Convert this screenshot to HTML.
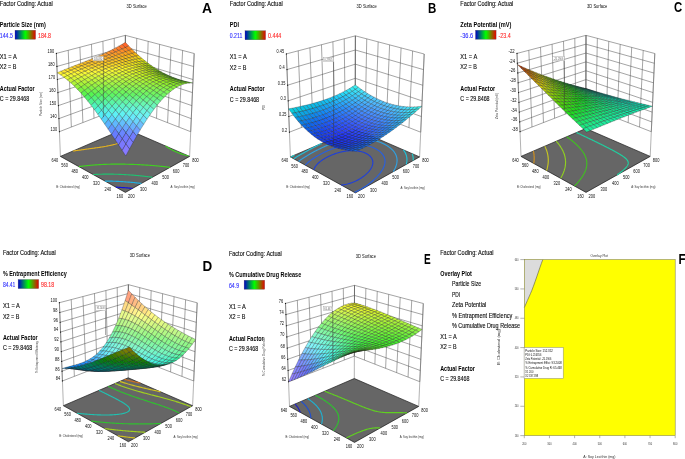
<!DOCTYPE html>
<html><head><meta charset="utf-8"><style>
html,body{margin:0;padding:0;background:#fff;width:685px;height:459px;overflow:hidden}
svg{display:block;font-family:"Liberation Sans",sans-serif;will-change:transform}
text{-webkit-font-smoothing:antialiased}
</style></head><body>
<svg xmlns="http://www.w3.org/2000/svg" width="685" height="459" viewBox="0 0 685 459" font-family="Liberation Sans, sans-serif">
<text x="-0.2" y="5.7" font-size="6.4" fill="#0c0c0c" stroke="#0c0c0c" stroke-width="0.12" textLength="52.9" lengthAdjust="spacingAndGlyphs">Factor Coding: Actual</text>
<text x="-0.2" y="26.8" font-size="6.4" font-weight="bold" textLength="46" lengthAdjust="spacingAndGlyphs">Particle Size (nm)</text>
<linearGradient id="cbA"><stop offset="0" stop-color="#0000c8"/><stop offset="0.5" stop-color="#00ff00"/><stop offset="1" stop-color="#e80000"/></linearGradient>
<rect x="15" y="30.2" width="20.6" height="9.1" fill="url(#cbA)" stroke="#555" stroke-width="0.3"/>
<text x="-0.2" y="37.6" font-size="6.4" fill="#3030ff" stroke="#3030ff" stroke-width="0.12" textLength="13" lengthAdjust="spacingAndGlyphs">144.5</text>
<text x="38" y="37.6" font-size="6.4" fill="#ff2a2a" stroke="#ff2a2a" stroke-width="0.12" textLength="13" lengthAdjust="spacingAndGlyphs">184.8</text>
<text x="-0.2" y="58.9" font-size="6.4" fill="#0c0c0c" stroke="#0c0c0c" stroke-width="0.12" textLength="16.9" lengthAdjust="spacingAndGlyphs">X1 = A</text>
<text x="-0.2" y="69.3" font-size="6.4" fill="#0c0c0c" stroke="#0c0c0c" stroke-width="0.12" textLength="16.5" lengthAdjust="spacingAndGlyphs">X2 = B</text>
<text x="-0.2" y="90.9" font-size="6.4" font-weight="bold" textLength="34.8" lengthAdjust="spacingAndGlyphs">Actual Factor</text>
<text x="-0.2" y="101" font-size="6.4" fill="#0c0c0c" stroke="#0c0c0c" stroke-width="0.12" textLength="29.3" lengthAdjust="spacingAndGlyphs">C = 29.8468</text>
<text x="126.6" y="7.9" font-size="4.6" fill="#0c0c0c" textLength="20.2" lengthAdjust="spacingAndGlyphs">3D Surface</text>
<path d="M59.44,131.67L56.4,53.4M190.7,131.69L194.2,53.5M71.37,127.01L68.22,50.31M178.96,127.07L182.62,50.45M82.88,122.53L79.91,47.25M167.57,122.61L171.09,47.4M94,118.21L91.47,44.23M156.52,118.29L159.6,44.37M104.76,114.04L102.9,41.23M145.8,114.11L148.16,41.35M115.17,110.02L114.21,38.28M135.38,110.06L136.76,38.35M125.25,106.13L125.4,35.35M125.25,106.13L125.4,35.35M59.44,131.67L125.25,106.13L190.7,131.69M58.93,118.62L125.27,94.34L191.29,118.66M58.43,105.58L125.3,82.54L191.87,105.63M57.92,92.53L125.32,70.74L192.45,92.6M57.41,79.49L125.35,58.94L193.03,79.56M56.91,66.44L125.37,47.15L193.62,66.53M56.4,53.4L125.4,35.35L194.2,53.5" stroke="#4a4a4a" stroke-width="0.5" fill="none"/>
<path d="M60.4,156.4L56.4,53.4M125.2,128.5L125.4,35.35M189.6,156.4L194.2,53.5" stroke="#666" stroke-width="0.5" fill="none"/>
<circle cx="59.44" cy="131.67" r="0.6" fill="#111"/>
<text x="57.14" y="131.07" font-size="5.0" text-anchor="end" fill="#0c0c0c" textLength="6.6" lengthAdjust="spacingAndGlyphs">130</text>
<circle cx="58.93" cy="118.62" r="0.6" fill="#111"/>
<text x="56.63" y="118.02" font-size="5.0" text-anchor="end" fill="#0c0c0c" textLength="6.6" lengthAdjust="spacingAndGlyphs">140</text>
<circle cx="58.43" cy="105.58" r="0.6" fill="#111"/>
<text x="56.13" y="104.98" font-size="5.0" text-anchor="end" fill="#0c0c0c" textLength="6.6" lengthAdjust="spacingAndGlyphs">150</text>
<circle cx="57.92" cy="92.53" r="0.6" fill="#111"/>
<text x="55.62" y="91.93" font-size="5.0" text-anchor="end" fill="#0c0c0c" textLength="6.6" lengthAdjust="spacingAndGlyphs">160</text>
<circle cx="57.41" cy="79.49" r="0.6" fill="#111"/>
<text x="55.11" y="78.89" font-size="5.0" text-anchor="end" fill="#0c0c0c" textLength="6.6" lengthAdjust="spacingAndGlyphs">170</text>
<circle cx="56.91" cy="66.44" r="0.6" fill="#111"/>
<text x="54.61" y="65.84" font-size="5.0" text-anchor="end" fill="#0c0c0c" textLength="6.6" lengthAdjust="spacingAndGlyphs">180</text>
<circle cx="56.4" cy="53.4" r="0.6" fill="#111"/>
<text x="54.1" y="52.8" font-size="5.0" text-anchor="end" fill="#0c0c0c" textLength="6.6" lengthAdjust="spacingAndGlyphs">190</text>
<text x="41.8" y="104" font-size="3.3" text-anchor="middle" fill="#444" textLength="24" lengthAdjust="spacingAndGlyphs" transform="rotate(-90 41.8 104)">Particle Size (nm)</text>
<polygon points="125.4,192.4 189.6,156.4 125.2,128.5 60.4,156.4" fill="#666" stroke="#1a1a1a" stroke-width="0.7" stroke-linejoin="round"/>
<polyline points="136.8,133.53 136.26,133.85 136.02,134 135.72,134.18 135.18,134.51 134.63,134.85 134.09,135.18 133.54,135.51 132.99,135.85 132.44,136.18 132.27,136.29 131.89,136.52 131.34,136.86 130.78,137.2 130.22,137.53 129.65,137.87 129.07,138.21 128.5,138.54 127.98,138.84 127.91,138.88 127.32,139.21 126.72,139.54 126.11,139.87 125.48,140.2 124.85,140.52 124.21,140.84 123.55,141.15 122.88,141.46 122.19,141.76 121.49,142.06 120.77,142.36 120.03,142.64 119.28,142.92 118.51,143.19 118.05,143.35 117.72,143.46 116.91,143.72 116.08,143.97 115.24,144.22 114.37,144.45 114.07,144.53 113.49,144.68 112.6,144.91 111.68,145.12 111.1,145.26 110.75,145.33 109.8,145.54 108.84,145.74 108.51,145.8 107.87,145.93 106.88,146.11 106.13,146.25 105.87,146.3 104.86,146.47 103.87,146.64 103.84,146.65 102.8,146.82 101.76,146.98 101.7,146.99 100.71,147.15 99.65,147.31 99.58,147.32 98.58,147.47 97.51,147.62 97.5,147.63 96.44,147.78 95.45,147.92 95.36,147.93 94.27,148.08 93.41,148.2 93.18,148.24 92.09,148.39 91.37,148.49 90.99,148.54 89.9,148.69 89.34,148.77 88.8,148.84 87.7,148.99 87.3,149.05 86.6,149.14 85.5,149.29 85.25,149.33 84.39,149.45 83.29,149.6 83.2,149.61 82.18,149.75 81.13,149.9 81.07,149.91 79.96,150.06 79.06,150.19 78.85,150.21 77.74,150.37 76.99,150.47 76.63,150.52 75.51,150.67 74.92,150.76 74.38,150.83 73.26,150.98 72.87,151.03" fill="none" stroke="#e0b020" stroke-width="1.15"/>
<polyline points="170.03,167.37 168.84,167.21 168.28,167.13 167.65,167.04 166.44,166.89 166.22,166.86 165.22,166.74 164.22,166.62 164,166.6 162.77,166.46 162.26,166.4 161.53,166.32 160.35,166.2 160.27,166.2 159.02,166.07 158.48,166.02 157.76,165.95 156.64,165.85 156.48,165.84 155.21,165.73 154.82,165.7 153.93,165.62 153.03,165.55 152.64,165.52 151.34,165.42 151.26,165.41 150.04,165.32 149.51,165.29 148.73,165.23 147.78,165.17 147.42,165.14 146.1,165.06 146.07,165.06 144.77,164.98 144.37,164.95 143.45,164.9 142.69,164.85 142.11,164.82 141.02,164.76 140.77,164.75 139.42,164.68 139.36,164.68 138.07,164.62 137.72,164.6 136.71,164.55 136.09,164.53 135.34,164.5 134.47,164.46 133.97,164.44 132.87,164.4 132.59,164.39 131.28,164.35 131.2,164.34 129.81,164.3 129.7,164.3 128.41,164.26 128.13,164.26 127,164.23 126.57,164.22 125.58,164.2 125.03,164.19 124.15,164.17 123.49,164.16 122.71,164.15 121.97,164.14 121.26,164.13 120.46,164.13 119.8,164.12 118.97,164.12 118.33,164.12 117.48,164.12 116.85,164.12 116.01,164.12 115.36,164.13 114.54,164.14 113.85,164.14 113.09,164.15 112.32,164.16 111.65,164.17 110.79,164.19 110.22,164.2 109.23,164.23 108.8,164.24 107.66,164.27 107.4,164.28 106.06,164.32 106,164.33 104.61,164.38 104.45,164.38 103.24,164.44 102.82,164.46 101.87,164.5 101.17,164.54 100.52,164.57 99.49,164.63 99.17,164.65 97.84,164.73 97.78,164.73 96.51,164.82 96.05,164.85 95.2,164.91 94.29,164.98 93.89,165.01 92.59,165.12 92.5,165.12 91.3,165.22 90.67,165.28 90.02,165.34 88.81,165.46 88.75,165.46 87.48,165.59 86.91,165.64 86.22,165.72 84.97,165.85 84.97,165.85 83.73,165.99 82.99,166.08 82.49,166.14 81.26,166.29 80.96,166.33 80.04,166.44 78.89,166.59 78.82,166.6" fill="none" stroke="#40d020" stroke-width="1.15"/>
<polyline points="188.53,155.94 187.86,155.78 186.88,155.54 185.93,155.28 185,155.02 184.99,155.02 184.06,154.75 183.15,154.47 182.26,154.18 181.39,153.89 180.54,153.59 179.69,153.28 178.9,152.98 178.87,152.97 178.05,152.65 177.26,152.33 176.47,152 175.7,151.66 174.94,151.32 174.2,150.98 173.47,150.62 173.32,150.55 172.75,150.27 172.04,149.91 171.34,149.55 170.66,149.18 169.99,148.81 169.34,148.43 168.69,148.05 168.06,147.67 168.06,147.66 167.44,147.28 166.83,146.88 166.24,146.49 165.66,146.08 165.46,145.94" fill="none" stroke="#40d020" stroke-width="1.15"/>
<polyline points="152.45,177.23 151.19,177.07 150.6,177 149.93,176.91 148.66,176.76 148.54,176.74 147.39,176.6 146.51,176.5 146.12,176.46 144.84,176.31 144.51,176.28 143.56,176.17 142.54,176.06 142.26,176.03 140.97,175.9 140.59,175.86 139.67,175.77 138.67,175.67 138.36,175.64 137.04,175.52 136.78,175.5 135.73,175.4 134.91,175.33 134.4,175.29 133.06,175.18 133.06,175.18 131.72,175.07 131.24,175.04 130.37,174.97 129.44,174.91 129.02,174.88 127.67,174.79 127.65,174.79 126.28,174.7 125.91,174.68 124.89,174.62 124.18,174.58 123.5,174.54 122.46,174.49 122.1,174.47 120.77,174.41 120.68,174.41 119.26,174.35 119.1,174.34 117.82,174.3 117.44,174.29 116.37,174.25 115.8,174.24 114.91,174.21 114.19,174.2 113.44,174.18 112.58,174.17 111.95,174.16 111,174.15 110.44,174.14 109.43,174.13 108.92,174.13 107.88,174.13 107.39,174.13 106.35,174.14 105.83,174.14 104.83,174.15 104.26,174.16 103.32,174.17 102.67,174.18 101.83,174.2 101.05,174.22 100.35,174.24 99.42,174.27 98.89,174.29 97.76,174.33 97.44,174.34 96.07,174.4 96,174.4 94.57,174.47 94.36,174.48 93.16,174.54" fill="none" stroke="#20c070" stroke-width="1.15"/>
<polyline points="141.47,183.39 140.96,183.33 140.16,183.24 138.93,183.1 138.84,183.09 137.51,182.95 136.93,182.89 136.18,182.81 134.96,182.69 134.85,182.67 133.5,182.54 133.01,182.5 132.15,182.42 131.08,182.32 130.8,182.3 129.43,182.18 129.19,182.16 128.06,182.07 127.31,182.01 126.68,181.96 125.46,181.87 125.29,181.86 123.9,181.76 123.64,181.74 122.49,181.67 121.84,181.63 121.07,181.58 120.06,181.52 119.65,181.5 118.3,181.43 118.21,181.43 116.76,181.36 116.56,181.35 115.3,181.3 114.85,181.28 113.83,181.24 113.15,181.22 112.34,181.19 111.47,181.17 110.84,181.15 109.82,181.13 109.33,181.12 108.18,181.1 107.8,181.1 106.55,181.08 106.25,181.08 104.95,181.07" fill="none" stroke="#20b0e0" stroke-width="1.15"/>
<polyline points="132.47,188.44 131.1,188.3 130.99,188.29 129.73,188.17 129.01,188.1 128.35,188.04 127.06,187.92 126.96,187.91 125.57,187.79 125.14,187.76 124.17,187.68 123.24,187.61 122.75,187.57 121.36,187.47 121.33,187.47 119.9,187.37 119.51,187.34 118.46,187.28 117.69,187.23 117.01,187.19 115.88,187.13" fill="none" stroke="#1010e0" stroke-width="1.15"/>
<text x="119.9" y="197.8" font-size="5.2" text-anchor="middle" fill="#0c0c0c" textLength="6.6" lengthAdjust="spacingAndGlyphs">160</text>
<text x="131.3" y="197.8" font-size="5.2" text-anchor="middle" fill="#0c0c0c" textLength="6.6" lengthAdjust="spacingAndGlyphs">200</text>
<text x="107.83" y="191.12" font-size="5.2" text-anchor="middle" fill="#0c0c0c" textLength="6.6" lengthAdjust="spacingAndGlyphs">240</text>
<text x="143.31" y="191.07" font-size="5.2" text-anchor="middle" fill="#0c0c0c" textLength="6.6" lengthAdjust="spacingAndGlyphs">300</text>
<text x="96.3" y="184.73" font-size="5.2" text-anchor="middle" fill="#0c0c0c" textLength="6.6" lengthAdjust="spacingAndGlyphs">320</text>
<text x="154.74" y="184.66" font-size="5.2" text-anchor="middle" fill="#0c0c0c" textLength="6.6" lengthAdjust="spacingAndGlyphs">400</text>
<text x="85.27" y="178.62" font-size="5.2" text-anchor="middle" fill="#0c0c0c" textLength="6.6" lengthAdjust="spacingAndGlyphs">400</text>
<text x="165.64" y="178.54" font-size="5.2" text-anchor="middle" fill="#0c0c0c" textLength="6.6" lengthAdjust="spacingAndGlyphs">500</text>
<text x="74.72" y="172.78" font-size="5.2" text-anchor="middle" fill="#0c0c0c" textLength="6.6" lengthAdjust="spacingAndGlyphs">480</text>
<text x="176.05" y="172.71" font-size="5.2" text-anchor="middle" fill="#0c0c0c" textLength="6.6" lengthAdjust="spacingAndGlyphs">600</text>
<text x="64.6" y="167.17" font-size="5.2" text-anchor="middle" fill="#0c0c0c" textLength="6.6" lengthAdjust="spacingAndGlyphs">560</text>
<text x="185.99" y="167.13" font-size="5.2" text-anchor="middle" fill="#0c0c0c" textLength="6.6" lengthAdjust="spacingAndGlyphs">700</text>
<text x="54.9" y="161.8" font-size="5.2" text-anchor="middle" fill="#0c0c0c" textLength="6.6" lengthAdjust="spacingAndGlyphs">640</text>
<text x="195.5" y="161.8" font-size="5.2" text-anchor="middle" fill="#0c0c0c" textLength="6.6" lengthAdjust="spacingAndGlyphs">800</text>
<text x="68.2" y="187.8" font-size="3.3" text-anchor="middle" fill="#333" textLength="23.7" lengthAdjust="spacingAndGlyphs">B: Cholesterol (mg)</text>
<text x="182.7" y="188.3" font-size="3.3" text-anchor="middle" fill="#333" textLength="24.3" lengthAdjust="spacingAndGlyphs">A: Soy lecithin (mg)</text>
<polygon points="125.43,47.5 128.73,45.9 125.38,42.34 122.08,44.3" fill="#ff6529" stroke="#222" stroke-width="0.4" stroke-opacity="0.7"/>
<polygon points="122.13,49.05 125.43,47.5 122.08,44.3 118.77,46.17" fill="#ff712b" stroke="#222" stroke-width="0.4" stroke-opacity="0.7"/>
<polygon points="128.77,50.54 132.05,49.27 128.73,45.9 125.43,47.5" fill="#ff7f21" stroke="#222" stroke-width="0.4" stroke-opacity="0.7"/>
<polygon points="118.82,50.56 122.13,49.05 118.77,46.17 115.46,47.95" fill="#ff7c2c" stroke="#222" stroke-width="0.4" stroke-opacity="0.7"/>
<polygon points="125.48,51.81 128.77,50.54 125.43,47.5 122.13,49.05" fill="#ff8723" stroke="#222" stroke-width="0.4" stroke-opacity="0.7"/>
<polygon points="132.1,53.44 135.36,52.47 132.05,49.27 128.77,50.54" fill="#fb9b1a" stroke="#222" stroke-width="0.4" stroke-opacity="0.7"/>
<polygon points="115.51,52.04 118.82,50.56 115.46,47.95 112.13,49.67" fill="#ff852d" stroke="#222" stroke-width="0.4" stroke-opacity="0.7"/>
<polygon points="122.18,53.08 125.48,51.81 122.13,49.05 118.82,50.56" fill="#ff8e25" stroke="#222" stroke-width="0.4" stroke-opacity="0.7"/>
<polygon points="128.82,54.45 132.1,53.44 128.77,50.54 125.48,51.81" fill="#fda01c" stroke="#222" stroke-width="0.4" stroke-opacity="0.7"/>
<polygon points="135.42,56.2 138.67,55.5 135.36,52.47 132.1,53.44" fill="#f5b513" stroke="#222" stroke-width="0.4" stroke-opacity="0.7"/>
<polygon points="112.18,53.49 115.51,52.04 112.13,49.67 108.8,51.31" fill="#ff8d2d" stroke="#222" stroke-width="0.4" stroke-opacity="0.7"/>
<polygon points="118.87,54.34 122.18,53.08 118.82,50.56 115.51,52.04" fill="#ff9626" stroke="#222" stroke-width="0.4" stroke-opacity="0.7"/>
<polygon points="125.53,55.49 128.82,54.45 125.48,51.81 122.18,53.08" fill="#ffa51e" stroke="#222" stroke-width="0.4" stroke-opacity="0.7"/>
<polygon points="132.16,56.97 135.42,56.2 132.1,53.44 128.82,54.45" fill="#f8b616" stroke="#222" stroke-width="0.4" stroke-opacity="0.7"/>
<polygon points="138.74,58.81 141.96,58.36 138.67,55.5 135.42,56.2" fill="#efd013" stroke="#222" stroke-width="0.4" stroke-opacity="0.7"/>
<polygon points="108.84,54.91 112.18,53.49 108.8,51.31 105.46,52.9" fill="#ff952c" stroke="#222" stroke-width="0.4" stroke-opacity="0.7"/>
<polygon points="115.54,55.61 118.87,54.34 115.51,52.04 112.18,53.49" fill="#ff9c26" stroke="#222" stroke-width="0.4" stroke-opacity="0.7"/>
<polygon points="122.23,56.56 125.53,55.49 122.18,53.08 118.87,54.34" fill="#ffa91f" stroke="#222" stroke-width="0.4" stroke-opacity="0.7"/>
<polygon points="128.88,57.81 132.16,56.97 128.82,54.45 125.53,55.49" fill="#fab718" stroke="#222" stroke-width="0.4" stroke-opacity="0.7"/>
<polygon points="135.49,59.37 138.74,58.81 135.42,56.2 132.16,56.97" fill="#f2cc14" stroke="#222" stroke-width="0.4" stroke-opacity="0.7"/>
<polygon points="142.06,61.29 145.26,61.06 141.96,58.36 138.74,58.81" fill="#e6e413" stroke="#222" stroke-width="0.4" stroke-opacity="0.7"/>
<polygon points="105.48,56.31 108.84,54.91 105.46,52.9 102.11,54.43" fill="#ff9c2b" stroke="#222" stroke-width="0.4" stroke-opacity="0.7"/>
<polygon points="112.21,56.89 115.54,55.61 112.18,53.49 108.84,54.91" fill="#ffa327" stroke="#222" stroke-width="0.4" stroke-opacity="0.7"/>
<polygon points="118.91,57.68 122.23,56.56 118.87,54.34 115.54,55.61" fill="#ffad21" stroke="#222" stroke-width="0.4" stroke-opacity="0.7"/>
<polygon points="125.58,58.71 128.88,57.81 125.53,55.49 122.23,56.56" fill="#fcb91a" stroke="#222" stroke-width="0.4" stroke-opacity="0.7"/>
<polygon points="132.22,60.03 135.49,59.37 132.16,56.97 128.88,57.81" fill="#f5cb16" stroke="#222" stroke-width="0.4" stroke-opacity="0.7"/>
<polygon points="138.83,61.66 142.06,61.29 138.74,58.81 135.49,59.37" fill="#ede215" stroke="#222" stroke-width="0.4" stroke-opacity="0.7"/>
<polygon points="145.38,63.63 148.56,63.59 145.26,61.06 142.06,61.29" fill="#c4dd0e" stroke="#222" stroke-width="0.4" stroke-opacity="0.7"/>
<polygon points="102.12,57.69 105.48,56.31 102.11,54.43 98.74,55.92" fill="#ffa32a" stroke="#222" stroke-width="0.4" stroke-opacity="0.7"/>
<polygon points="108.86,58.17 112.21,56.89 108.84,54.91 105.48,56.31" fill="#ffa927" stroke="#222" stroke-width="0.4" stroke-opacity="0.7"/>
<polygon points="115.57,58.83 118.91,57.68 115.54,55.61 112.21,56.89" fill="#ffb122" stroke="#222" stroke-width="0.4" stroke-opacity="0.7"/>
<polygon points="122.27,59.69 125.58,58.71 122.23,56.56 118.91,57.68" fill="#fdbc1c" stroke="#222" stroke-width="0.4" stroke-opacity="0.7"/>
<polygon points="128.94,60.79 132.22,60.03 128.88,57.81 125.58,58.71" fill="#f8ca18" stroke="#222" stroke-width="0.4" stroke-opacity="0.7"/>
<polygon points="135.57,62.16 138.83,61.66 135.49,59.37 132.22,60.03" fill="#f1dd16" stroke="#222" stroke-width="0.4" stroke-opacity="0.7"/>
<polygon points="142.16,63.84 145.38,63.63 142.06,61.29 138.83,61.66" fill="#d7e311" stroke="#222" stroke-width="0.4" stroke-opacity="0.7"/>
<polygon points="148.71,65.83 151.87,65.96 148.56,63.59 145.38,63.63" fill="#a7d509" stroke="#222" stroke-width="0.4" stroke-opacity="0.7"/>
<polygon points="98.74,59.07 102.12,57.69 98.74,55.92 95.36,57.37" fill="#ffaa2a" stroke="#222" stroke-width="0.4" stroke-opacity="0.7"/>
<polygon points="105.49,59.47 108.86,58.17 105.48,56.31 102.12,57.69" fill="#ffae27" stroke="#222" stroke-width="0.4" stroke-opacity="0.7"/>
<polygon points="112.23,60.02 115.57,58.83 112.21,56.89 108.86,58.17" fill="#ffb523" stroke="#222" stroke-width="0.4" stroke-opacity="0.7"/>
<polygon points="118.94,60.74 122.27,59.69 118.91,57.68 115.57,58.83" fill="#ffbf1e" stroke="#222" stroke-width="0.4" stroke-opacity="0.7"/>
<polygon points="125.63,61.66 128.94,60.79 125.58,58.71 122.27,59.69" fill="#facb1a" stroke="#222" stroke-width="0.4" stroke-opacity="0.7"/>
<polygon points="132.29,62.81 135.57,62.16 132.22,60.03 128.94,60.79" fill="#f4db18" stroke="#222" stroke-width="0.4" stroke-opacity="0.7"/>
<polygon points="138.92,64.21 142.16,63.84 138.83,61.66 135.57,62.16" fill="#e7e815" stroke="#222" stroke-width="0.4" stroke-opacity="0.7"/>
<polygon points="145.5,65.91 148.71,65.83 145.38,63.63 142.16,63.84" fill="#bddc0d" stroke="#222" stroke-width="0.4" stroke-opacity="0.7"/>
<polygon points="152.04,67.91 155.19,68.18 151.87,65.96 148.71,65.83" fill="#8ecf06" stroke="#222" stroke-width="0.4" stroke-opacity="0.7"/>
<polygon points="95.34,60.43 98.74,59.07 95.36,57.37 91.97,58.78" fill="#ffb029" stroke="#222" stroke-width="0.4" stroke-opacity="0.7"/>
<polygon points="102.11,60.79 105.49,59.47 102.12,57.69 98.74,59.07" fill="#ffb427" stroke="#222" stroke-width="0.4" stroke-opacity="0.7"/>
<polygon points="108.87,61.26 112.23,60.02 108.86,58.17 105.49,59.47" fill="#ffba24" stroke="#222" stroke-width="0.4" stroke-opacity="0.7"/>
<polygon points="115.6,61.86 118.94,60.74 115.57,58.83 112.23,60.02" fill="#ffc220" stroke="#222" stroke-width="0.4" stroke-opacity="0.7"/>
<polygon points="122.31,62.63 125.63,61.66 122.27,59.69 118.94,60.74" fill="#fdcd1d" stroke="#222" stroke-width="0.4" stroke-opacity="0.7"/>
<polygon points="129,63.58 132.29,62.81 128.94,60.79 125.63,61.66" fill="#f8da1a" stroke="#222" stroke-width="0.4" stroke-opacity="0.7"/>
<polygon points="135.65,64.75 138.92,64.21 135.57,62.16 132.29,62.81" fill="#f1ea18" stroke="#222" stroke-width="0.4" stroke-opacity="0.7"/>
<polygon points="142.27,66.18 145.5,65.91 142.16,63.84 138.92,64.21" fill="#d0e311" stroke="#222" stroke-width="0.4" stroke-opacity="0.7"/>
<polygon points="148.86,67.87 152.04,67.91 148.71,65.83 145.5,65.91" fill="#a7d70a" stroke="#222" stroke-width="0.4" stroke-opacity="0.7"/>
<polygon points="155.39,69.86 158.52,70.25 155.19,68.18 152.04,67.91" fill="#79ca04" stroke="#222" stroke-width="0.4" stroke-opacity="0.7"/>
<polygon points="91.94,61.79 95.34,60.43 91.97,58.78 88.56,60.17" fill="#ffb528" stroke="#222" stroke-width="0.4" stroke-opacity="0.7"/>
<polygon points="98.72,62.12 102.11,60.79 98.74,59.07 95.34,60.43" fill="#ffb927" stroke="#222" stroke-width="0.4" stroke-opacity="0.7"/>
<polygon points="105.49,62.53 108.87,61.26 105.49,59.47 102.11,60.79" fill="#ffbf25" stroke="#222" stroke-width="0.4" stroke-opacity="0.7"/>
<polygon points="112.24,63.05 115.6,61.86 112.23,60.02 108.87,61.26" fill="#ffc622" stroke="#222" stroke-width="0.4" stroke-opacity="0.7"/>
<polygon points="118.97,63.69 122.31,62.63 118.94,60.74 115.6,61.86" fill="#ffd020" stroke="#222" stroke-width="0.4" stroke-opacity="0.7"/>
<polygon points="125.68,64.48 129,63.58 125.63,61.66 122.31,62.63" fill="#fbdb1d" stroke="#222" stroke-width="0.4" stroke-opacity="0.7"/>
<polygon points="132.37,65.45 135.65,64.75 132.29,62.81 129,63.58" fill="#f5e81b" stroke="#222" stroke-width="0.4" stroke-opacity="0.7"/>
<polygon points="139.02,66.64 142.27,66.18 138.92,64.21 135.65,64.75" fill="#e0e916" stroke="#222" stroke-width="0.4" stroke-opacity="0.7"/>
<polygon points="145.64,68.06 148.86,67.87 145.5,65.91 142.27,66.18" fill="#bcdf0e" stroke="#222" stroke-width="0.4" stroke-opacity="0.7"/>
<polygon points="152.22,69.73 155.39,69.86 152.04,67.91 148.86,67.87" fill="#93d308" stroke="#222" stroke-width="0.4" stroke-opacity="0.7"/>
<polygon points="158.75,71.69 161.87,72.16 158.52,70.25 155.39,69.86" fill="#68c603" stroke="#222" stroke-width="0.4" stroke-opacity="0.7"/>
<polygon points="88.51,63.16 91.94,61.79 88.56,60.17 85.14,61.54" fill="#ffbb27" stroke="#222" stroke-width="0.4" stroke-opacity="0.7"/>
<polygon points="95.32,63.47 98.72,62.12 95.34,60.43 91.94,61.79" fill="#ffbf27" stroke="#222" stroke-width="0.4" stroke-opacity="0.7"/>
<polygon points="102.1,63.85 105.49,62.53 102.11,60.79 98.72,62.12" fill="#ffc426" stroke="#222" stroke-width="0.4" stroke-opacity="0.7"/>
<polygon points="108.87,64.31 112.24,63.05 108.87,61.26 105.49,62.53" fill="#ffca24" stroke="#222" stroke-width="0.4" stroke-opacity="0.7"/>
<polygon points="115.62,64.85 118.97,63.69 115.6,61.86 112.24,63.05" fill="#ffd323" stroke="#222" stroke-width="0.4" stroke-opacity="0.7"/>
<polygon points="122.35,65.51 125.68,64.48 122.31,62.63 118.97,63.69" fill="#fdde20" stroke="#222" stroke-width="0.4" stroke-opacity="0.7"/>
<polygon points="129.06,66.31 132.37,65.45 129,63.58 125.68,64.48" fill="#f9e91e" stroke="#222" stroke-width="0.4" stroke-opacity="0.7"/>
<polygon points="135.74,67.29 139.02,66.64 135.65,64.75 132.37,65.45" fill="#edef1a" stroke="#222" stroke-width="0.4" stroke-opacity="0.7"/>
<polygon points="142.39,68.46 145.64,68.06 142.27,66.18 139.02,66.64" fill="#cee613" stroke="#222" stroke-width="0.4" stroke-opacity="0.7"/>
<polygon points="149.01,69.86 152.22,69.73 148.86,67.87 145.64,68.06" fill="#abdb0c" stroke="#222" stroke-width="0.4" stroke-opacity="0.7"/>
<polygon points="155.59,71.5 158.75,71.69 155.39,69.86 152.22,69.73" fill="#83d006" stroke="#222" stroke-width="0.4" stroke-opacity="0.7"/>
<polygon points="162.13,73.39 165.24,73.92 161.87,72.16 158.75,71.69" fill="#5bc405" stroke="#222" stroke-width="0.4" stroke-opacity="0.7"/>
<polygon points="85.07,64.53 88.51,63.16 85.14,61.54 81.7,62.9" fill="#ffc027" stroke="#222" stroke-width="0.4" stroke-opacity="0.7"/>
<polygon points="91.9,64.85 95.32,63.47 91.94,61.79 88.51,63.16" fill="#ffc427" stroke="#222" stroke-width="0.4" stroke-opacity="0.7"/>
<polygon points="98.7,65.22 102.1,63.85 98.72,62.12 95.32,63.47" fill="#ffc927" stroke="#222" stroke-width="0.4" stroke-opacity="0.7"/>
<polygon points="105.49,65.64 108.87,64.31 105.49,62.53 102.1,63.85" fill="#ffd027" stroke="#222" stroke-width="0.4" stroke-opacity="0.7"/>
<polygon points="112.25,66.11 115.62,64.85 112.24,63.05 108.87,64.31" fill="#ffd826" stroke="#222" stroke-width="0.4" stroke-opacity="0.7"/>
<polygon points="119,66.67 122.35,65.51 118.97,63.69 115.62,64.85" fill="#ffe124" stroke="#222" stroke-width="0.4" stroke-opacity="0.7"/>
<polygon points="125.73,67.33 129.06,66.31 125.68,64.48 122.35,65.51" fill="#fdeb22" stroke="#222" stroke-width="0.4" stroke-opacity="0.7"/>
<polygon points="132.44,68.12 135.74,67.29 132.37,65.45 129.06,66.31" fill="#f6f41f" stroke="#222" stroke-width="0.4" stroke-opacity="0.7"/>
<polygon points="139.12,69.08 142.39,68.46 139.02,66.64 135.74,67.29" fill="#ddec18" stroke="#222" stroke-width="0.4" stroke-opacity="0.7"/>
<polygon points="145.77,70.23 149.01,69.86 145.64,68.06 142.39,68.46" fill="#bee311" stroke="#222" stroke-width="0.4" stroke-opacity="0.7"/>
<polygon points="152.39,71.58 155.59,71.5 152.22,69.73 149.01,69.86" fill="#9cd90a" stroke="#222" stroke-width="0.4" stroke-opacity="0.7"/>
<polygon points="158.98,73.16 162.13,73.39 158.75,71.69 155.59,71.5" fill="#76cd04" stroke="#222" stroke-width="0.4" stroke-opacity="0.7"/>
<polygon points="165.52,74.97 168.62,75.54 165.24,73.92 162.13,73.39" fill="#51c306" stroke="#222" stroke-width="0.4" stroke-opacity="0.7"/>
<polygon points="81.62,65.92 85.07,64.53 81.7,62.9 78.24,64.26" fill="#ffc627" stroke="#222" stroke-width="0.4" stroke-opacity="0.7"/>
<polygon points="88.46,66.26 91.9,64.85 88.51,63.16 85.07,64.53" fill="#ffca28" stroke="#222" stroke-width="0.4" stroke-opacity="0.7"/>
<polygon points="95.28,66.64 98.7,65.22 95.32,63.47 91.9,64.85" fill="#ffd029" stroke="#222" stroke-width="0.4" stroke-opacity="0.7"/>
<polygon points="102.08,67.03 105.49,65.64 102.1,63.85 98.7,65.22" fill="#ffd629" stroke="#222" stroke-width="0.4" stroke-opacity="0.7"/>
<polygon points="108.87,67.46 112.25,66.11 108.87,64.31 105.49,65.64" fill="#ffdd29" stroke="#222" stroke-width="0.4" stroke-opacity="0.7"/>
<polygon points="115.64,67.94 119,66.67 115.62,64.85 112.25,66.11" fill="#ffe528" stroke="#222" stroke-width="0.4" stroke-opacity="0.7"/>
<polygon points="122.39,68.49 125.73,67.33 122.35,65.51 119,66.67" fill="#ffef26" stroke="#222" stroke-width="0.4" stroke-opacity="0.7"/>
<polygon points="129.12,69.14 132.44,68.12 129.06,66.31 125.73,67.33" fill="#fbf824" stroke="#222" stroke-width="0.4" stroke-opacity="0.7"/>
<polygon points="135.82,69.92 139.12,69.08 135.74,67.29 132.44,68.12" fill="#e7f21d" stroke="#222" stroke-width="0.4" stroke-opacity="0.7"/>
<polygon points="142.51,70.84 145.77,70.23 142.39,68.46 139.12,69.08" fill="#ceea16" stroke="#222" stroke-width="0.4" stroke-opacity="0.7"/>
<polygon points="149.16,71.94 152.39,71.58 149.01,69.86 145.77,70.23" fill="#b1e10f" stroke="#222" stroke-width="0.4" stroke-opacity="0.7"/>
<polygon points="155.79,73.24 158.98,73.16 155.59,71.5 152.39,71.58" fill="#90d709" stroke="#222" stroke-width="0.4" stroke-opacity="0.7"/>
<polygon points="162.38,74.73 165.52,74.97 162.13,73.39 158.98,73.16" fill="#6ccc04" stroke="#222" stroke-width="0.4" stroke-opacity="0.7"/>
<polygon points="168.93,76.44 172.02,77.02 168.62,75.54 165.52,74.97" fill="#4ac207" stroke="#222" stroke-width="0.4" stroke-opacity="0.7"/>
<polygon points="78.15,67.32 81.62,65.92 78.24,64.26 74.77,65.62" fill="#ffcb27" stroke="#222" stroke-width="0.4" stroke-opacity="0.7"/>
<polygon points="85.01,67.7 88.46,66.26 85.07,64.53 81.62,65.92" fill="#ffd129" stroke="#222" stroke-width="0.4" stroke-opacity="0.7"/>
<polygon points="91.85,68.1 95.28,66.64 91.9,64.85 88.46,66.26" fill="#ffd72b" stroke="#222" stroke-width="0.4" stroke-opacity="0.7"/>
<polygon points="98.67,68.5 102.08,67.03 98.7,65.22 95.28,66.64" fill="#ffdd2c" stroke="#222" stroke-width="0.4" stroke-opacity="0.7"/>
<polygon points="105.47,68.91 108.87,67.46 105.49,65.64 102.08,67.03" fill="#ffe32c" stroke="#222" stroke-width="0.4" stroke-opacity="0.7"/>
<polygon points="112.26,69.34 115.64,67.94 112.25,66.11 108.87,67.46" fill="#ffeb2c" stroke="#222" stroke-width="0.4" stroke-opacity="0.7"/>
<polygon points="119.03,69.8 122.39,68.49 119,66.67 115.64,67.94" fill="#fff32b" stroke="#222" stroke-width="0.4" stroke-opacity="0.7"/>
<polygon points="125.78,70.33 129.12,69.14 125.73,67.33 122.39,68.49" fill="#fdfa28" stroke="#222" stroke-width="0.4" stroke-opacity="0.7"/>
<polygon points="132.51,70.95 135.82,69.92 132.44,68.12 129.12,69.14" fill="#edf723" stroke="#222" stroke-width="0.4" stroke-opacity="0.7"/>
<polygon points="139.22,71.69 142.51,70.84 139.12,69.08 135.82,69.92" fill="#d9f11c" stroke="#222" stroke-width="0.4" stroke-opacity="0.7"/>
<polygon points="145.9,72.57 149.16,71.94 145.77,70.23 142.51,70.84" fill="#c1e915" stroke="#222" stroke-width="0.4" stroke-opacity="0.7"/>
<polygon points="152.56,73.6 155.79,73.24 152.39,71.58 149.16,71.94" fill="#a5e00e" stroke="#222" stroke-width="0.4" stroke-opacity="0.7"/>
<polygon points="159.19,74.82 162.38,74.73 158.98,73.16 155.79,73.24" fill="#85d608" stroke="#222" stroke-width="0.4" stroke-opacity="0.7"/>
<polygon points="165.79,76.21 168.93,76.44 165.52,74.97 162.38,74.73" fill="#65cb05" stroke="#222" stroke-width="0.4" stroke-opacity="0.7"/>
<polygon points="172.36,77.79 175.44,78.35 172.02,77.02 168.93,76.44" fill="#45c208" stroke="#222" stroke-width="0.4" stroke-opacity="0.7"/>
<polygon points="74.66,68.76 78.15,67.32 74.77,65.62 71.28,67" fill="#ffd229" stroke="#222" stroke-width="0.4" stroke-opacity="0.7"/>
<polygon points="81.54,69.18 85.01,67.7 81.62,65.92 78.15,67.32" fill="#ffd82b" stroke="#222" stroke-width="0.4" stroke-opacity="0.7"/>
<polygon points="88.4,69.61 91.85,68.1 88.46,66.26 85.01,67.7" fill="#ffde2d" stroke="#222" stroke-width="0.4" stroke-opacity="0.7"/>
<polygon points="95.24,70.04 98.67,68.5 95.28,66.64 91.85,68.1" fill="#ffe52f" stroke="#222" stroke-width="0.4" stroke-opacity="0.7"/>
<polygon points="102.06,70.45 105.47,68.91 102.08,67.03 98.67,68.5" fill="#ffeb30" stroke="#222" stroke-width="0.4" stroke-opacity="0.7"/>
<polygon points="108.87,70.85 112.26,69.34 108.87,67.46 105.47,68.91" fill="#fff230" stroke="#222" stroke-width="0.4" stroke-opacity="0.7"/>
<polygon points="115.65,71.26 119.03,69.8 115.64,67.94 112.26,69.34" fill="#fff92f" stroke="#222" stroke-width="0.4" stroke-opacity="0.7"/>
<polygon points="122.42,71.7 125.78,70.33 122.39,68.49 119.03,69.8" fill="#f9fa2c" stroke="#222" stroke-width="0.4" stroke-opacity="0.7"/>
<polygon points="129.18,72.19 132.51,70.95 129.12,69.14 125.78,70.33" fill="#eff928" stroke="#222" stroke-width="0.4" stroke-opacity="0.7"/>
<polygon points="135.91,72.77 139.22,71.69 135.82,69.92 132.51,70.95" fill="#e0f622" stroke="#222" stroke-width="0.4" stroke-opacity="0.7"/>
<polygon points="142.62,73.45 145.9,72.57 142.51,70.84 139.22,71.69" fill="#cdf01c" stroke="#222" stroke-width="0.4" stroke-opacity="0.7"/>
<polygon points="149.31,74.26 152.56,73.6 149.16,71.94 145.9,72.57" fill="#b6e915" stroke="#222" stroke-width="0.4" stroke-opacity="0.7"/>
<polygon points="155.98,75.21 159.19,74.82 155.79,73.24 152.56,73.6" fill="#9be00e" stroke="#222" stroke-width="0.4" stroke-opacity="0.7"/>
<polygon points="162.62,76.33 165.79,76.21 162.38,74.73 159.19,74.82" fill="#7dd607" stroke="#222" stroke-width="0.4" stroke-opacity="0.7"/>
<polygon points="169.23,77.61 172.36,77.79 168.93,76.44 165.79,76.21" fill="#60cc07" stroke="#222" stroke-width="0.4" stroke-opacity="0.7"/>
<polygon points="175.81,79.04 178.89,79.55 175.44,78.35 172.36,77.79" fill="#42c309" stroke="#222" stroke-width="0.4" stroke-opacity="0.7"/>
<polygon points="71.16,70.22 74.66,68.76 71.28,67 67.77,68.39" fill="#ffd82a" stroke="#222" stroke-width="0.4" stroke-opacity="0.7"/>
<polygon points="78.06,70.69 81.54,69.18 78.15,67.32 74.66,68.76" fill="#ffdf2c" stroke="#222" stroke-width="0.4" stroke-opacity="0.7"/>
<polygon points="84.94,71.18 88.4,69.61 85.01,67.7 81.54,69.18" fill="#ffe62f" stroke="#222" stroke-width="0.4" stroke-opacity="0.7"/>
<polygon points="91.8,71.65 95.24,70.04 91.85,68.1 88.4,69.61" fill="#ffed31" stroke="#222" stroke-width="0.4" stroke-opacity="0.7"/>
<polygon points="98.64,72.08 102.06,70.45 98.67,68.5 95.24,70.04" fill="#fff333" stroke="#222" stroke-width="0.4" stroke-opacity="0.7"/>
<polygon points="105.46,72.48 108.87,70.85 105.47,68.91 102.06,70.45" fill="#fffa34" stroke="#222" stroke-width="0.4" stroke-opacity="0.7"/>
<polygon points="112.26,72.86 115.65,71.26 112.26,69.34 108.87,70.85" fill="#f9fa33" stroke="#222" stroke-width="0.4" stroke-opacity="0.7"/>
<polygon points="119.05,73.23 122.42,71.7 119.03,69.8 115.65,71.26" fill="#f2fa30" stroke="#222" stroke-width="0.4" stroke-opacity="0.7"/>
<polygon points="125.83,73.63 129.18,72.19 125.78,70.33 122.42,71.7" fill="#eaf92d" stroke="#222" stroke-width="0.4" stroke-opacity="0.7"/>
<polygon points="132.58,74.07 135.91,72.77 132.51,70.95 129.18,72.19" fill="#e1f828" stroke="#222" stroke-width="0.4" stroke-opacity="0.7"/>
<polygon points="139.32,74.58 142.62,73.45 139.22,71.69 135.91,72.77" fill="#d4f622" stroke="#222" stroke-width="0.4" stroke-opacity="0.7"/>
<polygon points="146.04,75.19 149.31,74.26 145.9,72.57 142.62,73.45" fill="#c2f01c" stroke="#222" stroke-width="0.4" stroke-opacity="0.7"/>
<polygon points="152.73,75.92 155.98,75.21 152.56,73.6 149.31,74.26" fill="#ace915" stroke="#222" stroke-width="0.4" stroke-opacity="0.7"/>
<polygon points="159.41,76.78 162.62,76.33 159.19,74.82 155.98,75.21" fill="#93e00e" stroke="#222" stroke-width="0.4" stroke-opacity="0.7"/>
<polygon points="166.05,77.78 169.23,77.61 165.79,76.21 162.62,76.33" fill="#77d607" stroke="#222" stroke-width="0.4" stroke-opacity="0.7"/>
<polygon points="172.68,78.91 175.81,79.04 172.36,77.79 169.23,77.61" fill="#5dcd08" stroke="#222" stroke-width="0.4" stroke-opacity="0.7"/>
<polygon points="179.27,80.17 182.35,80.61 178.89,79.55 175.81,79.04" fill="#42c409" stroke="#222" stroke-width="0.4" stroke-opacity="0.7"/>
<polygon points="67.64,71.72 71.16,70.22 67.77,68.39 64.25,69.81" fill="#ffdf2c" stroke="#222" stroke-width="0.4" stroke-opacity="0.7"/>
<polygon points="74.56,72.25 78.06,70.69 74.66,68.76 71.16,70.22" fill="#ffe62e" stroke="#222" stroke-width="0.4" stroke-opacity="0.7"/>
<polygon points="81.46,72.8 84.94,71.18 81.54,69.18 78.06,70.69" fill="#ffee31" stroke="#222" stroke-width="0.4" stroke-opacity="0.7"/>
<polygon points="88.33,73.33 91.8,71.65 88.4,69.61 84.94,71.18" fill="#fff634" stroke="#222" stroke-width="0.4" stroke-opacity="0.7"/>
<polygon points="95.19,73.8 98.64,72.08 95.24,70.04 91.8,71.65" fill="#fdfb36" stroke="#222" stroke-width="0.4" stroke-opacity="0.7"/>
<polygon points="102.03,74.23 105.46,72.48 102.06,70.45 98.64,72.08" fill="#f6fa36" stroke="#222" stroke-width="0.4" stroke-opacity="0.7"/>
<polygon points="108.86,74.6 112.26,72.86 108.87,70.85 105.46,72.48" fill="#f0fa36" stroke="#222" stroke-width="0.4" stroke-opacity="0.7"/>
<polygon points="115.67,74.93 119.05,73.23 115.65,71.26 112.26,72.86" fill="#eaf934" stroke="#222" stroke-width="0.4" stroke-opacity="0.7"/>
<polygon points="122.46,75.26 125.83,73.63 122.42,71.7 119.05,73.23" fill="#e3f932" stroke="#222" stroke-width="0.4" stroke-opacity="0.7"/>
<polygon points="129.23,75.59 132.58,74.07 129.18,72.19 125.83,73.63" fill="#dcf82e" stroke="#222" stroke-width="0.4" stroke-opacity="0.7"/>
<polygon points="135.99,75.97 139.32,74.58 135.91,72.77 132.58,74.07" fill="#d3f729" stroke="#222" stroke-width="0.4" stroke-opacity="0.7"/>
<polygon points="142.73,76.41 146.04,75.19 142.62,73.45 139.32,74.58" fill="#c8f623" stroke="#222" stroke-width="0.4" stroke-opacity="0.7"/>
<polygon points="149.46,76.93 152.73,75.92 149.31,74.26 146.04,75.19" fill="#b8f11c" stroke="#222" stroke-width="0.4" stroke-opacity="0.7"/>
<polygon points="156.16,77.56 159.41,76.78 155.98,75.21 152.73,75.92" fill="#a4e915" stroke="#222" stroke-width="0.4" stroke-opacity="0.7"/>
<polygon points="162.85,78.3 166.05,77.78 162.62,76.33 159.41,76.78" fill="#8de10e" stroke="#222" stroke-width="0.4" stroke-opacity="0.7"/>
<polygon points="169.51,79.16 172.68,78.91 169.23,77.61 166.05,77.78" fill="#74d809" stroke="#222" stroke-width="0.4" stroke-opacity="0.7"/>
<polygon points="176.15,80.13 179.27,80.17 175.81,79.04 172.68,78.91" fill="#5ccf09" stroke="#222" stroke-width="0.4" stroke-opacity="0.7"/>
<polygon points="182.76,81.2 185.84,81.54 182.35,80.61 179.27,80.17" fill="#44c609" stroke="#222" stroke-width="0.4" stroke-opacity="0.7"/>
<polygon points="64.1,73.26 67.64,71.72 64.25,69.81 60.71,71.27" fill="#ffe62e" stroke="#222" stroke-width="0.4" stroke-opacity="0.7"/>
<polygon points="71.04,73.86 74.56,72.25 71.16,70.22 67.64,71.72" fill="#ffee30" stroke="#222" stroke-width="0.4" stroke-opacity="0.7"/>
<polygon points="77.96,74.48 81.46,72.8 78.06,70.69 74.56,72.25" fill="#fff733" stroke="#222" stroke-width="0.4" stroke-opacity="0.7"/>
<polygon points="84.86,75.08 88.33,73.33 84.94,71.18 81.46,72.8" fill="#fafb36" stroke="#222" stroke-width="0.4" stroke-opacity="0.7"/>
<polygon points="91.73,75.62 95.19,73.8 91.8,71.65 88.33,73.33" fill="#f2fa37" stroke="#222" stroke-width="0.4" stroke-opacity="0.7"/>
<polygon points="98.59,76.08 102.03,74.23 98.64,72.08 95.19,73.8" fill="#ebf938" stroke="#222" stroke-width="0.4" stroke-opacity="0.7"/>
<polygon points="105.44,76.47 108.86,74.6 105.46,72.48 102.03,74.23" fill="#e5f938" stroke="#222" stroke-width="0.4" stroke-opacity="0.7"/>
<polygon points="112.26,76.79 115.67,74.93 112.26,72.86 108.86,74.6" fill="#e0f837" stroke="#222" stroke-width="0.4" stroke-opacity="0.7"/>
<polygon points="119.07,77.07 122.46,75.26 119.05,73.23 115.67,74.93" fill="#daf836" stroke="#222" stroke-width="0.4" stroke-opacity="0.7"/>
<polygon points="125.87,77.33 129.23,75.59 125.83,73.63 122.46,75.26" fill="#d4f833" stroke="#222" stroke-width="0.4" stroke-opacity="0.7"/>
<polygon points="132.65,77.59 135.99,75.97 132.58,74.07 129.23,75.59" fill="#cef72f" stroke="#222" stroke-width="0.4" stroke-opacity="0.7"/>
<polygon points="139.41,77.89 142.73,76.41 139.32,74.58 135.99,75.97" fill="#c6f62a" stroke="#222" stroke-width="0.4" stroke-opacity="0.7"/>
<polygon points="146.16,78.24 149.46,76.93 146.04,75.19 142.73,76.41" fill="#bcf524" stroke="#222" stroke-width="0.4" stroke-opacity="0.7"/>
<polygon points="152.89,78.66 156.16,77.56 152.73,75.92 149.46,76.93" fill="#aef11d" stroke="#222" stroke-width="0.4" stroke-opacity="0.7"/>
<polygon points="159.61,79.17 162.85,78.3 159.41,76.78 156.16,77.56" fill="#9ceb16" stroke="#222" stroke-width="0.4" stroke-opacity="0.7"/>
<polygon points="166.3,79.78 169.51,79.16 166.05,77.78 162.85,78.3" fill="#88e30f" stroke="#222" stroke-width="0.4" stroke-opacity="0.7"/>
<polygon points="172.98,80.48 176.15,80.13 172.68,78.91 169.51,79.16" fill="#72da0b" stroke="#222" stroke-width="0.4" stroke-opacity="0.7"/>
<polygon points="179.63,81.27 182.76,81.2 179.27,80.17 176.15,80.13" fill="#5dd20a" stroke="#222" stroke-width="0.4" stroke-opacity="0.7"/>
<polygon points="186.27,82.12 189.35,82.33 185.84,81.54 182.76,81.2" fill="#48c90a" stroke="#222" stroke-width="0.4" stroke-opacity="0.7"/>
<polygon points="60.55,74.85 64.1,73.26 60.71,71.27 57.15,72.78" fill="#ffee30" stroke="#222" stroke-width="0.4" stroke-opacity="0.7"/>
<polygon points="67.5,75.51 71.04,73.86 67.64,71.72 64.1,73.26" fill="#fff732" stroke="#222" stroke-width="0.4" stroke-opacity="0.7"/>
<polygon points="74.44,76.22 77.96,74.48 74.56,72.25 71.04,73.86" fill="#f9fa34" stroke="#222" stroke-width="0.4" stroke-opacity="0.7"/>
<polygon points="81.36,76.9 84.86,75.08 81.46,72.8 77.96,74.48" fill="#f0fa36" stroke="#222" stroke-width="0.4" stroke-opacity="0.7"/>
<polygon points="88.26,77.52 91.73,75.62 88.33,73.33 84.86,75.08" fill="#e7f937" stroke="#222" stroke-width="0.4" stroke-opacity="0.7"/>
<polygon points="95.14,78.04 98.59,76.08 95.19,73.8 91.73,75.62" fill="#dff839" stroke="#222" stroke-width="0.4" stroke-opacity="0.7"/>
<polygon points="102,78.47 105.44,76.47 102.03,74.23 98.59,76.08" fill="#d9f83a" stroke="#222" stroke-width="0.4" stroke-opacity="0.7"/>
<polygon points="108.84,78.81 112.26,76.79 108.86,74.6 105.44,76.47" fill="#d3f83a" stroke="#222" stroke-width="0.4" stroke-opacity="0.7"/>
<polygon points="115.67,79.07 119.07,77.07 115.67,74.93 112.26,76.79" fill="#cff73a" stroke="#222" stroke-width="0.4" stroke-opacity="0.7"/>
<polygon points="122.48,79.28 125.87,77.33 122.46,75.26 119.07,77.07" fill="#caf738" stroke="#222" stroke-width="0.4" stroke-opacity="0.7"/>
<polygon points="129.28,79.46 132.65,77.59 129.23,75.59 125.87,77.33" fill="#c6f635" stroke="#222" stroke-width="0.4" stroke-opacity="0.7"/>
<polygon points="136.07,79.63 139.41,77.89 135.99,75.97 132.65,77.59" fill="#c0f631" stroke="#222" stroke-width="0.4" stroke-opacity="0.7"/>
<polygon points="142.84,79.83 146.16,78.24 142.73,76.41 139.41,77.89" fill="#b9f52c" stroke="#222" stroke-width="0.4" stroke-opacity="0.7"/>
<polygon points="149.6,80.08 152.89,78.66 149.46,76.93 146.16,78.24" fill="#b1f426" stroke="#222" stroke-width="0.4" stroke-opacity="0.7"/>
<polygon points="156.34,80.38 159.61,79.17 156.16,77.56 152.89,78.66" fill="#a6f31f" stroke="#222" stroke-width="0.4" stroke-opacity="0.7"/>
<polygon points="163.07,80.76 166.3,79.78 162.85,78.3 159.61,79.17" fill="#97ec18" stroke="#222" stroke-width="0.4" stroke-opacity="0.7"/>
<polygon points="169.77,81.22 172.98,80.48 169.51,79.16 166.3,79.78" fill="#85e511" stroke="#222" stroke-width="0.4" stroke-opacity="0.7"/>
<polygon points="176.46,81.75 179.63,81.27 176.15,80.13 172.98,80.48" fill="#73dd0d" stroke="#222" stroke-width="0.4" stroke-opacity="0.7"/>
<polygon points="183.14,82.33 186.27,82.12 182.76,81.2 179.63,81.27" fill="#60d50b" stroke="#222" stroke-width="0.4" stroke-opacity="0.7"/>
<polygon points="189.79,82.94 192.88,83 189.35,82.33 186.27,82.12" fill="#4ecc0a" stroke="#222" stroke-width="0.4" stroke-opacity="0.7"/>
<polygon points="63.95,77.23 67.5,75.51 64.1,73.26 60.55,74.85" fill="#fafa33" stroke="#222" stroke-width="0.4" stroke-opacity="0.7"/>
<polygon points="70.91,78.02 74.44,76.22 71.04,73.86 67.5,75.51" fill="#effa34" stroke="#222" stroke-width="0.4" stroke-opacity="0.7"/>
<polygon points="77.85,78.79 81.36,76.9 77.96,74.48 74.44,76.22" fill="#e4f935" stroke="#222" stroke-width="0.4" stroke-opacity="0.7"/>
<polygon points="84.76,79.5 88.26,77.52 84.86,75.08 81.36,76.9" fill="#daf837" stroke="#222" stroke-width="0.4" stroke-opacity="0.7"/>
<polygon points="91.66,80.11 95.14,78.04 91.73,75.62 88.26,77.52" fill="#d2f739" stroke="#222" stroke-width="0.4" stroke-opacity="0.7"/>
<polygon points="98.54,80.6 102,78.47 98.59,76.08 95.14,78.04" fill="#cbf73b" stroke="#222" stroke-width="0.4" stroke-opacity="0.7"/>
<polygon points="105.4,80.98 108.84,78.81 105.44,76.47 102,78.47" fill="#c6f73c" stroke="#222" stroke-width="0.4" stroke-opacity="0.7"/>
<polygon points="112.25,81.25 115.67,79.07 112.26,76.79 108.84,78.81" fill="#c2f63d" stroke="#222" stroke-width="0.4" stroke-opacity="0.7"/>
<polygon points="119.08,81.43 122.48,79.28 119.07,77.07 115.67,79.07" fill="#bef63c" stroke="#222" stroke-width="0.4" stroke-opacity="0.7"/>
<polygon points="125.9,81.55 129.28,79.46 125.87,77.33 122.48,79.28" fill="#bbf63b" stroke="#222" stroke-width="0.4" stroke-opacity="0.7"/>
<polygon points="132.71,81.63 136.07,79.63 132.65,77.59 129.28,79.46" fill="#b7f538" stroke="#222" stroke-width="0.4" stroke-opacity="0.7"/>
<polygon points="139.5,81.71 142.84,79.83 139.41,77.89 136.07,79.63" fill="#b3f534" stroke="#222" stroke-width="0.4" stroke-opacity="0.7"/>
<polygon points="146.28,81.8 149.6,80.08 146.16,78.24 142.84,79.83" fill="#adf42f" stroke="#222" stroke-width="0.4" stroke-opacity="0.7"/>
<polygon points="153.05,81.93 156.34,80.38 152.89,78.66 149.6,80.08" fill="#a7f429" stroke="#222" stroke-width="0.4" stroke-opacity="0.7"/>
<polygon points="159.8,82.1 163.07,80.76 159.61,79.17 156.34,80.38" fill="#9ef322" stroke="#222" stroke-width="0.4" stroke-opacity="0.7"/>
<polygon points="166.54,82.34 169.77,81.22 166.3,79.78 163.07,80.76" fill="#92ef1a" stroke="#222" stroke-width="0.4" stroke-opacity="0.7"/>
<polygon points="173.26,82.63 176.46,81.75 172.98,80.48 169.77,81.22" fill="#83e814" stroke="#222" stroke-width="0.4" stroke-opacity="0.7"/>
<polygon points="179.97,82.96 183.14,82.33 179.63,81.27 176.46,81.75" fill="#74e110" stroke="#222" stroke-width="0.4" stroke-opacity="0.7"/>
<polygon points="186.66,83.32 189.79,82.94 186.27,82.12 183.14,82.33" fill="#65d90c" stroke="#222" stroke-width="0.4" stroke-opacity="0.7"/>
<polygon points="67.35,79.88 70.91,78.02 67.5,75.51 63.95,77.23" fill="#e4f934" stroke="#222" stroke-width="0.4" stroke-opacity="0.7"/>
<polygon points="74.31,80.76 77.85,78.79 74.44,76.22 70.91,78.02" fill="#d8f835" stroke="#222" stroke-width="0.4" stroke-opacity="0.7"/>
<polygon points="81.25,81.58 84.76,79.5 81.36,76.9 77.85,78.79" fill="#cdf737" stroke="#222" stroke-width="0.4" stroke-opacity="0.7"/>
<polygon points="88.17,82.28 91.66,80.11 88.26,77.52 84.76,79.5" fill="#c4f639" stroke="#222" stroke-width="0.4" stroke-opacity="0.7"/>
<polygon points="95.07,82.86 98.54,80.6 95.14,78.04 91.66,80.11" fill="#bcf63b" stroke="#222" stroke-width="0.4" stroke-opacity="0.7"/>
<polygon points="101.95,83.29 105.4,80.98 102,78.47 98.54,80.6" fill="#b7f53d" stroke="#222" stroke-width="0.4" stroke-opacity="0.7"/>
<polygon points="108.82,83.59 112.25,81.25 108.84,78.81 105.4,80.98" fill="#b3f53f" stroke="#222" stroke-width="0.4" stroke-opacity="0.7"/>
<polygon points="115.67,83.78 119.08,81.43 115.67,79.07 112.25,81.25" fill="#b0f53f" stroke="#222" stroke-width="0.4" stroke-opacity="0.7"/>
<polygon points="122.51,83.87 125.9,81.55 122.48,79.28 119.08,81.43" fill="#adf53f" stroke="#222" stroke-width="0.4" stroke-opacity="0.7"/>
<polygon points="129.33,83.89 132.71,81.63 129.28,79.46 125.9,81.55" fill="#abf43e" stroke="#222" stroke-width="0.4" stroke-opacity="0.7"/>
<polygon points="136.15,83.87 139.5,81.71 136.07,79.63 132.71,81.63" fill="#a9f43b" stroke="#222" stroke-width="0.4" stroke-opacity="0.7"/>
<polygon points="142.95,83.83 146.28,81.8 142.84,79.83 139.5,81.71" fill="#a6f437" stroke="#222" stroke-width="0.4" stroke-opacity="0.7"/>
<polygon points="149.74,83.8 153.05,81.93 149.6,80.08 146.28,81.8" fill="#a2f432" stroke="#222" stroke-width="0.4" stroke-opacity="0.7"/>
<polygon points="156.51,83.8 159.8,82.1 156.34,80.38 153.05,81.93" fill="#9df32c" stroke="#222" stroke-width="0.4" stroke-opacity="0.7"/>
<polygon points="163.28,83.83 166.54,82.34 163.07,80.76 159.8,82.1" fill="#97f225" stroke="#222" stroke-width="0.4" stroke-opacity="0.7"/>
<polygon points="170.03,83.9 173.26,82.63 169.77,81.22 166.54,82.34" fill="#8ff11e" stroke="#222" stroke-width="0.4" stroke-opacity="0.7"/>
<polygon points="176.76,84 179.97,82.96 176.46,81.75 173.26,82.63" fill="#84ec18" stroke="#222" stroke-width="0.4" stroke-opacity="0.7"/>
<polygon points="183.48,84.12 186.66,83.32 183.14,82.33 179.97,82.96" fill="#78e513" stroke="#222" stroke-width="0.4" stroke-opacity="0.7"/>
<polygon points="70.76,82.8 74.31,80.76 70.91,78.02 67.35,79.88" fill="#cbf734" stroke="#222" stroke-width="0.4" stroke-opacity="0.7"/>
<polygon points="77.72,83.74 81.25,81.58 77.85,78.79 74.31,80.76" fill="#bff636" stroke="#222" stroke-width="0.4" stroke-opacity="0.7"/>
<polygon points="84.65,84.56 88.17,82.28 84.76,79.5 81.25,81.58" fill="#b4f538" stroke="#222" stroke-width="0.4" stroke-opacity="0.7"/>
<polygon points="91.57,85.24 95.07,82.86 91.66,80.11 88.17,82.28" fill="#acf43b" stroke="#222" stroke-width="0.4" stroke-opacity="0.7"/>
<polygon points="98.47,85.75 101.95,83.29 98.54,80.6 95.07,82.86" fill="#a6f43e" stroke="#222" stroke-width="0.4" stroke-opacity="0.7"/>
<polygon points="105.36,86.11 108.82,83.59 105.4,80.98 101.95,83.29" fill="#a2f440" stroke="#222" stroke-width="0.4" stroke-opacity="0.7"/>
<polygon points="112.23,86.32 115.67,83.78 112.25,81.25 108.82,83.59" fill="#a0f442" stroke="#222" stroke-width="0.4" stroke-opacity="0.7"/>
<polygon points="119.09,86.4 122.51,83.87 119.08,81.43 115.67,83.78" fill="#9ef444" stroke="#222" stroke-width="0.4" stroke-opacity="0.7"/>
<polygon points="125.93,86.39 129.33,83.89 125.9,81.55 122.51,83.87" fill="#9ef444" stroke="#222" stroke-width="0.4" stroke-opacity="0.7"/>
<polygon points="132.77,86.29 136.15,83.87 132.71,81.63 129.33,83.89" fill="#9df442" stroke="#222" stroke-width="0.4" stroke-opacity="0.7"/>
<polygon points="139.59,86.15 142.95,83.83 139.5,81.71 136.15,83.87" fill="#9cf440" stroke="#222" stroke-width="0.4" stroke-opacity="0.7"/>
<polygon points="146.4,85.99 149.74,83.8 146.28,81.8 142.95,83.83" fill="#9af33c" stroke="#222" stroke-width="0.4" stroke-opacity="0.7"/>
<polygon points="153.2,85.83 156.51,83.8 153.05,81.93 149.74,83.8" fill="#98f337" stroke="#222" stroke-width="0.4" stroke-opacity="0.7"/>
<polygon points="159.99,85.68 163.28,83.83 159.8,82.1 156.51,83.8" fill="#95f331" stroke="#222" stroke-width="0.4" stroke-opacity="0.7"/>
<polygon points="166.77,85.55 170.03,83.9 166.54,82.34 163.28,83.83" fill="#91f22a" stroke="#222" stroke-width="0.4" stroke-opacity="0.7"/>
<polygon points="173.53,85.44 176.76,84 173.26,82.63 170.03,83.9" fill="#8cf224" stroke="#222" stroke-width="0.4" stroke-opacity="0.7"/>
<polygon points="180.28,85.34 183.48,84.12 179.97,82.96 176.76,84" fill="#85ef1d" stroke="#222" stroke-width="0.4" stroke-opacity="0.7"/>
<polygon points="74.16,85.98 77.72,83.74 74.31,80.76 70.76,82.8" fill="#aff535" stroke="#222" stroke-width="0.4" stroke-opacity="0.7"/>
<polygon points="81.12,86.93 84.65,84.56 81.25,81.58 77.72,83.74" fill="#a3f437" stroke="#222" stroke-width="0.4" stroke-opacity="0.7"/>
<polygon points="88.06,87.73 91.57,85.24 88.17,82.28 84.65,84.56" fill="#9bf33b" stroke="#222" stroke-width="0.4" stroke-opacity="0.7"/>
<polygon points="94.98,88.35 98.47,85.75 95.07,82.86 91.57,85.24" fill="#95f441" stroke="#222" stroke-width="0.4" stroke-opacity="0.7"/>
<polygon points="101.88,88.79 105.36,86.11 101.95,83.29 98.47,85.75" fill="#91f445" stroke="#222" stroke-width="0.4" stroke-opacity="0.7"/>
<polygon points="108.77,89.05 112.23,86.32 108.82,83.59 105.36,86.11" fill="#8ff449" stroke="#222" stroke-width="0.4" stroke-opacity="0.7"/>
<polygon points="115.65,89.16 119.09,86.4 115.67,83.78 112.23,86.32" fill="#8ff44b" stroke="#222" stroke-width="0.4" stroke-opacity="0.7"/>
<polygon points="122.52,89.12 125.93,86.39 122.51,83.87 119.09,86.4" fill="#8ff44c" stroke="#222" stroke-width="0.4" stroke-opacity="0.7"/>
<polygon points="129.37,88.98 132.77,86.29 129.33,83.89 125.93,86.39" fill="#90f44c" stroke="#222" stroke-width="0.4" stroke-opacity="0.7"/>
<polygon points="136.22,88.77 139.59,86.15 136.15,83.87 132.77,86.29" fill="#90f44a" stroke="#222" stroke-width="0.4" stroke-opacity="0.7"/>
<polygon points="143.05,88.5 146.4,85.99 142.95,83.83 139.59,86.15" fill="#91f447" stroke="#222" stroke-width="0.4" stroke-opacity="0.7"/>
<polygon points="149.87,88.2 153.2,85.83 149.74,83.8 146.4,85.99" fill="#91f443" stroke="#222" stroke-width="0.4" stroke-opacity="0.7"/>
<polygon points="156.68,87.89 159.99,85.68 156.51,83.8 153.2,85.83" fill="#90f33e" stroke="#222" stroke-width="0.4" stroke-opacity="0.7"/>
<polygon points="163.48,87.59 166.77,85.55 163.28,83.83 159.99,85.68" fill="#8ef338" stroke="#222" stroke-width="0.4" stroke-opacity="0.7"/>
<polygon points="170.27,87.29 173.53,85.44 170.03,83.9 166.77,85.55" fill="#8cf331" stroke="#222" stroke-width="0.4" stroke-opacity="0.7"/>
<polygon points="177.05,86.98 180.28,85.34 176.76,84 173.53,85.44" fill="#8af22a" stroke="#222" stroke-width="0.4" stroke-opacity="0.7"/>
<polygon points="77.56,89.41 81.12,86.93 77.72,83.74 74.16,85.98" fill="#93f338" stroke="#222" stroke-width="0.4" stroke-opacity="0.7"/>
<polygon points="84.52,90.34 88.06,87.73 84.65,84.56 81.12,86.93" fill="#8af33e" stroke="#222" stroke-width="0.4" stroke-opacity="0.7"/>
<polygon points="91.46,91.09 94.98,88.35 91.57,85.24 88.06,87.73" fill="#83f444" stroke="#222" stroke-width="0.4" stroke-opacity="0.7"/>
<polygon points="98.39,91.63 101.88,88.79 98.47,85.75 94.98,88.35" fill="#7ff44a" stroke="#222" stroke-width="0.4" stroke-opacity="0.7"/>
<polygon points="105.3,91.97 108.77,89.05 105.36,86.11 101.88,88.79" fill="#7df44e" stroke="#222" stroke-width="0.4" stroke-opacity="0.7"/>
<polygon points="112.2,92.11 115.65,89.16 112.23,86.32 108.77,89.05" fill="#7df451" stroke="#222" stroke-width="0.4" stroke-opacity="0.7"/>
<polygon points="119.08,92.09 122.52,89.12 119.09,86.4 115.65,89.16" fill="#7ef453" stroke="#222" stroke-width="0.4" stroke-opacity="0.7"/>
<polygon points="125.96,91.93 129.37,88.98 125.93,86.39 122.52,89.12" fill="#80f554" stroke="#222" stroke-width="0.4" stroke-opacity="0.7"/>
<polygon points="132.82,91.66 136.22,88.77 132.77,86.29 129.37,88.98" fill="#82f553" stroke="#222" stroke-width="0.4" stroke-opacity="0.7"/>
<polygon points="139.68,91.31 143.05,88.5 139.59,86.15 136.22,88.77" fill="#84f452" stroke="#222" stroke-width="0.4" stroke-opacity="0.7"/>
<polygon points="146.52,90.9 149.87,88.2 146.4,85.99 143.05,88.5" fill="#86f44f" stroke="#222" stroke-width="0.4" stroke-opacity="0.7"/>
<polygon points="153.36,90.45 156.68,87.89 153.2,85.83 149.87,88.2" fill="#87f44b" stroke="#222" stroke-width="0.4" stroke-opacity="0.7"/>
<polygon points="160.18,89.99 163.48,87.59 159.99,85.68 156.68,87.89" fill="#88f446" stroke="#222" stroke-width="0.4" stroke-opacity="0.7"/>
<polygon points="166.99,89.51 170.27,87.29 166.77,85.55 163.48,87.59" fill="#89f440" stroke="#222" stroke-width="0.4" stroke-opacity="0.7"/>
<polygon points="173.79,89.03 177.05,86.98 173.53,85.44 170.27,87.29" fill="#89f339" stroke="#222" stroke-width="0.4" stroke-opacity="0.7"/>
<polygon points="80.95,93.07 84.52,90.34 81.12,86.93 77.56,89.41" fill="#77f341" stroke="#222" stroke-width="0.4" stroke-opacity="0.7"/>
<polygon points="87.92,93.96 91.46,91.09 88.06,87.73 84.52,90.34" fill="#70f448" stroke="#222" stroke-width="0.4" stroke-opacity="0.7"/>
<polygon points="94.86,94.62 98.39,91.63 94.98,88.35 91.46,91.09" fill="#6bf44e" stroke="#222" stroke-width="0.4" stroke-opacity="0.7"/>
<polygon points="101.8,95.06 105.3,91.97 101.88,88.79 98.39,91.63" fill="#69f453" stroke="#222" stroke-width="0.4" stroke-opacity="0.7"/>
<polygon points="108.72,95.27 112.2,92.11 108.77,89.05 105.3,91.97" fill="#6af457" stroke="#222" stroke-width="0.4" stroke-opacity="0.7"/>
<polygon points="115.62,95.29 119.08,92.09 115.65,89.16 112.2,92.11" fill="#6bf55a" stroke="#222" stroke-width="0.4" stroke-opacity="0.7"/>
<polygon points="122.52,95.14 125.96,91.93 122.52,89.12 119.08,92.09" fill="#6ef55b" stroke="#222" stroke-width="0.4" stroke-opacity="0.7"/>
<polygon points="129.41,94.84 132.82,91.66 129.37,88.98 125.96,91.93" fill="#72f55c" stroke="#222" stroke-width="0.4" stroke-opacity="0.7"/>
<polygon points="136.28,94.42 139.68,91.31 136.22,88.77 132.82,91.66" fill="#75f55b" stroke="#222" stroke-width="0.4" stroke-opacity="0.7"/>
<polygon points="143.15,93.92 146.52,90.9 143.05,88.5 139.68,91.31" fill="#79f55a" stroke="#222" stroke-width="0.4" stroke-opacity="0.7"/>
<polygon points="150.01,93.36 153.36,90.45 149.87,88.2 146.52,90.9" fill="#7cf557" stroke="#222" stroke-width="0.4" stroke-opacity="0.7"/>
<polygon points="156.85,92.76 160.18,89.99 156.68,87.89 153.36,90.45" fill="#7ff453" stroke="#222" stroke-width="0.4" stroke-opacity="0.7"/>
<polygon points="163.69,92.12 166.99,89.51 163.48,87.59 160.18,89.99" fill="#82f44e" stroke="#222" stroke-width="0.4" stroke-opacity="0.7"/>
<polygon points="170.52,91.47 173.79,89.03 170.27,87.29 166.99,89.51" fill="#84f448" stroke="#222" stroke-width="0.4" stroke-opacity="0.7"/>
<polygon points="84.34,96.95 87.92,93.96 84.52,90.34 80.95,93.07" fill="#5bf44b" stroke="#222" stroke-width="0.4" stroke-opacity="0.7"/>
<polygon points="91.31,97.76 94.86,94.62 91.46,91.09 87.92,93.96" fill="#55f451" stroke="#222" stroke-width="0.4" stroke-opacity="0.7"/>
<polygon points="98.27,98.32 101.8,95.06 98.39,91.63 94.86,94.62" fill="#56f45a" stroke="#222" stroke-width="0.4" stroke-opacity="0.7"/>
<polygon points="105.21,98.63 108.72,95.27 105.3,91.97 101.8,95.06" fill="#59f462" stroke="#222" stroke-width="0.4" stroke-opacity="0.7"/>
<polygon points="112.14,98.71 115.62,95.29 112.2,92.11 108.72,95.27" fill="#5df567" stroke="#222" stroke-width="0.4" stroke-opacity="0.7"/>
<polygon points="119.06,98.58 122.52,95.14 119.08,92.09 115.62,95.29" fill="#60f569" stroke="#222" stroke-width="0.4" stroke-opacity="0.7"/>
<polygon points="125.97,98.28 129.41,94.84 125.96,91.93 122.52,95.14" fill="#62f568" stroke="#222" stroke-width="0.4" stroke-opacity="0.7"/>
<polygon points="132.87,97.82 136.28,94.42 132.82,91.66 129.41,94.84" fill="#64f564" stroke="#222" stroke-width="0.4" stroke-opacity="0.7"/>
<polygon points="139.76,97.26 143.15,93.92 139.68,91.31 136.28,94.42" fill="#68f563" stroke="#222" stroke-width="0.4" stroke-opacity="0.7"/>
<polygon points="146.64,96.6 150.01,93.36 146.52,90.9 143.15,93.92" fill="#6ef561" stroke="#222" stroke-width="0.4" stroke-opacity="0.7"/>
<polygon points="153.51,95.88 156.85,92.76 153.36,90.45 150.01,93.36" fill="#72f55e" stroke="#222" stroke-width="0.4" stroke-opacity="0.7"/>
<polygon points="160.37,95.11 163.69,92.12 160.18,89.99 156.85,92.76" fill="#77f55b" stroke="#222" stroke-width="0.4" stroke-opacity="0.7"/>
<polygon points="167.22,94.3 170.52,91.47 166.99,89.51 163.69,92.12" fill="#7cf556" stroke="#222" stroke-width="0.4" stroke-opacity="0.7"/>
<polygon points="87.74,101.04 91.31,97.76 87.92,93.96 84.34,96.95" fill="#4ef467" stroke="#222" stroke-width="0.4" stroke-opacity="0.7"/>
<polygon points="94.71,101.75 98.27,98.32 94.86,94.62 91.31,97.76" fill="#52f475" stroke="#222" stroke-width="0.4" stroke-opacity="0.7"/>
<polygon points="101.68,102.18 105.21,98.63 101.8,95.06 98.27,98.32" fill="#56f47f" stroke="#222" stroke-width="0.4" stroke-opacity="0.7"/>
<polygon points="108.63,102.34 112.14,98.71 108.72,95.27 105.21,98.63" fill="#5af584" stroke="#222" stroke-width="0.4" stroke-opacity="0.7"/>
<polygon points="115.58,102.27 119.06,98.58 115.62,95.29 112.14,98.71" fill="#5ef587" stroke="#222" stroke-width="0.4" stroke-opacity="0.7"/>
<polygon points="122.51,101.98 125.97,98.28 122.52,95.14 119.06,98.58" fill="#61f586" stroke="#222" stroke-width="0.4" stroke-opacity="0.7"/>
<polygon points="129.43,101.52 132.87,97.82 129.41,94.84 125.97,98.28" fill="#63f583" stroke="#222" stroke-width="0.4" stroke-opacity="0.7"/>
<polygon points="136.35,100.9 139.76,97.26 136.28,94.42 132.87,97.82" fill="#65f57e" stroke="#222" stroke-width="0.4" stroke-opacity="0.7"/>
<polygon points="143.25,100.17 146.64,96.6 143.15,93.92 139.76,97.26" fill="#67f577" stroke="#222" stroke-width="0.4" stroke-opacity="0.7"/>
<polygon points="150.15,99.35 153.51,95.88 150.01,93.36 146.64,96.6" fill="#67f56e" stroke="#222" stroke-width="0.4" stroke-opacity="0.7"/>
<polygon points="157.03,98.46 160.37,95.11 156.85,92.76 153.51,95.88" fill="#69f566" stroke="#222" stroke-width="0.4" stroke-opacity="0.7"/>
<polygon points="163.91,97.52 167.22,94.3 163.69,92.12 160.37,95.11" fill="#70f562" stroke="#222" stroke-width="0.4" stroke-opacity="0.7"/>
<polygon points="91.13,105.33 94.71,101.75 91.31,97.76 87.74,101.04" fill="#4df491" stroke="#222" stroke-width="0.4" stroke-opacity="0.7"/>
<polygon points="98.12,105.9 101.68,102.18 98.27,98.32 94.71,101.75" fill="#51f49c" stroke="#222" stroke-width="0.4" stroke-opacity="0.7"/>
<polygon points="105.1,106.18 108.63,102.34 105.21,98.63 101.68,102.18" fill="#56f5a3" stroke="#222" stroke-width="0.4" stroke-opacity="0.7"/>
<polygon points="112.06,106.18 115.58,102.27 112.14,98.71 108.63,102.34" fill="#5af5a6" stroke="#222" stroke-width="0.4" stroke-opacity="0.7"/>
<polygon points="119.02,105.94 122.51,101.98 119.06,98.58 115.58,102.27" fill="#5ef5a6" stroke="#222" stroke-width="0.4" stroke-opacity="0.7"/>
<polygon points="125.97,105.48 129.43,101.52 125.97,98.28 122.51,101.98" fill="#62f5a3" stroke="#222" stroke-width="0.4" stroke-opacity="0.7"/>
<polygon points="132.91,104.85 136.35,100.9 132.87,97.82 129.43,101.52" fill="#65f69e" stroke="#222" stroke-width="0.4" stroke-opacity="0.7"/>
<polygon points="139.85,104.07 143.25,100.17 139.76,97.26 136.35,100.9" fill="#67f697" stroke="#222" stroke-width="0.4" stroke-opacity="0.7"/>
<polygon points="146.77,103.17 150.15,99.35 146.64,96.6 143.25,100.17" fill="#69f68e" stroke="#222" stroke-width="0.4" stroke-opacity="0.7"/>
<polygon points="153.68,102.17 157.03,98.46 153.51,95.88 150.15,99.35" fill="#6af684" stroke="#222" stroke-width="0.4" stroke-opacity="0.7"/>
<polygon points="160.58,101.11 163.91,97.52 160.37,95.11 157.03,98.46" fill="#6af678" stroke="#222" stroke-width="0.4" stroke-opacity="0.7"/>
<polygon points="94.52,109.81 98.12,105.9 94.71,101.75 91.13,105.33" fill="#4cf4bc" stroke="#222" stroke-width="0.4" stroke-opacity="0.7"/>
<polygon points="101.53,110.22 105.1,106.18 101.68,102.18 98.12,105.9" fill="#51f5c3" stroke="#222" stroke-width="0.4" stroke-opacity="0.7"/>
<polygon points="108.52,110.32 112.06,106.18 108.63,102.34 105.1,106.18" fill="#56f5c7" stroke="#222" stroke-width="0.4" stroke-opacity="0.7"/>
<polygon points="115.51,110.15 119.02,105.94 115.58,102.27 112.06,106.18" fill="#5af5c7" stroke="#222" stroke-width="0.4" stroke-opacity="0.7"/>
<polygon points="122.49,109.73 125.97,105.48 122.51,101.98 119.02,105.94" fill="#5ff5c4" stroke="#222" stroke-width="0.4" stroke-opacity="0.7"/>
<polygon points="129.45,109.09 132.91,104.85 129.43,101.52 125.97,105.48" fill="#62f6bf" stroke="#222" stroke-width="0.4" stroke-opacity="0.7"/>
<polygon points="136.41,108.27 139.85,104.07 136.35,100.9 132.91,104.85" fill="#66f6b8" stroke="#222" stroke-width="0.4" stroke-opacity="0.7"/>
<polygon points="143.36,107.31 146.77,103.17 143.25,100.17 139.85,104.07" fill="#68f6af" stroke="#222" stroke-width="0.4" stroke-opacity="0.7"/>
<polygon points="150.3,106.24 153.68,102.17 150.15,99.35 146.77,103.17" fill="#6af6a4" stroke="#222" stroke-width="0.4" stroke-opacity="0.7"/>
<polygon points="157.23,105.07 160.58,101.11 157.03,98.46 153.68,102.17" fill="#6cf699" stroke="#222" stroke-width="0.4" stroke-opacity="0.7"/>
<polygon points="97.92,114.45 101.53,110.22 98.12,105.9 94.52,109.81" fill="#4ef2db" stroke="#222" stroke-width="0.4" stroke-opacity="0.7"/>
<polygon points="104.94,114.68 108.52,110.32 105.1,106.18 101.53,110.22" fill="#54f2df" stroke="#222" stroke-width="0.4" stroke-opacity="0.7"/>
<polygon points="111.96,114.6 115.51,110.15 112.06,106.18 108.52,110.32" fill="#59f3df" stroke="#222" stroke-width="0.4" stroke-opacity="0.7"/>
<polygon points="118.97,114.23 122.49,109.73 119.02,105.94 115.51,110.15" fill="#5df3de" stroke="#222" stroke-width="0.4" stroke-opacity="0.7"/>
<polygon points="125.97,113.62 129.45,109.09 125.97,105.48 122.49,109.73" fill="#61f4db" stroke="#222" stroke-width="0.4" stroke-opacity="0.7"/>
<polygon points="132.95,112.79 136.41,108.27 132.91,104.85 129.45,109.09" fill="#64f5d7" stroke="#222" stroke-width="0.4" stroke-opacity="0.7"/>
<polygon points="139.93,111.79 143.36,107.31 139.85,104.07 136.41,108.27" fill="#66f6d1" stroke="#222" stroke-width="0.4" stroke-opacity="0.7"/>
<polygon points="146.9,110.65 150.3,106.24 146.77,103.17 143.36,107.31" fill="#69f6c6" stroke="#222" stroke-width="0.4" stroke-opacity="0.7"/>
<polygon points="153.86,109.39 157.23,105.07 153.68,102.17 150.3,106.24" fill="#6cf6ba" stroke="#222" stroke-width="0.4" stroke-opacity="0.7"/>
<polygon points="101.33,119.25 104.94,114.68 101.53,110.22 97.92,114.45" fill="#52eef5" stroke="#222" stroke-width="0.4" stroke-opacity="0.7"/>
<polygon points="108.37,119.28 111.96,114.6 108.52,110.32 104.94,114.68" fill="#57eff6" stroke="#222" stroke-width="0.4" stroke-opacity="0.7"/>
<polygon points="115.41,118.99 118.97,114.23 115.51,110.15 111.96,114.6" fill="#5df0f5" stroke="#222" stroke-width="0.4" stroke-opacity="0.7"/>
<polygon points="122.44,118.42 125.97,113.62 122.49,109.73 118.97,114.23" fill="#61f1f2" stroke="#222" stroke-width="0.4" stroke-opacity="0.7"/>
<polygon points="129.47,117.61 132.95,112.79 129.45,109.09 125.97,113.62" fill="#65f2ed" stroke="#222" stroke-width="0.4" stroke-opacity="0.7"/>
<polygon points="136.48,116.58 139.93,111.79 136.41,108.27 132.95,112.79" fill="#68f3e7" stroke="#222" stroke-width="0.4" stroke-opacity="0.7"/>
<polygon points="143.48,115.39 146.9,110.65 143.36,107.31 139.93,111.79" fill="#6af4e0" stroke="#222" stroke-width="0.4" stroke-opacity="0.7"/>
<polygon points="150.47,114.06 153.86,109.39 150.3,106.24 146.9,110.65" fill="#6bf5d9" stroke="#222" stroke-width="0.4" stroke-opacity="0.7"/>
<polygon points="104.75,124.19 108.37,119.28 104.94,114.68 101.33,119.25" fill="#55d2fb" stroke="#222" stroke-width="0.4" stroke-opacity="0.7"/>
<polygon points="111.82,124.01 115.41,118.99 111.96,114.6 108.37,119.28" fill="#5bd4fb" stroke="#222" stroke-width="0.4" stroke-opacity="0.7"/>
<polygon points="118.89,123.5 122.44,118.42 118.97,114.23 115.41,118.99" fill="#60d9fb" stroke="#222" stroke-width="0.4" stroke-opacity="0.7"/>
<polygon points="125.94,122.72 129.47,117.61 125.97,113.62 122.44,118.42" fill="#64e1fa" stroke="#222" stroke-width="0.4" stroke-opacity="0.7"/>
<polygon points="132.99,121.69 136.48,116.58 132.95,112.79 129.47,117.61" fill="#68e9fa" stroke="#222" stroke-width="0.4" stroke-opacity="0.7"/>
<polygon points="140.03,120.47 143.48,115.39 139.93,111.79 136.48,116.58" fill="#6bf1f7" stroke="#222" stroke-width="0.4" stroke-opacity="0.7"/>
<polygon points="147.05,119.08 150.47,114.06 146.9,110.65 143.48,115.39" fill="#6df2ef" stroke="#222" stroke-width="0.4" stroke-opacity="0.7"/>
<polygon points="108.18,129.26 111.82,124.01 108.37,119.28 104.75,124.19" fill="#59b2fe" stroke="#222" stroke-width="0.4" stroke-opacity="0.7"/>
<polygon points="115.29,128.84 118.89,123.5 115.41,118.99 111.82,124.01" fill="#5fb8fe" stroke="#222" stroke-width="0.4" stroke-opacity="0.7"/>
<polygon points="122.38,128.11 125.94,122.72 122.44,118.42 118.89,123.5" fill="#63bffd" stroke="#222" stroke-width="0.4" stroke-opacity="0.7"/>
<polygon points="129.47,127.1 132.99,121.69 129.47,117.61 125.94,122.72" fill="#67c9fd" stroke="#222" stroke-width="0.4" stroke-opacity="0.7"/>
<polygon points="136.55,125.86 140.03,120.47 136.48,116.58 132.99,121.69" fill="#6bd4fc" stroke="#222" stroke-width="0.4" stroke-opacity="0.7"/>
<polygon points="143.61,124.43 147.05,119.08 143.48,115.39 140.03,120.47" fill="#6ddffb" stroke="#222" stroke-width="0.4" stroke-opacity="0.7"/>
<polygon points="111.64,134.44 115.29,128.84 111.82,124.01 108.18,129.26" fill="#5f96ff" stroke="#222" stroke-width="0.4" stroke-opacity="0.7"/>
<polygon points="118.78,133.78 122.38,128.11 118.89,123.5 115.29,128.84" fill="#639eff" stroke="#222" stroke-width="0.4" stroke-opacity="0.7"/>
<polygon points="125.91,132.81 129.47,127.1 125.94,122.72 122.38,128.11" fill="#67a7ff" stroke="#222" stroke-width="0.4" stroke-opacity="0.7"/>
<polygon points="133.03,131.57 136.55,125.86 132.99,121.69 129.47,127.1" fill="#6ab2ff" stroke="#222" stroke-width="0.4" stroke-opacity="0.7"/>
<polygon points="140.13,130.11 143.61,124.43 140.03,120.47 136.55,125.86" fill="#6dbefe" stroke="#222" stroke-width="0.4" stroke-opacity="0.7"/>
<polygon points="115.13,139.72 118.78,133.78 115.29,128.84 111.64,134.44" fill="#657cff" stroke="#222" stroke-width="0.4" stroke-opacity="0.7"/>
<polygon points="122.3,138.8 125.91,132.81 122.38,128.11 118.78,133.78" fill="#6986ff" stroke="#222" stroke-width="0.4" stroke-opacity="0.7"/>
<polygon points="129.47,137.58 133.03,131.57 129.47,127.1 125.91,132.81" fill="#6c91ff" stroke="#222" stroke-width="0.4" stroke-opacity="0.7"/>
<polygon points="136.62,136.12 140.13,130.11 136.55,125.86 133.03,131.57" fill="#6f9eff" stroke="#222" stroke-width="0.4" stroke-opacity="0.7"/>
<polygon points="118.65,145.08 122.3,138.8 118.78,133.78 115.13,139.72" fill="#6f75ff" stroke="#222" stroke-width="0.4" stroke-opacity="0.7"/>
<polygon points="125.86,143.9 129.47,137.58 125.91,132.81 122.3,138.8" fill="#7179ff" stroke="#222" stroke-width="0.4" stroke-opacity="0.7"/>
<polygon points="133.06,142.43 136.62,136.12 133.03,131.57 129.47,137.58" fill="#727dff" stroke="#222" stroke-width="0.4" stroke-opacity="0.7"/>
<polygon points="122.2,150.49 125.86,143.9 122.3,138.8 118.65,145.08" fill="#7b78ff" stroke="#222" stroke-width="0.4" stroke-opacity="0.7"/>
<polygon points="129.46,149.05 133.06,142.43 129.47,137.58 125.86,143.9" fill="#7c7cff" stroke="#222" stroke-width="0.4" stroke-opacity="0.7"/>
<polygon points="125.8,155.96 129.46,149.05 125.86,143.9 122.2,150.49" fill="#877aff" stroke="#222" stroke-width="0.4" stroke-opacity="0.7"/>
<path d="M103.4,60.6V117" stroke="#333" stroke-width="0.45"/>
<rect x="92.9" y="56.4" width="10.5" height="4.2" fill="#fff" stroke="#999" stroke-width="0.4"/>
<text x="98.15" y="59.5" font-size="3.0" text-anchor="middle" fill="#666" textLength="8.5" lengthAdjust="spacingAndGlyphs">184.80</text>
<text x="229.8" y="6.2" font-size="6.4" fill="#0c0c0c" stroke="#0c0c0c" stroke-width="0.12" textLength="52.9" lengthAdjust="spacingAndGlyphs">Factor Coding: Actual</text>
<text x="229.8" y="27.3" font-size="6.4" font-weight="bold" textLength="9.2" lengthAdjust="spacingAndGlyphs">PDI</text>
<linearGradient id="cbB"><stop offset="0" stop-color="#0000c8"/><stop offset="0.5" stop-color="#00ff00"/><stop offset="1" stop-color="#e80000"/></linearGradient>
<rect x="245" y="30.7" width="20.6" height="9.1" fill="url(#cbB)" stroke="#555" stroke-width="0.3"/>
<text x="229.8" y="38.1" font-size="6.4" fill="#3030ff" stroke="#3030ff" stroke-width="0.12" textLength="12.5" lengthAdjust="spacingAndGlyphs">0.211</text>
<text x="268" y="38.1" font-size="6.4" fill="#ff2a2a" stroke="#ff2a2a" stroke-width="0.12" textLength="13.3" lengthAdjust="spacingAndGlyphs">0.444</text>
<text x="229.8" y="59.4" font-size="6.4" fill="#0c0c0c" stroke="#0c0c0c" stroke-width="0.12" textLength="16.9" lengthAdjust="spacingAndGlyphs">X1 = A</text>
<text x="229.8" y="69.8" font-size="6.4" fill="#0c0c0c" stroke="#0c0c0c" stroke-width="0.12" textLength="16.5" lengthAdjust="spacingAndGlyphs">X2 = B</text>
<text x="229.8" y="91.4" font-size="6.4" font-weight="bold" textLength="34.8" lengthAdjust="spacingAndGlyphs">Actual Factor</text>
<text x="229.8" y="101.5" font-size="6.4" fill="#0c0c0c" stroke="#0c0c0c" stroke-width="0.12" textLength="29.3" lengthAdjust="spacingAndGlyphs">C = 29.8468</text>
<text x="356.6" y="8.4" font-size="4.6" fill="#0c0c0c" textLength="20.2" lengthAdjust="spacingAndGlyphs">3D Surface</text>
<path d="M289.44,132.17L286.4,53.9M420.7,132.19L424.2,54M301.37,127.51L298.22,50.81M408.96,127.57L412.62,50.95M312.88,123.03L309.91,47.75M397.57,123.11L401.09,47.9M324,118.71L321.47,44.73M386.52,118.79L389.6,44.87M334.76,114.54L332.9,41.73M375.8,114.61L378.16,41.85M345.17,110.52L344.21,38.78M365.38,110.56L366.76,38.85M355.25,106.63L355.4,35.85M355.25,106.63L355.4,35.85M289.44,132.17L355.25,106.63L420.7,132.19M288.83,116.51L355.28,92.48L421.4,116.55M288.22,100.86L355.31,78.32L422.1,100.91M287.62,85.21L355.34,64.16L422.8,85.28M287.01,69.55L355.37,50.01L423.5,69.64M286.4,53.9L355.4,35.85L424.2,54" stroke="#4a4a4a" stroke-width="0.5" fill="none"/>
<path d="M290.4,156.9L286.4,53.9M355.2,129L355.4,35.85M419.6,156.9L424.2,54" stroke="#666" stroke-width="0.5" fill="none"/>
<circle cx="289.44" cy="132.17" r="0.6" fill="#111"/>
<text x="287.14" y="131.57" font-size="5.0" text-anchor="end" fill="#0c0c0c" textLength="5.4" lengthAdjust="spacingAndGlyphs">0.2</text>
<circle cx="288.83" cy="116.51" r="0.6" fill="#111"/>
<text x="286.53" y="115.91" font-size="5.0" text-anchor="end" fill="#0c0c0c" textLength="7.6" lengthAdjust="spacingAndGlyphs">0.25</text>
<circle cx="288.22" cy="100.86" r="0.6" fill="#111"/>
<text x="285.92" y="100.26" font-size="5.0" text-anchor="end" fill="#0c0c0c" textLength="5.4" lengthAdjust="spacingAndGlyphs">0.3</text>
<circle cx="287.62" cy="85.21" r="0.6" fill="#111"/>
<text x="285.32" y="84.61" font-size="5.0" text-anchor="end" fill="#0c0c0c" textLength="7.6" lengthAdjust="spacingAndGlyphs">0.35</text>
<circle cx="287.01" cy="69.55" r="0.6" fill="#111"/>
<text x="284.71" y="68.95" font-size="5.0" text-anchor="end" fill="#0c0c0c" textLength="5.4" lengthAdjust="spacingAndGlyphs">0.4</text>
<circle cx="286.4" cy="53.9" r="0.6" fill="#111"/>
<text x="284.1" y="53.3" font-size="5.0" text-anchor="end" fill="#0c0c0c" textLength="7.6" lengthAdjust="spacingAndGlyphs">0.45</text>
<text x="265.3" y="107.6" font-size="3.3" text-anchor="middle" fill="#444" textLength="5" lengthAdjust="spacingAndGlyphs" transform="rotate(-90 265.3 107.6)">PDI</text>
<polygon points="355.4,192.9 419.6,156.9 355.2,129 290.4,156.9" fill="#666" stroke="#1a1a1a" stroke-width="0.7" stroke-linejoin="round"/>
<polyline points="313.82,169.87 313.86,169.71 314.04,169.15 314.14,168.86 314.31,168.46 314.53,167.97 314.62,167.8 314.97,167.17 315.06,167.02 315.35,166.56 315.75,165.99 315.76,165.97 316.21,165.4 316.64,164.87 316.67,164.84 317.17,164.3 317.67,163.78 317.82,163.64 318.2,163.27 318.75,162.77 319.31,162.28 319.38,162.22 319.89,161.81 320.49,161.34 321.09,160.88 321.61,160.51 321.71,160.44 322.34,160 322.99,159.58 323.64,159.16 324.31,158.75 324.99,158.35 325.64,157.97 325.67,157.95 326.37,157.57 327.08,157.19 327.81,156.82 328.54,156.46 329.28,156.1 330.03,155.76 330.8,155.42 331.57,155.09 332.36,154.76 333.16,154.45 333.84,154.19 333.97,154.14 334.79,153.84 335.63,153.55 336.49,153.27 337.35,153 338.23,152.73 338.66,152.61 339.14,152.48 340.06,152.24 341,152.01 341.74,151.84 341.96,151.79 342.95,151.59 343.96,151.4 344.19,151.36 345.01,151.22 346.08,151.06 346.28,151.04 347.2,150.93 348.13,150.83 348.35,150.81 349.56,150.72 349.8,150.7 350.83,150.65 351.34,150.64 352.18,150.63 352.76,150.63 353.61,150.65 354.09,150.66 355.16,150.72 355.35,150.73 356.53,150.84 356.9,150.88 357.65,150.97 358.71,151.13 358.91,151.17 359.72,151.32 360.69,151.53 361.52,151.73 361.62,151.76 362.5,152.01 363.34,152.29 364.15,152.58 364.93,152.89 365.67,153.22 366.37,153.57 367.04,153.93 367.68,154.32 368.29,154.72 368.87,155.14 369.02,155.27 369.41,155.58 369.91,156.04 370.39,156.52 370.49,156.63 370.83,157.02 371.23,157.54 371.34,157.71 371.59,158.08 371.91,158.65 371.92,158.67 372.19,159.24 372.31,159.54 372.43,159.86 372.57,160.36 372.62,160.51 372.74,161.13 372.75,161.18 372.83,161.87 372.83,161.89 372.85,162.58 372.85,162.64 372.82,163.27 372.8,163.43 372.73,163.94 372.68,164.26 372.6,164.6 372.47,165.13 372.44,165.23 372.24,165.86 372.16,166.07 372,166.47 371.74,167.07 371.74,167.07 371.45,167.66 371.19,168.15 371.13,168.24 370.79,168.81 370.46,169.32 370.42,169.38 370.03,169.93 369.63,170.48 369.52,170.62 369.19,171.02 368.74,171.56 368.29,172.08 368.28,172.09 367.79,172.61 367.28,173.12 366.76,173.64 366.59,173.8 366.22,174.14 365.66,174.64 365.08,175.13 364.48,175.61 363.98,176.01 363.87,176.09 363.24,176.57 362.6,177.03 361.93,177.5 361.25,177.95 360.55,178.4 359.83,178.84 359.09,179.27 358.33,179.7 357.55,180.12 356.75,180.53 355.93,180.93 355.09,181.32 354.22,181.7 353.33,182.08 352.41,182.43 351.47,182.78 351.11,182.91 350.49,183.12 349.48,183.43 348.44,183.73 347.51,183.98 347.37,184.02 346.25,184.28 345.09,184.52 344.81,184.57 343.87,184.74 342.61,184.93 342.54,184.93 341.28,185.08" fill="none" stroke="#2040d8" stroke-width="1.15"/>
<polyline points="305.29,165.15 305.8,164.6 306.17,164.22 306.32,164.07 306.86,163.55 307.41,163.04 307.54,162.92 307.97,162.54 308.55,162.05 309.13,161.56 309.24,161.47 309.73,161.09 310.33,160.62 310.94,160.16 311.39,159.83 311.56,159.71 312.19,159.27 312.83,158.83 313.47,158.4 314.11,157.97 314.24,157.89 314.77,157.55 315.43,157.14 316.1,156.73 316.77,156.32 317.44,155.93 318.12,155.53 318.55,155.29 318.81,155.15 319.5,154.76 320.2,154.39 320.91,154.02 321.61,153.65 322.33,153.29 323.04,152.93 323.77,152.57 324.5,152.23 325.23,151.88 325.97,151.54 326.71,151.21 327.46,150.88 328.22,150.56 328.99,150.24 329.75,149.93 330.53,149.62 331.32,149.32 332.11,149.02 332.9,148.73 333.71,148.44 333.93,148.36 334.53,148.16 335.35,147.89 336.19,147.62 337.04,147.36 337.89,147.11 338.48,146.94 338.76,146.86 339.64,146.62 340.54,146.39 341.45,146.17 341.69,146.11 342.38,145.96 343.32,145.75 344.28,145.56 344.29,145.56 345.27,145.38 346.27,145.2 346.52,145.16 347.31,145.05 348.36,144.9 348.51,144.88 349.45,144.77 350.31,144.68 350.58,144.66 351.74,144.57 351.97,144.55 352.94,144.49 353.52,144.47 354.2,144.45 354.97,144.43 355.52,144.43 356.34,144.43 356.9,144.44 357.64,144.46 358.38,144.49 358.88,144.52 359.96,144.59 360.07,144.6 361.21,144.71 361.69,144.76 362.3,144.83 363.36,144.98 363.61,145.02 364.38,145.14 365.37,145.32 365.87,145.42 366.32,145.52 367.25,145.73 368.15,145.95 368.77,146.12 369.03,146.19 369.87,146.44 370.7,146.71 371.5,146.98 372.28,147.27 373.04,147.57 373.78,147.89 374.5,148.21 375.19,148.55 375.87,148.9 376.52,149.26 377.16,149.63 377.78,150.01 378.37,150.41 378.65,150.61 378.95,150.82 379.5,151.24 380.04,151.67 380.51,152.09 380.55,152.12 381.04,152.58 381.51,153.06 381.7,153.27 381.95,153.55 382.37,154.05 382.57,154.31 382.77,154.58 383.14,155.11 383.23,155.26 383.48,155.67 383.74,156.15 383.79,156.24 384.07,156.83 384.14,156.99 384.32,157.45 384.44,157.79 384.53,158.08 384.67,158.56 384.71,158.74 384.83,159.31 384.85,159.42 384.94,160.03 384.95,160.13 385,160.73 385.01,160.86 385.01,161.42 385.01,161.62 384.99,162.09 384.97,162.42 384.93,162.75 384.86,163.25 384.84,163.4 384.72,164.04 384.7,164.12 384.57,164.67 384.47,165.03 384.39,165.29 384.2,165.9 384.16,165.99 383.97,166.5 383.77,167 383.73,167.1 383.47,167.69 383.29,168.06 383.19,168.27 382.89,168.85 382.71,169.19 382.57,169.43 382.24,170 382,170.39 381.89,170.56 381.53,171.12 381.16,171.67 381.16,171.68 380.76,172.24 380.36,172.79 380.16,173.05 379.94,173.33 379.51,173.88 379.06,174.42 378.96,174.55 378.61,174.96 378.14,175.49 377.66,176.02 377.51,176.19 377.17,176.55 376.67,177.08 376.16,177.61 375.74,178.02 375.63,178.13 375.1,178.65 374.55,179.17 373.99,179.68 373.52,180.12 373.43,180.2 372.85,180.71 372.26,181.21 371.66,181.72 371.05,182.22 370.5,182.66 370.43,182.72 369.79,183.22 369.15,183.72 368.5,184.21 367.83,184.7 367.15,185.18 366.46,185.67 365.76,186.15 365.3,186.45 365.04,186.62 364.32,187.09 363.57,187.56 362.82,188.02 362.05,188.48 361.26,188.94 360.46,189.38 359.65,189.83 358.81,190.26 357.96,190.69 357.09,191.11 356.34,191.46 356.2,191.52 355.29,191.93 354.35,192.32" fill="none" stroke="#2860e0" stroke-width="1.15"/>
<polyline points="393.31,171.64 393.62,171.11 393.94,170.54 394.02,170.4 394.25,169.97 394.55,169.4 394.65,169.21 394.84,168.83 395.11,168.25 395.19,168.08 395.37,167.67 395.62,167.08 395.65,167 395.84,166.49 396.03,165.97 396.06,165.9 396.25,165.3 396.35,164.99 396.43,164.69 396.59,164.08 396.6,164.04 396.72,163.47 396.79,163.14 396.84,162.85 396.93,162.27 396.93,162.22 397,161.58 397.01,161.43 397.04,160.93 397.05,160.62 397.05,160.27 397.04,159.85 397.03,159.61 397,159.1 396.98,158.93 396.91,158.37 396.89,158.23 396.78,157.67 396.75,157.52 396.63,156.99 396.57,156.8 396.44,156.33 396.34,156.05 396.22,155.7 396.06,155.29 395.97,155.08 395.71,154.5 395.7,154.48 395.4,153.89 395.27,153.67 395.07,153.33 394.75,152.82 394.73,152.77 394.36,152.23 394.12,151.91 393.97,151.71 393.56,151.2 393.36,150.95 393.14,150.7 392.69,150.21 392.41,149.92 392.23,149.74 391.75,149.27 391.26,148.82 391.22,148.79 390.75,148.38 390.22,147.94 389.69,147.52 389.64,147.48 389.13,147.11 388.57,146.7 387.98,146.31 387.39,145.92 387.25,145.84 386.78,145.55 386.16,145.18 385.53,144.82 384.88,144.47 384.22,144.12 383.55,143.79 382.87,143.46 382.17,143.14 381.46,142.83 380.73,142.53 379.99,142.23 379.24,141.94 378.47,141.67 377.69,141.4 376.9,141.13 376.09,140.88 375.67,140.76 375.26,140.64 374.41,140.4 373.55,140.18 372.67,139.96 372.36,139.89 371.78,139.76 370.86,139.56 369.92,139.38 369.83,139.36 368.96,139.2 367.97,139.04 367.68,139 366.96,138.89 365.92,138.76 365.78,138.74 364.85,138.64 364.05,138.56 363.74,138.53 362.6,138.45 362.44,138.44 361.42,138.38 360.94,138.36 360.2,138.33 359.52,138.32 358.92,138.31 358.17,138.3 357.59,138.31 356.89,138.32 356.18,138.34 355.65,138.36 354.7,138.41 354.46,138.42 353.31,138.5 353.13,138.52 352.2,138.6 351.44,138.68 351.12,138.71 350.07,138.84 349.6,138.9 349.05,138.98 348.05,139.13 347.57,139.21 347.07,139.29 346.12,139.46 345.29,139.62 345.18,139.65 344.26,139.84 343.35,140.04 342.63,140.21 342.46,140.25 341.59,140.47 340.73,140.69 339.88,140.92 339.32,141.08 339.04,141.16 338.21,141.4 337.39,141.65 336.58,141.9 335.78,142.16 334.98,142.43 334.57,142.57 334.19,142.7 333.41,142.97 332.64,143.25 331.87,143.54 331.11,143.83 330.35,144.12 329.6,144.42 328.85,144.72 328.11,145.02 327.37,145.33 326.63,145.64 325.9,145.96 325.17,146.28 324.44,146.6 323.72,146.93 323,147.26 322.28,147.59 321.57,147.93 320.86,148.27 320.15,148.61 319.44,148.96 318.73,149.31 318.03,149.66 317.32,150.01 316.62,150.37 315.93,150.73 315.51,150.95 315.23,151.1 314.53,151.47 313.84,151.84 313.15,152.21 312.46,152.59 311.78,152.97 311.09,153.36 310.41,153.74 309.81,154.09 309.72,154.13 309.04,154.53 308.37,154.93 307.69,155.33 307.02,155.74 306.35,156.15 305.78,156.5 305.68,156.56 305.02,156.98 304.35,157.4 303.7,157.83 303.04,158.26 302.62,158.54 302.39,158.69 301.74,159.14 301.1,159.58 300.46,160.03 300.05,160.33 299.82,160.49 299.19,160.96 298.57,161.43" fill="none" stroke="#30a0e0" stroke-width="1.15"/>
<polyline points="321.75,143.4 321.22,143.66 320.53,143.99 319.84,144.32 319.15,144.66 318.46,145 317.77,145.34 317.08,145.68 316.39,146.03 315.7,146.37 315.02,146.72 314.33,147.08 313.64,147.43 312.95,147.79 312.92,147.8 312.27,148.15 311.58,148.51 310.89,148.87 310.21,149.24 309.52,149.6 308.83,149.97 308.14,150.34 307.45,150.72 306.98,150.98 306.77,151.1 306.08,151.47 305.39,151.86 304.7,152.24 304.02,152.63 303.33,153.01 302.64,153.4 302.13,153.7 301.95,153.8 301.26,154.19 300.58,154.59 299.89,155 299.2,155.4 298.51,155.81 298.01,156.11 297.83,156.22 297.15,156.63 296.46,157.05 295.78,157.47 295.1,157.89 294.48,158.28 294.42,158.32 293.74,158.75" fill="none" stroke="#20c0d8" stroke-width="1.15"/>
<polyline points="365.68,133.54 365.56,133.53 364.44,133.45 364.12,133.42 363.29,133.38 362.65,133.35 362.1,133.33 361.26,133.3 360.87,133.3 359.92,133.29 359.59,133.29 358.65,133.29 358.26,133.3 357.42,133.32 356.85,133.34 356.24,133.37 355.37,133.42 355.1,133.44 353.99,133.52 353.8,133.54 352.92,133.62 352.11,133.71 351.87,133.73 350.86,133.86 350.27,133.94 349.87,134 348.9,134.15 348.23,134.26 347.95,134.31 347.03,134.48 346.12,134.65 345.9,134.7 345.23,134.84 344.36,135.04 343.5,135.24 343.13,135.33 342.65,135.45 341.82,135.67 341,135.9 340.19,136.13 339.51,136.33 339.39,136.36 338.6,136.61 337.82,136.85 337.04,137.11 336.28,137.37 335.52,137.63 334.76,137.9 334.02,138.17 333.28,138.44 333.18,138.48" fill="none" stroke="#20c0d8" stroke-width="1.15"/>
<polyline points="406.25,164.39 406.38,163.86 406.49,163.43 406.53,163.26 406.65,162.65 406.68,162.51 406.75,162.04 406.81,161.63 406.84,161.42 406.9,160.8 406.9,160.78 406.93,160.16 406.94,159.96 406.94,159.52 406.94,159.17 406.93,158.87 406.9,158.4 406.88,158.21 406.82,157.66 406.8,157.54 406.7,156.94 406.69,156.86 406.56,156.25 406.54,156.16 406.38,155.58 406.34,155.45 406.17,154.92 406.1,154.72 405.94,154.29 405.81,153.97 405.68,153.67 405.47,153.21 405.4,153.07 405.09,152.48 405.06,152.42 404.77,151.91 404.57,151.6 404.42,151.36 404.06,150.81 404.01,150.75 403.67,150.28 403.34,149.86" fill="none" stroke="#20c0d8" stroke-width="1.15"/>
<polyline points="294.47,155.15 294.45,155.16 293.75,155.56 293.04,155.97 292.34,156.37 291.64,156.78 290.93,157.19" fill="none" stroke="#20c8c8" stroke-width="1.15"/>
<polyline points="413.14,160.52 413.16,160.36 413.2,159.74 413.2,159.68 413.21,159.11 413.21,158.88 413.19,158.47 413.18,158.1 413.15,157.82 413.11,157.34 413.08,157.16 413,156.61 412.98,156.5 412.86,155.91 412.84,155.81 412.69,155.22 412.67,155.12 412.5,154.56 412.45,154.41 412.27,153.91 412.18,153.69" fill="none" stroke="#20c8c8" stroke-width="1.15"/>
<polyline points="357.96,130.19 357.54,130.21 356.78,130.24 356.11,130.27 355.65,130.3 354.59,130.37 354.54,130.38 353.48,130.47 352.96,130.52 352.44,130.57 351.43,130.69 351.21,130.72" fill="none" stroke="#20c8c8" stroke-width="1.15"/>
<text x="349.9" y="198.3" font-size="5.2" text-anchor="middle" fill="#0c0c0c" textLength="6.6" lengthAdjust="spacingAndGlyphs">160</text>
<text x="361.3" y="198.3" font-size="5.2" text-anchor="middle" fill="#0c0c0c" textLength="6.6" lengthAdjust="spacingAndGlyphs">200</text>
<text x="337.83" y="191.62" font-size="5.2" text-anchor="middle" fill="#0c0c0c" textLength="6.6" lengthAdjust="spacingAndGlyphs">240</text>
<text x="373.31" y="191.57" font-size="5.2" text-anchor="middle" fill="#0c0c0c" textLength="6.6" lengthAdjust="spacingAndGlyphs">300</text>
<text x="326.3" y="185.23" font-size="5.2" text-anchor="middle" fill="#0c0c0c" textLength="6.6" lengthAdjust="spacingAndGlyphs">320</text>
<text x="384.74" y="185.16" font-size="5.2" text-anchor="middle" fill="#0c0c0c" textLength="6.6" lengthAdjust="spacingAndGlyphs">400</text>
<text x="315.27" y="179.12" font-size="5.2" text-anchor="middle" fill="#0c0c0c" textLength="6.6" lengthAdjust="spacingAndGlyphs">400</text>
<text x="395.64" y="179.04" font-size="5.2" text-anchor="middle" fill="#0c0c0c" textLength="6.6" lengthAdjust="spacingAndGlyphs">500</text>
<text x="304.72" y="173.28" font-size="5.2" text-anchor="middle" fill="#0c0c0c" textLength="6.6" lengthAdjust="spacingAndGlyphs">480</text>
<text x="406.05" y="173.21" font-size="5.2" text-anchor="middle" fill="#0c0c0c" textLength="6.6" lengthAdjust="spacingAndGlyphs">600</text>
<text x="294.6" y="167.67" font-size="5.2" text-anchor="middle" fill="#0c0c0c" textLength="6.6" lengthAdjust="spacingAndGlyphs">560</text>
<text x="415.99" y="167.63" font-size="5.2" text-anchor="middle" fill="#0c0c0c" textLength="6.6" lengthAdjust="spacingAndGlyphs">700</text>
<text x="284.9" y="162.3" font-size="5.2" text-anchor="middle" fill="#0c0c0c" textLength="6.6" lengthAdjust="spacingAndGlyphs">640</text>
<text x="425.5" y="162.3" font-size="5.2" text-anchor="middle" fill="#0c0c0c" textLength="6.6" lengthAdjust="spacingAndGlyphs">800</text>
<text x="298.2" y="188.3" font-size="3.3" text-anchor="middle" fill="#333" textLength="23.7" lengthAdjust="spacingAndGlyphs">B: Cholesterol (mg)</text>
<text x="412.7" y="188.8" font-size="3.3" text-anchor="middle" fill="#333" textLength="24.3" lengthAdjust="spacingAndGlyphs">A: Soy lecithin (mg)</text>
<polygon points="355.32,89.36 358.42,87.26 355.29,84.88 352.2,86.87" fill="#3aedf0" stroke="#222" stroke-width="0.4" stroke-opacity="0.7"/>
<polygon points="352.22,91.36 355.32,89.36 352.2,86.87 349.09,88.75" fill="#34ebf6" stroke="#222" stroke-width="0.4" stroke-opacity="0.7"/>
<polygon points="358.45,91.72 361.54,89.52 358.42,87.26 355.32,89.36" fill="#3feaf8" stroke="#222" stroke-width="0.4" stroke-opacity="0.7"/>
<polygon points="349.09,93.25 352.22,91.36 349.09,88.75 345.96,90.52" fill="#2fe4f7" stroke="#222" stroke-width="0.4" stroke-opacity="0.7"/>
<polygon points="355.35,93.82 358.45,91.72 355.32,89.36 352.22,91.36" fill="#39dff8" stroke="#222" stroke-width="0.4" stroke-opacity="0.7"/>
<polygon points="361.59,93.95 364.68,91.66 361.54,89.52 358.45,91.72" fill="#43e0f9" stroke="#222" stroke-width="0.4" stroke-opacity="0.7"/>
<polygon points="345.95,95.05 349.09,93.25 345.96,90.52 342.81,92.18" fill="#2adcf8" stroke="#222" stroke-width="0.4" stroke-opacity="0.7"/>
<polygon points="352.23,95.84 355.35,93.82 352.22,91.36 349.09,93.25" fill="#34d5f9" stroke="#222" stroke-width="0.4" stroke-opacity="0.7"/>
<polygon points="358.49,96.15 361.59,93.95 358.45,91.72 355.35,93.82" fill="#3ed4fa" stroke="#222" stroke-width="0.4" stroke-opacity="0.7"/>
<polygon points="364.74,96.04 367.83,93.66 364.68,91.66 361.59,93.95" fill="#47d7fa" stroke="#222" stroke-width="0.4" stroke-opacity="0.7"/>
<polygon points="342.78,96.75 345.95,95.05 342.81,92.18 339.63,93.74" fill="#25d5f8" stroke="#222" stroke-width="0.4" stroke-opacity="0.7"/>
<polygon points="349.09,97.76 352.23,95.84 349.09,93.25 345.95,95.05" fill="#2fccfa" stroke="#222" stroke-width="0.4" stroke-opacity="0.7"/>
<polygon points="355.37,98.27 358.49,96.15 355.35,93.82 352.23,95.84" fill="#39cafa" stroke="#222" stroke-width="0.4" stroke-opacity="0.7"/>
<polygon points="361.64,98.34 364.74,96.04 361.59,93.95 358.49,96.15" fill="#43cbfb" stroke="#222" stroke-width="0.4" stroke-opacity="0.7"/>
<polygon points="367.91,98 371,95.54 367.83,93.66 364.74,96.04" fill="#4bd0fb" stroke="#222" stroke-width="0.4" stroke-opacity="0.7"/>
<polygon points="339.59,98.36 342.78,96.75 339.63,93.74 336.44,95.21" fill="#21cff9" stroke="#222" stroke-width="0.4" stroke-opacity="0.7"/>
<polygon points="345.93,99.59 349.09,97.76 345.95,95.05 342.78,96.75" fill="#2bc4fa" stroke="#222" stroke-width="0.4" stroke-opacity="0.7"/>
<polygon points="352.24,100.31 355.37,98.27 352.23,95.84 349.09,97.76" fill="#35c0fb" stroke="#222" stroke-width="0.4" stroke-opacity="0.7"/>
<polygon points="358.53,100.56 361.64,98.34 358.49,96.15 355.37,98.27" fill="#3ec0fb" stroke="#222" stroke-width="0.4" stroke-opacity="0.7"/>
<polygon points="364.81,100.39 367.91,98 364.74,96.04 361.64,98.34" fill="#47c4fb" stroke="#222" stroke-width="0.4" stroke-opacity="0.7"/>
<polygon points="371.1,99.82 374.19,97.28 371,95.54 367.91,98" fill="#4ecbfb" stroke="#222" stroke-width="0.4" stroke-opacity="0.7"/>
<polygon points="336.38,99.89 339.59,98.36 336.44,95.21 333.21,96.58" fill="#1dcaf8" stroke="#222" stroke-width="0.4" stroke-opacity="0.7"/>
<polygon points="342.75,101.34 345.93,99.59 342.78,96.75 339.59,98.36" fill="#26bdfb" stroke="#222" stroke-width="0.4" stroke-opacity="0.7"/>
<polygon points="349.08,102.26 352.24,100.31 349.09,97.76 345.93,99.59" fill="#30b6fc" stroke="#222" stroke-width="0.4" stroke-opacity="0.7"/>
<polygon points="355.39,102.7 358.53,100.56 355.37,98.27 352.24,100.31" fill="#39b5fc" stroke="#222" stroke-width="0.4" stroke-opacity="0.7"/>
<polygon points="361.69,102.7 364.81,100.39 361.64,98.34 358.53,100.56" fill="#42b8fc" stroke="#222" stroke-width="0.4" stroke-opacity="0.7"/>
<polygon points="368,102.29 371.1,99.82 367.91,98 364.81,100.39" fill="#4abefc" stroke="#222" stroke-width="0.4" stroke-opacity="0.7"/>
<polygon points="374.31,101.5 377.4,98.9 374.19,97.28 371.1,99.82" fill="#50c7fc" stroke="#222" stroke-width="0.4" stroke-opacity="0.7"/>
<polygon points="333.14,101.33 336.38,99.89 333.21,96.58 329.96,97.88" fill="#1ac4f5" stroke="#222" stroke-width="0.4" stroke-opacity="0.7"/>
<polygon points="339.54,103 342.75,101.34 339.59,98.36 336.38,99.89" fill="#22b7fb" stroke="#222" stroke-width="0.4" stroke-opacity="0.7"/>
<polygon points="345.9,104.13 349.08,102.26 345.93,99.59 342.75,101.34" fill="#2baefc" stroke="#222" stroke-width="0.4" stroke-opacity="0.7"/>
<polygon points="352.24,104.76 355.39,102.7 352.24,100.31 349.08,102.26" fill="#35abfd" stroke="#222" stroke-width="0.4" stroke-opacity="0.7"/>
<polygon points="358.56,104.93 361.69,102.7 358.53,100.56 355.39,102.7" fill="#3eacfd" stroke="#222" stroke-width="0.4" stroke-opacity="0.7"/>
<polygon points="364.88,104.68 368,102.29 364.81,100.39 361.69,102.7" fill="#46b2fd" stroke="#222" stroke-width="0.4" stroke-opacity="0.7"/>
<polygon points="371.2,104.04 374.31,101.5 371.1,99.82 368,102.29" fill="#4dbafd" stroke="#222" stroke-width="0.4" stroke-opacity="0.7"/>
<polygon points="377.54,103.04 380.63,100.37 377.4,98.9 374.31,101.5" fill="#52c4fc" stroke="#222" stroke-width="0.4" stroke-opacity="0.7"/>
<polygon points="329.87,102.69 333.14,101.33 329.96,97.88 326.68,99.1" fill="#17c0f3" stroke="#222" stroke-width="0.4" stroke-opacity="0.7"/>
<polygon points="336.31,104.57 339.54,103 336.38,99.89 333.14,101.33" fill="#1eb1fb" stroke="#222" stroke-width="0.4" stroke-opacity="0.7"/>
<polygon points="342.7,105.91 345.9,104.13 342.75,101.34 339.54,103" fill="#27a6fd" stroke="#222" stroke-width="0.4" stroke-opacity="0.7"/>
<polygon points="349.07,106.73 352.24,104.76 349.08,102.26 345.9,104.13" fill="#30a1fe" stroke="#222" stroke-width="0.4" stroke-opacity="0.7"/>
<polygon points="355.41,107.08 358.56,104.93 355.39,102.7 352.24,104.76" fill="#39a1fe" stroke="#222" stroke-width="0.4" stroke-opacity="0.7"/>
<polygon points="361.75,106.99 364.88,104.68 361.69,102.7 358.56,104.93" fill="#42a6fe" stroke="#222" stroke-width="0.4" stroke-opacity="0.7"/>
<polygon points="368.09,106.5 371.2,104.04 368,102.29 364.88,104.68" fill="#49adfe" stroke="#222" stroke-width="0.4" stroke-opacity="0.7"/>
<polygon points="374.44,105.64 377.54,103.04 374.31,101.5 371.2,104.04" fill="#4fb7fd" stroke="#222" stroke-width="0.4" stroke-opacity="0.7"/>
<polygon points="380.8,104.43 383.9,101.7 380.63,100.37 377.54,103.04" fill="#53c3fc" stroke="#222" stroke-width="0.4" stroke-opacity="0.7"/>
<polygon points="326.57,103.98 329.87,102.69 326.68,99.1 323.37,100.24" fill="#14bcf0" stroke="#222" stroke-width="0.4" stroke-opacity="0.7"/>
<polygon points="333.05,106.07 336.31,104.57 333.14,101.33 329.87,102.69" fill="#1bacf9" stroke="#222" stroke-width="0.4" stroke-opacity="0.7"/>
<polygon points="339.47,107.6 342.7,105.91 339.54,103 336.31,104.57" fill="#239ffd" stroke="#222" stroke-width="0.4" stroke-opacity="0.7"/>
<polygon points="345.87,108.62 349.07,106.73 345.9,104.13 342.7,105.91" fill="#2c98fe" stroke="#222" stroke-width="0.4" stroke-opacity="0.7"/>
<polygon points="352.24,109.15 355.41,107.08 352.24,104.76 349.07,106.73" fill="#3597ff" stroke="#222" stroke-width="0.4" stroke-opacity="0.7"/>
<polygon points="358.6,109.23 361.75,106.99 358.56,104.93 355.41,107.08" fill="#3d9aff" stroke="#222" stroke-width="0.4" stroke-opacity="0.7"/>
<polygon points="364.96,108.89 368.09,106.5 364.88,104.68 361.75,106.99" fill="#45a1ff" stroke="#222" stroke-width="0.4" stroke-opacity="0.7"/>
<polygon points="371.32,108.16 374.44,105.64 371.2,104.04 368.09,106.5" fill="#4baafe" stroke="#222" stroke-width="0.4" stroke-opacity="0.7"/>
<polygon points="377.7,107.08 380.8,104.43 377.54,103.04 374.44,105.64" fill="#50b5fd" stroke="#222" stroke-width="0.4" stroke-opacity="0.7"/>
<polygon points="384.09,105.66 387.19,102.9 383.9,101.7 380.8,104.43" fill="#54c2fc" stroke="#222" stroke-width="0.4" stroke-opacity="0.7"/>
<polygon points="323.24,105.19 326.57,103.98 323.37,100.24 320.03,101.31" fill="#12baee" stroke="#222" stroke-width="0.4" stroke-opacity="0.7"/>
<polygon points="329.75,107.48 333.05,106.07 329.87,102.69 326.57,103.98" fill="#18a7f7" stroke="#222" stroke-width="0.4" stroke-opacity="0.7"/>
<polygon points="336.22,109.22 339.47,107.6 336.31,104.57 333.05,106.07" fill="#2099fd" stroke="#222" stroke-width="0.4" stroke-opacity="0.7"/>
<polygon points="342.65,110.42 345.87,108.62 342.7,105.91 339.47,107.6" fill="#2890ff" stroke="#222" stroke-width="0.4" stroke-opacity="0.7"/>
<polygon points="349.05,111.14 352.24,109.15 349.07,106.73 345.87,108.62" fill="#318eff" stroke="#222" stroke-width="0.4" stroke-opacity="0.7"/>
<polygon points="355.43,111.38 358.6,109.23 355.41,107.08 352.24,109.15" fill="#3a90ff" stroke="#222" stroke-width="0.4" stroke-opacity="0.7"/>
<polygon points="361.81,111.2 364.96,108.89 361.75,106.99 358.6,109.23" fill="#4195ff" stroke="#222" stroke-width="0.4" stroke-opacity="0.7"/>
<polygon points="368.19,110.62 371.32,108.16 368.09,106.5 364.96,108.89" fill="#479dff" stroke="#222" stroke-width="0.4" stroke-opacity="0.7"/>
<polygon points="374.58,109.66 377.7,107.08 374.44,105.64 371.32,108.16" fill="#4ca8fe" stroke="#222" stroke-width="0.4" stroke-opacity="0.7"/>
<polygon points="380.98,108.36 384.09,105.66 380.8,104.43 377.7,107.08" fill="#51b4fd" stroke="#222" stroke-width="0.4" stroke-opacity="0.7"/>
<polygon points="387.41,106.75 390.51,103.94 387.19,102.9 384.09,105.66" fill="#54c3fc" stroke="#222" stroke-width="0.4" stroke-opacity="0.7"/>
<polygon points="319.88,106.33 323.24,105.19 320.03,101.31 316.66,102.33" fill="#10b9eb" stroke="#222" stroke-width="0.4" stroke-opacity="0.7"/>
<polygon points="326.43,108.81 329.75,107.48 326.57,103.98 323.24,105.19" fill="#15a3f4" stroke="#222" stroke-width="0.4" stroke-opacity="0.7"/>
<polygon points="332.93,110.74 336.22,109.22 333.05,106.07 329.75,107.48" fill="#1c94fc" stroke="#222" stroke-width="0.4" stroke-opacity="0.7"/>
<polygon points="339.4,112.14 342.65,110.42 339.47,107.6 336.22,109.22" fill="#2489ff" stroke="#222" stroke-width="0.4" stroke-opacity="0.7"/>
<polygon points="345.83,113.04 349.05,111.14 345.87,108.62 342.65,110.42" fill="#2e85ff" stroke="#222" stroke-width="0.4" stroke-opacity="0.7"/>
<polygon points="352.24,113.45 355.43,111.38 352.24,109.15 349.05,111.14" fill="#3686ff" stroke="#222" stroke-width="0.4" stroke-opacity="0.7"/>
<polygon points="358.64,113.43 361.81,111.2 358.6,109.23 355.43,111.38" fill="#3e8bff" stroke="#222" stroke-width="0.4" stroke-opacity="0.7"/>
<polygon points="365.04,112.99 368.19,110.62 364.96,108.89 361.81,111.2" fill="#4492ff" stroke="#222" stroke-width="0.4" stroke-opacity="0.7"/>
<polygon points="371.45,112.17 374.58,109.66 371.32,108.16 368.19,110.62" fill="#499bff" stroke="#222" stroke-width="0.4" stroke-opacity="0.7"/>
<polygon points="377.87,110.99 380.98,108.36 377.7,107.08 374.58,109.66" fill="#4da7fe" stroke="#222" stroke-width="0.4" stroke-opacity="0.7"/>
<polygon points="384.3,109.49 387.41,106.75 384.09,105.66 380.98,108.36" fill="#51b5fd" stroke="#222" stroke-width="0.4" stroke-opacity="0.7"/>
<polygon points="390.76,107.68 393.86,104.84 390.51,103.94 387.41,106.75" fill="#53c4fc" stroke="#222" stroke-width="0.4" stroke-opacity="0.7"/>
<polygon points="316.48,107.41 319.88,106.33 316.66,102.33 313.25,103.28" fill="#0eb8e9" stroke="#222" stroke-width="0.4" stroke-opacity="0.7"/>
<polygon points="323.08,110.07 326.43,108.81 323.24,105.19 319.88,106.33" fill="#13a1f2" stroke="#222" stroke-width="0.4" stroke-opacity="0.7"/>
<polygon points="329.62,112.19 332.93,110.74 329.75,107.48 326.43,108.81" fill="#198ffa" stroke="#222" stroke-width="0.4" stroke-opacity="0.7"/>
<polygon points="336.12,113.77 339.4,112.14 336.22,109.22 332.93,110.74" fill="#2184ff" stroke="#222" stroke-width="0.4" stroke-opacity="0.7"/>
<polygon points="342.58,114.85 345.83,113.04 342.65,110.42 339.4,112.14" fill="#2a7eff" stroke="#222" stroke-width="0.4" stroke-opacity="0.7"/>
<polygon points="349.02,115.44 352.24,113.45 349.05,111.14 345.83,113.04" fill="#337dff" stroke="#222" stroke-width="0.4" stroke-opacity="0.7"/>
<polygon points="355.45,115.57 358.64,113.43 355.43,111.38 352.24,113.45" fill="#3a80ff" stroke="#222" stroke-width="0.4" stroke-opacity="0.7"/>
<polygon points="361.87,115.29 365.04,112.99 361.81,111.2 358.64,113.43" fill="#4187ff" stroke="#222" stroke-width="0.4" stroke-opacity="0.7"/>
<polygon points="368.3,114.6 371.45,112.17 368.19,110.62 365.04,112.99" fill="#468fff" stroke="#222" stroke-width="0.4" stroke-opacity="0.7"/>
<polygon points="374.73,113.55 377.87,110.99 374.58,109.66 371.45,112.17" fill="#4a9aff" stroke="#222" stroke-width="0.4" stroke-opacity="0.7"/>
<polygon points="381.18,112.16 384.3,109.49 380.98,108.36 377.87,110.99" fill="#4da7fe" stroke="#222" stroke-width="0.4" stroke-opacity="0.7"/>
<polygon points="387.65,110.45 390.76,107.68 387.41,106.75 384.3,109.49" fill="#50b6fd" stroke="#222" stroke-width="0.4" stroke-opacity="0.7"/>
<polygon points="394.14,108.45 397.24,105.59 393.86,104.84 390.76,107.68" fill="#52c7fc" stroke="#222" stroke-width="0.4" stroke-opacity="0.7"/>
<polygon points="313.06,108.42 316.48,107.41 313.25,103.28 309.82,104.19" fill="#0db9e7" stroke="#222" stroke-width="0.4" stroke-opacity="0.7"/>
<polygon points="319.69,111.25 323.08,110.07 319.88,106.33 316.48,107.41" fill="#119fef" stroke="#222" stroke-width="0.4" stroke-opacity="0.7"/>
<polygon points="326.27,113.55 329.62,112.19 326.43,108.81 323.08,110.07" fill="#178cf8" stroke="#222" stroke-width="0.4" stroke-opacity="0.7"/>
<polygon points="332.8,115.32 336.12,113.77 332.93,110.74 329.62,112.19" fill="#1e7ffe" stroke="#222" stroke-width="0.4" stroke-opacity="0.7"/>
<polygon points="339.3,116.57 342.58,114.85 339.4,112.14 336.12,113.77" fill="#2778ff" stroke="#222" stroke-width="0.4" stroke-opacity="0.7"/>
<polygon points="345.78,117.33 349.02,115.44 345.83,113.04 342.58,114.85" fill="#2f75ff" stroke="#222" stroke-width="0.4" stroke-opacity="0.7"/>
<polygon points="352.23,117.63 355.45,115.57 352.24,113.45 349.02,115.44" fill="#3777ff" stroke="#222" stroke-width="0.4" stroke-opacity="0.7"/>
<polygon points="358.68,117.5 361.87,115.29 358.64,113.43 355.45,115.57" fill="#3e7cff" stroke="#222" stroke-width="0.4" stroke-opacity="0.7"/>
<polygon points="365.13,116.95 368.3,114.6 365.04,112.99 361.87,115.29" fill="#4384ff" stroke="#222" stroke-width="0.4" stroke-opacity="0.7"/>
<polygon points="371.59,116.03 374.73,113.55 371.45,112.17 368.3,114.6" fill="#478eff" stroke="#222" stroke-width="0.4" stroke-opacity="0.7"/>
<polygon points="378.05,114.75 381.18,112.16 377.87,110.99 374.73,113.55" fill="#4a9aff" stroke="#222" stroke-width="0.4" stroke-opacity="0.7"/>
<polygon points="384.53,113.15 387.65,110.45 384.3,109.49 381.18,112.16" fill="#4ca8fe" stroke="#222" stroke-width="0.4" stroke-opacity="0.7"/>
<polygon points="391.04,111.24 394.14,108.45 390.76,107.68 387.65,110.45" fill="#4eb9fd" stroke="#222" stroke-width="0.4" stroke-opacity="0.7"/>
<polygon points="397.56,109.05 400.66,106.18 397.24,105.59 394.14,108.45" fill="#50cbfb" stroke="#222" stroke-width="0.4" stroke-opacity="0.7"/>
<polygon points="309.59,109.37 313.06,108.42 309.82,104.19 306.35,105.05" fill="#0cbbe5" stroke="#222" stroke-width="0.4" stroke-opacity="0.7"/>
<polygon points="316.27,112.36 319.69,111.25 316.48,107.41 313.06,108.42" fill="#0f9fed" stroke="#222" stroke-width="0.4" stroke-opacity="0.7"/>
<polygon points="322.89,114.83 326.27,113.55 323.08,110.07 319.69,111.25" fill="#1489f5" stroke="#222" stroke-width="0.4" stroke-opacity="0.7"/>
<polygon points="329.46,116.77 332.8,115.32 329.62,112.19 326.27,113.55" fill="#1b7bfc" stroke="#222" stroke-width="0.4" stroke-opacity="0.7"/>
<polygon points="336,118.2 339.3,116.57 336.12,113.77 332.8,115.32" fill="#2372ff" stroke="#222" stroke-width="0.4" stroke-opacity="0.7"/>
<polygon points="342.5,119.13 345.78,117.33 342.58,114.85 339.3,116.57" fill="#2c6eff" stroke="#222" stroke-width="0.4" stroke-opacity="0.7"/>
<polygon points="348.99,119.6 352.23,117.63 349.02,115.44 345.78,117.33" fill="#336eff" stroke="#222" stroke-width="0.4" stroke-opacity="0.7"/>
<polygon points="355.47,119.62 358.68,117.5 355.45,115.57 352.23,117.63" fill="#3a72ff" stroke="#222" stroke-width="0.4" stroke-opacity="0.7"/>
<polygon points="361.94,119.22 365.13,116.95 361.87,115.29 358.68,117.5" fill="#4079ff" stroke="#222" stroke-width="0.4" stroke-opacity="0.7"/>
<polygon points="368.42,118.43 371.59,116.03 368.3,114.6 365.13,116.95" fill="#4483ff" stroke="#222" stroke-width="0.4" stroke-opacity="0.7"/>
<polygon points="374.9,117.27 378.05,114.75 374.73,113.55 371.59,116.03" fill="#478eff" stroke="#222" stroke-width="0.4" stroke-opacity="0.7"/>
<polygon points="381.4,115.77 384.53,113.15 381.18,112.16 378.05,114.75" fill="#499bff" stroke="#222" stroke-width="0.4" stroke-opacity="0.7"/>
<polygon points="387.92,113.96 391.04,111.24 387.65,110.45 384.53,113.15" fill="#4babfe" stroke="#222" stroke-width="0.4" stroke-opacity="0.7"/>
<polygon points="394.45,111.86 397.56,109.05 394.14,108.45 391.04,111.24" fill="#4cbcfc" stroke="#222" stroke-width="0.4" stroke-opacity="0.7"/>
<polygon points="401.01,109.49 404.12,106.61 400.66,106.18 397.56,109.05" fill="#4dd0fb" stroke="#222" stroke-width="0.4" stroke-opacity="0.7"/>
<polygon points="306.1,110.26 309.59,109.37 306.35,105.05 302.85,105.87" fill="#0bbde3" stroke="#222" stroke-width="0.4" stroke-opacity="0.7"/>
<polygon points="312.82,113.39 316.27,112.36 313.06,108.42 309.59,109.37" fill="#0ea0eb" stroke="#222" stroke-width="0.4" stroke-opacity="0.7"/>
<polygon points="319.47,116.02 322.89,114.83 319.69,111.25 316.27,112.36" fill="#1288f3" stroke="#222" stroke-width="0.4" stroke-opacity="0.7"/>
<polygon points="326.08,118.13 329.46,116.77 326.27,113.55 322.89,114.83" fill="#1877f9" stroke="#222" stroke-width="0.4" stroke-opacity="0.7"/>
<polygon points="332.66,119.73 336,118.2 332.8,115.32 329.46,116.77" fill="#206dfe" stroke="#222" stroke-width="0.4" stroke-opacity="0.7"/>
<polygon points="339.2,120.84 342.5,119.13 339.3,116.57 336,118.2" fill="#2867ff" stroke="#222" stroke-width="0.4" stroke-opacity="0.7"/>
<polygon points="345.72,121.47 348.99,119.6 345.78,117.33 342.5,119.13" fill="#3066ff" stroke="#222" stroke-width="0.4" stroke-opacity="0.7"/>
<polygon points="352.23,121.65 355.47,119.62 352.23,117.63 348.99,119.6" fill="#3669ff" stroke="#222" stroke-width="0.4" stroke-opacity="0.7"/>
<polygon points="358.73,121.4 361.94,119.22 358.68,117.5 355.47,119.62" fill="#3c6fff" stroke="#222" stroke-width="0.4" stroke-opacity="0.7"/>
<polygon points="365.23,120.74 368.42,118.43 365.13,116.95 361.94,119.22" fill="#4178ff" stroke="#222" stroke-width="0.4" stroke-opacity="0.7"/>
<polygon points="371.74,119.71 374.9,117.27 371.59,116.03 368.42,118.43" fill="#4482ff" stroke="#222" stroke-width="0.4" stroke-opacity="0.7"/>
<polygon points="378.25,118.32 381.4,115.77 378.05,114.75 374.9,117.27" fill="#478fff" stroke="#222" stroke-width="0.4" stroke-opacity="0.7"/>
<polygon points="384.78,116.61 387.92,113.96 384.53,113.15 381.4,115.77" fill="#479dff" stroke="#222" stroke-width="0.4" stroke-opacity="0.7"/>
<polygon points="391.34,114.59 394.45,111.86 391.04,111.24 387.92,113.96" fill="#49aefe" stroke="#222" stroke-width="0.4" stroke-opacity="0.7"/>
<polygon points="397.91,112.3 401.01,109.49 397.56,109.05 394.45,111.86" fill="#4ac2fc" stroke="#222" stroke-width="0.4" stroke-opacity="0.7"/>
<polygon points="404.5,109.75 407.6,106.88 404.12,106.61 401.01,109.49" fill="#4ad7fa" stroke="#222" stroke-width="0.4" stroke-opacity="0.7"/>
<polygon points="302.57,111.1 306.1,110.26 302.85,105.87 299.32,106.65" fill="#0ac0e1" stroke="#222" stroke-width="0.4" stroke-opacity="0.7"/>
<polygon points="309.33,114.35 312.82,113.39 309.59,109.37 306.1,110.26" fill="#0da1e9" stroke="#222" stroke-width="0.4" stroke-opacity="0.7"/>
<polygon points="316.02,117.13 319.47,116.02 316.27,112.36 312.82,113.39" fill="#1087f0" stroke="#222" stroke-width="0.4" stroke-opacity="0.7"/>
<polygon points="322.67,119.4 326.08,118.13 322.89,114.83 319.47,116.02" fill="#1675f6" stroke="#222" stroke-width="0.4" stroke-opacity="0.7"/>
<polygon points="329.28,121.17 332.66,119.73 329.46,116.77 326.08,118.13" fill="#1d69fc" stroke="#222" stroke-width="0.4" stroke-opacity="0.7"/>
<polygon points="335.86,122.45 339.2,120.84 336,118.2 332.66,119.73" fill="#2562ff" stroke="#222" stroke-width="0.4" stroke-opacity="0.7"/>
<polygon points="342.42,123.25 345.72,121.47 342.5,119.13 339.2,120.84" fill="#2c5fff" stroke="#222" stroke-width="0.4" stroke-opacity="0.7"/>
<polygon points="348.96,123.58 352.23,121.65 348.99,119.6 345.72,121.47" fill="#3360ff" stroke="#222" stroke-width="0.4" stroke-opacity="0.7"/>
<polygon points="355.49,123.48 358.73,121.4 355.47,119.62 352.23,121.65" fill="#3965ff" stroke="#222" stroke-width="0.4" stroke-opacity="0.7"/>
<polygon points="362.01,122.97 365.23,120.74 361.94,119.22 358.73,121.4" fill="#3e6dff" stroke="#222" stroke-width="0.4" stroke-opacity="0.7"/>
<polygon points="368.55,122.06 371.74,119.71 368.42,118.43 365.23,120.74" fill="#4177ff" stroke="#222" stroke-width="0.4" stroke-opacity="0.7"/>
<polygon points="375.08,120.79 378.25,118.32 374.9,117.27 371.74,119.71" fill="#4483ff" stroke="#222" stroke-width="0.4" stroke-opacity="0.7"/>
<polygon points="381.64,119.19 384.78,116.61 381.4,115.77 378.25,118.32" fill="#4591ff" stroke="#222" stroke-width="0.4" stroke-opacity="0.7"/>
<polygon points="388.2,117.26 391.34,114.59 387.92,113.96 384.78,116.61" fill="#45a1ff" stroke="#222" stroke-width="0.4" stroke-opacity="0.7"/>
<polygon points="394.79,115.04 397.91,112.3 394.45,111.86 391.34,114.59" fill="#46b4fd" stroke="#222" stroke-width="0.4" stroke-opacity="0.7"/>
<polygon points="401.39,112.56 404.5,109.75 401.01,109.49 397.91,112.3" fill="#46c8fb" stroke="#222" stroke-width="0.4" stroke-opacity="0.7"/>
<polygon points="408.02,109.83 411.12,106.98 407.6,106.88 404.5,109.75" fill="#46dff9" stroke="#222" stroke-width="0.4" stroke-opacity="0.7"/>
<polygon points="299.01,111.89 302.57,111.1 299.32,106.65 295.76,107.41" fill="#09c4e0" stroke="#222" stroke-width="0.4" stroke-opacity="0.7"/>
<polygon points="305.8,115.25 309.33,114.35 306.1,110.26 302.57,111.1" fill="#0ba4e6" stroke="#222" stroke-width="0.4" stroke-opacity="0.7"/>
<polygon points="312.54,118.15 316.02,117.13 312.82,113.39 309.33,114.35" fill="#0e88ee" stroke="#222" stroke-width="0.4" stroke-opacity="0.7"/>
<polygon points="319.23,120.57 322.67,119.4 319.47,116.02 316.02,117.13" fill="#1374f4" stroke="#222" stroke-width="0.4" stroke-opacity="0.7"/>
<polygon points="325.87,122.51 329.28,121.17 326.08,118.13 322.67,119.4" fill="#1a66f9" stroke="#222" stroke-width="0.4" stroke-opacity="0.7"/>
<polygon points="332.49,123.95 335.86,122.45 332.66,119.73 329.28,121.17" fill="#215dfe" stroke="#222" stroke-width="0.4" stroke-opacity="0.7"/>
<polygon points="339.08,124.92 342.42,123.25 339.2,120.84 335.86,122.45" fill="#2859ff" stroke="#222" stroke-width="0.4" stroke-opacity="0.7"/>
<polygon points="345.65,125.42 348.96,123.58 345.72,121.47 342.42,123.25" fill="#2f59ff" stroke="#222" stroke-width="0.4" stroke-opacity="0.7"/>
<polygon points="352.22,125.47 355.49,123.48 352.23,121.65 348.96,123.58" fill="#355cff" stroke="#222" stroke-width="0.4" stroke-opacity="0.7"/>
<polygon points="358.77,125.1 362.01,122.97 358.73,121.4 355.49,123.48" fill="#3a63ff" stroke="#222" stroke-width="0.4" stroke-opacity="0.7"/>
<polygon points="365.33,124.33 368.55,122.06 365.23,120.74 362.01,122.97" fill="#3e6dff" stroke="#222" stroke-width="0.4" stroke-opacity="0.7"/>
<polygon points="371.9,123.18 375.08,120.79 371.74,119.71 368.55,122.06" fill="#4178ff" stroke="#222" stroke-width="0.4" stroke-opacity="0.7"/>
<polygon points="378.47,121.68 381.64,119.19 378.25,118.32 375.08,120.79" fill="#4285ff" stroke="#222" stroke-width="0.4" stroke-opacity="0.7"/>
<polygon points="385.05,119.85 388.2,117.26 384.78,116.61 381.64,119.19" fill="#4294ff" stroke="#222" stroke-width="0.4" stroke-opacity="0.7"/>
<polygon points="391.65,117.72 394.79,115.04 391.34,114.59 388.2,117.26" fill="#43a6fe" stroke="#222" stroke-width="0.4" stroke-opacity="0.7"/>
<polygon points="398.27,115.3 401.39,112.56 397.91,112.3 394.79,115.04" fill="#43bafc" stroke="#222" stroke-width="0.4" stroke-opacity="0.7"/>
<polygon points="404.91,112.63 408.02,109.83 404.5,109.75 401.39,112.56" fill="#43d1fa" stroke="#222" stroke-width="0.4" stroke-opacity="0.7"/>
<polygon points="411.57,109.74 414.67,106.91 411.12,106.98 408.02,109.83" fill="#42e9f8" stroke="#222" stroke-width="0.4" stroke-opacity="0.7"/>
<polygon points="295.42,112.64 299.01,111.89 295.76,107.41 292.16,108.15" fill="#09c9df" stroke="#222" stroke-width="0.4" stroke-opacity="0.7"/>
<polygon points="302.24,116.07 305.8,115.25 302.57,111.1 299.01,111.89" fill="#0aa7e4" stroke="#222" stroke-width="0.4" stroke-opacity="0.7"/>
<polygon points="309.02,119.09 312.54,118.15 309.33,114.35 305.8,115.25" fill="#0d8aeb" stroke="#222" stroke-width="0.4" stroke-opacity="0.7"/>
<polygon points="315.74,121.65 319.23,120.57 316.02,117.13 312.54,118.15" fill="#1173f1" stroke="#222" stroke-width="0.4" stroke-opacity="0.7"/>
<polygon points="322.43,123.75 325.87,122.51 322.67,119.4 319.23,120.57" fill="#1764f6" stroke="#222" stroke-width="0.4" stroke-opacity="0.7"/>
<polygon points="329.08,125.35 332.49,123.95 329.28,121.17 325.87,122.51" fill="#1e59fb" stroke="#222" stroke-width="0.4" stroke-opacity="0.7"/>
<polygon points="335.71,126.48 339.08,124.92 335.86,122.45 332.49,123.95" fill="#2554ff" stroke="#222" stroke-width="0.4" stroke-opacity="0.7"/>
<polygon points="342.32,127.14 345.65,125.42 342.42,123.25 339.08,124.92" fill="#2b52ff" stroke="#222" stroke-width="0.4" stroke-opacity="0.7"/>
<polygon points="348.92,127.35 352.22,125.47 348.96,123.58 345.65,125.42" fill="#3154ff" stroke="#222" stroke-width="0.4" stroke-opacity="0.7"/>
<polygon points="355.51,127.13 358.77,125.1 355.49,123.48 352.22,125.47" fill="#365aff" stroke="#222" stroke-width="0.4" stroke-opacity="0.7"/>
<polygon points="362.09,126.5 365.33,124.33 362.01,122.97 358.77,125.1" fill="#3b62ff" stroke="#222" stroke-width="0.4" stroke-opacity="0.7"/>
<polygon points="368.68,125.48 371.9,123.18 368.55,122.06 365.33,124.33" fill="#3d6dff" stroke="#222" stroke-width="0.4" stroke-opacity="0.7"/>
<polygon points="375.28,124.09 378.47,121.68 375.08,120.79 371.9,123.18" fill="#3f7aff" stroke="#222" stroke-width="0.4" stroke-opacity="0.7"/>
<polygon points="381.89,122.37 385.05,119.85 381.64,119.19 378.47,121.68" fill="#4088ff" stroke="#222" stroke-width="0.4" stroke-opacity="0.7"/>
<polygon points="388.51,120.32 391.65,117.72 388.2,117.26 385.05,119.85" fill="#3f98ff" stroke="#222" stroke-width="0.4" stroke-opacity="0.7"/>
<polygon points="395.14,117.98 398.27,115.3 394.79,115.04 391.65,117.72" fill="#40adfd" stroke="#222" stroke-width="0.4" stroke-opacity="0.7"/>
<polygon points="401.79,115.37 404.91,112.63 401.39,112.56 398.27,115.3" fill="#3fc3fb" stroke="#222" stroke-width="0.4" stroke-opacity="0.7"/>
<polygon points="408.47,112.52 411.57,109.74 408.02,109.83 404.91,112.63" fill="#3fdbf9" stroke="#222" stroke-width="0.4" stroke-opacity="0.7"/>
<polygon points="415.16,109.46 418.25,106.66 414.67,106.91 411.57,109.74" fill="#3eedf0" stroke="#222" stroke-width="0.4" stroke-opacity="0.7"/>
<polygon points="291.79,113.34 295.42,112.64 292.16,108.15 288.53,108.87" fill="#09cedd" stroke="#222" stroke-width="0.4" stroke-opacity="0.7"/>
<polygon points="298.65,116.82 302.24,116.07 299.01,111.89 295.42,112.64" fill="#0aabe3" stroke="#222" stroke-width="0.4" stroke-opacity="0.7"/>
<polygon points="305.46,119.94 309.02,119.09 305.8,115.25 302.24,116.07" fill="#0b8de9" stroke="#222" stroke-width="0.4" stroke-opacity="0.7"/>
<polygon points="312.23,122.63 315.74,121.65 312.54,118.15 309.02,119.09" fill="#0f74ef" stroke="#222" stroke-width="0.4" stroke-opacity="0.7"/>
<polygon points="318.95,124.88 322.43,123.75 319.23,120.57 315.74,121.65" fill="#1463f3" stroke="#222" stroke-width="0.4" stroke-opacity="0.7"/>
<polygon points="325.64,126.65 329.08,125.35 325.87,122.51 322.43,123.75" fill="#1b57f8" stroke="#222" stroke-width="0.4" stroke-opacity="0.7"/>
<polygon points="332.31,127.94 335.71,126.48 332.49,123.95 329.08,125.35" fill="#214ffd" stroke="#222" stroke-width="0.4" stroke-opacity="0.7"/>
<polygon points="338.95,128.76 342.32,127.14 339.08,124.92 335.71,126.48" fill="#284cff" stroke="#222" stroke-width="0.4" stroke-opacity="0.7"/>
<polygon points="345.58,129.13 348.92,127.35 345.65,125.42 342.32,127.14" fill="#2e4dff" stroke="#222" stroke-width="0.4" stroke-opacity="0.7"/>
<polygon points="352.21,129.06 355.51,127.13 352.22,125.47 348.92,127.35" fill="#3351ff" stroke="#222" stroke-width="0.4" stroke-opacity="0.7"/>
<polygon points="358.82,128.57 362.09,126.5 358.77,125.1 355.51,127.13" fill="#3759ff" stroke="#222" stroke-width="0.4" stroke-opacity="0.7"/>
<polygon points="365.44,127.68 368.68,125.48 365.33,124.33 362.09,126.5" fill="#3a63ff" stroke="#222" stroke-width="0.4" stroke-opacity="0.7"/>
<polygon points="372.07,126.42 375.28,124.09 371.9,123.18 368.68,125.48" fill="#3c6fff" stroke="#222" stroke-width="0.4" stroke-opacity="0.7"/>
<polygon points="378.7,124.8 381.89,122.37 378.47,121.68 375.28,124.09" fill="#3d7dff" stroke="#222" stroke-width="0.4" stroke-opacity="0.7"/>
<polygon points="385.34,122.85 388.51,120.32 385.05,119.85 381.89,122.37" fill="#3d8dff" stroke="#222" stroke-width="0.4" stroke-opacity="0.7"/>
<polygon points="391.99,120.59 395.14,117.98 391.65,117.72 388.51,120.32" fill="#3c9ffe" stroke="#222" stroke-width="0.4" stroke-opacity="0.7"/>
<polygon points="398.66,118.05 401.79,115.37 398.27,115.3 395.14,117.98" fill="#3cb5fc" stroke="#222" stroke-width="0.4" stroke-opacity="0.7"/>
<polygon points="405.35,115.24 408.47,112.52 404.91,112.63 401.79,115.37" fill="#3ccefa" stroke="#222" stroke-width="0.4" stroke-opacity="0.7"/>
<polygon points="412.05,112.21 415.16,109.46 411.57,109.74 408.47,112.52" fill="#3be8f8" stroke="#222" stroke-width="0.4" stroke-opacity="0.7"/>
<polygon points="418.77,108.98 421.86,106.23 418.25,106.66 415.16,109.46" fill="#39eee5" stroke="#222" stroke-width="0.4" stroke-opacity="0.7"/>
<polygon points="295.02,117.51 298.65,116.82 295.42,112.64 291.79,113.34" fill="#09b0e1" stroke="#222" stroke-width="0.4" stroke-opacity="0.7"/>
<polygon points="301.87,120.71 305.46,119.94 302.24,116.07 298.65,116.82" fill="#0a91e6" stroke="#222" stroke-width="0.4" stroke-opacity="0.7"/>
<polygon points="308.67,123.52 312.23,122.63 309.02,119.09 305.46,119.94" fill="#0c76ec" stroke="#222" stroke-width="0.4" stroke-opacity="0.7"/>
<polygon points="315.43,125.9 318.95,124.88 315.74,121.65 312.23,122.63" fill="#1263f0" stroke="#222" stroke-width="0.4" stroke-opacity="0.7"/>
<polygon points="322.17,127.82 325.64,126.65 322.43,123.75 318.95,124.88" fill="#1855f5" stroke="#222" stroke-width="0.4" stroke-opacity="0.7"/>
<polygon points="328.87,129.28 332.31,127.94 329.08,125.35 325.64,126.65" fill="#1e4cfa" stroke="#222" stroke-width="0.4" stroke-opacity="0.7"/>
<polygon points="335.55,130.27 338.95,128.76 335.71,126.48 332.31,127.94" fill="#2447fe" stroke="#222" stroke-width="0.4" stroke-opacity="0.7"/>
<polygon points="342.22,130.8 345.58,129.13 342.32,127.14 338.95,128.76" fill="#2a47ff" stroke="#222" stroke-width="0.4" stroke-opacity="0.7"/>
<polygon points="348.88,130.88 352.21,129.06 348.92,127.35 345.58,129.13" fill="#2f4aff" stroke="#222" stroke-width="0.4" stroke-opacity="0.7"/>
<polygon points="355.53,130.54 358.82,128.57 355.51,127.13 352.21,129.06" fill="#3350ff" stroke="#222" stroke-width="0.4" stroke-opacity="0.7"/>
<polygon points="362.18,129.79 365.44,127.68 362.09,126.5 358.82,128.57" fill="#3759ff" stroke="#222" stroke-width="0.4" stroke-opacity="0.7"/>
<polygon points="368.83,128.65 372.07,126.42 368.68,125.48 365.44,127.68" fill="#3965ff" stroke="#222" stroke-width="0.4" stroke-opacity="0.7"/>
<polygon points="375.49,127.15 378.7,124.8 375.28,124.09 372.07,126.42" fill="#3a72ff" stroke="#222" stroke-width="0.4" stroke-opacity="0.7"/>
<polygon points="382.15,125.3 385.34,122.85 381.89,122.37 378.7,124.8" fill="#3a82ff" stroke="#222" stroke-width="0.4" stroke-opacity="0.7"/>
<polygon points="388.83,123.13 391.99,120.59 388.51,120.32 385.34,122.85" fill="#3993ff" stroke="#222" stroke-width="0.4" stroke-opacity="0.7"/>
<polygon points="395.51,120.66 398.66,118.05 395.14,117.98 391.99,120.59" fill="#39a8fd" stroke="#222" stroke-width="0.4" stroke-opacity="0.7"/>
<polygon points="402.22,117.91 405.35,115.24 401.79,115.37 398.66,118.05" fill="#38c0fb" stroke="#222" stroke-width="0.4" stroke-opacity="0.7"/>
<polygon points="408.93,114.91 412.05,112.21 408.47,112.52 405.35,115.24" fill="#38daf9" stroke="#222" stroke-width="0.4" stroke-opacity="0.7"/>
<polygon points="415.67,111.7 418.77,108.98 415.16,109.46 412.05,112.21" fill="#36edef" stroke="#222" stroke-width="0.4" stroke-opacity="0.7"/>
<polygon points="298.24,121.39 301.87,120.71 298.65,116.82 295.02,117.51" fill="#0995e4" stroke="#222" stroke-width="0.4" stroke-opacity="0.7"/>
<polygon points="305.08,124.3 308.67,123.52 305.46,119.94 301.87,120.71" fill="#0b7ae9" stroke="#222" stroke-width="0.4" stroke-opacity="0.7"/>
<polygon points="311.88,126.81 315.43,125.9 312.23,122.63 308.67,123.52" fill="#0f65ee" stroke="#222" stroke-width="0.4" stroke-opacity="0.7"/>
<polygon points="318.65,128.88 322.17,127.82 318.95,124.88 315.43,125.9" fill="#1555f2" stroke="#222" stroke-width="0.4" stroke-opacity="0.7"/>
<polygon points="325.39,130.5 328.87,129.28 325.64,126.65 322.17,127.82" fill="#1a4af6" stroke="#222" stroke-width="0.4" stroke-opacity="0.7"/>
<polygon points="332.11,131.66 335.55,130.27 332.31,127.94 328.87,129.28" fill="#2044fb" stroke="#222" stroke-width="0.4" stroke-opacity="0.7"/>
<polygon points="338.82,132.35 342.22,130.8 338.95,128.76 335.55,130.27" fill="#2642ff" stroke="#222" stroke-width="0.4" stroke-opacity="0.7"/>
<polygon points="345.51,132.6 348.88,130.88 345.58,129.13 342.22,130.8" fill="#2b43ff" stroke="#222" stroke-width="0.4" stroke-opacity="0.7"/>
<polygon points="352.2,132.41 355.53,130.54 352.21,129.06 348.88,130.88" fill="#2f48ff" stroke="#222" stroke-width="0.4" stroke-opacity="0.7"/>
<polygon points="358.88,131.8 362.18,129.79 358.82,128.57 355.53,130.54" fill="#3350ff" stroke="#222" stroke-width="0.4" stroke-opacity="0.7"/>
<polygon points="365.56,130.79 368.83,128.65 365.44,127.68 362.18,129.79" fill="#355bff" stroke="#222" stroke-width="0.4" stroke-opacity="0.7"/>
<polygon points="372.25,129.41 375.49,127.15 372.07,126.42 368.83,128.65" fill="#3768ff" stroke="#222" stroke-width="0.4" stroke-opacity="0.7"/>
<polygon points="378.94,127.67 382.15,125.3 378.7,124.8 375.49,127.15" fill="#3777ff" stroke="#222" stroke-width="0.4" stroke-opacity="0.7"/>
<polygon points="385.64,125.59 388.83,123.13 385.34,122.85 382.15,125.3" fill="#3688ff" stroke="#222" stroke-width="0.4" stroke-opacity="0.7"/>
<polygon points="392.35,123.2 395.51,120.66 391.99,120.59 388.83,123.13" fill="#359cfe" stroke="#222" stroke-width="0.4" stroke-opacity="0.7"/>
<polygon points="399.07,120.52 402.22,117.91 398.66,118.05 395.51,120.66" fill="#35b3fc" stroke="#222" stroke-width="0.4" stroke-opacity="0.7"/>
<polygon points="405.8,117.56 408.93,114.91 405.35,115.24 402.22,117.91" fill="#35cdfa" stroke="#222" stroke-width="0.4" stroke-opacity="0.7"/>
<polygon points="412.55,114.37 415.67,111.7 412.05,112.21 408.93,114.91" fill="#33e9f7" stroke="#222" stroke-width="0.4" stroke-opacity="0.7"/>
<polygon points="301.45,124.97 305.08,124.3 301.87,120.71 298.24,121.39" fill="#0a7ee6" stroke="#222" stroke-width="0.4" stroke-opacity="0.7"/>
<polygon points="308.29,127.6 311.88,126.81 308.67,123.52 305.08,124.3" fill="#0d68eb" stroke="#222" stroke-width="0.4" stroke-opacity="0.7"/>
<polygon points="315.1,129.82 318.65,128.88 315.43,125.9 311.88,126.81" fill="#1256ef" stroke="#222" stroke-width="0.4" stroke-opacity="0.7"/>
<polygon points="321.88,131.6 325.39,130.5 322.17,127.82 318.65,128.88" fill="#174af3" stroke="#222" stroke-width="0.4" stroke-opacity="0.7"/>
<polygon points="328.64,132.92 332.11,131.66 328.87,129.28 325.39,130.5" fill="#1d41f8" stroke="#222" stroke-width="0.4" stroke-opacity="0.7"/>
<polygon points="335.38,133.78 338.82,132.35 335.55,130.27 332.11,131.66" fill="#223efc" stroke="#222" stroke-width="0.4" stroke-opacity="0.7"/>
<polygon points="342.11,134.19 345.51,132.6 342.22,130.8 338.82,132.35" fill="#273eff" stroke="#222" stroke-width="0.4" stroke-opacity="0.7"/>
<polygon points="348.83,134.16 352.2,132.41 348.88,130.88 345.51,132.6" fill="#2c42ff" stroke="#222" stroke-width="0.4" stroke-opacity="0.7"/>
<polygon points="355.55,133.7 358.88,131.8 355.53,130.54 352.2,132.41" fill="#2f49ff" stroke="#222" stroke-width="0.4" stroke-opacity="0.7"/>
<polygon points="362.27,132.83 365.56,130.79 362.18,129.79 358.88,131.8" fill="#3252ff" stroke="#222" stroke-width="0.4" stroke-opacity="0.7"/>
<polygon points="368.98,131.58 372.25,129.41 368.83,128.65 365.56,130.79" fill="#345fff" stroke="#222" stroke-width="0.4" stroke-opacity="0.7"/>
<polygon points="375.7,129.95 378.94,127.67 375.49,127.15 372.25,129.41" fill="#346dff" stroke="#222" stroke-width="0.4" stroke-opacity="0.7"/>
<polygon points="382.43,127.98 385.64,125.59 382.15,125.3 378.94,127.67" fill="#347dff" stroke="#222" stroke-width="0.4" stroke-opacity="0.7"/>
<polygon points="389.16,125.67 392.35,123.2 388.83,123.13 385.64,125.59" fill="#3390ff" stroke="#222" stroke-width="0.4" stroke-opacity="0.7"/>
<polygon points="395.9,123.06 399.07,120.52 395.51,120.66 392.35,123.2" fill="#32a7fd" stroke="#222" stroke-width="0.4" stroke-opacity="0.7"/>
<polygon points="402.66,120.16 405.8,117.56 402.22,117.91 399.07,120.52" fill="#32c0fb" stroke="#222" stroke-width="0.4" stroke-opacity="0.7"/>
<polygon points="409.42,117 412.55,114.37 408.93,114.91 405.8,117.56" fill="#31dcf8" stroke="#222" stroke-width="0.4" stroke-opacity="0.7"/>
<polygon points="304.66,128.28 308.29,127.6 305.08,124.3 301.45,124.97" fill="#0b6be8" stroke="#222" stroke-width="0.4" stroke-opacity="0.7"/>
<polygon points="311.51,130.63 315.1,129.82 311.88,126.81 308.29,127.6" fill="#0f59eb" stroke="#222" stroke-width="0.4" stroke-opacity="0.7"/>
<polygon points="318.33,132.57 321.88,131.6 318.65,128.88 315.1,129.82" fill="#144af0" stroke="#222" stroke-width="0.4" stroke-opacity="0.7"/>
<polygon points="325.13,134.05 328.64,132.92 325.39,130.5 321.88,131.6" fill="#1940f4" stroke="#222" stroke-width="0.4" stroke-opacity="0.7"/>
<polygon points="331.91,135.09 335.38,133.78 332.11,131.66 328.64,132.92" fill="#1e3bf8" stroke="#222" stroke-width="0.4" stroke-opacity="0.7"/>
<polygon points="338.68,135.66 342.11,134.19 338.82,132.35 335.38,133.78" fill="#2339fc" stroke="#222" stroke-width="0.4" stroke-opacity="0.7"/>
<polygon points="345.44,135.79 348.83,134.16 345.51,132.6 342.11,134.19" fill="#283cff" stroke="#222" stroke-width="0.4" stroke-opacity="0.7"/>
<polygon points="352.19,135.49 355.55,133.7 352.2,132.41 348.83,134.16" fill="#2c42ff" stroke="#222" stroke-width="0.4" stroke-opacity="0.7"/>
<polygon points="358.94,134.77 362.27,132.83 358.88,131.8 355.55,133.7" fill="#2e4aff" stroke="#222" stroke-width="0.4" stroke-opacity="0.7"/>
<polygon points="365.69,133.65 368.98,131.58 365.56,130.79 362.27,132.83" fill="#3056ff" stroke="#222" stroke-width="0.4" stroke-opacity="0.7"/>
<polygon points="372.44,132.14 375.7,129.95 372.25,129.41 368.98,131.58" fill="#3164ff" stroke="#222" stroke-width="0.4" stroke-opacity="0.7"/>
<polygon points="379.19,130.28 382.43,127.98 378.94,127.67 375.7,129.95" fill="#3174ff" stroke="#222" stroke-width="0.4" stroke-opacity="0.7"/>
<polygon points="385.95,128.07 389.16,125.67 385.64,125.59 382.43,127.98" fill="#3086ff" stroke="#222" stroke-width="0.4" stroke-opacity="0.7"/>
<polygon points="392.72,125.54 395.9,123.06 392.35,123.2 389.16,125.67" fill="#2f9bfe" stroke="#222" stroke-width="0.4" stroke-opacity="0.7"/>
<polygon points="399.49,122.7 402.66,120.16 399.07,120.52 395.9,123.06" fill="#2fb4fc" stroke="#222" stroke-width="0.4" stroke-opacity="0.7"/>
<polygon points="406.27,119.59 409.42,117 405.8,117.56 402.66,120.16" fill="#2ed0f9" stroke="#222" stroke-width="0.4" stroke-opacity="0.7"/>
<polygon points="307.88,131.32 311.51,130.63 308.29,127.6 304.66,128.28" fill="#0c5ce8" stroke="#222" stroke-width="0.4" stroke-opacity="0.7"/>
<polygon points="314.74,133.4 318.33,132.57 315.1,129.82 311.51,130.63" fill="#114cec" stroke="#222" stroke-width="0.4" stroke-opacity="0.7"/>
<polygon points="321.58,135.05 325.13,134.05 321.88,131.6 318.33,132.57" fill="#1641f0" stroke="#222" stroke-width="0.4" stroke-opacity="0.7"/>
<polygon points="328.4,136.26 331.91,135.09 328.64,132.92 325.13,134.05" fill="#1b39f5" stroke="#222" stroke-width="0.4" stroke-opacity="0.7"/>
<polygon points="335.21,137 338.68,135.66 335.38,133.78 331.91,135.09" fill="#1f36f9" stroke="#222" stroke-width="0.4" stroke-opacity="0.7"/>
<polygon points="342,137.3 345.44,135.79 342.11,134.19 338.68,135.66" fill="#2437fd" stroke="#222" stroke-width="0.4" stroke-opacity="0.7"/>
<polygon points="348.79,137.16 352.19,135.49 348.83,134.16 345.44,135.79" fill="#283cff" stroke="#222" stroke-width="0.4" stroke-opacity="0.7"/>
<polygon points="355.58,136.59 358.94,134.77 355.55,133.7 352.19,135.49" fill="#2b44ff" stroke="#222" stroke-width="0.4" stroke-opacity="0.7"/>
<polygon points="362.36,135.61 365.69,133.65 362.27,132.83 358.94,134.77" fill="#2d4eff" stroke="#222" stroke-width="0.4" stroke-opacity="0.7"/>
<polygon points="369.14,134.24 372.44,132.14 368.98,131.58 365.69,133.65" fill="#2e5bff" stroke="#222" stroke-width="0.4" stroke-opacity="0.7"/>
<polygon points="375.93,132.5 379.19,130.28 375.7,129.95 372.44,132.14" fill="#2f6aff" stroke="#222" stroke-width="0.4" stroke-opacity="0.7"/>
<polygon points="382.72,130.39 385.95,128.07 382.43,127.98 379.19,130.28" fill="#2e7cff" stroke="#222" stroke-width="0.4" stroke-opacity="0.7"/>
<polygon points="389.51,127.95 392.72,125.54 389.16,125.67 385.95,128.07" fill="#2c90ff" stroke="#222" stroke-width="0.4" stroke-opacity="0.7"/>
<polygon points="396.31,125.19 399.49,122.7 395.9,123.06 392.72,125.54" fill="#2ca9fd" stroke="#222" stroke-width="0.4" stroke-opacity="0.7"/>
<polygon points="403.11,122.13 406.27,119.59 402.66,120.16 399.49,122.7" fill="#2cc4fa" stroke="#222" stroke-width="0.4" stroke-opacity="0.7"/>
<polygon points="311.11,134.1 314.74,133.4 311.51,130.63 307.88,131.32" fill="#0e50e8" stroke="#222" stroke-width="0.4" stroke-opacity="0.7"/>
<polygon points="317.99,135.91 321.58,135.05 318.33,132.57 314.74,133.4" fill="#1243ed" stroke="#222" stroke-width="0.4" stroke-opacity="0.7"/>
<polygon points="324.85,137.29 328.4,136.26 325.13,134.05 321.58,135.05" fill="#173af1" stroke="#222" stroke-width="0.4" stroke-opacity="0.7"/>
<polygon points="331.7,138.21 335.21,137 331.91,135.09 328.4,136.26" fill="#1c35f5" stroke="#222" stroke-width="0.4" stroke-opacity="0.7"/>
<polygon points="338.53,138.69 342,137.3 338.68,135.66 335.21,137" fill="#2034f9" stroke="#222" stroke-width="0.4" stroke-opacity="0.7"/>
<polygon points="345.36,138.71 348.79,137.16 345.44,135.79 342,137.3" fill="#2437fd" stroke="#222" stroke-width="0.4" stroke-opacity="0.7"/>
<polygon points="352.18,138.3 355.58,136.59 352.19,135.49 348.79,137.16" fill="#273eff" stroke="#222" stroke-width="0.4" stroke-opacity="0.7"/>
<polygon points="359,137.48 362.36,135.61 358.94,134.77 355.58,136.59" fill="#2a47ff" stroke="#222" stroke-width="0.4" stroke-opacity="0.7"/>
<polygon points="365.82,136.24 369.14,134.24 365.69,133.65 362.36,135.61" fill="#2b53ff" stroke="#222" stroke-width="0.4" stroke-opacity="0.7"/>
<polygon points="372.64,134.62 375.93,132.5 372.44,132.14 369.14,134.24" fill="#2c62ff" stroke="#222" stroke-width="0.4" stroke-opacity="0.7"/>
<polygon points="379.45,132.64 382.72,130.39 379.19,130.28 375.93,132.5" fill="#2c73ff" stroke="#222" stroke-width="0.4" stroke-opacity="0.7"/>
<polygon points="386.28,130.29 389.51,127.95 385.95,128.07 382.72,130.39" fill="#2a86ff" stroke="#222" stroke-width="0.4" stroke-opacity="0.7"/>
<polygon points="393.1,127.62 396.31,125.19 392.72,125.54 389.51,127.95" fill="#2a9efe" stroke="#222" stroke-width="0.4" stroke-opacity="0.7"/>
<polygon points="399.92,124.62 403.11,122.13 399.49,122.7 396.31,125.19" fill="#29b9fb" stroke="#222" stroke-width="0.4" stroke-opacity="0.7"/>
<polygon points="314.37,136.63 317.99,135.91 314.74,133.4 311.11,134.1" fill="#0f46e9" stroke="#222" stroke-width="0.4" stroke-opacity="0.7"/>
<polygon points="321.26,138.18 324.85,137.29 321.58,135.05 317.99,135.91" fill="#133bed" stroke="#222" stroke-width="0.4" stroke-opacity="0.7"/>
<polygon points="328.15,139.28 331.7,138.21 328.4,136.26 324.85,137.29" fill="#1835f1" stroke="#222" stroke-width="0.4" stroke-opacity="0.7"/>
<polygon points="335.02,139.93 338.53,138.69 335.21,137 331.7,138.21" fill="#1c32f6" stroke="#222" stroke-width="0.4" stroke-opacity="0.7"/>
<polygon points="341.89,140.14 345.36,138.71 342,137.3 338.53,138.69" fill="#2034f9" stroke="#222" stroke-width="0.4" stroke-opacity="0.7"/>
<polygon points="348.75,139.9 352.18,138.3 348.79,137.16 345.36,138.71" fill="#2439fd" stroke="#222" stroke-width="0.4" stroke-opacity="0.7"/>
<polygon points="355.61,139.23 359,137.48 355.58,136.59 352.18,138.3" fill="#2641ff" stroke="#222" stroke-width="0.4" stroke-opacity="0.7"/>
<polygon points="362.46,138.14 365.82,136.24 362.36,135.61 359,137.48" fill="#284dff" stroke="#222" stroke-width="0.4" stroke-opacity="0.7"/>
<polygon points="369.31,136.66 372.64,134.62 369.14,134.24 365.82,136.24" fill="#295bff" stroke="#222" stroke-width="0.4" stroke-opacity="0.7"/>
<polygon points="376.16,134.79 379.45,132.64 375.93,132.5 372.64,134.62" fill="#296bff" stroke="#222" stroke-width="0.4" stroke-opacity="0.7"/>
<polygon points="383.01,132.56 386.28,130.29 382.72,130.39 379.45,132.64" fill="#287eff" stroke="#222" stroke-width="0.4" stroke-opacity="0.7"/>
<polygon points="389.87,129.98 393.1,127.62 389.51,127.95 386.28,130.29" fill="#2794fe" stroke="#222" stroke-width="0.4" stroke-opacity="0.7"/>
<polygon points="396.72,127.06 399.92,124.62 396.31,125.19 393.1,127.62" fill="#27aefc" stroke="#222" stroke-width="0.4" stroke-opacity="0.7"/>
<polygon points="317.64,138.91 321.26,138.18 317.99,135.91 314.37,136.63" fill="#103ee9" stroke="#222" stroke-width="0.4" stroke-opacity="0.7"/>
<polygon points="324.57,140.2 328.15,139.28 324.85,137.29 321.26,138.18" fill="#1436ed" stroke="#222" stroke-width="0.4" stroke-opacity="0.7"/>
<polygon points="331.48,141.04 335.02,139.93 331.7,138.21 328.15,139.28" fill="#1832f2" stroke="#222" stroke-width="0.4" stroke-opacity="0.7"/>
<polygon points="338.38,141.43 341.89,140.14 338.53,138.69 335.02,139.93" fill="#1c32f6" stroke="#222" stroke-width="0.4" stroke-opacity="0.7"/>
<polygon points="345.28,141.36 348.75,139.9 345.36,138.71 341.89,140.14" fill="#2035f9" stroke="#222" stroke-width="0.4" stroke-opacity="0.7"/>
<polygon points="352.18,140.86 355.61,139.23 352.18,138.3 348.75,139.9" fill="#233dfc" stroke="#222" stroke-width="0.4" stroke-opacity="0.7"/>
<polygon points="359.07,139.93 362.46,138.14 359,137.48 355.61,139.23" fill="#2547ff" stroke="#222" stroke-width="0.4" stroke-opacity="0.7"/>
<polygon points="365.96,138.6 369.31,136.66 365.82,136.24 362.46,138.14" fill="#2654ff" stroke="#222" stroke-width="0.4" stroke-opacity="0.7"/>
<polygon points="372.84,136.86 376.16,134.79 372.64,134.62 369.31,136.66" fill="#2764ff" stroke="#222" stroke-width="0.4" stroke-opacity="0.7"/>
<polygon points="379.72,134.75 383.01,132.56 379.45,132.64 376.16,134.79" fill="#2676ff" stroke="#222" stroke-width="0.4" stroke-opacity="0.7"/>
<polygon points="386.61,132.27 389.87,129.98 386.28,130.29 383.01,132.56" fill="#258aff" stroke="#222" stroke-width="0.4" stroke-opacity="0.7"/>
<polygon points="393.49,129.45 396.72,127.06 393.1,127.62 389.87,129.98" fill="#25a4fd" stroke="#222" stroke-width="0.4" stroke-opacity="0.7"/>
<polygon points="320.94,140.97 324.57,140.2 321.26,138.18 317.64,138.91" fill="#1139e9" stroke="#222" stroke-width="0.4" stroke-opacity="0.7"/>
<polygon points="327.9,142 331.48,141.04 328.15,139.28 324.57,140.2" fill="#1533ee" stroke="#222" stroke-width="0.4" stroke-opacity="0.7"/>
<polygon points="334.84,142.58 338.38,141.43 335.02,139.93 331.48,141.04" fill="#1931f2" stroke="#222" stroke-width="0.4" stroke-opacity="0.7"/>
<polygon points="341.78,142.7 345.28,141.36 341.89,140.14 338.38,141.43" fill="#1c33f6" stroke="#222" stroke-width="0.4" stroke-opacity="0.7"/>
<polygon points="348.71,142.37 352.18,140.86 348.75,139.9 345.28,141.36" fill="#1f39f9" stroke="#222" stroke-width="0.4" stroke-opacity="0.7"/>
<polygon points="355.64,141.61 359.07,139.93 355.61,139.23 352.18,140.86" fill="#2242fc" stroke="#222" stroke-width="0.4" stroke-opacity="0.7"/>
<polygon points="362.56,140.43 365.96,138.6 362.46,138.14 359.07,139.93" fill="#234efe" stroke="#222" stroke-width="0.4" stroke-opacity="0.7"/>
<polygon points="369.49,138.84 372.84,136.86 369.31,136.66 365.96,138.6" fill="#245dff" stroke="#222" stroke-width="0.4" stroke-opacity="0.7"/>
<polygon points="376.4,136.86 379.72,134.75 376.16,134.79 372.84,136.86" fill="#246fff" stroke="#222" stroke-width="0.4" stroke-opacity="0.7"/>
<polygon points="383.32,134.5 386.61,132.27 383.01,132.56 379.72,134.75" fill="#2383ff" stroke="#222" stroke-width="0.4" stroke-opacity="0.7"/>
<polygon points="390.23,131.77 393.49,129.45 389.87,129.98 386.61,132.27" fill="#239bfe" stroke="#222" stroke-width="0.4" stroke-opacity="0.7"/>
<polygon points="324.28,142.81 327.9,142 324.57,140.2 320.94,140.97" fill="#1136e9" stroke="#222" stroke-width="0.4" stroke-opacity="0.7"/>
<polygon points="331.26,143.58 334.84,142.58 331.48,141.04 327.9,142" fill="#1532ee" stroke="#222" stroke-width="0.4" stroke-opacity="0.7"/>
<polygon points="338.24,143.9 341.78,142.7 338.38,141.43 334.84,142.58" fill="#1933f2" stroke="#222" stroke-width="0.4" stroke-opacity="0.7"/>
<polygon points="345.21,143.76 348.71,142.37 345.28,141.36 341.78,142.7" fill="#1c37f6" stroke="#222" stroke-width="0.4" stroke-opacity="0.7"/>
<polygon points="352.18,143.18 355.64,141.61 352.18,140.86 348.71,142.37" fill="#1f3ef9" stroke="#222" stroke-width="0.4" stroke-opacity="0.7"/>
<polygon points="359.14,142.16 362.56,140.43 359.07,139.93 355.64,141.61" fill="#2149fc" stroke="#222" stroke-width="0.4" stroke-opacity="0.7"/>
<polygon points="366.1,140.73 369.49,138.84 365.96,138.6 362.56,140.43" fill="#2258fe" stroke="#222" stroke-width="0.4" stroke-opacity="0.7"/>
<polygon points="373.05,138.89 376.4,136.86 372.84,136.86 369.49,138.84" fill="#2268ff" stroke="#222" stroke-width="0.4" stroke-opacity="0.7"/>
<polygon points="380,136.65 383.32,134.5 379.72,134.75 376.4,136.86" fill="#227bff" stroke="#222" stroke-width="0.4" stroke-opacity="0.7"/>
<polygon points="386.94,134.04 390.23,131.77 386.61,132.27 383.32,134.5" fill="#2192fe" stroke="#222" stroke-width="0.4" stroke-opacity="0.7"/>
<polygon points="327.64,144.44 331.26,143.58 327.9,142 324.28,142.81" fill="#1235ea" stroke="#222" stroke-width="0.4" stroke-opacity="0.7"/>
<polygon points="334.66,144.96 338.24,143.9 334.84,142.58 331.26,143.58" fill="#1533ee" stroke="#222" stroke-width="0.4" stroke-opacity="0.7"/>
<polygon points="341.67,145.02 345.21,143.76 341.78,142.7 338.24,143.9" fill="#1936f2" stroke="#222" stroke-width="0.4" stroke-opacity="0.7"/>
<polygon points="348.68,144.62 352.18,143.18 348.71,142.37 345.21,143.76" fill="#1b3cf6" stroke="#222" stroke-width="0.4" stroke-opacity="0.7"/>
<polygon points="355.68,143.78 359.14,142.16 355.64,141.61 352.18,143.18" fill="#1e46f9" stroke="#222" stroke-width="0.4" stroke-opacity="0.7"/>
<polygon points="362.67,142.51 366.1,140.73 362.56,140.43 359.14,142.16" fill="#1f53fb" stroke="#222" stroke-width="0.4" stroke-opacity="0.7"/>
<polygon points="369.66,140.82 373.05,138.89 369.49,138.84 366.1,140.73" fill="#2062fd" stroke="#222" stroke-width="0.4" stroke-opacity="0.7"/>
<polygon points="376.65,138.73 380,136.65 376.4,136.86 373.05,138.89" fill="#2075ff" stroke="#222" stroke-width="0.4" stroke-opacity="0.7"/>
<polygon points="383.63,136.25 386.94,134.04 383.32,134.5 380,136.65" fill="#1f8aff" stroke="#222" stroke-width="0.4" stroke-opacity="0.7"/>
<polygon points="331.04,145.87 334.66,144.96 331.26,143.58 327.64,144.44" fill="#1236ea" stroke="#222" stroke-width="0.4" stroke-opacity="0.7"/>
<polygon points="338.09,146.13 341.67,145.02 338.24,143.9 334.66,144.96" fill="#1536ef" stroke="#222" stroke-width="0.4" stroke-opacity="0.7"/>
<polygon points="345.14,145.93 348.68,144.62 345.21,143.76 341.67,145.02" fill="#183bf3" stroke="#222" stroke-width="0.4" stroke-opacity="0.7"/>
<polygon points="352.18,145.28 355.68,143.78 352.18,143.18 348.68,144.62" fill="#1b43f6" stroke="#222" stroke-width="0.4" stroke-opacity="0.7"/>
<polygon points="359.21,144.19 362.67,142.51 359.14,142.16 355.68,143.78" fill="#1d4ff9" stroke="#222" stroke-width="0.4" stroke-opacity="0.7"/>
<polygon points="366.24,142.67 369.66,140.82 366.1,140.73 362.67,142.51" fill="#1e5efb" stroke="#222" stroke-width="0.4" stroke-opacity="0.7"/>
<polygon points="373.26,140.73 376.65,138.73 373.05,138.89 369.66,140.82" fill="#1e6ffd" stroke="#222" stroke-width="0.4" stroke-opacity="0.7"/>
<polygon points="380.28,138.38 383.63,136.25 380,136.65 376.65,138.73" fill="#1e84fe" stroke="#222" stroke-width="0.4" stroke-opacity="0.7"/>
<polygon points="334.48,147.1 338.09,146.13 334.66,144.96 331.04,145.87" fill="#1238eb" stroke="#222" stroke-width="0.4" stroke-opacity="0.7"/>
<polygon points="341.56,147.12 345.14,145.93 341.67,145.02 338.09,146.13" fill="#153bef" stroke="#222" stroke-width="0.4" stroke-opacity="0.7"/>
<polygon points="348.64,146.67 352.18,145.28 348.68,144.62 345.14,145.93" fill="#1842f3" stroke="#222" stroke-width="0.4" stroke-opacity="0.7"/>
<polygon points="355.72,145.77 359.21,144.19 355.68,143.78 352.18,145.28" fill="#1a4cf6" stroke="#222" stroke-width="0.4" stroke-opacity="0.7"/>
<polygon points="362.79,144.42 366.24,142.67 362.67,142.51 359.21,144.19" fill="#1c5af9" stroke="#222" stroke-width="0.4" stroke-opacity="0.7"/>
<polygon points="369.85,142.65 373.26,140.73 369.66,140.82 366.24,142.67" fill="#1c6afb" stroke="#222" stroke-width="0.4" stroke-opacity="0.7"/>
<polygon points="376.9,140.45 380.28,138.38 376.65,138.73 373.26,140.73" fill="#1c7efd" stroke="#222" stroke-width="0.4" stroke-opacity="0.7"/>
<polygon points="337.95,148.16 341.56,147.12 338.09,146.13 334.48,147.1" fill="#123dec" stroke="#222" stroke-width="0.4" stroke-opacity="0.7"/>
<polygon points="345.07,147.93 348.64,146.67 345.14,145.93 341.56,147.12" fill="#1542f0" stroke="#222" stroke-width="0.4" stroke-opacity="0.7"/>
<polygon points="352.18,147.23 355.72,145.77 352.18,145.28 348.64,146.67" fill="#184bf4" stroke="#222" stroke-width="0.4" stroke-opacity="0.7"/>
<polygon points="359.29,146.07 362.79,144.42 359.21,144.19 355.72,145.77" fill="#1957f7" stroke="#222" stroke-width="0.4" stroke-opacity="0.7"/>
<polygon points="366.39,144.47 369.85,142.65 366.24,142.67 362.79,144.42" fill="#1b66f9" stroke="#222" stroke-width="0.4" stroke-opacity="0.7"/>
<polygon points="373.48,142.45 376.9,140.45 373.26,140.73 369.85,142.65" fill="#1b78fb" stroke="#222" stroke-width="0.4" stroke-opacity="0.7"/>
<polygon points="341.46,149.05 345.07,147.93 341.56,147.12 337.95,148.16" fill="#1243ed" stroke="#222" stroke-width="0.4" stroke-opacity="0.7"/>
<polygon points="348.61,148.57 352.18,147.23 348.64,146.67 345.07,147.93" fill="#154af1" stroke="#222" stroke-width="0.4" stroke-opacity="0.7"/>
<polygon points="355.76,147.62 359.29,146.07 355.72,145.77 352.18,147.23" fill="#1755f4" stroke="#222" stroke-width="0.4" stroke-opacity="0.7"/>
<polygon points="362.9,146.21 366.39,144.47 362.79,144.42 359.29,146.07" fill="#1963f7" stroke="#222" stroke-width="0.4" stroke-opacity="0.7"/>
<polygon points="370.03,144.36 373.48,142.45 369.85,142.65 366.39,144.47" fill="#1a74fa" stroke="#222" stroke-width="0.4" stroke-opacity="0.7"/>
<polygon points="345,149.79 348.61,148.57 345.07,147.93 341.46,149.05" fill="#124bee" stroke="#222" stroke-width="0.4" stroke-opacity="0.7"/>
<polygon points="352.19,149.05 355.76,147.62 352.18,147.23 348.61,148.57" fill="#1554f2" stroke="#222" stroke-width="0.4" stroke-opacity="0.7"/>
<polygon points="359.37,147.85 362.9,146.21 359.29,146.07 355.76,147.62" fill="#1761f5" stroke="#222" stroke-width="0.4" stroke-opacity="0.7"/>
<polygon points="366.54,146.2 370.03,144.36 366.39,144.47 362.9,146.21" fill="#1871f8" stroke="#222" stroke-width="0.4" stroke-opacity="0.7"/>
<polygon points="348.59,150.38 352.19,149.05 348.61,148.57 345,149.79" fill="#1355ef" stroke="#222" stroke-width="0.4" stroke-opacity="0.7"/>
<polygon points="355.81,149.4 359.37,147.85 355.76,147.62 352.19,149.05" fill="#155ff3" stroke="#222" stroke-width="0.4" stroke-opacity="0.7"/>
<polygon points="363.02,147.95 366.54,146.2 362.9,146.21 359.37,147.85" fill="#166ef7" stroke="#222" stroke-width="0.4" stroke-opacity="0.7"/>
<polygon points="352.2,150.84 355.81,149.4 352.19,149.05 348.59,150.38" fill="#135ff1" stroke="#222" stroke-width="0.4" stroke-opacity="0.7"/>
<polygon points="359.46,149.61 363.02,147.95 359.37,147.85 355.81,149.4" fill="#156cf5" stroke="#222" stroke-width="0.4" stroke-opacity="0.7"/>
<polygon points="355.86,151.17 359.46,149.61 355.81,149.4 352.2,150.84" fill="#136bf3" stroke="#222" stroke-width="0.4" stroke-opacity="0.7"/>
<path d="M333.6,61.6V146" stroke="#333" stroke-width="0.45"/>
<rect x="323.2" y="57.7" width="10.4" height="3.9" fill="#fff" stroke="#999" stroke-width="0.4"/>
<text x="328.4" y="60.5" font-size="3.0" text-anchor="middle" fill="#666" textLength="8.4" lengthAdjust="spacingAndGlyphs">0.2955</text>
<text x="460.3" y="5.7" font-size="6.4" fill="#0c0c0c" stroke="#0c0c0c" stroke-width="0.12" textLength="52.9" lengthAdjust="spacingAndGlyphs">Factor Coding: Actual</text>
<text x="460.3" y="26.8" font-size="6.4" font-weight="bold" textLength="51" lengthAdjust="spacingAndGlyphs">Zeta Potential (mV)</text>
<linearGradient id="cbC"><stop offset="0" stop-color="#0000c8"/><stop offset="0.5" stop-color="#00ff00"/><stop offset="1" stop-color="#e80000"/></linearGradient>
<rect x="475.5" y="30.2" width="20.6" height="9.1" fill="url(#cbC)" stroke="#555" stroke-width="0.3"/>
<text x="460.3" y="37.6" font-size="6.4" fill="#3030ff" stroke="#3030ff" stroke-width="0.12" textLength="12.8" lengthAdjust="spacingAndGlyphs">-36.6</text>
<text x="498.5" y="37.6" font-size="6.4" fill="#ff2a2a" stroke="#ff2a2a" stroke-width="0.12" textLength="12.1" lengthAdjust="spacingAndGlyphs">-23.4</text>
<text x="460.3" y="58.9" font-size="6.4" fill="#0c0c0c" stroke="#0c0c0c" stroke-width="0.12" textLength="16.9" lengthAdjust="spacingAndGlyphs">X1 = A</text>
<text x="460.3" y="69.3" font-size="6.4" fill="#0c0c0c" stroke="#0c0c0c" stroke-width="0.12" textLength="16.5" lengthAdjust="spacingAndGlyphs">X2 = B</text>
<text x="460.3" y="90.9" font-size="6.4" font-weight="bold" textLength="34.8" lengthAdjust="spacingAndGlyphs">Actual Factor</text>
<text x="460.3" y="101" font-size="6.4" fill="#0c0c0c" stroke="#0c0c0c" stroke-width="0.12" textLength="29.3" lengthAdjust="spacingAndGlyphs">C = 29.8468</text>
<text x="587.1" y="7.9" font-size="4.6" fill="#0c0c0c" textLength="20.2" lengthAdjust="spacingAndGlyphs">3D Surface</text>
<path d="M520.04,131.67L517,53.4M651.3,131.69L654.8,53.5M531.97,127.01L528.82,50.31M639.56,127.07L643.22,50.45M543.48,122.53L540.51,47.25M628.17,122.61L631.69,47.4M554.6,118.21L552.07,44.23M617.12,118.29L620.2,44.37M565.36,114.04L563.5,41.23M606.4,114.11L608.76,41.35M575.77,110.02L574.81,38.28M595.98,110.06L597.36,38.35M585.85,106.13L586,35.35M585.85,106.13L586,35.35M520.04,131.67L585.85,106.13L651.3,131.69M519.66,121.88L585.87,97.28L651.74,121.92M519.28,112.1L585.89,88.44L652.18,112.14M518.9,102.32L585.91,79.59L652.62,102.37M518.52,92.53L585.92,70.74L653.05,92.6M518.14,82.75L585.94,61.89L653.49,82.82M517.76,72.97L585.96,53.05L653.93,73.05M517.38,63.18L585.98,44.2L654.36,63.27M517,53.4L586,35.35L654.8,53.5" stroke="#4a4a4a" stroke-width="0.5" fill="none"/>
<path d="M521,156.4L517,53.4M585.8,128.5L586,35.35M650.2,156.4L654.8,53.5" stroke="#666" stroke-width="0.5" fill="none"/>
<circle cx="520.04" cy="131.67" r="0.6" fill="#111"/>
<text x="517.74" y="131.07" font-size="5.0" text-anchor="end" fill="#0c0c0c" textLength="6.1" lengthAdjust="spacingAndGlyphs">-38</text>
<circle cx="519.66" cy="121.88" r="0.6" fill="#111"/>
<text x="517.36" y="121.28" font-size="5.0" text-anchor="end" fill="#0c0c0c" textLength="6.1" lengthAdjust="spacingAndGlyphs">-36</text>
<circle cx="519.28" cy="112.1" r="0.6" fill="#111"/>
<text x="516.98" y="111.5" font-size="5.0" text-anchor="end" fill="#0c0c0c" textLength="6.1" lengthAdjust="spacingAndGlyphs">-34</text>
<circle cx="518.9" cy="102.32" r="0.6" fill="#111"/>
<text x="516.6" y="101.72" font-size="5.0" text-anchor="end" fill="#0c0c0c" textLength="6.1" lengthAdjust="spacingAndGlyphs">-32</text>
<circle cx="518.52" cy="92.53" r="0.6" fill="#111"/>
<text x="516.22" y="91.93" font-size="5.0" text-anchor="end" fill="#0c0c0c" textLength="6.1" lengthAdjust="spacingAndGlyphs">-30</text>
<circle cx="518.14" cy="82.75" r="0.6" fill="#111"/>
<text x="515.84" y="82.15" font-size="5.0" text-anchor="end" fill="#0c0c0c" textLength="6.1" lengthAdjust="spacingAndGlyphs">-28</text>
<circle cx="517.76" cy="72.97" r="0.6" fill="#111"/>
<text x="515.46" y="72.37" font-size="5.0" text-anchor="end" fill="#0c0c0c" textLength="6.1" lengthAdjust="spacingAndGlyphs">-26</text>
<circle cx="517.38" cy="63.18" r="0.6" fill="#111"/>
<text x="515.08" y="62.58" font-size="5.0" text-anchor="end" fill="#0c0c0c" textLength="6.1" lengthAdjust="spacingAndGlyphs">-24</text>
<circle cx="517" cy="53.4" r="0.6" fill="#111"/>
<text x="514.7" y="52.8" font-size="5.0" text-anchor="end" fill="#0c0c0c" textLength="6.1" lengthAdjust="spacingAndGlyphs">-22</text>
<text x="498" y="106" font-size="3.3" text-anchor="middle" fill="#444" textLength="26" lengthAdjust="spacingAndGlyphs" transform="rotate(-90 498 106)">Zeta Potential (mV)</text>
<polygon points="586,192.4 650.2,156.4 585.8,128.5 521,156.4" fill="#666" stroke="#1a1a1a" stroke-width="0.7" stroke-linejoin="round"/>
<polyline points="533.45,151.04 533.55,151.56 533.56,151.6 533.67,152.17 533.71,152.4 533.76,152.75 533.84,153.22 533.85,153.33 533.93,153.92 533.94,154.04 534,154.51 534.03,154.86 534.06,155.12 534.1,155.66 534.11,155.73 534.14,156.35 534.15,156.47 534.17,156.97 534.18,157.27 534.19,157.61 534.19,158.06 534.19,158.25 534.18,158.85 534.18,158.91 534.16,159.57 534.16,159.63 534.13,160.24 534.12,160.41 534.08,160.92 534.06,161.18 534.02,161.61 533.98,161.95 533.94,162.31 533.89,162.72 533.85,163.02 533.79,163.48" fill="none" stroke="#d09020" stroke-width="1.15"/>
<polyline points="544.84,146.14 545.08,146.63 545.09,146.66 545.31,147.13 545.51,147.57 545.53,147.64 545.75,148.15 545.89,148.48 545.96,148.67 546.17,149.19 546.24,149.37 546.37,149.72 546.55,150.25 546.56,150.25 546.74,150.8 546.84,151.12 546.91,151.34 547.07,151.9 547.1,151.98 547.23,152.46 547.33,152.83 547.38,153.03 547.51,153.6 547.53,153.67 547.64,154.18 547.71,154.5 547.76,154.77 547.86,155.33 547.86,155.37 547.96,155.98 547.98,156.15 548.04,156.59 548.08,156.96 548.11,157.22 548.16,157.76 548.17,157.85 548.22,158.49 548.22,158.55 548.25,159.14 548.26,159.34 548.27,159.8 548.27,160.13 548.27,160.47 548.27,160.9 548.26,161.16 548.24,161.67 548.23,161.85 548.2,162.44 548.19,162.55 548.13,163.2 548.13,163.27 548.05,163.96 548.05,164 547.95,164.71 547.95,164.74 547.83,165.45 547.83,165.5 547.7,166.2 547.69,166.27 547.55,166.93 547.53,167.05 547.39,167.67 547.34,167.85 547.21,168.4 547.14,168.66 547.01,169.12 546.9,169.49 546.8,169.84 546.64,170.34 546.57,170.56" fill="none" stroke="#c8c820" stroke-width="1.15"/>
<polyline points="556.29,141.2 556.53,141.48 556.66,141.63 557.03,142.06 557.39,142.49 557.47,142.59 557.75,142.93 558.1,143.37 558.33,143.67 558.45,143.82 558.79,144.27 559.13,144.73 559.13,144.73 559.46,145.19 559.79,145.65 559.87,145.76 560.11,146.12 560.43,146.59 560.55,146.77 560.74,147.07 561.04,147.56 561.17,147.76 561.34,148.05 561.63,148.54 561.74,148.73 561.92,149.04 562.19,149.55 562.26,149.68 562.46,150.06 562.72,150.58 562.74,150.61 562.98,151.11 563.17,151.52 563.22,151.64 563.45,152.18 563.56,152.42 563.68,152.73 563.89,153.28 563.9,153.31 564.1,153.84 564.22,154.18 564.29,154.41 564.48,154.99 564.49,155.03 564.65,155.58 564.73,155.88 564.81,156.17 564.94,156.71 564.95,156.78 565.08,157.39 565.11,157.53 565.2,158.02 565.25,158.34 565.3,158.66 565.37,159.14 565.39,159.3 565.46,159.93 565.46,159.96 565.51,160.63 565.52,160.72 565.55,161.31 565.55,161.49 565.56,162.01 565.56,162.25 565.56,162.72 565.55,163.01 565.53,163.44 565.51,163.76 565.48,164.18 565.46,164.51 565.41,164.93 565.38,165.24 565.32,165.7 565.28,165.97 565.19,166.49 565.16,166.7 565.04,167.29 565.02,167.41 564.86,168.12 564.86,168.13 564.68,168.84 564.65,168.96 564.49,169.54 564.4,169.82 564.28,170.24 564.13,170.71 564.05,170.93 563.81,171.62 563.81,171.62 563.55,172.31 563.45,172.56 563.28,172.99 563.05,173.52 562.99,173.67 562.69,174.34 562.61,174.51 562.37,175.01 562.12,175.53 562.04,175.68 561.7,176.35 561.57,176.59 561.34,177.01 560.98,177.67 560.98,177.67 560.6,178.33" fill="none" stroke="#90d020" stroke-width="1.15"/>
<polyline points="566.74,136.71 567.1,136.97 567.23,137.07 567.73,137.43 568.22,137.79 568.71,138.16 569.2,138.53 569.33,138.63 569.69,138.9 570.18,139.28 570.66,139.66 571.14,140.04 571.34,140.19 571.62,140.42 572.1,140.81 572.57,141.19 573.05,141.59 573.15,141.67 573.52,141.98 573.98,142.38 574.45,142.78 574.78,143.07 574.91,143.19 575.36,143.6 575.82,144.01 576.24,144.41 576.27,144.43 576.71,144.85 577.16,145.28 577.57,145.68 577.59,145.71 578.03,146.14 578.45,146.58 578.76,146.9 578.88,147.02 579.29,147.47 579.71,147.92 579.83,148.06 580.11,148.38 580.51,148.84 580.8,149.18 580.9,149.31 581.29,149.79 581.66,150.26 581.66,150.27 582.04,150.75 582.4,151.25 582.44,151.31 582.75,151.75 583.09,152.26 583.13,152.32 583.43,152.77 583.75,153.29 583.75,153.3 584.06,153.83 584.29,154.24 584.36,154.37 584.65,154.92 584.77,155.16 584.92,155.48 585.18,156.04 585.19,156.06 585.43,156.62 585.55,156.94 585.66,157.21 585.86,157.79 585.87,157.81 586.07,158.43 586.13,158.63 586.24,159.05 586.34,159.44 586.4,159.69 586.51,160.25 586.53,160.35 586.64,161.02 586.65,161.03 586.73,161.71 586.74,161.8 586.79,162.41 586.8,162.56 586.82,163.13 586.82,163.31 586.82,163.87 586.82,164.04 586.79,164.64 586.78,164.76 586.72,165.42 586.71,165.48 586.62,166.18 586.61,166.23 586.5,166.88 586.46,167.06 586.36,167.56 586.27,167.93 586.19,168.24 586.03,168.82 586,168.91 585.79,169.58 585.74,169.74 585.57,170.24 585.39,170.7 585.32,170.89 585.05,171.54 584.98,171.7 584.76,172.18 584.5,172.74 584.46,172.81 584.14,173.45 583.95,173.82 583.81,174.07 583.46,174.7 583.31,174.95 583.1,175.32 582.72,175.93 582.59,176.14 582.33,176.55 581.92,177.16 581.77,177.39 581.5,177.76 581.07,178.37 580.83,178.7 580.63,178.97 580.18,179.57 579.78,180.08 579.71,180.16 579.24,180.76 578.75,181.35 578.6,181.54 578.26,181.94 577.75,182.53 577.26,183.09 577.24,183.12 576.71,183.71 576.18,184.29 575.76,184.74 575.63,184.88 575.08,185.46 574.52,186.04" fill="none" stroke="#40c020" stroke-width="1.15"/>
<polyline points="617.1,174.96 617.43,174.72 618.05,174.27 618.66,173.81 619.26,173.36 619.85,172.9 620.44,172.45 621.02,171.99 621.35,171.73 621.59,171.53 622.15,171.07 622.7,170.61 623.24,170.15 623.77,169.68 624.17,169.32 624.29,169.2 624.79,168.73 625.27,168.25 625.73,167.76 625.99,167.47 626.17,167.26 626.59,166.76 626.97,166.24 627.13,166.02 627.32,165.71 627.63,165.16 627.79,164.83 627.89,164.6 628.09,164 628.13,163.84 628.21,163.38 628.24,162.97 628.23,162.71 628.17,162.21 628.13,161.99 627.98,161.52 627.85,161.19 627.7,160.88 627.34,160.29 627.34,160.29 626.92,159.74 626.49,159.24 626.46,159.21 625.96,158.7 625.43,158.22 625.14,157.97 624.87,157.75 624.3,157.29 623.7,156.84 623.1,156.41 623.03,156.36 622.48,155.98 621.85,155.56 621.22,155.15 620.57,154.75 619.92,154.35 619.65,154.18 619.27,153.95 618.61,153.56 617.94,153.18 617.28,152.8 616.61,152.42 615.94,152.04 615.26,151.67 614.59,151.3 614.1,151.04 613.91,150.94 613.23,150.57 612.56,150.21 611.88,149.85 611.2,149.49 610.52,149.14 609.84,148.79 609.16,148.44 608.48,148.09 607.81,147.74 607.13,147.39 606.45,147.05 605.77,146.71 605.1,146.37 604.8,146.22 604.42,146.03 603.75,145.69 603.07,145.35 602.4,145.02 601.73,144.69 601.06,144.35 600.39,144.02 599.72,143.69 599.05,143.36 598.38,143.04 597.71,142.71 597.05,142.39 596.39,142.06 595.72,141.74 595.06,141.42 594.4,141.1 593.74,140.78 593.09,140.46 592.43,140.14 591.77,139.83 591.12,139.51 590.47,139.2 589.82,138.88 589.31,138.64 589.17,138.57 588.52,138.26 587.87,137.95 587.23,137.64 586.58,137.33 585.94,137.03 585.3,136.72 584.66,136.41 584.02,136.11 583.38,135.81 582.74,135.5 582.11,135.2 581.47,134.9 580.84,134.6 580.21,134.3 579.58,134 578.95,133.71 578.33,133.41 577.7,133.11 577.08,132.82 576.45,132.52" fill="none" stroke="#20d0a0" stroke-width="1.15"/>
<text x="580.5" y="197.8" font-size="5.2" text-anchor="middle" fill="#0c0c0c" textLength="6.6" lengthAdjust="spacingAndGlyphs">160</text>
<text x="591.9" y="197.8" font-size="5.2" text-anchor="middle" fill="#0c0c0c" textLength="6.6" lengthAdjust="spacingAndGlyphs">200</text>
<text x="568.43" y="191.12" font-size="5.2" text-anchor="middle" fill="#0c0c0c" textLength="6.6" lengthAdjust="spacingAndGlyphs">240</text>
<text x="603.91" y="191.07" font-size="5.2" text-anchor="middle" fill="#0c0c0c" textLength="6.6" lengthAdjust="spacingAndGlyphs">300</text>
<text x="556.9" y="184.73" font-size="5.2" text-anchor="middle" fill="#0c0c0c" textLength="6.6" lengthAdjust="spacingAndGlyphs">320</text>
<text x="615.34" y="184.66" font-size="5.2" text-anchor="middle" fill="#0c0c0c" textLength="6.6" lengthAdjust="spacingAndGlyphs">400</text>
<text x="545.87" y="178.62" font-size="5.2" text-anchor="middle" fill="#0c0c0c" textLength="6.6" lengthAdjust="spacingAndGlyphs">400</text>
<text x="626.24" y="178.54" font-size="5.2" text-anchor="middle" fill="#0c0c0c" textLength="6.6" lengthAdjust="spacingAndGlyphs">500</text>
<text x="535.32" y="172.78" font-size="5.2" text-anchor="middle" fill="#0c0c0c" textLength="6.6" lengthAdjust="spacingAndGlyphs">480</text>
<text x="636.65" y="172.71" font-size="5.2" text-anchor="middle" fill="#0c0c0c" textLength="6.6" lengthAdjust="spacingAndGlyphs">600</text>
<text x="525.2" y="167.17" font-size="5.2" text-anchor="middle" fill="#0c0c0c" textLength="6.6" lengthAdjust="spacingAndGlyphs">560</text>
<text x="646.59" y="167.13" font-size="5.2" text-anchor="middle" fill="#0c0c0c" textLength="6.6" lengthAdjust="spacingAndGlyphs">700</text>
<text x="515.5" y="161.8" font-size="5.2" text-anchor="middle" fill="#0c0c0c" textLength="6.6" lengthAdjust="spacingAndGlyphs">640</text>
<text x="656.1" y="161.8" font-size="5.2" text-anchor="middle" fill="#0c0c0c" textLength="6.6" lengthAdjust="spacingAndGlyphs">800</text>
<text x="528.8" y="187.8" font-size="3.3" text-anchor="middle" fill="#333" textLength="23.7" lengthAdjust="spacingAndGlyphs">B: Cholesterol (mg)</text>
<text x="643.3" y="188.3" font-size="3.3" text-anchor="middle" fill="#333" textLength="24.3" lengthAdjust="spacingAndGlyphs">A: Soy lecithin (mg)</text>
<polygon points="585.92,88.92 588.99,89.61 585.89,88.68 582.8,87.89" fill="#00b3b2" stroke="#222" stroke-width="0.4" stroke-opacity="0.7"/>
<polygon points="582.81,88.19 585.92,88.92 582.8,87.89 579.68,87.07" fill="#00b5a2" stroke="#222" stroke-width="0.4" stroke-opacity="0.7"/>
<polygon points="589.06,89.94 592.12,90.54 588.99,89.61 585.92,88.92" fill="#01b5b3" stroke="#222" stroke-width="0.4" stroke-opacity="0.7"/>
<polygon points="579.66,87.43 582.81,88.19 579.68,87.07 576.51,86.21" fill="#00b792" stroke="#222" stroke-width="0.4" stroke-opacity="0.7"/>
<polygon points="585.96,89.31 589.06,89.94 585.92,88.92 582.81,88.19" fill="#01b7a4" stroke="#222" stroke-width="0.4" stroke-opacity="0.7"/>
<polygon points="592.22,90.96 595.28,91.46 592.12,90.54 589.06,89.94" fill="#01b8b4" stroke="#222" stroke-width="0.4" stroke-opacity="0.7"/>
<polygon points="576.47,86.64 579.66,87.43 576.51,86.21 573.3,85.31" fill="#02b77d" stroke="#222" stroke-width="0.4" stroke-opacity="0.7"/>
<polygon points="582.82,88.65 585.96,89.31 582.81,88.19 579.66,87.43" fill="#00b995" stroke="#222" stroke-width="0.4" stroke-opacity="0.7"/>
<polygon points="589.13,90.43 592.22,90.96 589.06,89.94 585.96,89.31" fill="#01baa6" stroke="#222" stroke-width="0.4" stroke-opacity="0.7"/>
<polygon points="595.4,91.97 598.45,92.38 595.28,91.46 592.22,90.96" fill="#01bbb5" stroke="#222" stroke-width="0.4" stroke-opacity="0.7"/>
<polygon points="573.23,85.8 576.47,86.64 573.3,85.31 570.06,84.37" fill="#05b763" stroke="#222" stroke-width="0.4" stroke-opacity="0.7"/>
<polygon points="579.64,87.96 582.82,88.65 579.66,87.43 576.47,86.64" fill="#02ba81" stroke="#222" stroke-width="0.4" stroke-opacity="0.7"/>
<polygon points="586,89.86 589.13,90.43 585.96,89.31 582.82,88.65" fill="#01bb97" stroke="#222" stroke-width="0.4" stroke-opacity="0.7"/>
<polygon points="592.32,91.53 595.4,91.97 592.22,90.96 589.13,90.43" fill="#01bca8" stroke="#222" stroke-width="0.4" stroke-opacity="0.7"/>
<polygon points="598.61,92.97 601.65,93.29 598.45,92.38 595.4,91.97" fill="#02bdb6" stroke="#222" stroke-width="0.4" stroke-opacity="0.7"/>
<polygon points="569.97,84.93 573.23,85.8 570.06,84.37 566.77,83.39" fill="#08b648" stroke="#222" stroke-width="0.4" stroke-opacity="0.7"/>
<polygon points="576.42,87.23 579.64,87.96 576.47,86.64 573.23,85.8" fill="#05b968" stroke="#222" stroke-width="0.4" stroke-opacity="0.7"/>
<polygon points="582.83,89.27 586,89.86 582.82,88.65 579.64,87.96" fill="#02bc85" stroke="#222" stroke-width="0.4" stroke-opacity="0.7"/>
<polygon points="589.2,91.07 592.32,91.53 589.13,90.43 586,89.86" fill="#01be9a" stroke="#222" stroke-width="0.4" stroke-opacity="0.7"/>
<polygon points="595.53,92.63 598.61,92.97 595.4,91.97 592.32,91.53" fill="#01bfa9" stroke="#222" stroke-width="0.4" stroke-opacity="0.7"/>
<polygon points="601.83,93.97 604.87,94.2 601.65,93.29 598.61,92.97" fill="#02c0b7" stroke="#222" stroke-width="0.4" stroke-opacity="0.7"/>
<polygon points="566.66,84.02 569.97,84.93 566.77,83.39 563.45,82.36" fill="#0cb52d" stroke="#222" stroke-width="0.4" stroke-opacity="0.7"/>
<polygon points="573.17,86.46 576.42,87.23 573.23,85.8 569.97,84.93" fill="#08b94e" stroke="#222" stroke-width="0.4" stroke-opacity="0.7"/>
<polygon points="579.63,88.65 582.83,89.27 579.64,87.96 576.42,87.23" fill="#05bc6d" stroke="#222" stroke-width="0.4" stroke-opacity="0.7"/>
<polygon points="586.04,90.58 589.2,91.07 586,89.86 582.83,89.27" fill="#02bf89" stroke="#222" stroke-width="0.4" stroke-opacity="0.7"/>
<polygon points="592.42,92.27 595.53,92.63 592.32,91.53 589.2,91.07" fill="#01c19c" stroke="#222" stroke-width="0.4" stroke-opacity="0.7"/>
<polygon points="598.76,93.73 601.83,93.97 598.61,92.97 595.53,92.63" fill="#02c2ab" stroke="#222" stroke-width="0.4" stroke-opacity="0.7"/>
<polygon points="605.08,94.97 608.11,95.1 604.87,94.2 601.83,93.97" fill="#03c3b8" stroke="#222" stroke-width="0.4" stroke-opacity="0.7"/>
<polygon points="563.32,83.06 566.66,84.02 563.45,82.36 560.09,81.29" fill="#0fb512" stroke="#222" stroke-width="0.4" stroke-opacity="0.7"/>
<polygon points="569.88,85.66 573.17,86.46 569.97,84.93 566.66,84.02" fill="#0bb834" stroke="#222" stroke-width="0.4" stroke-opacity="0.7"/>
<polygon points="576.39,87.99 579.63,88.65 576.42,87.23 573.17,86.46" fill="#08bb54" stroke="#222" stroke-width="0.4" stroke-opacity="0.7"/>
<polygon points="582.85,90.06 586.04,90.58 582.83,89.27 579.63,88.65" fill="#05bf72" stroke="#222" stroke-width="0.4" stroke-opacity="0.7"/>
<polygon points="589.27,91.88 592.42,92.27 589.2,91.07 586.04,90.58" fill="#02c28d" stroke="#222" stroke-width="0.4" stroke-opacity="0.7"/>
<polygon points="595.66,93.46 598.76,93.73 595.53,92.63 592.42,92.27" fill="#02c39e" stroke="#222" stroke-width="0.4" stroke-opacity="0.7"/>
<polygon points="602.01,94.82 605.08,94.97 601.83,93.97 598.76,93.73" fill="#02c5ac" stroke="#222" stroke-width="0.4" stroke-opacity="0.7"/>
<polygon points="608.35,95.95 611.38,95.99 608.11,95.1 605.08,94.97" fill="#03c6b9" stroke="#222" stroke-width="0.4" stroke-opacity="0.7"/>
<polygon points="559.94,82.07 563.32,83.06 560.09,81.29 556.69,80.18" fill="#25b40b" stroke="#222" stroke-width="0.4" stroke-opacity="0.7"/>
<polygon points="566.56,84.83 569.88,85.66 566.66,84.02 563.32,83.06" fill="#0eb81a" stroke="#222" stroke-width="0.4" stroke-opacity="0.7"/>
<polygon points="573.11,87.3 576.39,87.99 573.17,86.46 569.88,85.66" fill="#0bbb3b" stroke="#222" stroke-width="0.4" stroke-opacity="0.7"/>
<polygon points="579.62,89.51 582.85,90.06 579.63,88.65 576.39,87.99" fill="#07be5a" stroke="#222" stroke-width="0.4" stroke-opacity="0.7"/>
<polygon points="586.09,91.47 589.27,91.88 586.04,90.58 582.85,90.06" fill="#05c177" stroke="#222" stroke-width="0.4" stroke-opacity="0.7"/>
<polygon points="592.52,93.18 595.66,93.46 592.42,92.27 589.27,91.88" fill="#02c590" stroke="#222" stroke-width="0.4" stroke-opacity="0.7"/>
<polygon points="598.91,94.65 602.01,94.82 598.76,93.73 595.66,93.46" fill="#02c6a1" stroke="#222" stroke-width="0.4" stroke-opacity="0.7"/>
<polygon points="605.29,95.9 608.35,95.95 605.08,94.97 602.01,94.82" fill="#03c7ae" stroke="#222" stroke-width="0.4" stroke-opacity="0.7"/>
<polygon points="611.64,96.93 614.67,96.88 611.38,95.99 608.35,95.95" fill="#04c9b9" stroke="#222" stroke-width="0.4" stroke-opacity="0.7"/>
<polygon points="556.53,81.03 559.94,82.07 556.69,80.18 553.26,79.02" fill="#3cb407" stroke="#222" stroke-width="0.4" stroke-opacity="0.7"/>
<polygon points="563.2,83.95 566.56,84.83 563.32,83.06 559.94,82.07" fill="#1db70d" stroke="#222" stroke-width="0.4" stroke-opacity="0.7"/>
<polygon points="569.8,86.58 573.11,87.3 569.88,85.66 566.56,84.83" fill="#0eba22" stroke="#222" stroke-width="0.4" stroke-opacity="0.7"/>
<polygon points="576.36,88.94 579.62,89.51 576.39,87.99 573.11,87.3" fill="#0abe43" stroke="#222" stroke-width="0.4" stroke-opacity="0.7"/>
<polygon points="582.87,91.03 586.09,91.47 582.85,90.06 579.62,89.51" fill="#07c160" stroke="#222" stroke-width="0.4" stroke-opacity="0.7"/>
<polygon points="589.34,92.87 592.52,93.18 589.27,91.88 586.09,91.47" fill="#05c47b" stroke="#222" stroke-width="0.4" stroke-opacity="0.7"/>
<polygon points="595.78,94.47 598.91,94.65 595.66,93.46 592.52,93.18" fill="#03c794" stroke="#222" stroke-width="0.4" stroke-opacity="0.7"/>
<polygon points="602.19,95.84 605.29,95.9 602.01,94.82 598.91,94.65" fill="#03c9a3" stroke="#222" stroke-width="0.4" stroke-opacity="0.7"/>
<polygon points="608.58,96.98 611.64,96.93 608.35,95.95 605.29,95.9" fill="#04caaf" stroke="#222" stroke-width="0.4" stroke-opacity="0.7"/>
<polygon points="614.96,97.91 617.98,97.76 614.67,96.88 611.64,96.93" fill="#05ccba" stroke="#222" stroke-width="0.4" stroke-opacity="0.7"/>
<polygon points="553.09,79.95 556.53,81.03 553.26,79.02 549.8,77.81" fill="#54b302" stroke="#222" stroke-width="0.4" stroke-opacity="0.7"/>
<polygon points="559.8,83.04 563.2,83.95 559.94,82.07 556.53,81.03" fill="#34b709" stroke="#222" stroke-width="0.4" stroke-opacity="0.7"/>
<polygon points="566.46,85.83 569.8,86.58 566.56,84.83 563.2,83.95" fill="#16ba0f" stroke="#222" stroke-width="0.4" stroke-opacity="0.7"/>
<polygon points="573.06,88.33 576.36,88.94 573.11,87.3 569.8,86.58" fill="#0dbd2b" stroke="#222" stroke-width="0.4" stroke-opacity="0.7"/>
<polygon points="579.62,90.57 582.87,91.03 579.62,89.51 576.36,88.94" fill="#0ac14a" stroke="#222" stroke-width="0.4" stroke-opacity="0.7"/>
<polygon points="586.13,92.54 589.34,92.87 586.09,91.47 582.87,91.03" fill="#07c466" stroke="#222" stroke-width="0.4" stroke-opacity="0.7"/>
<polygon points="592.61,94.27 595.78,94.47 592.52,93.18 589.34,92.87" fill="#05c780" stroke="#222" stroke-width="0.4" stroke-opacity="0.7"/>
<polygon points="599.06,95.76 602.19,95.84 598.91,94.65 595.78,94.47" fill="#03ca97" stroke="#222" stroke-width="0.4" stroke-opacity="0.7"/>
<polygon points="605.49,97.01 608.58,96.98 605.29,95.9 602.19,95.84" fill="#04cca5" stroke="#222" stroke-width="0.4" stroke-opacity="0.7"/>
<polygon points="611.9,98.05 614.96,97.91 611.64,96.93 608.58,96.98" fill="#05cdb0" stroke="#222" stroke-width="0.4" stroke-opacity="0.7"/>
<polygon points="618.3,98.88 621.32,98.63 617.98,97.76 614.96,97.91" fill="#06ceba" stroke="#222" stroke-width="0.4" stroke-opacity="0.7"/>
<polygon points="549.61,78.82 553.09,79.95 549.8,77.81 546.3,76.56" fill="#6eb401" stroke="#222" stroke-width="0.4" stroke-opacity="0.7"/>
<polygon points="556.38,82.08 559.8,83.04 556.53,81.03 553.09,79.95" fill="#4bb605" stroke="#222" stroke-width="0.4" stroke-opacity="0.7"/>
<polygon points="563.08,85.03 566.46,85.83 563.2,83.95 559.8,83.04" fill="#2cb90b" stroke="#222" stroke-width="0.4" stroke-opacity="0.7"/>
<polygon points="569.73,87.69 573.06,88.33 569.8,86.58 566.46,85.83" fill="#10bd13" stroke="#222" stroke-width="0.4" stroke-opacity="0.7"/>
<polygon points="576.33,90.08 579.62,90.57 576.36,88.94 573.06,88.33" fill="#0dc033" stroke="#222" stroke-width="0.4" stroke-opacity="0.7"/>
<polygon points="582.89,92.19 586.13,92.54 582.87,91.03 579.62,90.57" fill="#0ac451" stroke="#222" stroke-width="0.4" stroke-opacity="0.7"/>
<polygon points="589.41,94.05 592.61,94.27 589.34,92.87 586.13,92.54" fill="#07c76c" stroke="#222" stroke-width="0.4" stroke-opacity="0.7"/>
<polygon points="595.9,95.66 599.06,95.76 595.78,94.47 592.61,94.27" fill="#05ca85" stroke="#222" stroke-width="0.4" stroke-opacity="0.7"/>
<polygon points="602.37,97.04 605.49,97.01 602.19,95.84 599.06,95.76" fill="#04cd9a" stroke="#222" stroke-width="0.4" stroke-opacity="0.7"/>
<polygon points="608.81,98.19 611.9,98.05 608.58,96.98 605.49,97.01" fill="#05cea7" stroke="#222" stroke-width="0.4" stroke-opacity="0.7"/>
<polygon points="615.24,99.12 618.3,98.88 614.96,97.91 611.9,98.05" fill="#06d0b1" stroke="#222" stroke-width="0.4" stroke-opacity="0.7"/>
<polygon points="621.66,99.84 624.68,99.5 621.32,98.63 618.3,98.88" fill="#07d1ba" stroke="#222" stroke-width="0.4" stroke-opacity="0.7"/>
<polygon points="546.11,77.65 549.61,78.82 546.3,76.56 542.78,75.25" fill="#89b503" stroke="#222" stroke-width="0.4" stroke-opacity="0.7"/>
<polygon points="552.92,81.08 556.38,82.08 553.09,79.95 549.61,78.82" fill="#62b500" stroke="#222" stroke-width="0.4" stroke-opacity="0.7"/>
<polygon points="559.67,84.2 563.08,85.03 559.8,83.04 556.38,82.08" fill="#42b907" stroke="#222" stroke-width="0.4" stroke-opacity="0.7"/>
<polygon points="566.37,87.02 569.73,87.69 566.46,85.83 563.08,85.03" fill="#23bc0d" stroke="#222" stroke-width="0.4" stroke-opacity="0.7"/>
<polygon points="573.01,89.56 576.33,90.08 573.06,88.33 569.73,87.69" fill="#10c01c" stroke="#222" stroke-width="0.4" stroke-opacity="0.7"/>
<polygon points="579.61,91.81 582.89,92.19 579.62,90.57 576.33,90.08" fill="#0dc33b" stroke="#222" stroke-width="0.4" stroke-opacity="0.7"/>
<polygon points="586.18,93.81 589.41,94.05 586.13,92.54 582.89,92.19" fill="#0ac758" stroke="#222" stroke-width="0.4" stroke-opacity="0.7"/>
<polygon points="592.71,95.55 595.9,95.66 592.61,94.27 589.41,94.05" fill="#08ca72" stroke="#222" stroke-width="0.4" stroke-opacity="0.7"/>
<polygon points="599.21,97.04 602.37,97.04 599.06,95.76 595.9,95.66" fill="#06cd89" stroke="#222" stroke-width="0.4" stroke-opacity="0.7"/>
<polygon points="605.69,98.31 608.81,98.19 605.49,97.01 602.37,97.04" fill="#05d09d" stroke="#222" stroke-width="0.4" stroke-opacity="0.7"/>
<polygon points="612.15,99.35 615.24,99.12 611.9,98.05 608.81,98.19" fill="#06d1a8" stroke="#222" stroke-width="0.4" stroke-opacity="0.7"/>
<polygon points="618.6,100.18 621.66,99.84 618.3,98.88 615.24,99.12" fill="#07d3b2" stroke="#222" stroke-width="0.4" stroke-opacity="0.7"/>
<polygon points="625.04,100.8 628.06,100.36 624.68,99.5 621.66,99.84" fill="#08d4ba" stroke="#222" stroke-width="0.4" stroke-opacity="0.7"/>
<polygon points="542.58,76.43 546.11,77.65 542.78,75.25 539.23,73.89" fill="#a5b706" stroke="#222" stroke-width="0.4" stroke-opacity="0.7"/>
<polygon points="549.44,80.04 552.92,81.08 549.61,78.82 546.11,77.65" fill="#7cb702" stroke="#222" stroke-width="0.4" stroke-opacity="0.7"/>
<polygon points="556.24,83.34 559.67,84.2 556.38,82.08 552.92,81.08" fill="#58b803" stroke="#222" stroke-width="0.4" stroke-opacity="0.7"/>
<polygon points="562.98,86.32 566.37,87.02 563.08,85.03 559.67,84.2" fill="#38bc09" stroke="#222" stroke-width="0.4" stroke-opacity="0.7"/>
<polygon points="569.66,89.01 573.01,89.56 569.73,87.69 566.37,87.02" fill="#1bbf0f" stroke="#222" stroke-width="0.4" stroke-opacity="0.7"/>
<polygon points="576.3,91.41 579.61,91.81 576.33,90.08 573.01,89.56" fill="#0fc326" stroke="#222" stroke-width="0.4" stroke-opacity="0.7"/>
<polygon points="582.91,93.54 586.18,93.81 582.89,92.19 579.61,91.81" fill="#0cc644" stroke="#222" stroke-width="0.4" stroke-opacity="0.7"/>
<polygon points="589.48,95.42 592.71,95.55 589.41,94.05 586.18,93.81" fill="#0aca5f" stroke="#222" stroke-width="0.4" stroke-opacity="0.7"/>
<polygon points="596.02,97.04 599.21,97.04 595.9,95.66 592.71,95.55" fill="#08cd78" stroke="#222" stroke-width="0.4" stroke-opacity="0.7"/>
<polygon points="602.54,98.42 605.69,98.31 602.37,97.04 599.21,97.04" fill="#07d08d" stroke="#222" stroke-width="0.4" stroke-opacity="0.7"/>
<polygon points="609.04,99.58 612.15,99.35 608.81,98.19 605.69,98.31" fill="#06d3a0" stroke="#222" stroke-width="0.4" stroke-opacity="0.7"/>
<polygon points="615.52,100.51 618.6,100.18 615.24,99.12 612.15,99.35" fill="#07d4aa" stroke="#222" stroke-width="0.4" stroke-opacity="0.7"/>
<polygon points="621.99,101.23 625.04,100.8 621.66,99.84 618.6,100.18" fill="#08d6b3" stroke="#222" stroke-width="0.4" stroke-opacity="0.7"/>
<polygon points="628.45,101.75 631.47,101.22 628.06,100.36 625.04,100.8" fill="#09d7b9" stroke="#222" stroke-width="0.4" stroke-opacity="0.7"/>
<polygon points="539.02,75.16 542.58,76.43 539.23,73.89 535.65,72.48" fill="#bcb307" stroke="#222" stroke-width="0.4" stroke-opacity="0.7"/>
<polygon points="545.93,78.96 549.44,80.04 546.11,77.65 542.58,76.43" fill="#97b904" stroke="#222" stroke-width="0.4" stroke-opacity="0.7"/>
<polygon points="552.77,82.43 556.24,83.34 552.92,81.08 549.44,80.04" fill="#6fb901" stroke="#222" stroke-width="0.4" stroke-opacity="0.7"/>
<polygon points="559.55,85.58 562.98,86.32 559.67,84.2 556.24,83.34" fill="#4dbb05" stroke="#222" stroke-width="0.4" stroke-opacity="0.7"/>
<polygon points="566.28,88.43 569.66,89.01 566.37,87.02 562.98,86.32" fill="#2fbf0b" stroke="#222" stroke-width="0.4" stroke-opacity="0.7"/>
<polygon points="572.97,90.98 576.3,91.41 573.01,89.56 569.66,89.01" fill="#13c311" stroke="#222" stroke-width="0.4" stroke-opacity="0.7"/>
<polygon points="579.61,93.26 582.91,93.54 579.61,91.81 576.3,91.41" fill="#0fc62f" stroke="#222" stroke-width="0.4" stroke-opacity="0.7"/>
<polygon points="586.22,95.27 589.48,95.42 586.18,93.81 582.91,93.54" fill="#0cc94c" stroke="#222" stroke-width="0.4" stroke-opacity="0.7"/>
<polygon points="592.8,97.02 596.02,97.04 592.71,95.55 589.48,95.42" fill="#0acd66" stroke="#222" stroke-width="0.4" stroke-opacity="0.7"/>
<polygon points="599.35,98.53 602.54,98.42 599.21,97.04 596.02,97.04" fill="#09d07d" stroke="#222" stroke-width="0.4" stroke-opacity="0.7"/>
<polygon points="605.89,99.8 609.04,99.58 605.69,98.31 602.54,98.42" fill="#08d391" stroke="#222" stroke-width="0.4" stroke-opacity="0.7"/>
<polygon points="612.4,100.84 615.52,100.51 612.15,99.35 609.04,99.58" fill="#07d5a2" stroke="#222" stroke-width="0.4" stroke-opacity="0.7"/>
<polygon points="618.91,101.66 621.99,101.23 618.6,100.18 615.52,100.51" fill="#08d7ac" stroke="#222" stroke-width="0.4" stroke-opacity="0.7"/>
<polygon points="625.4,102.28 628.45,101.75 625.04,100.8 621.99,101.23" fill="#0ad8b3" stroke="#222" stroke-width="0.4" stroke-opacity="0.7"/>
<polygon points="631.89,102.69 634.91,102.07 631.47,101.22 628.45,101.75" fill="#0bdab9" stroke="#222" stroke-width="0.4" stroke-opacity="0.7"/>
<polygon points="535.44,73.84 539.02,75.16 535.65,72.48 532.04,71.02" fill="#bb9702" stroke="#222" stroke-width="0.4" stroke-opacity="0.7"/>
<polygon points="542.39,77.83 545.93,78.96 542.58,76.43 539.02,75.16" fill="#b2ba07" stroke="#222" stroke-width="0.4" stroke-opacity="0.7"/>
<polygon points="549.28,81.48 552.77,82.43 549.44,80.04 545.93,78.96" fill="#89ba03" stroke="#222" stroke-width="0.4" stroke-opacity="0.7"/>
<polygon points="556.1,84.81 559.55,85.58 556.24,83.34 552.77,82.43" fill="#63bb01" stroke="#222" stroke-width="0.4" stroke-opacity="0.7"/>
<polygon points="562.87,87.82 566.28,88.43 562.98,86.32 559.55,85.58" fill="#43bf08" stroke="#222" stroke-width="0.4" stroke-opacity="0.7"/>
<polygon points="569.6,90.53 572.97,90.98 569.66,89.01 566.28,88.43" fill="#26c20e" stroke="#222" stroke-width="0.4" stroke-opacity="0.7"/>
<polygon points="576.28,92.96 579.61,93.26 576.3,91.41 572.97,90.98" fill="#11c61b" stroke="#222" stroke-width="0.4" stroke-opacity="0.7"/>
<polygon points="582.93,95.1 586.22,95.27 582.91,93.54 579.61,93.26" fill="#0fc939" stroke="#222" stroke-width="0.4" stroke-opacity="0.7"/>
<polygon points="589.55,96.99 592.8,97.02 589.48,95.42 586.22,95.27" fill="#0ccc55" stroke="#222" stroke-width="0.4" stroke-opacity="0.7"/>
<polygon points="596.14,98.62 599.35,98.53 596.02,97.04 592.8,97.02" fill="#0bcf6d" stroke="#222" stroke-width="0.4" stroke-opacity="0.7"/>
<polygon points="602.71,100.01 605.89,99.8 602.54,98.42 599.35,98.53" fill="#09d383" stroke="#222" stroke-width="0.4" stroke-opacity="0.7"/>
<polygon points="609.26,101.16 612.4,100.84 609.04,99.58 605.89,99.8" fill="#09d595" stroke="#222" stroke-width="0.4" stroke-opacity="0.7"/>
<polygon points="615.79,102.09 618.91,101.66 615.52,100.51 612.4,100.84" fill="#08d8a5" stroke="#222" stroke-width="0.4" stroke-opacity="0.7"/>
<polygon points="622.32,102.81 625.4,102.28 621.99,101.23 618.91,101.66" fill="#0adaad" stroke="#222" stroke-width="0.4" stroke-opacity="0.7"/>
<polygon points="628.83,103.31 631.89,102.69 628.45,101.75 625.4,102.28" fill="#0bdbb4" stroke="#222" stroke-width="0.4" stroke-opacity="0.7"/>
<polygon points="635.34,103.62 638.37,102.91 634.91,102.07 631.89,102.69" fill="#0cddb9" stroke="#222" stroke-width="0.4" stroke-opacity="0.7"/>
<polygon points="531.84,72.46 535.44,73.84 532.04,71.02 528.42,69.49" fill="#bb7c00" stroke="#222" stroke-width="0.4" stroke-opacity="0.7"/>
<polygon points="538.83,76.65 542.39,77.83 539.02,75.16 535.44,73.84" fill="#bfad05" stroke="#222" stroke-width="0.4" stroke-opacity="0.7"/>
<polygon points="545.76,80.49 549.28,81.48 545.93,78.96 542.39,77.83" fill="#a3bc05" stroke="#222" stroke-width="0.4" stroke-opacity="0.7"/>
<polygon points="552.62,83.99 556.1,84.81 552.77,82.43 549.28,81.48" fill="#7bbc02" stroke="#222" stroke-width="0.4" stroke-opacity="0.7"/>
<polygon points="559.44,87.18 562.87,87.82 559.55,85.58 556.1,84.81" fill="#57be04" stroke="#222" stroke-width="0.4" stroke-opacity="0.7"/>
<polygon points="566.2,90.05 569.6,90.53 566.28,88.43 562.87,87.82" fill="#39c20a" stroke="#222" stroke-width="0.4" stroke-opacity="0.7"/>
<polygon points="572.92,92.63 576.28,92.96 572.97,90.98 569.6,90.53" fill="#1dc510" stroke="#222" stroke-width="0.4" stroke-opacity="0.7"/>
<polygon points="579.61,94.92 582.93,95.1 579.61,93.26 576.28,92.96" fill="#11c926" stroke="#222" stroke-width="0.4" stroke-opacity="0.7"/>
<polygon points="586.26,96.94 589.55,96.99 586.22,95.27 582.93,95.1" fill="#0ecc43" stroke="#222" stroke-width="0.4" stroke-opacity="0.7"/>
<polygon points="592.89,98.7 596.14,98.62 592.8,97.02 589.55,96.99" fill="#0dcf5d" stroke="#222" stroke-width="0.4" stroke-opacity="0.7"/>
<polygon points="599.5,100.21 602.71,100.01 599.35,98.53 596.14,98.62" fill="#0bd274" stroke="#222" stroke-width="0.4" stroke-opacity="0.7"/>
<polygon points="606.08,101.48 609.26,101.16 605.89,99.8 602.71,100.01" fill="#0ad588" stroke="#222" stroke-width="0.4" stroke-opacity="0.7"/>
<polygon points="612.65,102.52 615.79,102.09 612.4,100.84 609.26,101.16" fill="#0ad899" stroke="#222" stroke-width="0.4" stroke-opacity="0.7"/>
<polygon points="619.21,103.34 622.32,102.81 618.91,101.66 615.79,102.09" fill="#0adba7" stroke="#222" stroke-width="0.4" stroke-opacity="0.7"/>
<polygon points="625.75,103.95 628.83,103.31 625.4,102.28 622.32,102.81" fill="#0bdcae" stroke="#222" stroke-width="0.4" stroke-opacity="0.7"/>
<polygon points="632.29,104.35 635.34,103.62 631.89,102.69 628.83,103.31" fill="#0ddeb4" stroke="#222" stroke-width="0.4" stroke-opacity="0.7"/>
<polygon points="638.83,104.55 641.85,103.74 638.37,102.91 635.34,103.62" fill="#0ee0b8" stroke="#222" stroke-width="0.4" stroke-opacity="0.7"/>
<polygon points="528.22,71.04 531.84,72.46 528.42,69.49 524.77,67.91" fill="#ba6300" stroke="#222" stroke-width="0.4" stroke-opacity="0.7"/>
<polygon points="535.25,75.43 538.83,76.65 535.44,73.84 531.84,72.46" fill="#be9101" stroke="#222" stroke-width="0.4" stroke-opacity="0.7"/>
<polygon points="542.22,79.46 545.76,80.49 542.39,77.83 538.83,76.65" fill="#bdbe07" stroke="#222" stroke-width="0.4" stroke-opacity="0.7"/>
<polygon points="549.12,83.14 552.62,83.99 549.28,81.48 545.76,80.49" fill="#93be04" stroke="#222" stroke-width="0.4" stroke-opacity="0.7"/>
<polygon points="555.97,86.5 559.44,87.18 556.1,84.81 552.62,83.99" fill="#6cbe01" stroke="#222" stroke-width="0.4" stroke-opacity="0.7"/>
<polygon points="562.78,89.54 566.2,90.05 562.87,87.82 559.44,87.18" fill="#4cc107" stroke="#222" stroke-width="0.4" stroke-opacity="0.7"/>
<polygon points="569.54,92.27 572.92,92.63 569.6,90.53 566.2,90.05" fill="#2ec50d" stroke="#222" stroke-width="0.4" stroke-opacity="0.7"/>
<polygon points="576.26,94.72 579.61,94.92 576.28,92.96 572.92,92.63" fill="#14c813" stroke="#222" stroke-width="0.4" stroke-opacity="0.7"/>
<polygon points="582.95,96.88 586.26,96.94 582.93,95.1 579.61,94.92" fill="#11cc31" stroke="#222" stroke-width="0.4" stroke-opacity="0.7"/>
<polygon points="589.62,98.77 592.89,98.7 589.55,96.99 586.26,96.94" fill="#0fcf4c" stroke="#222" stroke-width="0.4" stroke-opacity="0.7"/>
<polygon points="596.26,100.41 599.5,100.21 596.14,98.62 592.89,98.7" fill="#0dd265" stroke="#222" stroke-width="0.4" stroke-opacity="0.7"/>
<polygon points="602.87,101.8 606.08,101.48 602.71,100.01 599.5,100.21" fill="#0cd57b" stroke="#222" stroke-width="0.4" stroke-opacity="0.7"/>
<polygon points="609.48,102.95 612.65,102.52 609.26,101.16 606.08,101.48" fill="#0bd88d" stroke="#222" stroke-width="0.4" stroke-opacity="0.7"/>
<polygon points="616.06,103.88 619.21,103.34 615.79,102.09 612.65,102.52" fill="#0bdb9d" stroke="#222" stroke-width="0.4" stroke-opacity="0.7"/>
<polygon points="622.64,104.58 625.75,103.95 622.32,102.81 619.21,103.34" fill="#0bdea9" stroke="#222" stroke-width="0.4" stroke-opacity="0.7"/>
<polygon points="629.21,105.08 632.29,104.35 628.83,103.31 625.75,103.95" fill="#0ddfb0" stroke="#222" stroke-width="0.4" stroke-opacity="0.7"/>
<polygon points="635.77,105.37 638.83,104.55 635.34,103.62 632.29,104.35" fill="#0ee1b4" stroke="#222" stroke-width="0.4" stroke-opacity="0.7"/>
<polygon points="642.33,105.47 645.36,104.56 641.85,103.74 638.83,104.55" fill="#10e3b7" stroke="#222" stroke-width="0.4" stroke-opacity="0.7"/>
<polygon points="524.58,69.55 528.22,71.04 524.77,67.91 521.11,66.27" fill="#ba4c00" stroke="#222" stroke-width="0.4" stroke-opacity="0.7"/>
<polygon points="531.65,74.15 535.25,75.43 531.84,72.46 528.22,71.04" fill="#be7900" stroke="#222" stroke-width="0.4" stroke-opacity="0.7"/>
<polygon points="538.65,78.38 542.22,79.46 538.83,76.65 535.25,75.43" fill="#c1a904" stroke="#222" stroke-width="0.4" stroke-opacity="0.7"/>
<polygon points="545.59,82.25 549.12,83.14 545.76,80.49 542.22,79.46" fill="#acbf06" stroke="#222" stroke-width="0.4" stroke-opacity="0.7"/>
<polygon points="552.48,85.79 555.97,86.5 552.62,83.99 549.12,83.14" fill="#83c003" stroke="#222" stroke-width="0.4" stroke-opacity="0.7"/>
<polygon points="559.32,89 562.78,89.54 559.44,87.18 555.97,86.5" fill="#5fc103" stroke="#222" stroke-width="0.4" stroke-opacity="0.7"/>
<polygon points="566.12,91.9 569.54,92.27 566.2,90.05 562.78,89.54" fill="#40c40a" stroke="#222" stroke-width="0.4" stroke-opacity="0.7"/>
<polygon points="572.88,94.49 576.26,94.72 572.92,92.63 569.54,92.27" fill="#24c810" stroke="#222" stroke-width="0.4" stroke-opacity="0.7"/>
<polygon points="579.61,96.8 582.95,96.88 579.61,94.92 576.26,94.72" fill="#13cc1f" stroke="#222" stroke-width="0.4" stroke-opacity="0.7"/>
<polygon points="586.31,98.83 589.62,98.77 586.26,96.94 582.95,96.88" fill="#11cf3c" stroke="#222" stroke-width="0.4" stroke-opacity="0.7"/>
<polygon points="592.98,100.6 596.26,100.41 592.89,98.7 589.62,98.77" fill="#0fd256" stroke="#222" stroke-width="0.4" stroke-opacity="0.7"/>
<polygon points="599.64,102.11 602.87,101.8 599.5,100.21 596.26,100.41" fill="#0ed56d" stroke="#222" stroke-width="0.4" stroke-opacity="0.7"/>
<polygon points="606.27,103.38 609.48,102.95 606.08,101.48 602.87,101.8" fill="#0dd881" stroke="#222" stroke-width="0.4" stroke-opacity="0.7"/>
<polygon points="612.89,104.42 616.06,103.88 612.65,102.52 609.48,102.95" fill="#0ddb92" stroke="#222" stroke-width="0.4" stroke-opacity="0.7"/>
<polygon points="619.5,105.23 622.64,104.58 619.21,103.34 616.06,103.88" fill="#0ddea0" stroke="#222" stroke-width="0.4" stroke-opacity="0.7"/>
<polygon points="626.1,105.82 629.21,105.08 625.75,103.95 622.64,104.58" fill="#0de0ab" stroke="#222" stroke-width="0.4" stroke-opacity="0.7"/>
<polygon points="632.69,106.2 635.77,105.37 632.29,104.35 629.21,105.08" fill="#0fe2b1" stroke="#222" stroke-width="0.4" stroke-opacity="0.7"/>
<polygon points="639.28,106.39 642.33,105.47 638.83,104.55 635.77,105.37" fill="#10e4b4" stroke="#222" stroke-width="0.4" stroke-opacity="0.7"/>
<polygon points="645.86,106.38 648.89,105.38 645.36,104.56 642.33,105.47" fill="#12e6b6" stroke="#222" stroke-width="0.4" stroke-opacity="0.7"/>
<polygon points="520.92,68.01 524.58,69.55 521.11,66.27 517.43,64.57" fill="#b93600" stroke="#222" stroke-width="0.4" stroke-opacity="0.7"/>
<polygon points="528.03,72.82 531.65,74.15 528.22,71.04 524.58,69.55" fill="#bd6100" stroke="#222" stroke-width="0.4" stroke-opacity="0.7"/>
<polygon points="535.07,77.25 538.65,78.38 535.25,75.43 531.65,74.15" fill="#c18f00" stroke="#222" stroke-width="0.4" stroke-opacity="0.7"/>
<polygon points="542.04,81.32 545.59,82.25 542.22,79.46 538.65,78.38" fill="#c5c108" stroke="#222" stroke-width="0.4" stroke-opacity="0.7"/>
<polygon points="548.97,85.04 552.48,85.79 549.12,83.14 545.59,82.25" fill="#9bc105" stroke="#222" stroke-width="0.4" stroke-opacity="0.7"/>
<polygon points="555.85,88.43 559.32,89 555.97,86.5 552.48,85.79" fill="#74c102" stroke="#222" stroke-width="0.4" stroke-opacity="0.7"/>
<polygon points="562.68,91.49 566.12,91.9 562.78,89.54 559.32,89" fill="#52c406" stroke="#222" stroke-width="0.4" stroke-opacity="0.7"/>
<polygon points="569.48,94.25 572.88,94.49 569.54,92.27 566.12,91.9" fill="#35c80d" stroke="#222" stroke-width="0.4" stroke-opacity="0.7"/>
<polygon points="576.24,96.7 579.61,96.8 576.26,94.72 572.88,94.49" fill="#1acb13" stroke="#222" stroke-width="0.4" stroke-opacity="0.7"/>
<polygon points="582.97,98.88 586.31,98.83 582.95,96.88 579.61,96.8" fill="#13cf2b" stroke="#222" stroke-width="0.4" stroke-opacity="0.7"/>
<polygon points="589.68,100.78 592.98,100.6 589.62,98.77 586.31,98.83" fill="#11d247" stroke="#222" stroke-width="0.4" stroke-opacity="0.7"/>
<polygon points="596.37,102.42 599.64,102.11 596.26,100.41 592.98,100.6" fill="#0fd560" stroke="#222" stroke-width="0.4" stroke-opacity="0.7"/>
<polygon points="603.04,103.81 606.27,103.38 602.87,101.8 599.64,102.11" fill="#0ed875" stroke="#222" stroke-width="0.4" stroke-opacity="0.7"/>
<polygon points="609.69,104.96 612.89,104.42 609.48,102.95 606.27,103.38" fill="#0edb88" stroke="#222" stroke-width="0.4" stroke-opacity="0.7"/>
<polygon points="616.33,105.87 619.5,105.23 616.06,103.88 612.89,104.42" fill="#0ede97" stroke="#222" stroke-width="0.4" stroke-opacity="0.7"/>
<polygon points="622.96,106.57 626.1,105.82 622.64,104.58 619.5,105.23" fill="#0ee0a3" stroke="#222" stroke-width="0.4" stroke-opacity="0.7"/>
<polygon points="629.58,107.05 632.69,106.2 629.21,105.08 626.1,105.82" fill="#0fe3ac" stroke="#222" stroke-width="0.4" stroke-opacity="0.7"/>
<polygon points="636.2,107.32 639.28,106.39 635.77,105.37 632.69,106.2" fill="#11e5b1" stroke="#222" stroke-width="0.4" stroke-opacity="0.7"/>
<polygon points="642.81,107.4 645.86,106.38 642.33,105.47 639.28,106.39" fill="#12e6b4" stroke="#222" stroke-width="0.4" stroke-opacity="0.7"/>
<polygon points="649.42,107.28 652.44,106.18 648.89,105.38 645.86,106.38" fill="#14e8b5" stroke="#222" stroke-width="0.4" stroke-opacity="0.7"/>
<polygon points="524.39,71.44 528.03,72.82 524.58,69.55 520.92,68.01" fill="#bd4b00" stroke="#222" stroke-width="0.4" stroke-opacity="0.7"/>
<polygon points="531.46,76.08 535.07,77.25 531.65,74.15 528.03,72.82" fill="#c07700" stroke="#222" stroke-width="0.4" stroke-opacity="0.7"/>
<polygon points="538.47,80.35 542.04,81.32 538.65,78.38 535.07,77.25" fill="#c4a804" stroke="#222" stroke-width="0.4" stroke-opacity="0.7"/>
<polygon points="545.43,84.26 548.97,85.04 545.59,82.25 542.04,81.32" fill="#b3c207" stroke="#222" stroke-width="0.4" stroke-opacity="0.7"/>
<polygon points="552.34,87.83 555.85,88.43 552.48,85.79 548.97,85.04" fill="#8ac304" stroke="#222" stroke-width="0.4" stroke-opacity="0.7"/>
<polygon points="559.21,91.06 562.68,91.49 559.32,89 555.85,88.43" fill="#65c403" stroke="#222" stroke-width="0.4" stroke-opacity="0.7"/>
<polygon points="566.04,93.98 569.48,94.25 566.12,91.9 562.68,91.49" fill="#46c709" stroke="#222" stroke-width="0.4" stroke-opacity="0.7"/>
<polygon points="572.84,96.59 576.24,96.7 572.88,94.49 569.48,94.25" fill="#2acb10" stroke="#222" stroke-width="0.4" stroke-opacity="0.7"/>
<polygon points="579.61,98.91 582.97,98.88 579.61,96.8 576.24,96.7" fill="#15ce1a" stroke="#222" stroke-width="0.4" stroke-opacity="0.7"/>
<polygon points="586.35,100.95 589.68,100.78 586.31,98.83 582.97,98.88" fill="#12d238" stroke="#222" stroke-width="0.4" stroke-opacity="0.7"/>
<polygon points="593.07,102.72 596.37,102.42 592.98,100.6 589.68,100.78" fill="#11d552" stroke="#222" stroke-width="0.4" stroke-opacity="0.7"/>
<polygon points="599.78,104.23 603.04,103.81 599.64,102.11 596.37,102.42" fill="#10d869" stroke="#222" stroke-width="0.4" stroke-opacity="0.7"/>
<polygon points="606.46,105.5 609.69,104.96 606.27,103.38 603.04,103.81" fill="#0fdb7d" stroke="#222" stroke-width="0.4" stroke-opacity="0.7"/>
<polygon points="613.13,106.53 616.33,105.87 612.89,104.42 609.69,104.96" fill="#0fde8e" stroke="#222" stroke-width="0.4" stroke-opacity="0.7"/>
<polygon points="619.79,107.32 622.96,106.57 619.5,105.23 616.33,105.87" fill="#10e19c" stroke="#222" stroke-width="0.4" stroke-opacity="0.7"/>
<polygon points="626.45,107.9 629.58,107.05 626.1,105.82 622.96,106.57" fill="#10e3a6" stroke="#222" stroke-width="0.4" stroke-opacity="0.7"/>
<polygon points="633.09,108.27 636.2,107.32 632.69,106.2 629.58,107.05" fill="#11e5ad" stroke="#222" stroke-width="0.4" stroke-opacity="0.7"/>
<polygon points="639.73,108.43 642.81,107.4 639.28,106.39 636.2,107.32" fill="#13e7b2" stroke="#222" stroke-width="0.4" stroke-opacity="0.7"/>
<polygon points="646.36,108.4 649.42,107.28 645.86,106.38 642.81,107.4" fill="#15e9b3" stroke="#222" stroke-width="0.4" stroke-opacity="0.7"/>
<polygon points="527.84,74.86 531.46,76.08 528.03,72.82 524.39,71.44" fill="#c06000" stroke="#222" stroke-width="0.4" stroke-opacity="0.7"/>
<polygon points="534.89,79.34 538.47,80.35 535.07,77.25 531.46,76.08" fill="#c48f00" stroke="#222" stroke-width="0.4" stroke-opacity="0.7"/>
<polygon points="541.88,83.44 545.43,84.26 542.04,81.32 538.47,80.35" fill="#c8c108" stroke="#222" stroke-width="0.4" stroke-opacity="0.7"/>
<polygon points="548.82,87.19 552.34,87.83 548.97,85.04 545.43,84.26" fill="#a0c406" stroke="#222" stroke-width="0.4" stroke-opacity="0.7"/>
<polygon points="555.72,90.6 559.21,91.06 555.85,88.43 552.34,87.83" fill="#79c403" stroke="#222" stroke-width="0.4" stroke-opacity="0.7"/>
<polygon points="562.58,93.69 566.04,93.98 562.68,91.49 559.21,91.06" fill="#57c706" stroke="#222" stroke-width="0.4" stroke-opacity="0.7"/>
<polygon points="569.42,96.46 572.84,96.59 569.48,94.25 566.04,93.98" fill="#3acb0d" stroke="#222" stroke-width="0.4" stroke-opacity="0.7"/>
<polygon points="576.22,98.93 579.61,98.91 576.24,96.7 572.84,96.59" fill="#1fce13" stroke="#222" stroke-width="0.4" stroke-opacity="0.7"/>
<polygon points="582.99,101.11 586.35,100.95 582.97,98.88 579.61,98.91" fill="#14d228" stroke="#222" stroke-width="0.4" stroke-opacity="0.7"/>
<polygon points="589.75,103.02 593.07,102.72 589.68,100.78 586.35,100.95" fill="#13d544" stroke="#222" stroke-width="0.4" stroke-opacity="0.7"/>
<polygon points="596.48,104.66 599.78,104.23 596.37,102.42 593.07,102.72" fill="#11d85d" stroke="#222" stroke-width="0.4" stroke-opacity="0.7"/>
<polygon points="603.2,106.04 606.46,105.5 603.04,103.81 599.78,104.23" fill="#11db72" stroke="#222" stroke-width="0.4" stroke-opacity="0.7"/>
<polygon points="609.91,107.18 613.13,106.53 609.69,104.96 606.46,105.5" fill="#10de85" stroke="#222" stroke-width="0.4" stroke-opacity="0.7"/>
<polygon points="616.6,108.09 619.79,107.32 616.33,105.87 613.13,106.53" fill="#11e194" stroke="#222" stroke-width="0.4" stroke-opacity="0.7"/>
<polygon points="623.28,108.77 626.45,107.9 622.96,106.57 619.79,107.32" fill="#11e3a0" stroke="#222" stroke-width="0.4" stroke-opacity="0.7"/>
<polygon points="629.96,109.23 633.09,108.27 629.58,107.05 626.45,107.9" fill="#12e6a9" stroke="#222" stroke-width="0.4" stroke-opacity="0.7"/>
<polygon points="636.62,109.49 639.73,108.43 636.2,107.32 633.09,108.27" fill="#14e8ae" stroke="#222" stroke-width="0.4" stroke-opacity="0.7"/>
<polygon points="643.29,109.54 646.36,108.4 642.81,107.4 639.73,108.43" fill="#15eab1" stroke="#222" stroke-width="0.4" stroke-opacity="0.7"/>
<polygon points="531.28,78.28 534.89,79.34 531.46,76.08 527.84,74.86" fill="#c37800" stroke="#222" stroke-width="0.4" stroke-opacity="0.7"/>
<polygon points="538.3,82.58 541.88,83.44 538.47,80.35 534.89,79.34" fill="#c7a904" stroke="#222" stroke-width="0.4" stroke-opacity="0.7"/>
<polygon points="545.27,86.52 548.82,87.19 545.43,84.26 541.88,83.44" fill="#b7c507" stroke="#222" stroke-width="0.4" stroke-opacity="0.7"/>
<polygon points="552.21,90.12 555.72,90.6 552.34,87.83 548.82,87.19" fill="#8ec604" stroke="#222" stroke-width="0.4" stroke-opacity="0.7"/>
<polygon points="559.1,93.37 562.58,93.69 559.21,91.06 555.72,90.6" fill="#68c703" stroke="#222" stroke-width="0.4" stroke-opacity="0.7"/>
<polygon points="565.96,96.31 569.42,96.46 566.04,93.98 562.58,93.69" fill="#49ca0a" stroke="#222" stroke-width="0.4" stroke-opacity="0.7"/>
<polygon points="572.8,98.93 576.22,98.93 572.84,96.59 569.42,96.46" fill="#2dce11" stroke="#222" stroke-width="0.4" stroke-opacity="0.7"/>
<polygon points="579.61,101.26 582.99,101.11 579.61,98.91 576.22,98.93" fill="#16d119" stroke="#222" stroke-width="0.4" stroke-opacity="0.7"/>
<polygon points="586.4,103.31 589.75,103.02 586.35,100.95 582.99,101.11" fill="#14d536" stroke="#222" stroke-width="0.4" stroke-opacity="0.7"/>
<polygon points="593.16,105.08 596.48,104.66 593.07,102.72 589.75,103.02" fill="#13d851" stroke="#222" stroke-width="0.4" stroke-opacity="0.7"/>
<polygon points="599.91,106.59 603.2,106.04 599.78,104.23 596.48,104.66" fill="#12db68" stroke="#222" stroke-width="0.4" stroke-opacity="0.7"/>
<polygon points="606.65,107.84 609.91,107.18 606.46,105.5 603.2,106.04" fill="#12de7c" stroke="#222" stroke-width="0.4" stroke-opacity="0.7"/>
<polygon points="613.37,108.86 616.6,108.09 613.13,106.53 609.91,107.18" fill="#12e18c" stroke="#222" stroke-width="0.4" stroke-opacity="0.7"/>
<polygon points="620.09,109.65 623.28,108.77 619.79,107.32 616.6,108.09" fill="#12e49a" stroke="#222" stroke-width="0.4" stroke-opacity="0.7"/>
<polygon points="626.79,110.21 629.96,109.23 626.45,107.9 623.28,108.77" fill="#13e6a4" stroke="#222" stroke-width="0.4" stroke-opacity="0.7"/>
<polygon points="633.49,110.55 636.62,109.49 633.09,108.27 629.96,109.23" fill="#15e8ab" stroke="#222" stroke-width="0.4" stroke-opacity="0.7"/>
<polygon points="640.18,110.69 643.29,109.54 639.73,108.43 636.62,109.49" fill="#16eaaf" stroke="#222" stroke-width="0.4" stroke-opacity="0.7"/>
<polygon points="534.71,81.68 538.3,82.58 534.89,79.34 531.28,78.28" fill="#c79101" stroke="#222" stroke-width="0.4" stroke-opacity="0.7"/>
<polygon points="541.71,85.82 545.27,86.52 541.88,83.44 538.3,82.58" fill="#cac408" stroke="#222" stroke-width="0.4" stroke-opacity="0.7"/>
<polygon points="548.67,89.6 552.21,90.12 548.82,87.19 545.27,86.52" fill="#a3c706" stroke="#222" stroke-width="0.4" stroke-opacity="0.7"/>
<polygon points="555.59,93.03 559.1,93.37 555.72,90.6 552.21,90.12" fill="#7bc703" stroke="#222" stroke-width="0.4" stroke-opacity="0.7"/>
<polygon points="562.49,96.14 565.96,96.31 562.58,93.69 559.1,93.37" fill="#59ca07" stroke="#222" stroke-width="0.4" stroke-opacity="0.7"/>
<polygon points="569.35,98.92 572.8,98.93 569.42,96.46 565.96,96.31" fill="#3cce0e" stroke="#222" stroke-width="0.4" stroke-opacity="0.7"/>
<polygon points="576.2,101.4 579.61,101.26 576.22,98.93 572.8,98.93" fill="#21d114" stroke="#222" stroke-width="0.4" stroke-opacity="0.7"/>
<polygon points="583.01,103.59 586.4,103.31 582.99,101.11 579.61,101.26" fill="#16d528" stroke="#222" stroke-width="0.4" stroke-opacity="0.7"/>
<polygon points="589.81,105.49 593.16,105.08 589.75,103.02 586.4,103.31" fill="#14d844" stroke="#222" stroke-width="0.4" stroke-opacity="0.7"/>
<polygon points="596.6,107.13 599.91,106.59 596.48,104.66 593.16,105.08" fill="#13db5d" stroke="#222" stroke-width="0.4" stroke-opacity="0.7"/>
<polygon points="603.37,108.51 606.65,107.84 603.2,106.04 599.91,106.59" fill="#13de72" stroke="#222" stroke-width="0.4" stroke-opacity="0.7"/>
<polygon points="610.12,109.64 613.37,108.86 609.91,107.18 606.65,107.84" fill="#13e185" stroke="#222" stroke-width="0.4" stroke-opacity="0.7"/>
<polygon points="616.87,110.53 620.09,109.65 616.6,108.09 613.37,108.86" fill="#13e493" stroke="#222" stroke-width="0.4" stroke-opacity="0.7"/>
<polygon points="623.6,111.2 626.79,110.21 623.28,108.77 620.09,109.65" fill="#14e69f" stroke="#222" stroke-width="0.4" stroke-opacity="0.7"/>
<polygon points="630.33,111.64 633.49,110.55 629.96,109.23 626.79,110.21" fill="#15e8a8" stroke="#222" stroke-width="0.4" stroke-opacity="0.7"/>
<polygon points="637.05,111.87 640.18,110.69 636.62,109.49 633.49,110.55" fill="#17ebad" stroke="#222" stroke-width="0.4" stroke-opacity="0.7"/>
<polygon points="538.12,85.08 541.71,85.82 538.3,82.58 534.71,81.68" fill="#caad05" stroke="#222" stroke-width="0.4" stroke-opacity="0.7"/>
<polygon points="545.11,89.05 548.67,89.6 545.27,86.52 541.71,85.82" fill="#b8c808" stroke="#222" stroke-width="0.4" stroke-opacity="0.7"/>
<polygon points="552.06,92.67 555.59,93.03 552.21,90.12 548.67,89.6" fill="#8fc805" stroke="#222" stroke-width="0.4" stroke-opacity="0.7"/>
<polygon points="558.99,95.94 562.49,96.14 559.1,93.37 555.59,93.03" fill="#69ca04" stroke="#222" stroke-width="0.4" stroke-opacity="0.7"/>
<polygon points="565.88,98.89 569.35,98.92 565.96,96.31 562.49,96.14" fill="#4acd0b" stroke="#222" stroke-width="0.4" stroke-opacity="0.7"/>
<polygon points="572.75,101.53 576.2,101.4 572.8,98.93 569.35,98.92" fill="#2fd112" stroke="#222" stroke-width="0.4" stroke-opacity="0.7"/>
<polygon points="579.61,103.86 583.01,103.59 579.61,101.26 576.2,101.4" fill="#17d41a" stroke="#222" stroke-width="0.4" stroke-opacity="0.7"/>
<polygon points="586.44,105.91 589.81,105.49 586.4,103.31 583.01,103.59" fill="#16d838" stroke="#222" stroke-width="0.4" stroke-opacity="0.7"/>
<polygon points="593.25,107.68 596.6,107.13 593.16,105.08 589.81,105.49" fill="#15db52" stroke="#222" stroke-width="0.4" stroke-opacity="0.7"/>
<polygon points="600.05,109.18 603.37,108.51 599.91,106.59 596.6,107.13" fill="#14de69" stroke="#222" stroke-width="0.4" stroke-opacity="0.7"/>
<polygon points="606.84,110.43 610.12,109.64 606.65,107.84 603.37,108.51" fill="#14e17d" stroke="#222" stroke-width="0.4" stroke-opacity="0.7"/>
<polygon points="613.62,111.43 616.87,110.53 613.37,108.86 610.12,109.64" fill="#14e48d" stroke="#222" stroke-width="0.4" stroke-opacity="0.7"/>
<polygon points="620.38,112.2 623.6,111.2 620.09,109.65 616.87,110.53" fill="#15e69a" stroke="#222" stroke-width="0.4" stroke-opacity="0.7"/>
<polygon points="627.14,112.74 630.33,111.64 626.79,110.21 623.6,111.2" fill="#16e9a4" stroke="#222" stroke-width="0.4" stroke-opacity="0.7"/>
<polygon points="633.89,113.07 637.05,111.87 633.49,110.55 630.33,111.64" fill="#18ebab" stroke="#222" stroke-width="0.4" stroke-opacity="0.7"/>
<polygon points="541.53,88.47 545.11,89.05 541.71,85.82 538.12,85.08" fill="#cdc909" stroke="#222" stroke-width="0.4" stroke-opacity="0.7"/>
<polygon points="548.51,92.28 552.06,92.67 548.67,89.6 545.11,89.05" fill="#a3ca06" stroke="#222" stroke-width="0.4" stroke-opacity="0.7"/>
<polygon points="555.46,95.73 558.99,95.94 555.59,93.03 552.06,92.67" fill="#7bca04" stroke="#222" stroke-width="0.4" stroke-opacity="0.7"/>
<polygon points="562.39,98.85 565.88,98.89 562.49,96.14 558.99,95.94" fill="#59cd08" stroke="#222" stroke-width="0.4" stroke-opacity="0.7"/>
<polygon points="569.29,101.64 572.75,101.53 569.35,98.92 565.88,98.89" fill="#3cd10f" stroke="#222" stroke-width="0.4" stroke-opacity="0.7"/>
<polygon points="576.17,104.13 579.61,103.86 576.2,101.4 572.75,101.53" fill="#21d416" stroke="#222" stroke-width="0.4" stroke-opacity="0.7"/>
<polygon points="583.03,106.32 586.44,105.91 583.01,103.59 579.61,103.86" fill="#17d82b" stroke="#222" stroke-width="0.4" stroke-opacity="0.7"/>
<polygon points="589.88,108.23 593.25,107.68 589.81,105.49 586.44,105.91" fill="#16db47" stroke="#222" stroke-width="0.4" stroke-opacity="0.7"/>
<polygon points="596.71,109.86 600.05,109.18 596.6,107.13 593.25,107.68" fill="#15de60" stroke="#222" stroke-width="0.4" stroke-opacity="0.7"/>
<polygon points="603.53,111.23 606.84,110.43 603.37,108.51 600.05,109.18" fill="#15e175" stroke="#222" stroke-width="0.4" stroke-opacity="0.7"/>
<polygon points="610.34,112.34 613.62,111.43 610.12,109.64 606.84,110.43" fill="#15e487" stroke="#222" stroke-width="0.4" stroke-opacity="0.7"/>
<polygon points="617.13,113.22 620.38,112.2 616.87,110.53 613.62,111.43" fill="#16e796" stroke="#222" stroke-width="0.4" stroke-opacity="0.7"/>
<polygon points="623.92,113.86 627.14,112.74 623.6,111.2 620.38,112.2" fill="#17e9a1" stroke="#222" stroke-width="0.4" stroke-opacity="0.7"/>
<polygon points="630.7,114.28 633.89,113.07 630.33,111.64 627.14,112.74" fill="#18eba9" stroke="#222" stroke-width="0.4" stroke-opacity="0.7"/>
<polygon points="544.94,91.86 548.51,92.28 545.11,89.05 541.53,88.47" fill="#b6cb08" stroke="#222" stroke-width="0.4" stroke-opacity="0.7"/>
<polygon points="551.92,95.49 555.46,95.73 552.06,92.67 548.51,92.28" fill="#8dcb05" stroke="#222" stroke-width="0.4" stroke-opacity="0.7"/>
<polygon points="558.87,98.79 562.39,98.85 558.99,95.94 555.46,95.73" fill="#68cc05" stroke="#222" stroke-width="0.4" stroke-opacity="0.7"/>
<polygon points="565.8,101.75 569.29,101.64 565.88,98.89 562.39,98.85" fill="#49d00d" stroke="#222" stroke-width="0.4" stroke-opacity="0.7"/>
<polygon points="572.71,104.39 576.17,104.13 572.75,101.53 569.29,101.64" fill="#2dd414" stroke="#222" stroke-width="0.4" stroke-opacity="0.7"/>
<polygon points="579.6,106.73 583.03,106.32 579.61,103.86 576.17,104.13" fill="#19d81f" stroke="#222" stroke-width="0.4" stroke-opacity="0.7"/>
<polygon points="586.48,108.77 589.88,108.23 586.44,105.91 583.03,106.32" fill="#17db3c" stroke="#222" stroke-width="0.4" stroke-opacity="0.7"/>
<polygon points="593.34,110.54 596.71,109.86 593.25,107.68 589.88,108.23" fill="#16de57" stroke="#222" stroke-width="0.4" stroke-opacity="0.7"/>
<polygon points="600.19,112.03 603.53,111.23 600.05,109.18 596.71,109.86" fill="#16e16e" stroke="#222" stroke-width="0.4" stroke-opacity="0.7"/>
<polygon points="607.03,113.27 610.34,112.34 606.84,110.43 603.53,111.23" fill="#16e481" stroke="#222" stroke-width="0.4" stroke-opacity="0.7"/>
<polygon points="613.86,114.25 617.13,113.22 613.62,111.43 610.34,112.34" fill="#16e791" stroke="#222" stroke-width="0.4" stroke-opacity="0.7"/>
<polygon points="620.68,115 623.92,113.86 620.38,112.2 617.13,113.22" fill="#17e99e" stroke="#222" stroke-width="0.4" stroke-opacity="0.7"/>
<polygon points="627.49,115.52 630.7,114.28 627.14,112.74 623.92,113.86" fill="#19eca7" stroke="#222" stroke-width="0.4" stroke-opacity="0.7"/>
<polygon points="548.35,95.24 551.92,95.49 548.51,92.28 544.94,91.86" fill="#9fcc07" stroke="#222" stroke-width="0.4" stroke-opacity="0.7"/>
<polygon points="555.33,98.71 558.87,98.79 555.46,95.73 551.92,95.49" fill="#77cd04" stroke="#222" stroke-width="0.4" stroke-opacity="0.7"/>
<polygon points="562.28,101.84 565.8,101.75 562.39,98.85 558.87,98.79" fill="#56d00a" stroke="#222" stroke-width="0.4" stroke-opacity="0.7"/>
<polygon points="569.22,104.64 572.71,104.39 569.29,101.64 565.8,101.75" fill="#39d411" stroke="#222" stroke-width="0.4" stroke-opacity="0.7"/>
<polygon points="576.14,107.13 579.6,106.73 576.17,104.13 572.71,104.39" fill="#1fd718" stroke="#222" stroke-width="0.4" stroke-opacity="0.7"/>
<polygon points="583.05,109.32 586.48,108.77 583.03,106.32 579.6,106.73" fill="#18db32" stroke="#222" stroke-width="0.4" stroke-opacity="0.7"/>
<polygon points="589.94,111.22 593.34,110.54 589.88,108.23 586.48,108.77" fill="#17de4d" stroke="#222" stroke-width="0.4" stroke-opacity="0.7"/>
<polygon points="596.82,112.84 600.19,112.03 596.71,109.86 593.34,110.54" fill="#17e166" stroke="#222" stroke-width="0.4" stroke-opacity="0.7"/>
<polygon points="603.69,114.2 607.03,113.27 603.53,111.23 600.19,112.03" fill="#17e47b" stroke="#222" stroke-width="0.4" stroke-opacity="0.7"/>
<polygon points="610.55,115.3 613.86,114.25 610.34,112.34 607.03,113.27" fill="#17e78d" stroke="#222" stroke-width="0.4" stroke-opacity="0.7"/>
<polygon points="617.41,116.15 620.68,115 617.13,113.22 613.86,114.25" fill="#18ea9b" stroke="#222" stroke-width="0.4" stroke-opacity="0.7"/>
<polygon points="624.25,116.77 627.49,115.52 623.92,113.86 620.68,115" fill="#19eca6" stroke="#222" stroke-width="0.4" stroke-opacity="0.7"/>
<polygon points="551.76,98.61 555.33,98.71 551.92,95.49 548.35,95.24" fill="#88ce05" stroke="#222" stroke-width="0.4" stroke-opacity="0.7"/>
<polygon points="558.74,101.91 562.28,101.84 558.87,98.79 555.33,98.71" fill="#64cf07" stroke="#222" stroke-width="0.4" stroke-opacity="0.7"/>
<polygon points="565.7,104.88 569.22,104.64 565.8,101.75 562.28,101.84" fill="#45d30f" stroke="#222" stroke-width="0.4" stroke-opacity="0.7"/>
<polygon points="572.65,107.53 576.14,107.13 572.71,104.39 569.22,104.64" fill="#2ad716" stroke="#222" stroke-width="0.4" stroke-opacity="0.7"/>
<polygon points="579.59,109.87 583.05,109.32 579.6,106.73 576.14,107.13" fill="#1adb27" stroke="#222" stroke-width="0.4" stroke-opacity="0.7"/>
<polygon points="586.51,111.91 589.94,111.22 586.48,108.77 583.05,109.32" fill="#18de44" stroke="#222" stroke-width="0.4" stroke-opacity="0.7"/>
<polygon points="593.43,113.66 596.82,112.84 593.34,110.54 589.94,111.22" fill="#18e15e" stroke="#222" stroke-width="0.4" stroke-opacity="0.7"/>
<polygon points="600.33,115.14 603.69,114.2 600.19,112.03 596.82,112.84" fill="#17e475" stroke="#222" stroke-width="0.4" stroke-opacity="0.7"/>
<polygon points="607.22,116.36 610.55,115.3 607.03,113.27 603.69,114.2" fill="#18e788" stroke="#222" stroke-width="0.4" stroke-opacity="0.7"/>
<polygon points="614.11,117.33 617.41,116.15 613.86,114.25 610.55,115.3" fill="#19ea98" stroke="#222" stroke-width="0.4" stroke-opacity="0.7"/>
<polygon points="620.98,118.05 624.25,116.77 620.68,115 617.41,116.15" fill="#1aeca4" stroke="#222" stroke-width="0.4" stroke-opacity="0.7"/>
<polygon points="555.18,101.98 558.74,101.91 555.33,98.71 551.76,98.61" fill="#71cf05" stroke="#222" stroke-width="0.4" stroke-opacity="0.7"/>
<polygon points="562.17,105.12 565.7,104.88 562.28,101.84 558.74,101.91" fill="#51d30c" stroke="#222" stroke-width="0.4" stroke-opacity="0.7"/>
<polygon points="569.14,107.93 572.65,107.53 569.22,104.64 565.7,104.88" fill="#34d714" stroke="#222" stroke-width="0.4" stroke-opacity="0.7"/>
<polygon points="576.11,110.42 579.59,109.87 576.14,107.13 572.65,107.53" fill="#1bda1b" stroke="#222" stroke-width="0.4" stroke-opacity="0.7"/>
<polygon points="583.06,112.6 586.51,111.91 583.05,109.32 579.59,109.87" fill="#19de3b" stroke="#222" stroke-width="0.4" stroke-opacity="0.7"/>
<polygon points="590,114.49 593.43,113.66 589.94,111.22 586.51,111.91" fill="#19e156" stroke="#222" stroke-width="0.4" stroke-opacity="0.7"/>
<polygon points="596.94,116.1 600.33,115.14 596.82,112.84 593.43,113.66" fill="#18e46f" stroke="#222" stroke-width="0.4" stroke-opacity="0.7"/>
<polygon points="603.86,117.44 607.22,116.36 603.69,114.2 600.33,115.14" fill="#18e783" stroke="#222" stroke-width="0.4" stroke-opacity="0.7"/>
<polygon points="610.78,118.52 614.11,117.33 610.55,115.3 607.22,116.36" fill="#19ea95" stroke="#222" stroke-width="0.4" stroke-opacity="0.7"/>
<polygon points="617.68,119.35 620.98,118.05 617.41,116.15 614.11,117.33" fill="#1aeca3" stroke="#222" stroke-width="0.4" stroke-opacity="0.7"/>
<polygon points="558.6,105.34 562.17,105.12 558.74,101.91 555.18,101.98" fill="#5dd20a" stroke="#222" stroke-width="0.4" stroke-opacity="0.7"/>
<polygon points="565.6,108.31 569.14,107.93 565.7,104.88 562.17,105.12" fill="#3fd612" stroke="#222" stroke-width="0.4" stroke-opacity="0.7"/>
<polygon points="572.6,110.96 576.11,110.42 572.65,107.53 569.14,107.93" fill="#24da19" stroke="#222" stroke-width="0.4" stroke-opacity="0.7"/>
<polygon points="579.58,113.3 583.06,112.6 579.59,109.87 576.11,110.42" fill="#1ade31" stroke="#222" stroke-width="0.4" stroke-opacity="0.7"/>
<polygon points="586.55,115.33 590,114.49 586.51,111.91 583.06,112.6" fill="#19e14f" stroke="#222" stroke-width="0.4" stroke-opacity="0.7"/>
<polygon points="593.51,117.07 596.94,116.1 593.43,113.66 590,114.49" fill="#19e469" stroke="#222" stroke-width="0.4" stroke-opacity="0.7"/>
<polygon points="600.47,118.53 603.86,117.44 600.33,115.14 596.94,116.1" fill="#19e77f" stroke="#222" stroke-width="0.4" stroke-opacity="0.7"/>
<polygon points="607.42,119.73 610.78,118.52 607.22,116.36 603.86,117.44" fill="#1aea92" stroke="#222" stroke-width="0.4" stroke-opacity="0.7"/>
<polygon points="614.36,120.67 617.68,119.35 614.11,117.33 610.78,118.52" fill="#1beca1" stroke="#222" stroke-width="0.4" stroke-opacity="0.7"/>
<polygon points="562.04,108.7 565.6,108.31 562.17,105.12 558.6,105.34" fill="#49d610" stroke="#222" stroke-width="0.4" stroke-opacity="0.7"/>
<polygon points="569.06,111.51 572.6,110.96 569.14,107.93 565.6,108.31" fill="#2dda17" stroke="#222" stroke-width="0.4" stroke-opacity="0.7"/>
<polygon points="576.07,113.99 579.58,113.3 576.11,110.42 572.6,110.96" fill="#1bdd28" stroke="#222" stroke-width="0.4" stroke-opacity="0.7"/>
<polygon points="583.07,116.17 586.55,115.33 583.06,112.6 579.58,113.3" fill="#1ae147" stroke="#222" stroke-width="0.4" stroke-opacity="0.7"/>
<polygon points="590.06,118.05 593.51,117.07 590,114.49 586.55,115.33" fill="#1ae462" stroke="#222" stroke-width="0.4" stroke-opacity="0.7"/>
<polygon points="597.05,119.64 600.47,118.53 596.94,116.1 593.51,117.07" fill="#1ae77a" stroke="#222" stroke-width="0.4" stroke-opacity="0.7"/>
<polygon points="604.03,120.96 607.42,119.73 603.86,117.44 600.47,118.53" fill="#1aea8f" stroke="#222" stroke-width="0.4" stroke-opacity="0.7"/>
<polygon points="611,122.02 614.36,120.67 610.78,118.52 607.42,119.73" fill="#1beda0" stroke="#222" stroke-width="0.4" stroke-opacity="0.7"/>
<polygon points="565.49,112.05 569.06,111.51 565.6,108.31 562.04,108.7" fill="#36d915" stroke="#222" stroke-width="0.4" stroke-opacity="0.7"/>
<polygon points="572.53,114.7 576.07,113.99 572.6,110.96 569.06,111.51" fill="#1cdd1e" stroke="#222" stroke-width="0.4" stroke-opacity="0.7"/>
<polygon points="579.56,117.02 583.07,116.17 579.58,113.3 576.07,113.99" fill="#1be03f" stroke="#222" stroke-width="0.4" stroke-opacity="0.7"/>
<polygon points="586.58,119.04 590.06,118.05 586.55,115.33 583.07,116.17" fill="#1ae45c" stroke="#222" stroke-width="0.4" stroke-opacity="0.7"/>
<polygon points="593.6,120.77 597.05,119.64 593.51,117.07 590.06,118.05" fill="#1ae776" stroke="#222" stroke-width="0.4" stroke-opacity="0.7"/>
<polygon points="600.61,122.21 604.03,120.96 600.47,118.53 597.05,119.64" fill="#1aea8c" stroke="#222" stroke-width="0.4" stroke-opacity="0.7"/>
<polygon points="607.62,123.39 611,122.02 607.42,119.73 604.03,120.96" fill="#1bed9e" stroke="#222" stroke-width="0.4" stroke-opacity="0.7"/>
<polygon points="568.96,115.4 572.53,114.7 569.06,111.51 565.49,112.05" fill="#23dd1b" stroke="#222" stroke-width="0.4" stroke-opacity="0.7"/>
<polygon points="576.02,117.88 579.56,117.02 576.07,113.99 572.53,114.7" fill="#1ce037" stroke="#222" stroke-width="0.4" stroke-opacity="0.7"/>
<polygon points="583.07,120.05 586.58,119.04 583.07,116.17 579.56,117.02" fill="#1be456" stroke="#222" stroke-width="0.4" stroke-opacity="0.7"/>
<polygon points="590.12,121.91 593.6,120.77 590.06,118.05 586.58,119.04" fill="#1ae771" stroke="#222" stroke-width="0.4" stroke-opacity="0.7"/>
<polygon points="597.17,123.48 600.61,122.21 597.05,119.64 593.6,120.77" fill="#1bea89" stroke="#222" stroke-width="0.4" stroke-opacity="0.7"/>
<polygon points="604.2,124.78 607.62,123.39 604.03,120.96 600.61,122.21" fill="#1bed9d" stroke="#222" stroke-width="0.4" stroke-opacity="0.7"/>
<polygon points="572.45,118.75 576.02,117.88 572.53,114.7 568.96,115.4" fill="#1ce030" stroke="#222" stroke-width="0.4" stroke-opacity="0.7"/>
<polygon points="579.53,121.06 583.07,120.05 579.56,117.02 576.02,117.88" fill="#1be350" stroke="#222" stroke-width="0.4" stroke-opacity="0.7"/>
<polygon points="586.61,123.07 590.12,121.91 586.58,119.04 583.07,120.05" fill="#1be76d" stroke="#222" stroke-width="0.4" stroke-opacity="0.7"/>
<polygon points="593.69,124.77 597.17,123.48 593.6,120.77 590.12,121.91" fill="#1bea86" stroke="#222" stroke-width="0.4" stroke-opacity="0.7"/>
<polygon points="600.76,126.19 604.2,124.78 600.61,122.21 597.17,123.48" fill="#1ced9c" stroke="#222" stroke-width="0.4" stroke-opacity="0.7"/>
<polygon points="575.96,122.09 579.53,121.06 576.02,117.88 572.45,118.75" fill="#1ce34a" stroke="#222" stroke-width="0.4" stroke-opacity="0.7"/>
<polygon points="583.07,124.24 586.61,123.07 583.07,120.05 579.53,121.06" fill="#1be669" stroke="#222" stroke-width="0.4" stroke-opacity="0.7"/>
<polygon points="590.18,126.09 593.69,124.77 590.12,121.91 586.61,123.07" fill="#1bea83" stroke="#222" stroke-width="0.4" stroke-opacity="0.7"/>
<polygon points="597.28,127.63 600.76,126.19 597.17,123.48 593.69,124.77" fill="#1cec9a" stroke="#222" stroke-width="0.4" stroke-opacity="0.7"/>
<polygon points="579.5,125.44 583.07,124.24 579.53,121.06 575.96,122.09" fill="#1be664" stroke="#222" stroke-width="0.4" stroke-opacity="0.7"/>
<polygon points="586.64,127.42 590.18,126.09 586.61,123.07 583.07,124.24" fill="#1be981" stroke="#222" stroke-width="0.4" stroke-opacity="0.7"/>
<polygon points="593.77,129.1 597.28,127.63 593.69,124.77 590.18,126.09" fill="#1cec99" stroke="#222" stroke-width="0.4" stroke-opacity="0.7"/>
<polygon points="583.06,128.77 586.64,127.42 583.07,124.24 579.5,125.44" fill="#1be97e" stroke="#222" stroke-width="0.4" stroke-opacity="0.7"/>
<polygon points="590.23,130.59 593.77,129.1 590.18,126.09 586.64,127.42" fill="#1bec98" stroke="#222" stroke-width="0.4" stroke-opacity="0.7"/>
<polygon points="586.66,132.11 590.23,130.59 586.64,127.42 583.06,128.77" fill="#1bec97" stroke="#222" stroke-width="0.4" stroke-opacity="0.7"/>
<path d="M564.3,60.7V110" stroke="#333" stroke-width="0.45"/>
<rect x="552.7" y="56.4" width="11.6" height="4.3" fill="#fff" stroke="#999" stroke-width="0.4"/>
<text x="558.5" y="59.6" font-size="3.0" text-anchor="middle" fill="#666" textLength="9.6" lengthAdjust="spacingAndGlyphs">-25.2906</text>
<text x="2.9" y="255" font-size="6.4" fill="#0c0c0c" stroke="#0c0c0c" stroke-width="0.12" textLength="52.9" lengthAdjust="spacingAndGlyphs">Factor Coding: Actual</text>
<text x="2.9" y="276.1" font-size="6.4" font-weight="bold" textLength="63.8" lengthAdjust="spacingAndGlyphs">% Entrapment Efficiency</text>
<linearGradient id="cbD"><stop offset="0" stop-color="#0000c8"/><stop offset="0.5" stop-color="#00ff00"/><stop offset="1" stop-color="#e80000"/></linearGradient>
<rect x="18.1" y="279.5" width="20.6" height="9.1" fill="url(#cbD)" stroke="#555" stroke-width="0.3"/>
<text x="2.9" y="286.9" font-size="6.4" fill="#3030ff" stroke="#3030ff" stroke-width="0.12" textLength="12.5" lengthAdjust="spacingAndGlyphs">84.41</text>
<text x="41.1" y="286.9" font-size="6.4" fill="#ff2a2a" stroke="#ff2a2a" stroke-width="0.12" textLength="13.1" lengthAdjust="spacingAndGlyphs">98.18</text>
<text x="2.9" y="308.2" font-size="6.4" fill="#0c0c0c" stroke="#0c0c0c" stroke-width="0.12" textLength="16.9" lengthAdjust="spacingAndGlyphs">X1 = A</text>
<text x="2.9" y="318.6" font-size="6.4" fill="#0c0c0c" stroke="#0c0c0c" stroke-width="0.12" textLength="16.5" lengthAdjust="spacingAndGlyphs">X2 = B</text>
<text x="2.9" y="340.2" font-size="6.4" font-weight="bold" textLength="34.8" lengthAdjust="spacingAndGlyphs">Actual Factor</text>
<text x="2.9" y="350.3" font-size="6.4" fill="#0c0c0c" stroke="#0c0c0c" stroke-width="0.12" textLength="29.3" lengthAdjust="spacingAndGlyphs">C = 29.8468</text>
<text x="129.7" y="257.2" font-size="4.6" fill="#0c0c0c" textLength="20.2" lengthAdjust="spacingAndGlyphs">3D Surface</text>
<path d="M62.44,380.97L59.4,302.7M193.7,380.99L197.2,302.8M74.37,376.31L71.22,299.61M181.96,376.37L185.62,299.75M85.88,371.83L82.91,296.55M170.57,371.91L174.09,296.7M97,367.51L94.47,293.53M159.52,367.59L162.6,293.67M107.76,363.34L105.9,290.53M148.8,363.41L151.16,290.65M118.17,359.32L117.21,287.58M138.38,359.36L139.76,287.65M128.25,355.43L128.4,284.65M128.25,355.43L128.4,284.65M62.44,380.97L128.25,355.43L193.7,380.99M62.06,371.18L128.27,346.58L194.14,371.22M61.68,361.4L128.29,337.74L194.58,361.44M61.3,351.62L128.31,328.89L195.02,351.67M60.92,341.83L128.32,320.04L195.45,341.9M60.54,332.05L128.34,311.19L195.89,332.12M60.16,322.27L128.36,302.35L196.33,322.35M59.78,312.48L128.38,293.5L196.76,312.57M59.4,302.7L128.4,284.65L197.2,302.8" stroke="#4a4a4a" stroke-width="0.5" fill="none"/>
<path d="M63.4,405.7L59.4,302.7M128.2,377.8L128.4,284.65M192.6,405.7L197.2,302.8" stroke="#666" stroke-width="0.5" fill="none"/>
<circle cx="62.44" cy="380.97" r="0.6" fill="#111"/>
<text x="60.14" y="380.37" font-size="5.0" text-anchor="end" fill="#0c0c0c" textLength="4.4" lengthAdjust="spacingAndGlyphs">84</text>
<circle cx="62.06" cy="371.18" r="0.6" fill="#111"/>
<text x="59.76" y="370.58" font-size="5.0" text-anchor="end" fill="#0c0c0c" textLength="4.4" lengthAdjust="spacingAndGlyphs">86</text>
<circle cx="61.68" cy="361.4" r="0.6" fill="#111"/>
<text x="59.38" y="360.8" font-size="5.0" text-anchor="end" fill="#0c0c0c" textLength="4.4" lengthAdjust="spacingAndGlyphs">88</text>
<circle cx="61.3" cy="351.62" r="0.6" fill="#111"/>
<text x="59" y="351.02" font-size="5.0" text-anchor="end" fill="#0c0c0c" textLength="4.4" lengthAdjust="spacingAndGlyphs">90</text>
<circle cx="60.92" cy="341.83" r="0.6" fill="#111"/>
<text x="58.62" y="341.23" font-size="5.0" text-anchor="end" fill="#0c0c0c" textLength="4.4" lengthAdjust="spacingAndGlyphs">92</text>
<circle cx="60.54" cy="332.05" r="0.6" fill="#111"/>
<text x="58.24" y="331.45" font-size="5.0" text-anchor="end" fill="#0c0c0c" textLength="4.4" lengthAdjust="spacingAndGlyphs">94</text>
<circle cx="60.16" cy="322.27" r="0.6" fill="#111"/>
<text x="57.86" y="321.67" font-size="5.0" text-anchor="end" fill="#0c0c0c" textLength="4.4" lengthAdjust="spacingAndGlyphs">96</text>
<circle cx="59.78" cy="312.48" r="0.6" fill="#111"/>
<text x="57.48" y="311.88" font-size="5.0" text-anchor="end" fill="#0c0c0c" textLength="4.4" lengthAdjust="spacingAndGlyphs">98</text>
<circle cx="59.4" cy="302.7" r="0.6" fill="#111"/>
<text x="57.1" y="302.1" font-size="5.0" text-anchor="end" fill="#0c0c0c" textLength="6.6" lengthAdjust="spacingAndGlyphs">100</text>
<text x="38.4" y="357" font-size="3.3" text-anchor="middle" fill="#444" textLength="31.8" lengthAdjust="spacingAndGlyphs" transform="rotate(-90 38.4 357)">% Entrapment Efficiency</text>
<polygon points="128.4,441.7 192.6,405.7 128.2,377.8 63.4,405.7" fill="#666" stroke="#1a1a1a" stroke-width="0.7" stroke-linejoin="round"/>
<polyline points="99.15,390.31 99.77,390.63 100.39,390.94 101.02,391.26 101.65,391.58 102.28,391.9 102.91,392.22 103.55,392.54 104.19,392.85 104.83,393.18 105.48,393.5 106.12,393.82 106.77,394.14 107.42,394.46 108.07,394.79 108.73,395.11 109.38,395.44 110.04,395.77 110.69,396.09 111.35,396.42 112.01,396.75 112.67,397.09 113.32,397.42 113.98,397.76 114.64,398.09 115.3,398.43 115.96,398.78 116.61,399.12 117.27,399.47 117.92,399.81 118.58,400.17 119.23,400.52 119.87,400.88 120.52,401.24 120.53,401.24 121.15,401.6 121.79,401.97 122.42,402.35 123.04,402.73 123.65,403.11 124.26,403.5 124.86,403.9 125.44,404.3 125.52,404.36 126.01,404.72 126.57,405.14 127.1,405.58 127.62,406.03 127.73,406.13 128.1,406.49 128.54,406.98 128.88,407.39 128.95,407.49 129.28,408.04 129.45,408.38 129.53,408.63 129.64,409.19 129.64,409.3 129.58,409.87 129.49,410.1 129.31,410.46 128.9,410.98 128.53,411.31 128.36,411.45 127.72,411.86 126.99,412.23 126.19,412.57 125.57,412.78 125.32,412.87 124.39,413.15 123.41,413.4 122.39,413.63 122.38,413.63 121.31,413.84 120.19,414.03 120.07,414.05 119.04,414.2 118.01,414.33 117.85,414.35 116.62,414.49 116.11,414.53 115.36,414.61 114.31,414.69 114.07,414.71 112.75,414.8 112.58,414.81 111.39,414.87 110.92,414.89 110.01,414.93 109.31,414.95 108.6,414.97 107.74,414.99 107.15,415 106.21,415.01 105.68,415.01 104.71,415.01 104.18,415.01 103.24,415 102.66,414.99 101.8,414.98 101.1,414.96 100.38,414.94 99.52,414.92 98.98,414.9 97.91,414.86 97.6,414.84 96.28,414.79 96.23,414.78 94.89,414.71 94.62,414.7 93.56,414.63 92.94,414.6 92.24,414.55 91.24,414.48 90.94,414.46 89.64,414.37 89.51,414.36 88.37,414.27 87.77,414.23 87.09,414.17 86.01,414.08 85.83,414.07 84.57,413.96 84.23,413.93 83.32,413.85 82.45,413.77 82.07,413.74 80.82,413.62 80.67,413.61 79.58,413.51 78.88,413.45 78.34,413.4 77.1,413.29" fill="none" stroke="#20c0b0" stroke-width="1.15"/>
<polyline points="160.87,423.49 160.35,423.52 159.21,423.57 158.94,423.58 157.56,423.63 157.52,423.64 156.08,423.69 155.93,423.69 154.64,423.73 154.31,423.74 153.18,423.77 152.7,423.78 151.71,423.81 151.1,423.82 150.24,423.84 149.5,423.85 148.75,423.87 147.92,423.88 147.26,423.89 146.35,423.9 145.76,423.91 144.78,423.92 144.25,423.93 143.22,423.93 142.73,423.94 141.67,423.94 141.2,423.94 140.13,423.94 139.66,423.95 138.6,423.94 138.11,423.94 137.08,423.94 136.55,423.94 135.56,423.93 134.98,423.92 134.05,423.91 133.4,423.9 132.56,423.89 131.81,423.88 131.07,423.87 130.21,423.85 129.59,423.84 128.6,423.81 128.12,423.8 126.97,423.77 126.66,423.76 125.33,423.72 125.2,423.72 123.76,423.67 123.68,423.66 122.34,423.61 122.01,423.6 120.92,423.55 120.33,423.52 119.51,423.48 118.63,423.44 118.11,423.41 116.91,423.35 116.71,423.34 115.33,423.26 115.18,423.25 113.97,423.17 113.43,423.14 112.61,423.08 111.66,423.02 111.26,422.99 109.91,422.89 109.88,422.89 108.59,422.79 108.08,422.75 107.26,422.68 106.25,422.6 105.95,422.57 104.65,422.46 104.41,422.44 103.35,422.34 102.56,422.27 102.06,422.22 100.78,422.09 100.68,422.08 99.51,421.96 98.79,421.89 98.25,421.83 96.99,421.7 96.88,421.69 95.74,421.56 94.96,421.48 94.5,421.42 93.26,421.28 93.02,421.26 92.03,421.14 91.07,421.03" fill="none" stroke="#30c030" stroke-width="1.15"/>
<polyline points="179.39,413.11 178.65,412.7 177.9,412.3 177.14,411.91 176.36,411.53 175.58,411.16 174.78,410.8 173.97,410.44 173.16,410.1 172.34,409.75 171.51,409.41 170.68,409.08 169.84,408.75 169,408.43 168.15,408.11 167.3,407.79 167.03,407.7 166.45,407.48 165.59,407.18 164.73,406.87 163.87,406.57 163,406.27 162.14,405.97 161.27,405.68 160.93,405.56 160.4,405.39 159.53,405.1 158.66,404.81 157.79,404.52 156.93,404.24 156.06,403.95 155.82,403.87 155.19,403.67 154.32,403.39 153.45,403.11 152.59,402.83 151.73,402.55 151.04,402.33 150.87,402.27 150,402 149.14,401.72 148.29,401.45 147.43,401.17 146.58,400.89 146.35,400.82 145.73,400.62 144.89,400.34 144.04,400.07 143.2,399.79 142.37,399.52 141.56,399.25 141.53,399.24 140.7,398.97 139.87,398.69 139.05,398.42 138.23,398.14 137.41,397.87 136.6,397.59 136.51,397.56 135.79,397.31 134.98,397.04 134.18,396.76 133.38,396.48 132.59,396.2 131.8,395.92 131.02,395.65 130.97,395.63 130.23,395.37 129.46,395.09 128.68,394.81 127.91,394.52 127.15,394.24 126.39,393.96 125.63,393.68 124.88,393.39 124.4,393.21 124.13,393.11 123.39,392.82 122.65,392.54 121.92,392.25 121.19,391.97 120.46,391.68 119.75,391.39 119.03,391.1 118.32,390.81 117.61,390.52 116.91,390.23 116.22,389.94 115.53,389.65 114.84,389.36 114.16,389.06 114.11,389.04 113.48,388.77 112.81,388.47 112.15,388.18 111.48,387.88 110.83,387.58 110.18,387.29 109.53,386.99 108.89,386.69 108.26,386.39" fill="none" stroke="#30c030" stroke-width="1.15"/>
<polyline points="145.29,432.23 144.73,432.2 143.85,432.15 142.96,432.11 142.4,432.08 141.18,432.01 140.97,431.99 139.54,431.91 139.39,431.9 138.12,431.82 137.58,431.79 136.71,431.73 135.77,431.67 135.3,431.64 133.94,431.55 133.89,431.54 132.5,431.44 132.1,431.41 131.11,431.34 130.25,431.27 129.73,431.23 128.38,431.12 128.36,431.12 126.99,431.01 126.5,430.97 125.63,430.89 124.6,430.8 124.28,430.77 122.94,430.65 122.68,430.62 121.6,430.52 120.75,430.44 120.28,430.39 118.95,430.25 118.8,430.24 117.64,430.11 116.84,430.03 116.34,429.97 115.04,429.83 114.85,429.81 113.75,429.68 112.85,429.58 112.46,429.53 111.18,429.38 110.82,429.34 109.92,429.23 108.78,429.08 108.65,429.07 107.4,428.91 106.72,428.82 106.15,428.74 104.9,428.58 104.64,428.54" fill="none" stroke="#a0d020" stroke-width="1.15"/>
<polyline points="190.92,406.64 190.06,406.32 189.21,406 188.35,405.69 188.07,405.59 187.49,405.38 186.63,405.07 185.76,404.76 184.9,404.46 184.03,404.16 183.16,403.86 182.29,403.57 181.42,403.27 181.2,403.2 180.54,402.99 179.66,402.7 178.78,402.42 177.9,402.14 177.01,401.86 176.13,401.58 176.02,401.55 175.24,401.31 174.35,401.04 173.45,400.78 172.56,400.51 171.66,400.25 171.65,400.24 170.76,399.99 169.86,399.73 168.96,399.48 168.06,399.23 167.74,399.14 167.15,398.98 166.25,398.73 165.34,398.48 164.43,398.24 164.12,398.15 163.52,397.99 162.61,397.75 161.71,397.51 160.8,397.27 160.69,397.24 159.89,397.04 158.98,396.8 158.07,396.56 157.37,396.38 157.16,396.33 156.25,396.1 155.35,395.86 154.45,395.63 154.11,395.54 153.54,395.4 152.64,395.17 151.74,394.94 150.87,394.71 150.85,394.7 149.95,394.47 149.06,394.24 148.18,394.01 147.6,393.86 147.29,393.78 146.41,393.55 145.53,393.31 144.66,393.08 144.27,392.97 143.79,392.85 142.92,392.61 142.05,392.38 141.2,392.14 140.82,392.04 140.34,391.9 139.49,391.67 138.65,391.43 137.81,391.19 137.2,391.01 136.97,390.95 136.14,390.71 135.31,390.46 134.49,390.22 133.67,389.98 133.32,389.87 132.86,389.73 132.05,389.48 131.25,389.24 130.45,388.99 129.66,388.74 129.05,388.54 128.88,388.49 128.09,388.23 127.32,387.98 126.55,387.73 125.78,387.47 125.02,387.21 124.27,386.96 124.09,386.9 123.52,386.7 122.77,386.44 122.03,386.18 121.3,385.92 120.57,385.65 119.85,385.39 119.13,385.12 118.42,384.86 117.71,384.59 117.64,384.56 117.01,384.32 116.31,384.05 115.62,383.78 114.93,383.51" fill="none" stroke="#a0d020" stroke-width="1.15"/>
<polyline points="135.08,437.95 134.57,437.9 133.72,437.81 132.54,437.69 132.37,437.67 131.02,437.52 130.5,437.46 129.69,437.36 128.43,437.22 128.36,437.21 127.04,437.05 126.34,436.96 125.72,436.88 124.42,436.72 124.23,436.69 123.12,436.55 122.09,436.41 121.83,436.37 120.55,436.2 119.93,436.11 119.27,436.02 118.01,435.84 117.75,435.8" fill="none" stroke="#d0c020" stroke-width="1.15"/>
<polyline points="160.57,391.82 159.82,391.65 158.9,391.44 157.98,391.23 157.72,391.17 157.06,391.02 156.13,390.81 155.22,390.61 154.95,390.55 154.3,390.4 153.38,390.2 152.46,389.99 152.21,389.94 151.54,389.79 150.63,389.58 149.72,389.38 149.47,389.32 148.81,389.18 147.91,388.97 147,388.77 146.71,388.7 146.1,388.56 145.21,388.35 144.32,388.15 143.91,388.05 143.43,387.94 142.54,387.73 141.66,387.52 141.03,387.37 140.79,387.31 139.92,387.1 139.05,386.89 138.19,386.67 138.05,386.64 137.33,386.46 136.48,386.24 135.64,386.02 134.93,385.84 134.8,385.8 133.96,385.58 133.13,385.36 132.3,385.14 131.62,384.95 131.48,384.92 130.67,384.69 129.86,384.46 129.05,384.24 128.26,384.01 128.04,383.94 127.46,383.78 126.68,383.54 125.89,383.31 125.12,383.08 124.35,382.84 124.07,382.75 123.58,382.6 122.82,382.37 122.07,382.13 121.32,381.89 120.57,381.64 119.84,381.4" fill="none" stroke="#d0c020" stroke-width="1.15"/>
<polyline points="140.4,383.09 139.77,382.96 138.87,382.77 137.98,382.59 137.93,382.58 137.1,382.4 136.22,382.21 135.37,382.03 135.34,382.02 134.47,381.83 133.61,381.63 132.76,381.44 132.7,381.42 131.9,381.24 131.06,381.04 130.22,380.84 129.89,380.76 129.39,380.64 128.56,380.43 127.74,380.23 126.92,380.02 126.9,380.01 126.11,379.81 125.31,379.6 124.51,379.39" fill="none" stroke="#d07020" stroke-width="1.15"/>
<text x="122.9" y="447.1" font-size="5.2" text-anchor="middle" fill="#0c0c0c" textLength="6.6" lengthAdjust="spacingAndGlyphs">160</text>
<text x="134.3" y="447.1" font-size="5.2" text-anchor="middle" fill="#0c0c0c" textLength="6.6" lengthAdjust="spacingAndGlyphs">200</text>
<text x="110.83" y="440.42" font-size="5.2" text-anchor="middle" fill="#0c0c0c" textLength="6.6" lengthAdjust="spacingAndGlyphs">240</text>
<text x="146.31" y="440.37" font-size="5.2" text-anchor="middle" fill="#0c0c0c" textLength="6.6" lengthAdjust="spacingAndGlyphs">300</text>
<text x="99.3" y="434.03" font-size="5.2" text-anchor="middle" fill="#0c0c0c" textLength="6.6" lengthAdjust="spacingAndGlyphs">320</text>
<text x="157.74" y="433.96" font-size="5.2" text-anchor="middle" fill="#0c0c0c" textLength="6.6" lengthAdjust="spacingAndGlyphs">400</text>
<text x="88.27" y="427.92" font-size="5.2" text-anchor="middle" fill="#0c0c0c" textLength="6.6" lengthAdjust="spacingAndGlyphs">400</text>
<text x="168.64" y="427.84" font-size="5.2" text-anchor="middle" fill="#0c0c0c" textLength="6.6" lengthAdjust="spacingAndGlyphs">500</text>
<text x="77.72" y="422.08" font-size="5.2" text-anchor="middle" fill="#0c0c0c" textLength="6.6" lengthAdjust="spacingAndGlyphs">480</text>
<text x="179.05" y="422.01" font-size="5.2" text-anchor="middle" fill="#0c0c0c" textLength="6.6" lengthAdjust="spacingAndGlyphs">600</text>
<text x="67.6" y="416.47" font-size="5.2" text-anchor="middle" fill="#0c0c0c" textLength="6.6" lengthAdjust="spacingAndGlyphs">560</text>
<text x="188.99" y="416.43" font-size="5.2" text-anchor="middle" fill="#0c0c0c" textLength="6.6" lengthAdjust="spacingAndGlyphs">700</text>
<text x="57.9" y="411.1" font-size="5.2" text-anchor="middle" fill="#0c0c0c" textLength="6.6" lengthAdjust="spacingAndGlyphs">640</text>
<text x="198.5" y="411.1" font-size="5.2" text-anchor="middle" fill="#0c0c0c" textLength="6.6" lengthAdjust="spacingAndGlyphs">800</text>
<text x="71.2" y="437.1" font-size="3.3" text-anchor="middle" fill="#333" textLength="23.7" lengthAdjust="spacingAndGlyphs">B: Cholesterol (mg)</text>
<text x="185.7" y="437.6" font-size="3.3" text-anchor="middle" fill="#333" textLength="24.3" lengthAdjust="spacingAndGlyphs">A: Soy lecithin (mg)</text>
<polygon points="128.42,302.83 131.74,293.81 128.39,290.23 125.1,300.57" fill="#ffa27f" stroke="#222" stroke-width="0.4" stroke-opacity="0.7"/>
<polygon points="125.16,311.1 128.42,302.83 125.1,300.57 121.88,309.88" fill="#ffdb85" stroke="#222" stroke-width="0.4" stroke-opacity="0.7"/>
<polygon points="131.73,305.14 135.07,297.24 131.74,293.81 128.42,302.83" fill="#ffb082" stroke="#222" stroke-width="0.4" stroke-opacity="0.7"/>
<polygon points="121.94,318.67 125.16,311.1 121.88,309.88 118.71,318.22" fill="#e7fb8a" stroke="#222" stroke-width="0.4" stroke-opacity="0.7"/>
<polygon points="128.45,312.55 131.73,305.14 128.42,302.83 125.16,311.1" fill="#ffe289" stroke="#222" stroke-width="0.4" stroke-opacity="0.7"/>
<polygon points="135.04,307.51 138.39,300.52 135.07,297.24 131.73,305.14" fill="#ffbc84" stroke="#222" stroke-width="0.4" stroke-opacity="0.7"/>
<polygon points="118.76,325.56 121.94,318.67 118.71,318.22 115.56,325.63" fill="#b3f886" stroke="#222" stroke-width="0.4" stroke-opacity="0.7"/>
<polygon points="125.2,319.47 128.45,312.55 125.16,311.1 121.94,318.67" fill="#e8fb8d" stroke="#222" stroke-width="0.4" stroke-opacity="0.7"/>
<polygon points="131.74,314.21 135.04,307.51 131.73,305.14 128.45,312.55" fill="#ffe98b" stroke="#222" stroke-width="0.4" stroke-opacity="0.7"/>
<polygon points="138.35,309.93 141.69,303.65 138.39,300.52 135.04,307.51" fill="#ffc985" stroke="#222" stroke-width="0.4" stroke-opacity="0.7"/>
<polygon points="115.59,331.81 118.76,325.56 115.56,325.63 112.43,332.19" fill="#87f78b" stroke="#222" stroke-width="0.4" stroke-opacity="0.7"/>
<polygon points="121.98,325.91 125.2,319.47 121.94,318.67 118.76,325.56" fill="#baf88a" stroke="#222" stroke-width="0.4" stroke-opacity="0.7"/>
<polygon points="128.47,320.59 131.74,314.21 128.45,312.55 125.2,319.47" fill="#e7fb8e" stroke="#222" stroke-width="0.4" stroke-opacity="0.7"/>
<polygon points="135.04,316.05 138.35,309.93 135.04,307.51 131.74,314.21" fill="#fff18d" stroke="#222" stroke-width="0.4" stroke-opacity="0.7"/>
<polygon points="141.65,312.37 144.99,306.64 141.69,303.65 138.35,309.93" fill="#ffd484" stroke="#222" stroke-width="0.4" stroke-opacity="0.7"/>
<polygon points="112.42,337.44 115.59,331.81 112.43,332.19 109.29,337.95" fill="#7bf7b2" stroke="#222" stroke-width="0.4" stroke-opacity="0.7"/>
<polygon points="118.78,331.88 121.98,325.91 118.76,325.56 115.59,331.81" fill="#92f88c" stroke="#222" stroke-width="0.4" stroke-opacity="0.7"/>
<polygon points="125.23,326.65 128.47,320.59 125.2,319.47 121.98,325.91" fill="#bef88c" stroke="#222" stroke-width="0.4" stroke-opacity="0.7"/>
<polygon points="131.75,321.99 135.04,316.05 131.74,314.21 128.47,320.59" fill="#e3fb8e" stroke="#222" stroke-width="0.4" stroke-opacity="0.7"/>
<polygon points="138.33,318.04 141.65,312.37 138.35,309.93 135.04,316.05" fill="#fffa8d" stroke="#222" stroke-width="0.4" stroke-opacity="0.7"/>
<polygon points="144.95,314.82 148.29,309.49 144.99,306.64 141.65,312.37" fill="#ffe083" stroke="#222" stroke-width="0.4" stroke-opacity="0.7"/>
<polygon points="109.25,342.48 112.42,337.44 109.29,337.95 106.15,342.96" fill="#6ef6d6" stroke="#222" stroke-width="0.4" stroke-opacity="0.7"/>
<polygon points="115.59,337.38 118.78,331.88 115.59,331.81 112.42,337.44" fill="#83f7ab" stroke="#222" stroke-width="0.4" stroke-opacity="0.7"/>
<polygon points="122.01,332.37 125.23,326.65 121.98,325.91 118.78,331.88" fill="#9af88f" stroke="#222" stroke-width="0.4" stroke-opacity="0.7"/>
<polygon points="128.5,327.72 131.75,321.99 128.47,320.59 125.23,326.65" fill="#bef88d" stroke="#222" stroke-width="0.4" stroke-opacity="0.7"/>
<polygon points="135.04,323.63 138.33,318.04 135.04,316.05 131.75,321.99" fill="#defa8d" stroke="#222" stroke-width="0.4" stroke-opacity="0.7"/>
<polygon points="141.63,320.17 144.95,314.82 141.65,312.37 138.33,318.04" fill="#f9fc8b" stroke="#222" stroke-width="0.4" stroke-opacity="0.7"/>
<polygon points="148.25,317.29 151.59,312.22 148.29,309.49 144.95,314.82" fill="#ffec84" stroke="#222" stroke-width="0.4" stroke-opacity="0.7"/>
<polygon points="106.06,346.96 109.25,342.48 106.15,342.96 102.98,347.29" fill="#67f2ea" stroke="#222" stroke-width="0.4" stroke-opacity="0.7"/>
<polygon points="112.4,342.42 115.59,337.38 112.42,337.44 109.25,342.48" fill="#79f7cd" stroke="#222" stroke-width="0.4" stroke-opacity="0.7"/>
<polygon points="118.79,337.74 122.01,332.37 118.78,331.88 115.59,337.38" fill="#89f8a7" stroke="#222" stroke-width="0.4" stroke-opacity="0.7"/>
<polygon points="125.25,333.23 128.5,327.72 125.23,326.65 122.01,332.37" fill="#9ef891" stroke="#222" stroke-width="0.4" stroke-opacity="0.7"/>
<polygon points="131.77,329.1 135.04,323.63 131.75,321.99 128.5,327.72" fill="#bcf88d" stroke="#222" stroke-width="0.4" stroke-opacity="0.7"/>
<polygon points="138.34,325.49 141.63,320.17 138.33,318.04 135.04,323.63" fill="#d7f98a" stroke="#222" stroke-width="0.4" stroke-opacity="0.7"/>
<polygon points="144.94,322.4 148.25,317.29 144.95,314.82 141.63,320.17" fill="#eefb88" stroke="#222" stroke-width="0.4" stroke-opacity="0.7"/>
<polygon points="151.56,319.75 154.89,314.83 151.59,312.22 148.25,317.29" fill="#fff885" stroke="#222" stroke-width="0.4" stroke-opacity="0.7"/>
<polygon points="102.85,350.91 106.06,346.96 102.98,347.29 99.78,351" fill="#5febf9" stroke="#222" stroke-width="0.4" stroke-opacity="0.7"/>
<polygon points="109.19,347 112.4,342.42 109.25,342.48 106.06,346.96" fill="#71f4e4" stroke="#222" stroke-width="0.4" stroke-opacity="0.7"/>
<polygon points="115.58,342.75 118.79,337.74 115.59,337.38 112.4,342.42" fill="#80f7c7" stroke="#222" stroke-width="0.4" stroke-opacity="0.7"/>
<polygon points="122.02,338.47 125.25,333.23 122.01,332.37 118.79,337.74" fill="#8df8a5" stroke="#222" stroke-width="0.4" stroke-opacity="0.7"/>
<polygon points="128.52,334.41 131.77,329.1 128.5,327.72 125.25,333.23" fill="#9ef891" stroke="#222" stroke-width="0.4" stroke-opacity="0.7"/>
<polygon points="135.06,330.74 138.34,325.49 135.04,323.63 131.77,329.1" fill="#b8f88c" stroke="#222" stroke-width="0.4" stroke-opacity="0.7"/>
<polygon points="141.64,327.52 144.94,322.4 141.63,320.17 138.34,325.49" fill="#cef987" stroke="#222" stroke-width="0.4" stroke-opacity="0.7"/>
<polygon points="148.25,324.71 151.56,319.75 148.25,317.29 144.94,322.4" fill="#e3fa85" stroke="#222" stroke-width="0.4" stroke-opacity="0.7"/>
<polygon points="154.87,322.19 158.2,317.33 154.89,314.83 151.56,319.75" fill="#f7fc85" stroke="#222" stroke-width="0.4" stroke-opacity="0.7"/>
<polygon points="99.61,354.37 102.85,350.91 99.78,351 96.55,354.14" fill="#57d5fb" stroke="#222" stroke-width="0.4" stroke-opacity="0.7"/>
<polygon points="105.97,351.13 109.19,347 106.06,346.96 102.85,350.91" fill="#6bf1f5" stroke="#222" stroke-width="0.4" stroke-opacity="0.7"/>
<polygon points="112.35,347.38 115.58,342.75 112.4,342.42 109.19,347" fill="#79f6e0" stroke="#222" stroke-width="0.4" stroke-opacity="0.7"/>
<polygon points="118.79,343.42 122.02,338.47 118.79,337.74 115.58,342.75" fill="#85f8c4" stroke="#222" stroke-width="0.4" stroke-opacity="0.7"/>
<polygon points="125.27,339.52 128.52,334.41 125.25,333.23 122.02,338.47" fill="#8ef8a5" stroke="#222" stroke-width="0.4" stroke-opacity="0.7"/>
<polygon points="131.8,335.87 135.06,330.74 131.77,329.1 128.52,334.41" fill="#9bf891" stroke="#222" stroke-width="0.4" stroke-opacity="0.7"/>
<polygon points="138.36,332.59 141.64,327.52 138.34,325.49 135.06,330.74" fill="#b1f88b" stroke="#222" stroke-width="0.4" stroke-opacity="0.7"/>
<polygon points="144.95,329.68 148.25,324.71 144.94,322.4 141.64,327.52" fill="#c4f884" stroke="#222" stroke-width="0.4" stroke-opacity="0.7"/>
<polygon points="151.56,327.08 154.87,322.19 151.56,319.75 148.25,324.71" fill="#d8f983" stroke="#222" stroke-width="0.4" stroke-opacity="0.7"/>
<polygon points="158.19,324.6 161.52,319.73 158.2,317.33 154.87,322.19" fill="#ecfb84" stroke="#222" stroke-width="0.4" stroke-opacity="0.7"/>
<polygon points="96.34,357.36 99.61,354.37 96.55,354.14 93.27,356.77" fill="#4cc1fc" stroke="#222" stroke-width="0.4" stroke-opacity="0.7"/>
<polygon points="102.72,354.82 105.97,351.13 102.85,350.91 99.61,354.37" fill="#62e0fa" stroke="#222" stroke-width="0.4" stroke-opacity="0.7"/>
<polygon points="109.12,351.62 112.35,347.38 109.19,347 105.97,351.13" fill="#72f3f0" stroke="#222" stroke-width="0.4" stroke-opacity="0.7"/>
<polygon points="115.55,348.06 118.79,343.42 115.58,342.75 112.35,347.38" fill="#7df7dd" stroke="#222" stroke-width="0.4" stroke-opacity="0.7"/>
<polygon points="122.02,344.39 125.27,339.52 122.02,338.47 118.79,343.42" fill="#87f8c2" stroke="#222" stroke-width="0.4" stroke-opacity="0.7"/>
<polygon points="128.54,340.84 131.8,335.87 128.52,334.41 125.27,339.52" fill="#8ef8a6" stroke="#222" stroke-width="0.4" stroke-opacity="0.7"/>
<polygon points="135.09,337.56 138.36,332.59 135.06,330.74 131.8,335.87" fill="#96f890" stroke="#222" stroke-width="0.4" stroke-opacity="0.7"/>
<polygon points="141.66,334.61 144.95,329.68 141.64,327.52 138.36,332.59" fill="#a9f88a" stroke="#222" stroke-width="0.4" stroke-opacity="0.7"/>
<polygon points="148.26,331.95 151.56,327.08 148.25,324.71 144.95,329.68" fill="#baf884" stroke="#222" stroke-width="0.4" stroke-opacity="0.7"/>
<polygon points="154.88,329.47 158.19,324.6 154.87,322.19 151.56,327.08" fill="#cdf982" stroke="#222" stroke-width="0.4" stroke-opacity="0.7"/>
<polygon points="161.52,326.97 164.85,322.03 161.52,319.73 158.19,324.6" fill="#e2fa84" stroke="#222" stroke-width="0.4" stroke-opacity="0.7"/>
<polygon points="93.03,359.91 96.34,357.36 93.27,356.77 89.95,358.97" fill="#40b0fd" stroke="#222" stroke-width="0.4" stroke-opacity="0.7"/>
<polygon points="99.44,358.07 102.72,354.82 99.61,354.37 96.34,357.36" fill="#58ccfc" stroke="#222" stroke-width="0.4" stroke-opacity="0.7"/>
<polygon points="105.86,355.46 109.12,351.62 105.97,351.13 102.72,354.82" fill="#6ae8fa" stroke="#222" stroke-width="0.4" stroke-opacity="0.7"/>
<polygon points="112.3,352.35 115.55,348.06 112.35,347.38 109.12,351.62" fill="#77f4ed" stroke="#222" stroke-width="0.4" stroke-opacity="0.7"/>
<polygon points="118.77,348.99 122.02,344.39 118.79,343.42 115.55,348.06" fill="#80f7dc" stroke="#222" stroke-width="0.4" stroke-opacity="0.7"/>
<polygon points="125.28,345.61 128.54,340.84 125.27,339.52 122.02,344.39" fill="#88f8c2" stroke="#222" stroke-width="0.4" stroke-opacity="0.7"/>
<polygon points="131.82,342.4 135.09,337.56 131.8,335.87 128.54,340.84" fill="#8cf8a8" stroke="#222" stroke-width="0.4" stroke-opacity="0.7"/>
<polygon points="138.39,339.45 141.66,334.61 138.36,332.59 135.09,337.56" fill="#8ff88e" stroke="#222" stroke-width="0.4" stroke-opacity="0.7"/>
<polygon points="144.98,336.76 148.26,331.95 144.95,329.68 141.66,334.61" fill="#a0f889" stroke="#222" stroke-width="0.4" stroke-opacity="0.7"/>
<polygon points="151.58,334.28 154.88,329.47 151.56,327.08 148.26,331.95" fill="#b1f884" stroke="#222" stroke-width="0.4" stroke-opacity="0.7"/>
<polygon points="158.21,331.86 161.52,326.97 158.19,324.6 154.88,329.47" fill="#c3f881" stroke="#222" stroke-width="0.4" stroke-opacity="0.7"/>
<polygon points="164.86,329.29 168.19,324.23 164.85,322.03 161.52,326.97" fill="#d8f985" stroke="#222" stroke-width="0.4" stroke-opacity="0.7"/>
<polygon points="89.68,362.06 93.03,359.91 89.95,358.97 86.59,360.79" fill="#33a0fe" stroke="#222" stroke-width="0.4" stroke-opacity="0.7"/>
<polygon points="96.13,360.88 99.44,358.07 96.34,357.36 93.03,359.91" fill="#4bb8fd" stroke="#222" stroke-width="0.4" stroke-opacity="0.7"/>
<polygon points="102.58,358.88 105.86,355.46 102.72,354.82 99.44,358.07" fill="#60d3fb" stroke="#222" stroke-width="0.4" stroke-opacity="0.7"/>
<polygon points="109.03,356.26 112.3,352.35 109.12,351.62 105.86,355.46" fill="#6fedfa" stroke="#222" stroke-width="0.4" stroke-opacity="0.7"/>
<polygon points="115.51,353.27 118.77,348.99 115.55,348.06 112.3,352.35" fill="#7af4ec" stroke="#222" stroke-width="0.4" stroke-opacity="0.7"/>
<polygon points="122.02,350.13 125.28,345.61 122.02,344.39 118.77,348.99" fill="#80f7dc" stroke="#222" stroke-width="0.4" stroke-opacity="0.7"/>
<polygon points="128.55,347.05 131.82,342.4 128.54,340.84 125.28,345.61" fill="#86f8c3" stroke="#222" stroke-width="0.4" stroke-opacity="0.7"/>
<polygon points="135.11,344.14 138.39,339.45 135.09,337.56 131.82,342.4" fill="#8af8ab" stroke="#222" stroke-width="0.4" stroke-opacity="0.7"/>
<polygon points="141.7,341.47 144.98,336.76 141.66,334.61 138.39,339.45" fill="#8bf893" stroke="#222" stroke-width="0.4" stroke-opacity="0.7"/>
<polygon points="148.3,339 151.58,334.28 148.26,331.95 144.98,336.76" fill="#97f888" stroke="#222" stroke-width="0.4" stroke-opacity="0.7"/>
<polygon points="154.92,336.64 158.21,331.86 154.88,329.47 151.58,334.28" fill="#a7f885" stroke="#222" stroke-width="0.4" stroke-opacity="0.7"/>
<polygon points="161.55,334.22 164.86,329.29 161.52,326.97 158.21,331.86" fill="#baf883" stroke="#222" stroke-width="0.4" stroke-opacity="0.7"/>
<polygon points="168.22,331.54 171.55,326.36 168.19,324.23 164.86,329.29" fill="#d0f986" stroke="#222" stroke-width="0.4" stroke-opacity="0.7"/>
<polygon points="86.28,363.84 89.68,362.06 86.59,360.79 83.19,362.3" fill="#2795fe" stroke="#222" stroke-width="0.4" stroke-opacity="0.7"/>
<polygon points="92.78,363.26 96.13,360.88 93.03,359.91 89.68,362.06" fill="#3da7fe" stroke="#222" stroke-width="0.4" stroke-opacity="0.7"/>
<polygon points="99.26,361.86 102.58,358.88 99.44,358.07 96.13,360.88" fill="#53bffd" stroke="#222" stroke-width="0.4" stroke-opacity="0.7"/>
<polygon points="105.74,359.77 109.03,356.26 105.86,355.46 102.58,358.88" fill="#65d8fb" stroke="#222" stroke-width="0.4" stroke-opacity="0.7"/>
<polygon points="112.23,357.19 115.51,353.27 112.3,352.35 109.03,356.26" fill="#72f0fa" stroke="#222" stroke-width="0.4" stroke-opacity="0.7"/>
<polygon points="118.74,354.35 122.02,350.13 118.77,348.99 115.51,353.27" fill="#7af4eb" stroke="#222" stroke-width="0.4" stroke-opacity="0.7"/>
<polygon points="125.28,351.45 128.55,347.05 125.28,345.61 122.02,350.13" fill="#7ff7dc" stroke="#222" stroke-width="0.4" stroke-opacity="0.7"/>
<polygon points="131.84,348.65 135.11,344.14 131.82,342.4 128.55,347.05" fill="#84f8c6" stroke="#222" stroke-width="0.4" stroke-opacity="0.7"/>
<polygon points="138.43,346.02 141.7,341.47 138.39,339.45 135.11,344.14" fill="#86f8af" stroke="#222" stroke-width="0.4" stroke-opacity="0.7"/>
<polygon points="145.02,343.58 148.3,339 144.98,336.76 141.7,341.47" fill="#88f899" stroke="#222" stroke-width="0.4" stroke-opacity="0.7"/>
<polygon points="151.64,341.28 154.92,336.64 151.58,334.28 148.3,339" fill="#8df788" stroke="#222" stroke-width="0.4" stroke-opacity="0.7"/>
<polygon points="158.26,338.98 161.55,334.22 158.21,331.86 154.92,336.64" fill="#9ef886" stroke="#222" stroke-width="0.4" stroke-opacity="0.7"/>
<polygon points="164.91,336.52 168.22,331.54 164.86,329.29 161.55,334.22" fill="#b2f885" stroke="#222" stroke-width="0.4" stroke-opacity="0.7"/>
<polygon points="171.59,333.71 174.92,328.41 171.55,326.36 168.22,331.54" fill="#c8f887" stroke="#222" stroke-width="0.4" stroke-opacity="0.7"/>
<polygon points="82.84,365.27 86.28,363.84 83.19,362.3 79.75,363.56" fill="#1d8dfd" stroke="#222" stroke-width="0.4" stroke-opacity="0.7"/>
<polygon points="89.39,365.22 92.78,363.26 89.68,362.06 86.28,363.84" fill="#2e97fe" stroke="#222" stroke-width="0.4" stroke-opacity="0.7"/>
<polygon points="95.91,364.39 99.26,361.86 96.13,360.88 92.78,363.26" fill="#43acfe" stroke="#222" stroke-width="0.4" stroke-opacity="0.7"/>
<polygon points="102.42,362.83 105.74,359.77 102.58,358.88 99.26,361.86" fill="#57c3fc" stroke="#222" stroke-width="0.4" stroke-opacity="0.7"/>
<polygon points="108.93,360.71 112.23,357.19 109.03,356.26 105.74,359.77" fill="#66dbfb" stroke="#222" stroke-width="0.4" stroke-opacity="0.7"/>
<polygon points="115.45,358.23 118.74,354.35 115.51,353.27 112.23,357.19" fill="#72f1f9" stroke="#222" stroke-width="0.4" stroke-opacity="0.7"/>
<polygon points="122,355.57 125.28,351.45 122.02,350.13 118.74,354.35" fill="#79f4ea" stroke="#222" stroke-width="0.4" stroke-opacity="0.7"/>
<polygon points="128.57,352.91 131.84,348.65 128.55,347.05 125.28,351.45" fill="#7df7dd" stroke="#222" stroke-width="0.4" stroke-opacity="0.7"/>
<polygon points="135.15,350.36 138.43,346.02 135.11,344.14 131.84,348.65" fill="#80f7c9" stroke="#222" stroke-width="0.4" stroke-opacity="0.7"/>
<polygon points="141.75,347.98 145.02,343.58 141.7,341.47 138.43,346.02" fill="#83f7b4" stroke="#222" stroke-width="0.4" stroke-opacity="0.7"/>
<polygon points="148.36,345.73 151.64,341.28 148.3,339 145.02,343.58" fill="#85f7a0" stroke="#222" stroke-width="0.4" stroke-opacity="0.7"/>
<polygon points="154.99,343.54 158.26,338.98 154.92,336.64 151.64,341.28" fill="#87f78d" stroke="#222" stroke-width="0.4" stroke-opacity="0.7"/>
<polygon points="161.63,341.26 164.91,336.52 161.55,334.22 158.26,338.98" fill="#96f888" stroke="#222" stroke-width="0.4" stroke-opacity="0.7"/>
<polygon points="168.29,338.73 171.59,333.71 168.22,331.54 164.91,336.52" fill="#abf888" stroke="#222" stroke-width="0.4" stroke-opacity="0.7"/>
<polygon points="174.98,335.78 178.31,330.39 174.92,328.41 171.59,333.71" fill="#c2f888" stroke="#222" stroke-width="0.4" stroke-opacity="0.7"/>
<polygon points="79.36,366.4 82.84,365.27 79.75,363.56 76.26,364.64" fill="#1687f7" stroke="#222" stroke-width="0.4" stroke-opacity="0.7"/>
<polygon points="85.95,366.76 89.39,365.22 86.28,363.84 82.84,365.27" fill="#218cff" stroke="#222" stroke-width="0.4" stroke-opacity="0.7"/>
<polygon points="92.51,366.45 95.91,364.39 92.78,363.26 89.39,365.22" fill="#329afe" stroke="#222" stroke-width="0.4" stroke-opacity="0.7"/>
<polygon points="99.06,365.43 102.42,362.83 99.26,361.86 95.91,364.39" fill="#46affd" stroke="#222" stroke-width="0.4" stroke-opacity="0.7"/>
<polygon points="105.6,363.79 108.93,360.71 105.74,359.77 102.42,362.83" fill="#58c7fc" stroke="#222" stroke-width="0.4" stroke-opacity="0.7"/>
<polygon points="112.14,361.7 115.45,358.23 112.23,357.19 108.93,360.71" fill="#66ddfb" stroke="#222" stroke-width="0.4" stroke-opacity="0.7"/>
<polygon points="118.7,359.33 122,355.57 118.74,354.35 115.45,358.23" fill="#70f1f8" stroke="#222" stroke-width="0.4" stroke-opacity="0.7"/>
<polygon points="125.28,356.87 128.57,352.91 125.28,351.45 122,355.57" fill="#76f4eb" stroke="#222" stroke-width="0.4" stroke-opacity="0.7"/>
<polygon points="131.87,354.45 135.15,350.36 131.84,348.65 128.57,352.91" fill="#7af6de" stroke="#222" stroke-width="0.4" stroke-opacity="0.7"/>
<polygon points="138.48,352.14 141.75,347.98 138.43,346.02 135.15,350.36" fill="#7cf7cd" stroke="#222" stroke-width="0.4" stroke-opacity="0.7"/>
<polygon points="145.09,349.97 148.36,345.73 145.02,343.58 141.75,347.98" fill="#7ff7b9" stroke="#222" stroke-width="0.4" stroke-opacity="0.7"/>
<polygon points="151.72,347.88 154.99,343.54 151.64,341.28 148.36,345.73" fill="#81f7a7" stroke="#222" stroke-width="0.4" stroke-opacity="0.7"/>
<polygon points="158.36,345.75 161.63,341.26 158.26,338.98 154.99,343.54" fill="#85f796" stroke="#222" stroke-width="0.4" stroke-opacity="0.7"/>
<polygon points="165.01,343.45 168.29,338.73 164.91,336.52 161.63,341.26" fill="#8ff889" stroke="#222" stroke-width="0.4" stroke-opacity="0.7"/>
<polygon points="171.69,340.83 174.98,335.78 171.59,333.71 168.29,338.73" fill="#a5f88a" stroke="#222" stroke-width="0.4" stroke-opacity="0.7"/>
<polygon points="178.4,337.75 181.72,332.31 178.31,330.39 174.98,335.78" fill="#bdf88a" stroke="#222" stroke-width="0.4" stroke-opacity="0.7"/>
<polygon points="75.83,367.26 79.36,366.4 76.26,364.64 72.74,365.61" fill="#1185f1" stroke="#222" stroke-width="0.4" stroke-opacity="0.7"/>
<polygon points="82.47,367.88 85.95,366.76 82.84,365.27 79.36,366.4" fill="#1683f7" stroke="#222" stroke-width="0.4" stroke-opacity="0.7"/>
<polygon points="89.07,368.02 92.51,366.45 89.39,365.22 85.95,366.76" fill="#228dff" stroke="#222" stroke-width="0.4" stroke-opacity="0.7"/>
<polygon points="95.66,367.52 99.06,365.43 95.91,364.39 92.51,366.45" fill="#339dfe" stroke="#222" stroke-width="0.4" stroke-opacity="0.7"/>
<polygon points="102.23,366.38 105.6,363.79 102.42,362.83 99.06,365.43" fill="#46b2fd" stroke="#222" stroke-width="0.4" stroke-opacity="0.7"/>
<polygon points="108.81,364.72 112.14,361.7 108.93,360.71 105.6,363.79" fill="#56c9fc" stroke="#222" stroke-width="0.4" stroke-opacity="0.7"/>
<polygon points="115.39,362.69 118.7,359.33 115.45,358.23 112.14,361.7" fill="#63dffa" stroke="#222" stroke-width="0.4" stroke-opacity="0.7"/>
<polygon points="121.98,360.48 125.28,356.87 122,355.57 118.7,359.33" fill="#6df1f8" stroke="#222" stroke-width="0.4" stroke-opacity="0.7"/>
<polygon points="128.58,358.22 131.87,354.45 128.57,352.91 125.28,356.87" fill="#72f3eb" stroke="#222" stroke-width="0.4" stroke-opacity="0.7"/>
<polygon points="135.2,356.03 138.48,352.14 135.15,350.36 131.87,354.45" fill="#75f6df" stroke="#222" stroke-width="0.4" stroke-opacity="0.7"/>
<polygon points="141.82,353.94 145.09,349.97 141.75,347.98 138.48,352.14" fill="#77f7d1" stroke="#222" stroke-width="0.4" stroke-opacity="0.7"/>
<polygon points="148.46,351.94 151.72,347.88 148.36,345.73 145.09,349.97" fill="#7bf7bf" stroke="#222" stroke-width="0.4" stroke-opacity="0.7"/>
<polygon points="155.1,349.96 158.36,345.75 154.99,343.54 151.72,347.88" fill="#7ef7ae" stroke="#222" stroke-width="0.4" stroke-opacity="0.7"/>
<polygon points="161.75,347.86 165.01,343.45 161.63,341.26 158.36,345.75" fill="#84f79d" stroke="#222" stroke-width="0.4" stroke-opacity="0.7"/>
<polygon points="168.42,345.5 171.69,340.83 168.29,338.73 165.01,343.45" fill="#8af88d" stroke="#222" stroke-width="0.4" stroke-opacity="0.7"/>
<polygon points="175.11,342.77 178.4,337.75 174.98,335.78 171.69,340.83" fill="#9ff88c" stroke="#222" stroke-width="0.4" stroke-opacity="0.7"/>
<polygon points="181.84,339.59 185.15,334.18 181.72,332.31 178.4,337.75" fill="#b8f88b" stroke="#222" stroke-width="0.4" stroke-opacity="0.7"/>
<polygon points="72.26,367.87 75.83,367.26 72.74,365.61 69.18,366.54" fill="#0d86ec" stroke="#222" stroke-width="0.4" stroke-opacity="0.7"/>
<polygon points="78.94,368.6 82.47,367.88 79.36,366.4 75.83,367.26" fill="#0d7eed" stroke="#222" stroke-width="0.4" stroke-opacity="0.7"/>
<polygon points="85.59,369.09 89.07,368.02 85.95,366.76 82.47,367.88" fill="#1481f6" stroke="#222" stroke-width="0.4" stroke-opacity="0.7"/>
<polygon points="92.22,369.07 95.66,367.52 92.51,366.45 89.07,368.02" fill="#218eff" stroke="#222" stroke-width="0.4" stroke-opacity="0.7"/>
<polygon points="98.83,368.43 102.23,366.38 99.06,365.43 95.66,367.52" fill="#329ffe" stroke="#222" stroke-width="0.4" stroke-opacity="0.7"/>
<polygon points="105.44,367.24 108.81,364.72 105.6,363.79 102.23,366.38" fill="#43b5fd" stroke="#222" stroke-width="0.4" stroke-opacity="0.7"/>
<polygon points="112.04,365.6 115.39,362.69 112.14,361.7 108.81,364.72" fill="#53cbfb" stroke="#222" stroke-width="0.4" stroke-opacity="0.7"/>
<polygon points="118.66,363.68 121.98,360.48 118.7,359.33 115.39,362.69" fill="#5fdffa" stroke="#222" stroke-width="0.4" stroke-opacity="0.7"/>
<polygon points="125.28,361.63 128.58,358.22 125.28,356.87 121.98,360.48" fill="#67f0f7" stroke="#222" stroke-width="0.4" stroke-opacity="0.7"/>
<polygon points="131.91,359.59 135.2,356.03 131.87,354.45 128.58,358.22" fill="#6df3eb" stroke="#222" stroke-width="0.4" stroke-opacity="0.7"/>
<polygon points="138.55,357.61 141.82,353.94 138.48,352.14 135.2,356.03" fill="#70f5e0" stroke="#222" stroke-width="0.4" stroke-opacity="0.7"/>
<polygon points="145.19,355.71 148.46,351.94 145.09,349.97 141.82,353.94" fill="#72f7d5" stroke="#222" stroke-width="0.4" stroke-opacity="0.7"/>
<polygon points="151.84,353.85 155.1,349.96 151.72,347.88 148.46,351.94" fill="#76f7c4" stroke="#222" stroke-width="0.4" stroke-opacity="0.7"/>
<polygon points="158.5,351.92 161.75,347.86 158.36,345.75 155.1,349.96" fill="#7bf7b4" stroke="#222" stroke-width="0.4" stroke-opacity="0.7"/>
<polygon points="165.17,349.81 168.42,345.5 165.01,343.45 161.75,347.86" fill="#82f7a4" stroke="#222" stroke-width="0.4" stroke-opacity="0.7"/>
<polygon points="171.85,347.37 175.11,342.77 171.69,340.83 168.42,345.5" fill="#89f893" stroke="#222" stroke-width="0.4" stroke-opacity="0.7"/>
<polygon points="178.56,344.54 181.84,339.59 178.4,337.75 175.11,342.77" fill="#9bf88c" stroke="#222" stroke-width="0.4" stroke-opacity="0.7"/>
<polygon points="185.3,341.3 188.6,336 185.15,334.18 181.84,339.59" fill="#b3f88b" stroke="#222" stroke-width="0.4" stroke-opacity="0.7"/>
<polygon points="68.65,368.28 72.26,367.87 69.18,366.54 65.58,367.49" fill="#0b8ae8" stroke="#222" stroke-width="0.4" stroke-opacity="0.7"/>
<polygon points="75.36,368.9 78.94,368.6 75.83,367.26 72.26,367.87" fill="#087ee2" stroke="#222" stroke-width="0.4" stroke-opacity="0.7"/>
<polygon points="82.06,369.64 85.59,369.09 82.47,367.88 78.94,368.6" fill="#0a7be8" stroke="#222" stroke-width="0.4" stroke-opacity="0.7"/>
<polygon points="88.74,370.04 92.22,369.07 89.07,368.02 85.59,369.09" fill="#1181f2" stroke="#222" stroke-width="0.4" stroke-opacity="0.7"/>
<polygon points="95.39,369.9 98.83,368.43 95.66,367.52 92.22,369.07" fill="#1e91fe" stroke="#222" stroke-width="0.4" stroke-opacity="0.7"/>
<polygon points="102.03,369.19 105.44,367.24 102.23,366.38 98.83,368.43" fill="#2ea2fd" stroke="#222" stroke-width="0.4" stroke-opacity="0.7"/>
<polygon points="108.67,367.98 112.04,365.6 108.81,364.72 105.44,367.24" fill="#3eb7fc" stroke="#222" stroke-width="0.4" stroke-opacity="0.7"/>
<polygon points="115.31,366.41 118.66,363.68 115.39,362.69 112.04,365.6" fill="#4cccfb" stroke="#222" stroke-width="0.4" stroke-opacity="0.7"/>
<polygon points="121.95,364.63 125.28,361.63 121.98,360.48 118.66,363.68" fill="#58e0fa" stroke="#222" stroke-width="0.4" stroke-opacity="0.7"/>
<polygon points="128.6,362.77 131.91,359.59 128.58,358.22 125.28,361.63" fill="#60f0f7" stroke="#222" stroke-width="0.4" stroke-opacity="0.7"/>
<polygon points="135.26,360.92 138.55,357.61 135.2,356.03 131.91,359.59" fill="#66f2eb" stroke="#222" stroke-width="0.4" stroke-opacity="0.7"/>
<polygon points="141.92,359.14 145.19,355.71 141.82,353.94 138.55,357.61" fill="#69f4e1" stroke="#222" stroke-width="0.4" stroke-opacity="0.7"/>
<polygon points="148.58,357.4 151.84,353.85 148.46,351.94 145.19,355.71" fill="#6cf6d7" stroke="#222" stroke-width="0.4" stroke-opacity="0.7"/>
<polygon points="155.25,355.62 158.5,351.92 155.1,349.96 151.84,353.85" fill="#71f7c9" stroke="#222" stroke-width="0.4" stroke-opacity="0.7"/>
<polygon points="161.92,353.71 165.17,349.81 161.75,347.86 158.5,351.92" fill="#78f7b9" stroke="#222" stroke-width="0.4" stroke-opacity="0.7"/>
<polygon points="168.61,351.55 171.85,347.37 168.42,345.5 165.17,349.81" fill="#80f7a9" stroke="#222" stroke-width="0.4" stroke-opacity="0.7"/>
<polygon points="175.32,349.02 178.56,344.54 175.11,342.77 171.85,347.37" fill="#88f797" stroke="#222" stroke-width="0.4" stroke-opacity="0.7"/>
<polygon points="182.04,346.09 185.3,341.3 181.84,339.59 178.56,344.54" fill="#96f88c" stroke="#222" stroke-width="0.4" stroke-opacity="0.7"/>
<polygon points="188.79,342.85 192.07,337.79 188.6,336 185.3,341.3" fill="#aff88b" stroke="#222" stroke-width="0.4" stroke-opacity="0.7"/>
<polygon points="65,368.52 68.65,368.28 65.58,367.49 61.96,368.56" fill="#098ee3" stroke="#222" stroke-width="0.4" stroke-opacity="0.7"/>
<polygon points="71.74,368.8 75.36,368.9 72.26,367.87 68.65,368.28" fill="#0482d7" stroke="#222" stroke-width="0.4" stroke-opacity="0.7"/>
<polygon points="78.48,369.64 82.06,369.64 78.94,368.6 75.36,368.9" fill="#047ad8" stroke="#222" stroke-width="0.4" stroke-opacity="0.7"/>
<polygon points="85.21,370.4 88.74,370.04 85.59,369.09 82.06,369.64" fill="#077ae1" stroke="#222" stroke-width="0.4" stroke-opacity="0.7"/>
<polygon points="91.91,370.74 95.39,369.9 92.22,369.07 88.74,370.04" fill="#0e82ee" stroke="#222" stroke-width="0.4" stroke-opacity="0.7"/>
<polygon points="98.59,370.53 102.03,369.19 98.83,368.43 95.39,369.9" fill="#1993fa" stroke="#222" stroke-width="0.4" stroke-opacity="0.7"/>
<polygon points="105.26,369.79 108.67,367.98 105.44,367.24 102.03,369.19" fill="#28a6fd" stroke="#222" stroke-width="0.4" stroke-opacity="0.7"/>
<polygon points="111.93,368.61 115.31,366.41 112.04,365.6 108.67,367.98" fill="#37bafc" stroke="#222" stroke-width="0.4" stroke-opacity="0.7"/>
<polygon points="118.6,367.14 121.95,364.63 118.66,363.68 115.31,366.41" fill="#44cefa" stroke="#222" stroke-width="0.4" stroke-opacity="0.7"/>
<polygon points="125.28,365.51 128.6,362.77 125.28,361.63 121.95,364.63" fill="#4fe1f9" stroke="#222" stroke-width="0.4" stroke-opacity="0.7"/>
<polygon points="131.95,363.84 135.26,360.92 131.91,359.59 128.6,362.77" fill="#57eff6" stroke="#222" stroke-width="0.4" stroke-opacity="0.7"/>
<polygon points="138.63,362.19 141.92,359.14 138.55,357.61 135.26,360.92" fill="#5df1eb" stroke="#222" stroke-width="0.4" stroke-opacity="0.7"/>
<polygon points="145.31,360.57 148.58,357.4 145.19,355.71 141.92,359.14" fill="#61f3e1" stroke="#222" stroke-width="0.4" stroke-opacity="0.7"/>
<polygon points="152,358.95 155.25,355.62 151.84,353.85 148.58,357.4" fill="#66f5d8" stroke="#222" stroke-width="0.4" stroke-opacity="0.7"/>
<polygon points="158.68,357.22 161.92,353.71 158.5,351.92 155.25,355.62" fill="#6cf6cc" stroke="#222" stroke-width="0.4" stroke-opacity="0.7"/>
<polygon points="165.38,355.28 168.61,351.55 165.17,349.81 161.92,353.71" fill="#74f7bc" stroke="#222" stroke-width="0.4" stroke-opacity="0.7"/>
<polygon points="172.09,353.03 175.32,349.02 171.85,347.37 168.61,351.55" fill="#7cf7ab" stroke="#222" stroke-width="0.4" stroke-opacity="0.7"/>
<polygon points="178.81,350.39 182.04,346.09 178.56,344.54 175.32,349.02" fill="#85f798" stroke="#222" stroke-width="0.4" stroke-opacity="0.7"/>
<polygon points="185.55,347.4 188.79,342.85 185.3,341.3 182.04,346.09" fill="#91f88a" stroke="#222" stroke-width="0.4" stroke-opacity="0.7"/>
<polygon points="192.31,344.23 195.56,339.55 192.07,337.79 188.79,342.85" fill="#a9f888" stroke="#222" stroke-width="0.4" stroke-opacity="0.7"/>
<polygon points="68.08,368.31 71.74,368.8 68.65,368.28 65,368.52" fill="#0289cc" stroke="#222" stroke-width="0.4" stroke-opacity="0.7"/>
<polygon points="74.86,369.07 78.48,369.64 75.36,368.9 71.74,368.8" fill="#017fc9" stroke="#222" stroke-width="0.4" stroke-opacity="0.7"/>
<polygon points="81.63,370.1 85.21,370.4 82.06,369.64 78.48,369.64" fill="#027ace" stroke="#222" stroke-width="0.4" stroke-opacity="0.7"/>
<polygon points="88.38,370.89 91.91,370.74 88.74,370.04 85.21,370.4" fill="#047cda" stroke="#222" stroke-width="0.4" stroke-opacity="0.7"/>
<polygon points="95.11,371.2 98.59,370.53 95.39,369.9 91.91,370.74" fill="#0a85e7" stroke="#222" stroke-width="0.4" stroke-opacity="0.7"/>
<polygon points="101.82,370.96 105.26,369.79 102.03,369.19 98.59,370.53" fill="#1496f4" stroke="#222" stroke-width="0.4" stroke-opacity="0.7"/>
<polygon points="108.53,370.23 111.93,368.61 108.67,367.98 105.26,369.79" fill="#21abfc" stroke="#222" stroke-width="0.4" stroke-opacity="0.7"/>
<polygon points="115.23,369.12 118.6,367.14 115.31,366.41 111.93,368.61" fill="#2ebefb" stroke="#222" stroke-width="0.4" stroke-opacity="0.7"/>
<polygon points="121.93,367.78 125.28,365.51 121.95,364.63 118.6,367.14" fill="#3bd1fa" stroke="#222" stroke-width="0.4" stroke-opacity="0.7"/>
<polygon points="128.63,366.32 131.95,363.84 128.6,362.77 125.28,365.51" fill="#45e2f9" stroke="#222" stroke-width="0.4" stroke-opacity="0.7"/>
<polygon points="135.33,364.83 138.63,362.19 135.26,360.92 131.95,363.84" fill="#4ceef5" stroke="#222" stroke-width="0.4" stroke-opacity="0.7"/>
<polygon points="142.03,363.35 145.31,360.57 141.92,359.14 138.63,362.19" fill="#53f0ea" stroke="#222" stroke-width="0.4" stroke-opacity="0.7"/>
<polygon points="148.74,361.86 152,358.95 148.58,357.4 145.31,360.57" fill="#58f2e1" stroke="#222" stroke-width="0.4" stroke-opacity="0.7"/>
<polygon points="155.44,360.3 158.68,357.22 155.25,355.62 152,358.95" fill="#5ef4d8" stroke="#222" stroke-width="0.4" stroke-opacity="0.7"/>
<polygon points="162.15,358.58 165.38,355.28 161.92,353.71 158.68,357.22" fill="#65f6cd" stroke="#222" stroke-width="0.4" stroke-opacity="0.7"/>
<polygon points="168.86,356.57 172.09,353.03 168.61,351.55 165.38,355.28" fill="#6ef6bc" stroke="#222" stroke-width="0.4" stroke-opacity="0.7"/>
<polygon points="175.59,354.19 178.81,350.39 175.32,349.02 172.09,353.03" fill="#77f7a9" stroke="#222" stroke-width="0.4" stroke-opacity="0.7"/>
<polygon points="182.34,351.44 185.55,347.4 182.04,346.09 178.81,350.39" fill="#7ff795" stroke="#222" stroke-width="0.4" stroke-opacity="0.7"/>
<polygon points="189.09,348.42 192.31,344.23 188.79,342.85 185.55,347.4" fill="#8bf784" stroke="#222" stroke-width="0.4" stroke-opacity="0.7"/>
<polygon points="71.19,367.92 74.86,369.07 71.74,368.8 68.08,368.31" fill="#005c7d" stroke="#222" stroke-width="0.4" stroke-opacity="0.7"/>
<polygon points="78.01,369.11 81.63,370.1 78.48,369.64 74.86,369.07" fill="#00567d" stroke="#222" stroke-width="0.4" stroke-opacity="0.7"/>
<polygon points="84.81,370.3 88.38,370.89 85.21,370.4 81.63,370.1" fill="#00507e" stroke="#222" stroke-width="0.4" stroke-opacity="0.7"/>
<polygon points="91.58,371.12 95.11,371.2 91.91,370.74 88.38,370.89" fill="#0380d2" stroke="#222" stroke-width="0.4" stroke-opacity="0.7"/>
<polygon points="98.34,371.43 101.82,370.96 98.59,370.53 95.11,371.2" fill="#078ae0" stroke="#222" stroke-width="0.4" stroke-opacity="0.7"/>
<polygon points="105.08,371.19 108.53,370.23 105.26,369.79 101.82,370.96" fill="#0f9bed" stroke="#222" stroke-width="0.4" stroke-opacity="0.7"/>
<polygon points="111.82,370.51 115.23,369.12 111.93,368.61 108.53,370.23" fill="#1ab0f7" stroke="#222" stroke-width="0.4" stroke-opacity="0.7"/>
<polygon points="118.55,369.5 121.93,367.78 118.6,367.14 115.23,369.12" fill="#25c3fa" stroke="#222" stroke-width="0.4" stroke-opacity="0.7"/>
<polygon points="125.28,368.3 128.63,366.32 125.28,365.51 121.93,367.78" fill="#30d4f9" stroke="#222" stroke-width="0.4" stroke-opacity="0.7"/>
<polygon points="132.01,367.01 135.33,364.83 131.95,363.84 128.63,366.32" fill="#39e5f8" stroke="#222" stroke-width="0.4" stroke-opacity="0.7"/>
<polygon points="138.74,365.69 142.03,363.35 138.63,362.19 135.33,364.83" fill="#41edf2" stroke="#222" stroke-width="0.4" stroke-opacity="0.7"/>
<polygon points="145.46,364.35 148.74,361.86 145.31,360.57 142.03,363.35" fill="#47efe8" stroke="#222" stroke-width="0.4" stroke-opacity="0.7"/>
<polygon points="152.19,362.95 155.44,360.3 152,358.95 148.74,361.86" fill="#4df1df" stroke="#222" stroke-width="0.4" stroke-opacity="0.7"/>
<polygon points="158.91,361.42 162.15,358.58 158.68,357.22 155.44,360.3" fill="#54f4d6" stroke="#222" stroke-width="0.4" stroke-opacity="0.7"/>
<polygon points="165.64,359.63 168.86,356.57 165.38,355.28 162.15,358.58" fill="#5cf5ca" stroke="#222" stroke-width="0.4" stroke-opacity="0.7"/>
<polygon points="172.38,357.51 175.59,354.19 172.09,353.03 168.86,356.57" fill="#66f6b8" stroke="#222" stroke-width="0.4" stroke-opacity="0.7"/>
<polygon points="179.13,354.99 182.34,351.44 178.81,350.39 175.59,354.19" fill="#6ff6a3" stroke="#222" stroke-width="0.4" stroke-opacity="0.7"/>
<polygon points="185.9,352.12 189.09,348.42 185.55,347.4 182.34,351.44" fill="#77f68c" stroke="#222" stroke-width="0.4" stroke-opacity="0.7"/>
<polygon points="74.34,367.38 78.01,369.11 74.86,369.07 71.19,367.92" fill="#00657c" stroke="#222" stroke-width="0.4" stroke-opacity="0.7"/>
<polygon points="81.19,368.92 84.81,370.3 81.63,370.1 78.01,369.11" fill="#005d7c" stroke="#222" stroke-width="0.4" stroke-opacity="0.7"/>
<polygon points="88.01,370.25 91.58,371.12 88.38,370.89 84.81,370.3" fill="#00577d" stroke="#222" stroke-width="0.4" stroke-opacity="0.7"/>
<polygon points="94.82,371.12 98.34,371.43 95.11,371.2 91.58,371.12" fill="#00537d" stroke="#222" stroke-width="0.4" stroke-opacity="0.7"/>
<polygon points="101.6,371.44 105.08,371.19 101.82,370.96 98.34,371.43" fill="#0591d9" stroke="#222" stroke-width="0.4" stroke-opacity="0.7"/>
<polygon points="108.38,371.24 111.82,370.51 108.53,370.23 105.08,371.19" fill="#0ba1e5" stroke="#222" stroke-width="0.4" stroke-opacity="0.7"/>
<polygon points="115.14,370.63 118.55,369.5 115.23,369.12 111.82,370.51" fill="#13b5f0" stroke="#222" stroke-width="0.4" stroke-opacity="0.7"/>
<polygon points="121.91,369.74 125.28,368.3 121.93,367.78 118.55,369.5" fill="#1cc9f7" stroke="#222" stroke-width="0.4" stroke-opacity="0.7"/>
<polygon points="128.66,368.69 132.01,367.01 128.63,366.32 125.28,368.3" fill="#25daf8" stroke="#222" stroke-width="0.4" stroke-opacity="0.7"/>
<polygon points="135.42,367.56 138.74,365.69 135.33,364.83 132.01,367.01" fill="#2de9f7" stroke="#222" stroke-width="0.4" stroke-opacity="0.7"/>
<polygon points="142.17,366.39 145.46,364.35 142.03,363.35 138.74,365.69" fill="#34ecee" stroke="#222" stroke-width="0.4" stroke-opacity="0.7"/>
<polygon points="148.92,365.15 152.19,362.95 148.74,361.86 145.46,364.35" fill="#3befe5" stroke="#222" stroke-width="0.4" stroke-opacity="0.7"/>
<polygon points="155.67,363.8 158.91,361.42 155.44,360.3 152.19,362.95" fill="#41f1dc" stroke="#222" stroke-width="0.4" stroke-opacity="0.7"/>
<polygon points="162.42,362.23 165.64,359.63 162.15,358.58 158.91,361.42" fill="#49f3d2" stroke="#222" stroke-width="0.4" stroke-opacity="0.7"/>
<polygon points="169.17,360.33 172.38,357.51 168.86,356.57 165.64,359.63" fill="#51f5c4" stroke="#222" stroke-width="0.4" stroke-opacity="0.7"/>
<polygon points="175.94,358.04 179.13,354.99 175.59,354.19 172.38,357.51" fill="#5af5ae" stroke="#222" stroke-width="0.4" stroke-opacity="0.7"/>
<polygon points="182.71,355.35 185.9,352.12 182.34,351.44 179.13,354.99" fill="#63f596" stroke="#222" stroke-width="0.4" stroke-opacity="0.7"/>
<polygon points="77.54,366.69 81.19,368.92 78.01,369.11 74.34,367.38" fill="#006f7b" stroke="#222" stroke-width="0.4" stroke-opacity="0.7"/>
<polygon points="84.41,368.52 88.01,370.25 84.81,370.3 81.19,368.92" fill="#00667c" stroke="#222" stroke-width="0.4" stroke-opacity="0.7"/>
<polygon points="91.26,369.98 94.82,371.12 91.58,371.12 88.01,370.25" fill="#00607c" stroke="#222" stroke-width="0.4" stroke-opacity="0.7"/>
<polygon points="98.09,370.9 101.6,371.44 98.34,371.43 94.82,371.12" fill="#005c7d" stroke="#222" stroke-width="0.4" stroke-opacity="0.7"/>
<polygon points="104.9,371.25 108.38,371.24 105.08,371.19 101.6,371.44" fill="#039ad0" stroke="#222" stroke-width="0.4" stroke-opacity="0.7"/>
<polygon points="111.71,371.1 115.14,370.63 111.82,370.51 108.38,371.24" fill="#07a9dd" stroke="#222" stroke-width="0.4" stroke-opacity="0.7"/>
<polygon points="118.5,370.59 121.91,369.74 118.55,369.5 115.14,370.63" fill="#0dbae7" stroke="#222" stroke-width="0.4" stroke-opacity="0.7"/>
<polygon points="125.29,369.83 128.66,368.69 125.28,368.3 121.91,369.74" fill="#14cdee" stroke="#222" stroke-width="0.4" stroke-opacity="0.7"/>
<polygon points="132.08,368.93 135.42,367.56 132.01,367.01 128.66,368.69" fill="#1bdff4" stroke="#222" stroke-width="0.4" stroke-opacity="0.7"/>
<polygon points="138.86,367.94 142.17,366.39 138.74,365.69 135.42,367.56" fill="#21eaf2" stroke="#222" stroke-width="0.4" stroke-opacity="0.7"/>
<polygon points="145.64,366.89 148.92,365.15 145.46,364.35 142.17,366.39" fill="#28ece9" stroke="#222" stroke-width="0.4" stroke-opacity="0.7"/>
<polygon points="152.41,365.71 155.67,363.8 152.19,362.95 148.92,365.15" fill="#2eeedf" stroke="#222" stroke-width="0.4" stroke-opacity="0.7"/>
<polygon points="159.18,364.34 162.42,362.23 158.91,361.42 155.67,363.8" fill="#35f0d6" stroke="#222" stroke-width="0.4" stroke-opacity="0.7"/>
<polygon points="165.96,362.67 169.17,360.33 165.64,359.63 162.42,362.23" fill="#3cf3cb" stroke="#222" stroke-width="0.4" stroke-opacity="0.7"/>
<polygon points="172.74,360.61 175.94,358.04 172.38,357.51 169.17,360.33" fill="#44f4b7" stroke="#222" stroke-width="0.4" stroke-opacity="0.7"/>
<polygon points="179.52,358.11 182.71,355.35 179.13,354.99 175.94,358.04" fill="#4cf49d" stroke="#222" stroke-width="0.4" stroke-opacity="0.7"/>
<polygon points="80.77,365.86 84.41,368.52 81.19,368.92 77.54,366.69" fill="#007474" stroke="#222" stroke-width="0.4" stroke-opacity="0.7"/>
<polygon points="87.67,367.93 91.26,369.98 88.01,370.25 84.41,368.52" fill="#00717b" stroke="#222" stroke-width="0.4" stroke-opacity="0.7"/>
<polygon points="94.54,369.5 98.09,370.9 94.82,371.12 91.26,369.98" fill="#00697b" stroke="#222" stroke-width="0.4" stroke-opacity="0.7"/>
<polygon points="101.39,370.46 104.9,371.25 101.6,371.44 98.09,370.9" fill="#00667c" stroke="#222" stroke-width="0.4" stroke-opacity="0.7"/>
<polygon points="108.24,370.86 111.71,371.1 108.38,371.24 104.9,371.25" fill="#00657c" stroke="#222" stroke-width="0.4" stroke-opacity="0.7"/>
<polygon points="115.07,370.79 118.5,370.59 115.14,370.63 111.71,371.1" fill="#04b1d4" stroke="#222" stroke-width="0.4" stroke-opacity="0.7"/>
<polygon points="121.89,370.39 125.29,369.83 121.91,369.74 118.5,370.59" fill="#08c1dd" stroke="#222" stroke-width="0.4" stroke-opacity="0.7"/>
<polygon points="128.71,369.76 132.08,368.93 128.66,368.69 125.29,369.83" fill="#0dd2e5" stroke="#222" stroke-width="0.4" stroke-opacity="0.7"/>
<polygon points="135.52,369 138.86,367.94 135.42,367.56 132.08,368.93" fill="#12dee7" stroke="#222" stroke-width="0.4" stroke-opacity="0.7"/>
<polygon points="142.33,368.13 145.64,366.89 142.17,366.39 138.86,367.94" fill="#17e5e4" stroke="#222" stroke-width="0.4" stroke-opacity="0.7"/>
<polygon points="149.13,367.15 152.41,365.71 148.92,365.15 145.64,366.89" fill="#1debe0" stroke="#222" stroke-width="0.4" stroke-opacity="0.7"/>
<polygon points="155.93,365.98 159.18,364.34 155.67,363.8 152.41,365.71" fill="#22eed7" stroke="#222" stroke-width="0.4" stroke-opacity="0.7"/>
<polygon points="162.73,364.53 165.96,362.67 162.42,362.23 159.18,364.34" fill="#28f0cd" stroke="#222" stroke-width="0.4" stroke-opacity="0.7"/>
<polygon points="169.53,362.69 172.74,360.61 169.17,360.33 165.96,362.67" fill="#2ff3be" stroke="#222" stroke-width="0.4" stroke-opacity="0.7"/>
<polygon points="176.33,360.4 179.52,358.11 175.94,358.04 172.74,360.61" fill="#37f3a4" stroke="#222" stroke-width="0.4" stroke-opacity="0.7"/>
<polygon points="84.04,364.91 87.67,367.93 84.41,368.52 80.77,365.86" fill="#00756b" stroke="#222" stroke-width="0.4" stroke-opacity="0.7"/>
<polygon points="90.96,367.17 94.54,369.5 91.26,369.98 87.67,367.93" fill="#007473" stroke="#222" stroke-width="0.4" stroke-opacity="0.7"/>
<polygon points="97.86,368.82 101.39,370.46 98.09,370.9 94.54,369.5" fill="#007379" stroke="#222" stroke-width="0.4" stroke-opacity="0.7"/>
<polygon points="104.74,369.83 108.24,370.86 104.9,371.25 101.39,370.46" fill="#00707b" stroke="#222" stroke-width="0.4" stroke-opacity="0.7"/>
<polygon points="111.61,370.29 115.07,370.79 111.71,371.1 108.24,370.86" fill="#006f7b" stroke="#222" stroke-width="0.4" stroke-opacity="0.7"/>
<polygon points="118.47,370.31 121.89,370.39 118.5,370.59 115.07,370.79" fill="#00717b" stroke="#222" stroke-width="0.4" stroke-opacity="0.7"/>
<polygon points="125.32,370.02 128.71,369.76 125.29,369.83 121.89,370.39" fill="#05c7d2" stroke="#222" stroke-width="0.4" stroke-opacity="0.7"/>
<polygon points="132.16,369.52 135.52,369 132.08,368.93 128.71,369.76" fill="#08d0d5" stroke="#222" stroke-width="0.4" stroke-opacity="0.7"/>
<polygon points="139,368.88 142.33,368.13 138.86,367.94 135.52,369" fill="#0bd7d4" stroke="#222" stroke-width="0.4" stroke-opacity="0.7"/>
<polygon points="145.83,368.1 149.13,367.15 145.64,366.89 142.33,368.13" fill="#0fded2" stroke="#222" stroke-width="0.4" stroke-opacity="0.7"/>
<polygon points="152.66,367.14 155.93,365.98 152.41,365.71 149.13,367.15" fill="#14e4cf" stroke="#222" stroke-width="0.4" stroke-opacity="0.7"/>
<polygon points="159.48,365.91 162.73,364.53 159.18,364.34 155.93,365.98" fill="#18eac9" stroke="#222" stroke-width="0.4" stroke-opacity="0.7"/>
<polygon points="166.3,364.3 169.53,362.69 165.96,362.67 162.73,364.53" fill="#1df0bf" stroke="#222" stroke-width="0.4" stroke-opacity="0.7"/>
<polygon points="173.13,362.23 176.33,360.4 172.74,360.61 169.53,362.69" fill="#24f2a8" stroke="#222" stroke-width="0.4" stroke-opacity="0.7"/>
<polygon points="87.35,363.84 90.96,367.17 87.67,367.93 84.04,364.91" fill="#007761" stroke="#222" stroke-width="0.4" stroke-opacity="0.7"/>
<polygon points="94.29,366.25 97.86,368.82 94.54,369.5 90.96,367.17" fill="#00766a" stroke="#222" stroke-width="0.4" stroke-opacity="0.7"/>
<polygon points="101.21,367.97 104.74,369.83 101.39,370.46 97.86,368.82" fill="#007570" stroke="#222" stroke-width="0.4" stroke-opacity="0.7"/>
<polygon points="108.11,369.03 111.61,370.29 108.24,370.86 104.74,369.83" fill="#007473" stroke="#222" stroke-width="0.4" stroke-opacity="0.7"/>
<polygon points="115.01,369.55 118.47,370.31 115.07,370.79 111.61,370.29" fill="#007474" stroke="#222" stroke-width="0.4" stroke-opacity="0.7"/>
<polygon points="121.9,369.66 125.32,370.02 121.89,370.39 118.47,370.31" fill="#007474" stroke="#222" stroke-width="0.4" stroke-opacity="0.7"/>
<polygon points="128.77,369.48 132.16,369.52 128.71,369.76 125.32,370.02" fill="#007472" stroke="#222" stroke-width="0.4" stroke-opacity="0.7"/>
<polygon points="135.64,369.1 139,368.88 135.52,369 132.16,369.52" fill="#04c9c0" stroke="#222" stroke-width="0.4" stroke-opacity="0.7"/>
<polygon points="142.51,368.55 145.83,368.1 142.33,368.13 139,368.88" fill="#07d0c1" stroke="#222" stroke-width="0.4" stroke-opacity="0.7"/>
<polygon points="149.36,367.81 152.66,367.14 149.13,367.15 145.83,368.1" fill="#0ad7bf" stroke="#222" stroke-width="0.4" stroke-opacity="0.7"/>
<polygon points="156.21,366.81 159.48,365.91 155.93,365.98 152.66,367.14" fill="#0dddbb" stroke="#222" stroke-width="0.4" stroke-opacity="0.7"/>
<polygon points="163.06,365.44 166.3,364.3 162.73,364.53 159.48,365.91" fill="#10e4b4" stroke="#222" stroke-width="0.4" stroke-opacity="0.7"/>
<polygon points="169.91,363.6 173.13,362.23 169.53,362.69 166.3,364.3" fill="#16e8a2" stroke="#222" stroke-width="0.4" stroke-opacity="0.7"/>
<polygon points="90.7,362.67 94.29,366.25 90.96,367.17 87.35,363.84" fill="#017853" stroke="#222" stroke-width="0.4" stroke-opacity="0.7"/>
<polygon points="97.66,365.18 101.21,367.97 97.86,368.82 94.29,366.25" fill="#007760" stroke="#222" stroke-width="0.4" stroke-opacity="0.7"/>
<polygon points="104.6,366.95 108.11,369.03 104.74,369.83 101.21,367.97" fill="#007666" stroke="#222" stroke-width="0.4" stroke-opacity="0.7"/>
<polygon points="111.53,368.06 115.01,369.55 111.61,370.29 108.11,369.03" fill="#00766a" stroke="#222" stroke-width="0.4" stroke-opacity="0.7"/>
<polygon points="118.45,368.65 121.9,369.66 118.47,370.31 115.01,369.55" fill="#00756b" stroke="#222" stroke-width="0.4" stroke-opacity="0.7"/>
<polygon points="125.36,368.86 128.77,369.48 125.32,370.02 121.9,369.66" fill="#00756b" stroke="#222" stroke-width="0.4" stroke-opacity="0.7"/>
<polygon points="132.26,368.78 135.64,369.1 132.16,369.52 128.77,369.48" fill="#007669" stroke="#222" stroke-width="0.4" stroke-opacity="0.7"/>
<polygon points="139.16,368.49 142.51,368.55 139,368.88 135.64,369.1" fill="#007667" stroke="#222" stroke-width="0.4" stroke-opacity="0.7"/>
<polygon points="146.04,367.99 149.36,367.81 145.83,368.1 142.51,368.55" fill="#007664" stroke="#222" stroke-width="0.4" stroke-opacity="0.7"/>
<polygon points="152.92,367.23 156.21,366.81 152.66,367.14 149.36,367.81" fill="#06d1ab" stroke="#222" stroke-width="0.4" stroke-opacity="0.7"/>
<polygon points="159.8,366.12 163.06,365.44 159.48,365.91 156.21,366.81" fill="#08d8a6" stroke="#222" stroke-width="0.4" stroke-opacity="0.7"/>
<polygon points="166.67,364.53 169.91,363.6 166.3,364.3 163.06,365.44" fill="#0ddc96" stroke="#222" stroke-width="0.4" stroke-opacity="0.7"/>
<polygon points="94.09,361.42 97.66,365.18 94.29,366.25 90.7,362.67" fill="#037841" stroke="#222" stroke-width="0.4" stroke-opacity="0.7"/>
<polygon points="101.06,363.99 104.6,366.95 101.21,367.97 97.66,365.18" fill="#017851" stroke="#222" stroke-width="0.4" stroke-opacity="0.7"/>
<polygon points="108.02,365.79 111.53,368.06 108.11,369.03 104.6,366.95" fill="#00785b" stroke="#222" stroke-width="0.4" stroke-opacity="0.7"/>
<polygon points="114.97,366.95 118.45,368.65 115.01,369.55 111.53,368.06" fill="#00775f" stroke="#222" stroke-width="0.4" stroke-opacity="0.7"/>
<polygon points="121.92,367.61 125.36,368.86 121.9,369.66 118.45,368.65" fill="#007761" stroke="#222" stroke-width="0.4" stroke-opacity="0.7"/>
<polygon points="128.85,367.9 132.26,368.78 128.77,369.48 125.36,368.86" fill="#007761" stroke="#222" stroke-width="0.4" stroke-opacity="0.7"/>
<polygon points="135.78,367.91 139.16,368.49 135.64,369.1 132.26,368.78" fill="#007760" stroke="#222" stroke-width="0.4" stroke-opacity="0.7"/>
<polygon points="142.7,367.68 146.04,367.99 142.51,368.55 139.16,368.49" fill="#00775f" stroke="#222" stroke-width="0.4" stroke-opacity="0.7"/>
<polygon points="149.61,367.18 152.92,367.23 149.36,367.81 146.04,367.99" fill="#00785c" stroke="#222" stroke-width="0.4" stroke-opacity="0.7"/>
<polygon points="156.51,366.33 159.8,366.12 156.21,366.81 152.92,367.23" fill="#017856" stroke="#222" stroke-width="0.4" stroke-opacity="0.7"/>
<polygon points="163.41,365.03 166.67,364.53 163.06,365.44 159.8,366.12" fill="#02784c" stroke="#222" stroke-width="0.4" stroke-opacity="0.7"/>
<polygon points="97.51,360.09 101.06,363.99 97.66,365.18 94.09,361.42" fill="#05782e" stroke="#222" stroke-width="0.4" stroke-opacity="0.7"/>
<polygon points="104.5,362.69 108.02,365.79 104.6,366.95 101.06,363.99" fill="#03783e" stroke="#222" stroke-width="0.4" stroke-opacity="0.7"/>
<polygon points="111.48,364.52 114.97,366.95 111.53,368.06 108.02,365.79" fill="#027849" stroke="#222" stroke-width="0.4" stroke-opacity="0.7"/>
<polygon points="118.45,365.72 121.92,367.61 118.45,368.65 114.97,366.95" fill="#017850" stroke="#222" stroke-width="0.4" stroke-opacity="0.7"/>
<polygon points="125.42,366.44 128.85,367.9 125.36,368.86 121.92,367.61" fill="#017854" stroke="#222" stroke-width="0.4" stroke-opacity="0.7"/>
<polygon points="132.37,366.8 135.78,367.91 132.26,368.78 128.85,367.9" fill="#017855" stroke="#222" stroke-width="0.4" stroke-opacity="0.7"/>
<polygon points="139.32,366.87 142.7,367.68 139.16,368.49 135.78,367.91" fill="#017854" stroke="#222" stroke-width="0.4" stroke-opacity="0.7"/>
<polygon points="146.26,366.65 149.61,367.18 146.04,367.99 142.7,367.68" fill="#017851" stroke="#222" stroke-width="0.4" stroke-opacity="0.7"/>
<polygon points="153.19,366.09 156.51,366.33 152.92,367.23 149.61,367.18" fill="#02784c" stroke="#222" stroke-width="0.4" stroke-opacity="0.7"/>
<polygon points="160.12,365.08 163.41,365.03 159.8,366.12 156.51,366.33" fill="#037845" stroke="#222" stroke-width="0.4" stroke-opacity="0.7"/>
<polygon points="100.97,358.7 104.5,362.69 101.06,363.99 97.51,360.09" fill="#08781b" stroke="#222" stroke-width="0.4" stroke-opacity="0.7"/>
<polygon points="107.97,361.3 111.48,364.52 108.02,365.79 104.5,362.69" fill="#06782b" stroke="#222" stroke-width="0.4" stroke-opacity="0.7"/>
<polygon points="114.97,363.13 118.45,365.72 114.97,366.95 111.48,364.52" fill="#047836" stroke="#222" stroke-width="0.4" stroke-opacity="0.7"/>
<polygon points="121.96,364.37 125.42,366.44 121.92,367.61 118.45,365.72" fill="#04783d" stroke="#222" stroke-width="0.4" stroke-opacity="0.7"/>
<polygon points="128.94,365.15 132.37,366.8 128.85,367.9 125.42,366.44" fill="#037841" stroke="#222" stroke-width="0.4" stroke-opacity="0.7"/>
<polygon points="135.92,365.56 139.32,366.87 135.78,367.91 132.37,366.8" fill="#037843" stroke="#222" stroke-width="0.4" stroke-opacity="0.7"/>
<polygon points="142.89,365.66 146.26,366.65 142.7,367.68 139.32,366.87" fill="#037842" stroke="#222" stroke-width="0.4" stroke-opacity="0.7"/>
<polygon points="149.85,365.4 153.19,366.09 149.61,367.18 146.26,366.65" fill="#037840" stroke="#222" stroke-width="0.4" stroke-opacity="0.7"/>
<polygon points="156.8,364.71 160.12,365.08 156.51,366.33 153.19,366.09" fill="#04783a" stroke="#222" stroke-width="0.4" stroke-opacity="0.7"/>
<polygon points="104.45,357.26 107.97,361.3 104.5,362.69 100.97,358.7" fill="#0c780a" stroke="#222" stroke-width="0.4" stroke-opacity="0.7"/>
<polygon points="111.47,359.84 114.97,363.13 111.48,364.52 107.97,361.3" fill="#087817" stroke="#222" stroke-width="0.4" stroke-opacity="0.7"/>
<polygon points="118.48,361.67 121.96,364.37 118.45,365.72 114.97,363.13" fill="#077822" stroke="#222" stroke-width="0.4" stroke-opacity="0.7"/>
<polygon points="125.49,362.93 128.94,365.15 125.42,366.44 121.96,364.37" fill="#06782a" stroke="#222" stroke-width="0.4" stroke-opacity="0.7"/>
<polygon points="132.5,363.75 135.92,365.56 132.37,366.8 128.94,365.15" fill="#05782e" stroke="#222" stroke-width="0.4" stroke-opacity="0.7"/>
<polygon points="139.49,364.19 142.89,365.66 139.32,366.87 135.92,365.56" fill="#057830" stroke="#222" stroke-width="0.4" stroke-opacity="0.7"/>
<polygon points="146.48,364.27 149.85,365.4 146.26,366.65 142.89,365.66" fill="#057830" stroke="#222" stroke-width="0.4" stroke-opacity="0.7"/>
<polygon points="153.46,363.92 156.8,364.71 153.19,366.09 149.85,365.4" fill="#06782c" stroke="#222" stroke-width="0.4" stroke-opacity="0.7"/>
<polygon points="107.96,355.78 111.47,359.84 107.97,361.3 104.45,357.26" fill="#1e7806" stroke="#222" stroke-width="0.4" stroke-opacity="0.7"/>
<polygon points="114.99,358.32 118.48,361.67 114.97,363.13 111.47,359.84" fill="#107809" stroke="#222" stroke-width="0.4" stroke-opacity="0.7"/>
<polygon points="122.02,360.14 125.49,362.93 121.96,364.37 118.48,361.67" fill="#09780e" stroke="#222" stroke-width="0.4" stroke-opacity="0.7"/>
<polygon points="129.05,361.42 132.5,363.75 128.94,365.15 125.49,362.93" fill="#097816" stroke="#222" stroke-width="0.4" stroke-opacity="0.7"/>
<polygon points="136.07,362.26 139.49,364.19 135.92,365.56 132.5,363.75" fill="#08781a" stroke="#222" stroke-width="0.4" stroke-opacity="0.7"/>
<polygon points="143.09,362.7 146.48,364.27 142.89,365.66 139.49,364.19" fill="#08781c" stroke="#222" stroke-width="0.4" stroke-opacity="0.7"/>
<polygon points="150.09,362.71 153.46,363.92 149.85,365.4 146.48,364.27" fill="#08781c" stroke="#222" stroke-width="0.4" stroke-opacity="0.7"/>
<polygon points="111.5,354.29 114.99,358.32 111.47,359.84 107.96,355.78" fill="#2f7803" stroke="#222" stroke-width="0.4" stroke-opacity="0.7"/>
<polygon points="118.54,356.77 122.02,360.14 118.48,361.67 114.99,358.32" fill="#217806" stroke="#222" stroke-width="0.4" stroke-opacity="0.7"/>
<polygon points="125.59,358.57 129.05,361.42 125.49,362.93 122.02,360.14" fill="#187807" stroke="#222" stroke-width="0.4" stroke-opacity="0.7"/>
<polygon points="132.63,359.85 136.07,362.26 132.5,363.75 129.05,361.42" fill="#117809" stroke="#222" stroke-width="0.4" stroke-opacity="0.7"/>
<polygon points="139.67,360.69 143.09,362.7 139.49,364.19 136.07,362.26" fill="#0d7809" stroke="#222" stroke-width="0.4" stroke-opacity="0.7"/>
<polygon points="146.7,361.09 150.09,362.71 146.48,364.27 143.09,362.7" fill="#0c780a" stroke="#222" stroke-width="0.4" stroke-opacity="0.7"/>
<polygon points="115.05,352.79 118.54,356.77 114.99,358.32 111.5,354.29" fill="#407800" stroke="#222" stroke-width="0.4" stroke-opacity="0.7"/>
<polygon points="122.11,355.2 125.59,358.57 122.02,360.14 118.54,356.77" fill="#337803" stroke="#222" stroke-width="0.4" stroke-opacity="0.7"/>
<polygon points="129.17,356.98 132.63,359.85 129.05,361.42 125.59,358.57" fill="#297804" stroke="#222" stroke-width="0.4" stroke-opacity="0.7"/>
<polygon points="136.23,358.26 139.67,360.69 136.07,362.26 132.63,359.85" fill="#237805" stroke="#222" stroke-width="0.4" stroke-opacity="0.7"/>
<polygon points="143.28,359.07 146.7,361.09 143.09,362.7 139.67,360.69" fill="#1f7806" stroke="#222" stroke-width="0.4" stroke-opacity="0.7"/>
<polygon points="118.63,351.3 122.11,355.2 118.54,356.77 115.05,352.79" fill="#537901" stroke="#222" stroke-width="0.4" stroke-opacity="0.7"/>
<polygon points="125.7,353.65 129.17,356.98 125.59,358.57 122.11,355.2" fill="#457800" stroke="#222" stroke-width="0.4" stroke-opacity="0.7"/>
<polygon points="132.77,355.4 136.23,358.26 132.63,359.85 129.17,356.98" fill="#3b7801" stroke="#222" stroke-width="0.4" stroke-opacity="0.7"/>
<polygon points="139.84,356.65 143.28,359.07 139.67,360.69 136.23,358.26" fill="#357802" stroke="#222" stroke-width="0.4" stroke-opacity="0.7"/>
<polygon points="122.22,349.84 125.7,353.65 122.11,355.2 118.63,351.3" fill="#667b03" stroke="#222" stroke-width="0.4" stroke-opacity="0.7"/>
<polygon points="129.3,352.12 132.77,355.4 129.17,356.98 125.7,353.65" fill="#587a02" stroke="#222" stroke-width="0.4" stroke-opacity="0.7"/>
<polygon points="136.38,353.84 139.84,356.65 136.23,358.26 132.77,355.4" fill="#4e7901" stroke="#222" stroke-width="0.4" stroke-opacity="0.7"/>
<polygon points="125.82,348.43 129.3,352.12 125.7,353.65 122.22,349.84" fill="#797c04" stroke="#222" stroke-width="0.4" stroke-opacity="0.7"/>
<polygon points="132.91,350.64 136.38,353.84 132.77,355.4 129.3,352.12" fill="#6b7b03" stroke="#222" stroke-width="0.4" stroke-opacity="0.7"/>
<polygon points="129.44,347.07 132.91,350.64 129.3,352.12 125.82,348.43" fill="#807203" stroke="#222" stroke-width="0.4" stroke-opacity="0.7"/>
<path d="M105.6,310.3V335" stroke="#333" stroke-width="0.45"/>
<rect x="95.8" y="305.8" width="9.8" height="4.5" fill="#fff" stroke="#999" stroke-width="0.4"/>
<text x="100.7" y="309.2" font-size="3.0" text-anchor="middle" fill="#666" textLength="7.8" lengthAdjust="spacingAndGlyphs">93.2408</text>
<text x="228.9" y="255.7" font-size="6.4" fill="#0c0c0c" stroke="#0c0c0c" stroke-width="0.12" textLength="52.9" lengthAdjust="spacingAndGlyphs">Factor Coding: Actual</text>
<text x="228.9" y="276.8" font-size="6.4" font-weight="bold" textLength="72.3" lengthAdjust="spacingAndGlyphs">% Cumulative Drug Release</text>
<linearGradient id="cbE"><stop offset="0" stop-color="#0000c8"/><stop offset="0.5" stop-color="#00ff00"/><stop offset="1" stop-color="#e80000"/></linearGradient>
<rect x="244.1" y="280.2" width="20.6" height="9.1" fill="url(#cbE)" stroke="#555" stroke-width="0.3"/>
<text x="228.9" y="287.6" font-size="6.4" fill="#3030ff" stroke="#3030ff" stroke-width="0.12" textLength="10.2" lengthAdjust="spacingAndGlyphs">64.9</text>
<text x="228.9" y="308.9" font-size="6.4" fill="#0c0c0c" stroke="#0c0c0c" stroke-width="0.12" textLength="16.9" lengthAdjust="spacingAndGlyphs">X1 = A</text>
<text x="228.9" y="319.3" font-size="6.4" fill="#0c0c0c" stroke="#0c0c0c" stroke-width="0.12" textLength="16.5" lengthAdjust="spacingAndGlyphs">X2 = B</text>
<text x="228.9" y="340.9" font-size="6.4" font-weight="bold" textLength="34.8" lengthAdjust="spacingAndGlyphs">Actual Factor</text>
<text x="228.9" y="351" font-size="6.4" fill="#0c0c0c" stroke="#0c0c0c" stroke-width="0.12" textLength="29.3" lengthAdjust="spacingAndGlyphs">C = 29.8468</text>
<text x="355.7" y="257.9" font-size="4.6" fill="#0c0c0c" textLength="20.2" lengthAdjust="spacingAndGlyphs">3D Surface</text>
<path d="M288.54,381.67L285.5,303.4M419.8,381.69L423.3,303.5M300.47,377.01L297.32,300.31M408.06,377.07L411.72,300.45M311.98,372.53L309.01,297.25M396.67,372.61L400.19,297.4M323.1,368.21L320.57,294.23M385.62,368.29L388.7,294.37M333.86,364.04L332,291.23M374.9,364.11L377.26,291.35M344.27,360.02L343.31,288.28M364.48,360.06L365.86,288.35M354.35,356.13L354.5,285.35M354.35,356.13L354.5,285.35M288.54,381.67L354.35,356.13L419.8,381.69M288.11,370.49L354.37,346.02L420.3,370.52M287.67,359.31L354.39,335.91L420.8,359.35M287.24,348.12L354.41,325.8L421.3,348.18M286.8,336.94L354.43,315.69L421.8,337.01M286.37,325.76L354.46,305.57L422.3,325.84M285.93,314.58L354.48,295.46L422.8,314.67M285.5,303.4L354.5,285.35L423.3,303.5" stroke="#4a4a4a" stroke-width="0.5" fill="none"/>
<path d="M289.5,406.4L285.5,303.4M354.3,378.5L354.5,285.35M418.7,406.4L423.3,303.5" stroke="#666" stroke-width="0.5" fill="none"/>
<circle cx="288.54" cy="381.67" r="0.6" fill="#111"/>
<text x="286.24" y="381.07" font-size="5.0" text-anchor="end" fill="#0c0c0c" textLength="4.4" lengthAdjust="spacingAndGlyphs">62</text>
<circle cx="288.11" cy="370.49" r="0.6" fill="#111"/>
<text x="285.81" y="369.89" font-size="5.0" text-anchor="end" fill="#0c0c0c" textLength="4.4" lengthAdjust="spacingAndGlyphs">64</text>
<circle cx="287.67" cy="359.31" r="0.6" fill="#111"/>
<text x="285.37" y="358.71" font-size="5.0" text-anchor="end" fill="#0c0c0c" textLength="4.4" lengthAdjust="spacingAndGlyphs">66</text>
<circle cx="287.24" cy="348.12" r="0.6" fill="#111"/>
<text x="284.94" y="347.52" font-size="5.0" text-anchor="end" fill="#0c0c0c" textLength="4.4" lengthAdjust="spacingAndGlyphs">68</text>
<circle cx="286.8" cy="336.94" r="0.6" fill="#111"/>
<text x="284.5" y="336.34" font-size="5.0" text-anchor="end" fill="#0c0c0c" textLength="4.4" lengthAdjust="spacingAndGlyphs">70</text>
<circle cx="286.37" cy="325.76" r="0.6" fill="#111"/>
<text x="284.07" y="325.16" font-size="5.0" text-anchor="end" fill="#0c0c0c" textLength="4.4" lengthAdjust="spacingAndGlyphs">72</text>
<circle cx="285.93" cy="314.58" r="0.6" fill="#111"/>
<text x="283.63" y="313.98" font-size="5.0" text-anchor="end" fill="#0c0c0c" textLength="4.4" lengthAdjust="spacingAndGlyphs">74</text>
<circle cx="285.5" cy="303.4" r="0.6" fill="#111"/>
<text x="283.2" y="302.8" font-size="5.0" text-anchor="end" fill="#0c0c0c" textLength="4.4" lengthAdjust="spacingAndGlyphs">76</text>
<text x="264.5" y="356.5" font-size="3.3" text-anchor="middle" fill="#444" textLength="39" lengthAdjust="spacingAndGlyphs" transform="rotate(-90 264.5 356.5)">% Cumulative Drug Release</text>
<polygon points="354.5,442.4 418.7,406.4 354.3,378.5 289.5,406.4" fill="#666" stroke="#1a1a1a" stroke-width="0.7" stroke-linejoin="round"/>
<polyline points="295.07,404 295.47,404.45 295.86,404.9 296.2,405.32 296.23,405.36 296.6,405.83 296.96,406.3 297.23,406.67 297.31,406.78 297.65,407.27 297.98,407.76 298.08,407.93 298.29,408.26 298.6,408.77 298.79,409.12 298.89,409.29 299.17,409.82 299.38,410.25 299.44,410.35 299.69,410.9 299.88,411.33 299.93,411.45 300.15,412.01 300.28,412.37" fill="none" stroke="#2020c0" stroke-width="1.15"/>
<polyline points="301.16,401.38 301.63,401.79 302.1,402.2 302.45,402.53 302.55,402.62 303,403.04 303.45,403.47 303.88,403.91 304.15,404.19 304.3,404.35 304.72,404.8 305.13,405.25 305.49,405.67 305.53,405.71 305.92,406.18 306.29,406.65 306.58,407.02 306.66,407.13 307.02,407.62 307.36,408.12 307.48,408.28 307.7,408.62 308.02,409.13 308.22,409.47 308.33,409.65 308.62,410.18 308.84,410.59 308.9,410.72 309.17,411.27 309.35,411.67 309.42,411.82 309.65,412.39 309.77,412.7 309.87,412.97 310.07,413.56 310.11,413.69 310.25,414.16 310.38,414.65 310.41,414.78 310.55,415.4 310.58,415.59 310.67,416.04 310.74,416.49 310.76,416.7 310.84,417.37 310.84,417.38 310.88,418.05 310.89,418.25" fill="none" stroke="#2050d0" stroke-width="1.15"/>
<polyline points="307.69,398.57 308.06,398.82 308.24,398.94 308.78,399.31 309.32,399.68 309.85,400.07 310.38,400.45 310.89,400.84 311.41,401.24 311.55,401.35 311.91,401.64 312.41,402.04 312.91,402.45 313.39,402.86 313.87,403.28 313.89,403.3 314.34,403.71 314.81,404.14 315.26,404.58 315.64,404.96 315.71,405.02 316.14,405.47 316.57,405.93 316.99,406.39 317.02,406.43 317.4,406.86 317.79,407.34 318.14,407.77 318.18,407.82 318.55,408.32 318.91,408.82 319.05,409.01 319.26,409.33 319.6,409.85 319.8,410.18 319.92,410.37 320.22,410.91 320.42,411.28 320.51,411.46 320.78,412.02 320.92,412.33 321.04,412.59 321.27,413.17 321.33,413.34 321.49,413.77 321.66,414.3 321.68,414.38 321.86,415 321.91,415.23 322.01,415.64 322.1,416.14 322.13,416.29 322.22,416.96 322.23,417.02 322.29,417.64 322.31,417.87 322.33,418.35 322.34,418.71 322.34,419.07 322.32,419.52 322.31,419.82 322.27,420.32 322.24,420.58 322.18,421.11 322.14,421.37 322.05,421.88 321.99,422.19 321.9,422.64 321.8,423.03 321.71,423.38 321.57,423.9 321.5,424.12" fill="none" stroke="#20b0d0" stroke-width="1.15"/>
<polyline points="315.41,395.24 316.04,395.57 316.67,395.89 317.29,396.22 317.91,396.56 318.53,396.89 319.15,397.23 319.76,397.57 320.36,397.92 320.97,398.27 321.04,398.31 321.57,398.62 322.16,398.98 322.75,399.34 323.34,399.7 323.92,400.07 324.5,400.44 325.08,400.81 325.64,401.19 326.21,401.57 326.43,401.73 326.77,401.96 327.32,402.35 327.87,402.75 328.41,403.15 328.94,403.56 329.47,403.97 329.5,403.99 329.99,404.39 330.5,404.81 331.01,405.24 331.51,405.67 331.66,405.81 332,406.11 332.48,406.56 332.95,407.02 333.3,407.38 333.4,407.48 333.85,407.95 334.29,408.42 334.59,408.77 334.72,408.91 335.13,409.41 335.52,409.91 335.62,410.04 335.91,410.42 336.27,410.95 336.44,411.21 336.62,411.49 336.95,412.03 337.1,412.3 337.26,412.59 337.55,413.17 337.62,413.33 337.81,413.76 338.03,414.3 338.05,414.36 338.26,414.98 338.33,415.23 338.44,415.62 338.56,416.12 338.59,416.28 338.7,416.97 338.7,416.98 338.77,417.67 338.78,417.81 338.8,418.4 338.8,418.61 338.79,419.16 338.77,419.39 338.72,419.95 338.69,420.14 338.59,420.77 338.57,420.88 338.4,421.61 338.4,421.63 338.21,422.32 338.14,422.52 337.97,423.01 337.8,423.47 337.71,423.69 337.42,424.36 337.37,424.46 337.1,425.03 336.85,425.51 336.76,425.68 336.39,426.32 336.22,426.62 336.01,426.96 335.6,427.59 335.47,427.8 335.18,428.22 334.74,428.84 334.58,429.05 334.28,429.45 333.8,430.06 333.54,430.39 333.32,430.67" fill="none" stroke="#30c030" stroke-width="1.15"/>
<polyline points="380.15,428.02 378.83,427.89 378.3,427.86 377.4,427.82 376.67,427.82 375.82,427.84 375.21,427.87 374.05,427.96 373.86,427.98 372.6,428.13 372.03,428.22 371.41,428.32 370.27,428.54 369.65,428.67 369.17,428.78 368.11,429.04 367.08,429.32 366.73,429.41 366.07,429.61 365.09,429.91 364.12,430.23 363.16,430.55 362.95,430.63 362.22,430.89 361.3,431.23 360.38,431.59 359.47,431.94 358.57,432.31 357.68,432.68 357.38,432.81 356.79,433.06 355.91,433.44 355.04,433.83 354.17,434.22 353.31,434.62 352.44,435.03 351.59,435.43 350.73,435.84 349.88,436.26 349.03,436.68 348.18,437.11 347.34,437.53 346.49,437.96" fill="none" stroke="#60d020" stroke-width="1.15"/>
<polyline points="407.06,412.92 405.79,412.84 405.76,412.83 404.43,412.76 404.13,412.75 403.07,412.71 402.53,412.68 401.69,412.66 400.98,412.64 400.28,412.63 399.47,412.62 398.84,412.62 397.99,412.61 397.39,412.62 396.53,412.62 395.91,412.62 395.09,412.63 394.43,412.63 393.65,412.64 392.94,412.65 392.21,412.65 391.46,412.66 390.76,412.66 390,412.66 389.28,412.65 388.56,412.65 387.76,412.63 387.15,412.62 386.19,412.58 385.78,412.56 384.54,412.49 384.46,412.49 383.19,412.39 382.76,412.35 381.96,412.26 380.82,412.12 380.78,412.11 379.64,411.95 378.61,411.77 378.54,411.75 377.48,411.55 376.45,411.32 376,411.22 375.44,411.09 374.47,410.84 373.52,410.58 372.68,410.33 372.59,410.31 371.67,410.03 370.78,409.74 369.9,409.45 369.03,409.16 368.17,408.86 368.03,408.81 367.33,408.55 366.49,408.25 365.67,407.94 364.85,407.63 364.03,407.31 363.23,407 362.43,406.68 361.64,406.36 360.85,406.04 360.68,405.98 360.06,405.73 359.28,405.41 358.51,405.09 357.74,404.77 356.97,404.45 356.2,404.13 355.44,403.81 354.68,403.49 353.93,403.17 353.17,402.85 352.42,402.54 351.67,402.22 350.92,401.9 350.18,401.59 349.71,401.39 349.43,401.28 348.69,400.96 347.95,400.65 347.21,400.34 346.47,400.03 345.74,399.72 345,399.41 344.27,399.1 343.54,398.79 342.8,398.49 342.07,398.18 341.34,397.88 340.61,397.58 339.88,397.28 339.16,396.98 339.08,396.95 338.43,396.68 337.7,396.38 336.98,396.09 336.25,395.79 335.53,395.5 334.8,395.21 334.08,394.91 333.35,394.63 332.63,394.34 331.91,394.05 331.18,393.77 330.84,393.63 330.46,393.48 329.73,393.2 329.01,392.92 328.29,392.64 327.56,392.36 326.84,392.08 326.11,391.81 325.38,391.53 324.66,391.26" fill="none" stroke="#60d020" stroke-width="1.15"/>
<text x="349" y="447.8" font-size="5.2" text-anchor="middle" fill="#0c0c0c" textLength="6.6" lengthAdjust="spacingAndGlyphs">160</text>
<text x="360.4" y="447.8" font-size="5.2" text-anchor="middle" fill="#0c0c0c" textLength="6.6" lengthAdjust="spacingAndGlyphs">200</text>
<text x="336.93" y="441.12" font-size="5.2" text-anchor="middle" fill="#0c0c0c" textLength="6.6" lengthAdjust="spacingAndGlyphs">240</text>
<text x="372.41" y="441.07" font-size="5.2" text-anchor="middle" fill="#0c0c0c" textLength="6.6" lengthAdjust="spacingAndGlyphs">300</text>
<text x="325.4" y="434.73" font-size="5.2" text-anchor="middle" fill="#0c0c0c" textLength="6.6" lengthAdjust="spacingAndGlyphs">320</text>
<text x="383.84" y="434.66" font-size="5.2" text-anchor="middle" fill="#0c0c0c" textLength="6.6" lengthAdjust="spacingAndGlyphs">400</text>
<text x="314.37" y="428.62" font-size="5.2" text-anchor="middle" fill="#0c0c0c" textLength="6.6" lengthAdjust="spacingAndGlyphs">400</text>
<text x="394.74" y="428.54" font-size="5.2" text-anchor="middle" fill="#0c0c0c" textLength="6.6" lengthAdjust="spacingAndGlyphs">500</text>
<text x="303.82" y="422.78" font-size="5.2" text-anchor="middle" fill="#0c0c0c" textLength="6.6" lengthAdjust="spacingAndGlyphs">480</text>
<text x="405.15" y="422.71" font-size="5.2" text-anchor="middle" fill="#0c0c0c" textLength="6.6" lengthAdjust="spacingAndGlyphs">600</text>
<text x="293.7" y="417.17" font-size="5.2" text-anchor="middle" fill="#0c0c0c" textLength="6.6" lengthAdjust="spacingAndGlyphs">560</text>
<text x="415.09" y="417.13" font-size="5.2" text-anchor="middle" fill="#0c0c0c" textLength="6.6" lengthAdjust="spacingAndGlyphs">700</text>
<text x="284" y="411.8" font-size="5.2" text-anchor="middle" fill="#0c0c0c" textLength="6.6" lengthAdjust="spacingAndGlyphs">640</text>
<text x="424.6" y="411.8" font-size="5.2" text-anchor="middle" fill="#0c0c0c" textLength="6.6" lengthAdjust="spacingAndGlyphs">800</text>
<text x="297.3" y="437.8" font-size="3.3" text-anchor="middle" fill="#333" textLength="23.7" lengthAdjust="spacingAndGlyphs">B: Cholesterol (mg)</text>
<text x="411.8" y="438.3" font-size="3.3" text-anchor="middle" fill="#333" textLength="24.3" lengthAdjust="spacingAndGlyphs">A: Soy lecithin (mg)</text>
<polygon points="354.52,304.32 357.77,303.85 354.46,302.92 351.2,303.25" fill="#dee714" stroke="#222" stroke-width="0.4" stroke-opacity="0.7"/>
<polygon points="351.25,305.15 354.52,304.32 351.2,303.25 347.93,303.95" fill="#eff21e" stroke="#222" stroke-width="0.4" stroke-opacity="0.7"/>
<polygon points="357.83,305.47 361.08,304.86 357.77,303.85 354.52,304.32" fill="#e1eb17" stroke="#222" stroke-width="0.4" stroke-opacity="0.7"/>
<polygon points="347.96,306.33 351.25,305.15 347.93,303.95 344.64,305.03" fill="#f7fa29" stroke="#222" stroke-width="0.4" stroke-opacity="0.7"/>
<polygon points="354.57,306.41 357.83,305.47 354.52,304.32 351.25,305.15" fill="#eff521" stroke="#222" stroke-width="0.4" stroke-opacity="0.7"/>
<polygon points="361.16,306.67 364.4,305.93 361.08,304.86 357.83,305.47" fill="#e3ef1a" stroke="#222" stroke-width="0.4" stroke-opacity="0.7"/>
<polygon points="344.67,307.87 347.96,306.33 344.64,305.03 341.34,306.49" fill="#f2fa35" stroke="#222" stroke-width="0.4" stroke-opacity="0.7"/>
<polygon points="351.29,307.68 354.57,306.41 351.25,305.15 347.96,306.33" fill="#f2fa2c" stroke="#222" stroke-width="0.4" stroke-opacity="0.7"/>
<polygon points="357.9,307.71 361.16,306.67 357.83,305.47 354.57,306.41" fill="#eef824" stroke="#222" stroke-width="0.4" stroke-opacity="0.7"/>
<polygon points="364.49,307.93 367.73,307.06 364.4,305.93 361.16,306.67" fill="#e3f21d" stroke="#222" stroke-width="0.4" stroke-opacity="0.7"/>
<polygon points="341.37,309.76 344.67,307.87 341.34,306.49 338.04,308.33" fill="#e9f942" stroke="#222" stroke-width="0.4" stroke-opacity="0.7"/>
<polygon points="347.99,309.28 351.29,307.68 347.96,306.33 344.67,307.87" fill="#ecf937" stroke="#222" stroke-width="0.4" stroke-opacity="0.7"/>
<polygon points="354.62,309.07 357.9,307.71 354.57,306.41 351.29,307.68" fill="#edf92e" stroke="#222" stroke-width="0.4" stroke-opacity="0.7"/>
<polygon points="361.23,309.07 364.49,307.93 361.16,306.67 357.9,307.71" fill="#ebf926" stroke="#222" stroke-width="0.4" stroke-opacity="0.7"/>
<polygon points="367.83,309.23 371.07,308.25 367.73,307.06 364.49,307.93" fill="#e2f521" stroke="#222" stroke-width="0.4" stroke-opacity="0.7"/>
<polygon points="338.06,312 341.37,309.76 338.04,308.33 334.74,310.54" fill="#dcf94e" stroke="#222" stroke-width="0.4" stroke-opacity="0.7"/>
<polygon points="344.69,311.21 347.99,309.28 344.67,307.87 341.37,309.76" fill="#e3f943" stroke="#222" stroke-width="0.4" stroke-opacity="0.7"/>
<polygon points="351.33,310.73 354.62,309.07 351.29,307.68 347.99,309.28" fill="#e6f939" stroke="#222" stroke-width="0.4" stroke-opacity="0.7"/>
<polygon points="357.96,310.5 361.23,309.07 357.9,307.71 354.62,309.07" fill="#e7f930" stroke="#222" stroke-width="0.4" stroke-opacity="0.7"/>
<polygon points="364.57,310.47 367.83,309.23 364.49,307.93 361.23,309.07" fill="#e5f929" stroke="#222" stroke-width="0.4" stroke-opacity="0.7"/>
<polygon points="371.17,310.59 374.41,309.49 371.07,308.25 367.83,309.23" fill="#e1f724" stroke="#222" stroke-width="0.4" stroke-opacity="0.7"/>
<polygon points="334.76,314.6 338.06,312 334.74,310.54 331.44,313.12" fill="#cdf85a" stroke="#222" stroke-width="0.4" stroke-opacity="0.7"/>
<polygon points="341.39,313.48 344.69,311.21 341.37,309.76 338.06,312" fill="#d6f84e" stroke="#222" stroke-width="0.4" stroke-opacity="0.7"/>
<polygon points="348.03,312.69 351.33,310.73 347.99,309.28 344.69,311.21" fill="#dcf843" stroke="#222" stroke-width="0.4" stroke-opacity="0.7"/>
<polygon points="354.67,312.2 357.96,310.5 354.62,309.07 351.33,310.73" fill="#e0f93a" stroke="#222" stroke-width="0.4" stroke-opacity="0.7"/>
<polygon points="361.3,311.96 364.57,310.47 361.23,309.07 357.96,310.5" fill="#e1f832" stroke="#222" stroke-width="0.4" stroke-opacity="0.7"/>
<polygon points="367.92,311.91 371.17,310.59 367.83,309.23 364.57,310.47" fill="#dff82b" stroke="#222" stroke-width="0.4" stroke-opacity="0.7"/>
<polygon points="374.52,311.98 377.76,310.77 374.41,309.49 371.17,310.59" fill="#dcf827" stroke="#222" stroke-width="0.4" stroke-opacity="0.7"/>
<polygon points="331.45,317.55 334.76,314.6 331.44,313.12 328.14,316.09" fill="#bcf764" stroke="#222" stroke-width="0.4" stroke-opacity="0.7"/>
<polygon points="338.08,316.07 341.39,313.48 338.06,312 334.76,314.6" fill="#c7f759" stroke="#222" stroke-width="0.4" stroke-opacity="0.7"/>
<polygon points="344.72,314.96 348.03,312.69 344.69,311.21 341.39,313.48" fill="#cff84e" stroke="#222" stroke-width="0.4" stroke-opacity="0.7"/>
<polygon points="351.37,314.19 354.67,312.2 351.33,310.73 348.03,312.69" fill="#d6f843" stroke="#222" stroke-width="0.4" stroke-opacity="0.7"/>
<polygon points="358.01,313.7 361.3,311.96 357.96,310.5 354.67,312.2" fill="#d9f83a" stroke="#222" stroke-width="0.4" stroke-opacity="0.7"/>
<polygon points="364.65,313.46 367.92,311.91 364.57,310.47 361.3,311.96" fill="#daf833" stroke="#222" stroke-width="0.4" stroke-opacity="0.7"/>
<polygon points="371.27,313.39 374.52,311.98 371.17,310.59 367.92,311.91" fill="#d9f82d" stroke="#222" stroke-width="0.4" stroke-opacity="0.7"/>
<polygon points="377.88,313.42 381.12,312.09 377.76,310.77 374.52,311.98" fill="#d7f82a" stroke="#222" stroke-width="0.4" stroke-opacity="0.7"/>
<polygon points="328.15,320.85 331.45,317.55 328.14,316.09 324.85,319.43" fill="#abf66f" stroke="#222" stroke-width="0.4" stroke-opacity="0.7"/>
<polygon points="334.77,318.99 338.08,316.07 334.76,314.6 331.45,317.55" fill="#b6f662" stroke="#222" stroke-width="0.4" stroke-opacity="0.7"/>
<polygon points="341.41,317.53 344.72,314.96 341.39,313.48 338.08,316.07" fill="#c1f757" stroke="#222" stroke-width="0.4" stroke-opacity="0.7"/>
<polygon points="348.06,316.45 351.37,314.19 348.03,312.69 344.72,314.96" fill="#c9f74d" stroke="#222" stroke-width="0.4" stroke-opacity="0.7"/>
<polygon points="354.71,315.7 358.01,313.7 354.67,312.2 351.37,314.19" fill="#cff743" stroke="#222" stroke-width="0.4" stroke-opacity="0.7"/>
<polygon points="361.36,315.23 364.65,313.46 361.3,311.96 358.01,313.7" fill="#d2f73b" stroke="#222" stroke-width="0.4" stroke-opacity="0.7"/>
<polygon points="368,314.99 371.27,313.39 367.92,311.91 364.65,313.46" fill="#d3f734" stroke="#222" stroke-width="0.4" stroke-opacity="0.7"/>
<polygon points="374.63,314.9 377.88,313.42 374.52,311.98 371.27,313.39" fill="#d2f72f" stroke="#222" stroke-width="0.4" stroke-opacity="0.7"/>
<polygon points="381.25,314.88 384.48,313.45 381.12,312.09 377.88,313.42" fill="#d1f72d" stroke="#222" stroke-width="0.4" stroke-opacity="0.7"/>
<polygon points="324.84,324.51 328.15,320.85 324.85,319.43 321.56,323.16" fill="#9af77b" stroke="#222" stroke-width="0.4" stroke-opacity="0.7"/>
<polygon points="331.45,322.23 334.77,318.99 331.45,317.55 328.15,320.85" fill="#a6f66e" stroke="#222" stroke-width="0.4" stroke-opacity="0.7"/>
<polygon points="338.09,320.4 341.41,317.53 338.08,316.07 334.77,318.99" fill="#b0f660" stroke="#222" stroke-width="0.4" stroke-opacity="0.7"/>
<polygon points="344.74,318.98 348.06,316.45 344.72,314.96 341.41,317.53" fill="#bbf655" stroke="#222" stroke-width="0.4" stroke-opacity="0.7"/>
<polygon points="351.4,317.94 354.71,315.7 351.37,314.19 348.06,316.45" fill="#c2f74b" stroke="#222" stroke-width="0.4" stroke-opacity="0.7"/>
<polygon points="358.06,317.23 361.36,315.23 358.01,313.7 354.71,315.7" fill="#c8f742" stroke="#222" stroke-width="0.4" stroke-opacity="0.7"/>
<polygon points="364.72,316.78 368,314.99 364.65,313.46 361.36,315.23" fill="#caf73a" stroke="#222" stroke-width="0.4" stroke-opacity="0.7"/>
<polygon points="371.37,316.55 374.63,314.9 371.27,313.39 368,314.99" fill="#cbf735" stroke="#222" stroke-width="0.4" stroke-opacity="0.7"/>
<polygon points="378,316.44 381.25,314.88 377.88,313.42 374.63,314.9" fill="#cbf731" stroke="#222" stroke-width="0.4" stroke-opacity="0.7"/>
<polygon points="384.62,316.38 387.85,314.85 384.48,313.45 381.25,314.88" fill="#ccf730" stroke="#222" stroke-width="0.4" stroke-opacity="0.7"/>
<polygon points="321.54,328.52 324.84,324.51 321.56,323.16 318.28,327.26" fill="#87f786" stroke="#222" stroke-width="0.4" stroke-opacity="0.7"/>
<polygon points="328.14,325.81 331.45,322.23 328.15,320.85 324.84,324.51" fill="#95f77a" stroke="#222" stroke-width="0.4" stroke-opacity="0.7"/>
<polygon points="334.77,323.58 338.09,320.4 334.77,318.99 331.45,322.23" fill="#a1f66c" stroke="#222" stroke-width="0.4" stroke-opacity="0.7"/>
<polygon points="341.42,321.8 344.74,318.98 341.41,317.53 338.09,320.4" fill="#abf65f" stroke="#222" stroke-width="0.4" stroke-opacity="0.7"/>
<polygon points="348.08,320.44 351.4,317.94 348.06,316.45 344.74,318.98" fill="#b4f653" stroke="#222" stroke-width="0.4" stroke-opacity="0.7"/>
<polygon points="354.76,319.44 358.06,317.23 354.71,315.7 351.4,317.94" fill="#bbf649" stroke="#222" stroke-width="0.4" stroke-opacity="0.7"/>
<polygon points="361.42,318.77 364.72,316.78 361.36,315.23 358.06,317.23" fill="#c0f641" stroke="#222" stroke-width="0.4" stroke-opacity="0.7"/>
<polygon points="368.09,318.36 371.37,316.55 368,314.99 364.72,316.78" fill="#c3f63a" stroke="#222" stroke-width="0.4" stroke-opacity="0.7"/>
<polygon points="374.74,318.13 378,316.44 374.63,314.9 371.37,316.55" fill="#c4f635" stroke="#222" stroke-width="0.4" stroke-opacity="0.7"/>
<polygon points="381.37,318 384.62,316.38 381.25,314.88 378,316.44" fill="#c4f633" stroke="#222" stroke-width="0.4" stroke-opacity="0.7"/>
<polygon points="388,317.9 391.23,316.27 387.85,314.85 384.62,316.38" fill="#c6f632" stroke="#222" stroke-width="0.4" stroke-opacity="0.7"/>
<polygon points="318.24,332.88 321.54,328.52 318.28,327.26 315,331.75" fill="#87f8a7" stroke="#222" stroke-width="0.4" stroke-opacity="0.7"/>
<polygon points="324.82,329.71 328.14,325.81 324.84,324.51 321.54,328.52" fill="#84f785" stroke="#222" stroke-width="0.4" stroke-opacity="0.7"/>
<polygon points="331.44,327.05 334.77,323.58 331.45,322.23 328.14,325.81" fill="#91f778" stroke="#222" stroke-width="0.4" stroke-opacity="0.7"/>
<polygon points="338.09,324.89 341.42,321.8 338.09,320.4 334.77,323.58" fill="#9df66a" stroke="#222" stroke-width="0.4" stroke-opacity="0.7"/>
<polygon points="344.76,323.18 348.08,320.44 344.74,318.98 341.42,321.8" fill="#a6f55c" stroke="#222" stroke-width="0.4" stroke-opacity="0.7"/>
<polygon points="351.44,321.88 354.76,319.44 351.4,317.94 348.08,320.44" fill="#aef550" stroke="#222" stroke-width="0.4" stroke-opacity="0.7"/>
<polygon points="358.12,320.95 361.42,318.77 358.06,317.23 354.76,319.44" fill="#b4f547" stroke="#222" stroke-width="0.4" stroke-opacity="0.7"/>
<polygon points="364.79,320.33 368.09,318.36 364.72,316.78 361.42,318.77" fill="#b8f63f" stroke="#222" stroke-width="0.4" stroke-opacity="0.7"/>
<polygon points="371.46,319.95 374.74,318.13 371.37,316.55 368.09,318.36" fill="#bbf639" stroke="#222" stroke-width="0.4" stroke-opacity="0.7"/>
<polygon points="378.11,319.73 381.37,318 378,316.44 374.74,318.13" fill="#bcf636" stroke="#222" stroke-width="0.4" stroke-opacity="0.7"/>
<polygon points="384.75,319.59 388,317.9 384.62,316.38 381.37,318" fill="#bdf634" stroke="#222" stroke-width="0.4" stroke-opacity="0.7"/>
<polygon points="391.39,319.43 394.62,317.71 391.23,316.27 388,317.9" fill="#c0f635" stroke="#222" stroke-width="0.4" stroke-opacity="0.7"/>
<polygon points="314.94,337.61 318.24,332.88 315,331.75 311.72,336.63" fill="#86f8c9" stroke="#222" stroke-width="0.4" stroke-opacity="0.7"/>
<polygon points="321.5,333.93 324.82,329.71 321.54,328.52 318.24,332.88" fill="#84f7a6" stroke="#222" stroke-width="0.4" stroke-opacity="0.7"/>
<polygon points="328.11,330.83 331.44,327.05 328.14,325.81 324.82,329.71" fill="#81f783" stroke="#222" stroke-width="0.4" stroke-opacity="0.7"/>
<polygon points="334.75,328.25 338.09,324.89 334.77,323.58 331.44,327.05" fill="#8df675" stroke="#222" stroke-width="0.4" stroke-opacity="0.7"/>
<polygon points="341.42,326.17 344.76,323.18 341.42,321.8 338.09,324.89" fill="#98f667" stroke="#222" stroke-width="0.4" stroke-opacity="0.7"/>
<polygon points="348.11,324.54 351.44,321.88 348.08,320.44 344.76,323.18" fill="#a0f55a" stroke="#222" stroke-width="0.4" stroke-opacity="0.7"/>
<polygon points="354.8,323.33 358.12,320.95 354.76,319.44 351.44,321.88" fill="#a7f54d" stroke="#222" stroke-width="0.4" stroke-opacity="0.7"/>
<polygon points="361.49,322.47 364.79,320.33 361.42,318.77 358.12,320.95" fill="#adf545" stroke="#222" stroke-width="0.4" stroke-opacity="0.7"/>
<polygon points="368.17,321.9 371.46,319.95 368.09,318.36 364.79,320.33" fill="#b0f53e" stroke="#222" stroke-width="0.4" stroke-opacity="0.7"/>
<polygon points="374.84,321.55 378.11,319.73 374.74,318.13 371.46,319.95" fill="#b3f539" stroke="#222" stroke-width="0.4" stroke-opacity="0.7"/>
<polygon points="381.5,321.34 384.75,319.59 381.37,318 378.11,319.73" fill="#b4f536" stroke="#222" stroke-width="0.4" stroke-opacity="0.7"/>
<polygon points="388.15,321.18 391.39,319.43 388,317.9 384.75,319.59" fill="#b6f535" stroke="#222" stroke-width="0.4" stroke-opacity="0.7"/>
<polygon points="394.79,320.98 398.01,319.17 394.62,317.71 391.39,319.43" fill="#baf638" stroke="#222" stroke-width="0.4" stroke-opacity="0.7"/>
<polygon points="311.64,342.68 314.94,337.61 311.72,336.63 308.45,341.89" fill="#85f6e6" stroke="#222" stroke-width="0.4" stroke-opacity="0.7"/>
<polygon points="318.17,338.49 321.5,333.93 318.24,332.88 314.94,337.61" fill="#83f8c7" stroke="#222" stroke-width="0.4" stroke-opacity="0.7"/>
<polygon points="324.77,334.9 328.11,330.83 324.82,329.71 321.5,333.93" fill="#81f7a4" stroke="#222" stroke-width="0.4" stroke-opacity="0.7"/>
<polygon points="331.41,331.89 334.75,328.25 331.44,327.05 328.11,330.83" fill="#7df781" stroke="#222" stroke-width="0.4" stroke-opacity="0.7"/>
<polygon points="338.08,329.41 341.42,326.17 338.09,324.89 334.75,328.25" fill="#88f671" stroke="#222" stroke-width="0.4" stroke-opacity="0.7"/>
<polygon points="344.77,327.43 348.11,324.54 344.76,323.18 341.42,326.17" fill="#92f664" stroke="#222" stroke-width="0.4" stroke-opacity="0.7"/>
<polygon points="351.47,325.9 354.8,323.33 351.44,321.88 348.11,324.54" fill="#9af557" stroke="#222" stroke-width="0.4" stroke-opacity="0.7"/>
<polygon points="358.17,324.77 361.49,322.47 358.12,320.95 354.8,323.33" fill="#a0f44b" stroke="#222" stroke-width="0.4" stroke-opacity="0.7"/>
<polygon points="364.86,323.99 368.17,321.9 364.79,320.33 361.49,322.47" fill="#a5f442" stroke="#222" stroke-width="0.4" stroke-opacity="0.7"/>
<polygon points="371.55,323.48 374.84,321.55 371.46,319.95 368.17,321.9" fill="#a8f43c" stroke="#222" stroke-width="0.4" stroke-opacity="0.7"/>
<polygon points="378.23,323.17 381.5,321.34 378.11,319.73 374.84,321.55" fill="#aaf438" stroke="#222" stroke-width="0.4" stroke-opacity="0.7"/>
<polygon points="384.89,322.97 388.15,321.18 384.75,319.59 381.5,321.34" fill="#acf436" stroke="#222" stroke-width="0.4" stroke-opacity="0.7"/>
<polygon points="391.55,322.79 394.79,320.98 391.39,319.43 388.15,321.18" fill="#aff537" stroke="#222" stroke-width="0.4" stroke-opacity="0.7"/>
<polygon points="398.2,322.54 401.42,320.64 398.01,319.17 394.79,320.98" fill="#b4f53a" stroke="#222" stroke-width="0.4" stroke-opacity="0.7"/>
<polygon points="308.32,348.12 311.64,342.68 308.45,341.89 305.17,347.55" fill="#85f0fa" stroke="#222" stroke-width="0.4" stroke-opacity="0.7"/>
<polygon points="314.84,343.37 318.17,338.49 314.94,337.61 311.64,342.68" fill="#82f6e3" stroke="#222" stroke-width="0.4" stroke-opacity="0.7"/>
<polygon points="321.43,339.28 324.77,334.9 321.5,333.93 318.17,338.49" fill="#80f7c4" stroke="#222" stroke-width="0.4" stroke-opacity="0.7"/>
<polygon points="328.06,335.8 331.41,331.89 328.11,330.83 324.77,334.9" fill="#7ef7a0" stroke="#222" stroke-width="0.4" stroke-opacity="0.7"/>
<polygon points="334.72,332.9 338.08,329.41 334.75,328.25 331.41,331.89" fill="#79f67d" stroke="#222" stroke-width="0.4" stroke-opacity="0.7"/>
<polygon points="341.42,330.54 344.77,327.43 341.42,326.17 338.08,329.41" fill="#83f66e" stroke="#222" stroke-width="0.4" stroke-opacity="0.7"/>
<polygon points="348.12,328.67 351.47,325.9 348.11,324.54 344.77,327.43" fill="#8df560" stroke="#222" stroke-width="0.4" stroke-opacity="0.7"/>
<polygon points="354.84,327.24 358.17,324.77 354.8,323.33 351.47,325.9" fill="#94f554" stroke="#222" stroke-width="0.4" stroke-opacity="0.7"/>
<polygon points="361.55,326.21 364.86,323.99 361.49,322.47 358.17,324.77" fill="#9af449" stroke="#222" stroke-width="0.4" stroke-opacity="0.7"/>
<polygon points="368.25,325.51 371.55,323.48 368.17,321.9 364.86,323.99" fill="#9df440" stroke="#222" stroke-width="0.4" stroke-opacity="0.7"/>
<polygon points="374.95,325.07 378.23,323.17 374.84,321.55 371.55,323.48" fill="#a0f439" stroke="#222" stroke-width="0.4" stroke-opacity="0.7"/>
<polygon points="381.63,324.8 384.89,322.97 381.5,321.34 378.23,323.17" fill="#a2f436" stroke="#222" stroke-width="0.4" stroke-opacity="0.7"/>
<polygon points="388.3,324.61 391.55,322.79 388.15,321.18 384.89,322.97" fill="#a4f436" stroke="#222" stroke-width="0.4" stroke-opacity="0.7"/>
<polygon points="394.96,324.41 398.2,322.54 394.79,320.98 391.55,322.79" fill="#a8f438" stroke="#222" stroke-width="0.4" stroke-opacity="0.7"/>
<polygon points="401.62,324.1 404.84,322.12 401.42,320.64 398.2,322.54" fill="#aef53c" stroke="#222" stroke-width="0.4" stroke-opacity="0.7"/>
<polygon points="305,353.92 308.32,348.12 305.17,347.55 301.88,353.59" fill="#83d0fd" stroke="#222" stroke-width="0.4" stroke-opacity="0.7"/>
<polygon points="311.5,348.58 314.84,343.37 311.64,342.68 308.32,348.12" fill="#82f3f9" stroke="#222" stroke-width="0.4" stroke-opacity="0.7"/>
<polygon points="318.07,343.96 321.43,339.28 318.17,338.49 314.84,343.37" fill="#7ff6e0" stroke="#222" stroke-width="0.4" stroke-opacity="0.7"/>
<polygon points="324.69,339.99 328.06,335.8 324.77,334.9 321.43,339.28" fill="#7cf7bf" stroke="#222" stroke-width="0.4" stroke-opacity="0.7"/>
<polygon points="331.36,336.64 334.72,332.9 331.41,331.89 328.06,335.8" fill="#7af79b" stroke="#222" stroke-width="0.4" stroke-opacity="0.7"/>
<polygon points="338.05,333.87 341.42,330.54 338.08,329.41 334.72,332.9" fill="#75f679" stroke="#222" stroke-width="0.4" stroke-opacity="0.7"/>
<polygon points="344.77,331.63 348.12,328.67 344.77,327.43 341.42,330.54" fill="#7ef669" stroke="#222" stroke-width="0.4" stroke-opacity="0.7"/>
<polygon points="351.49,329.89 354.84,327.24 351.47,325.9 348.12,328.67" fill="#88f55c" stroke="#222" stroke-width="0.4" stroke-opacity="0.7"/>
<polygon points="358.22,328.58 361.55,326.21 358.17,324.77 354.84,327.24" fill="#8ef450" stroke="#222" stroke-width="0.4" stroke-opacity="0.7"/>
<polygon points="364.94,327.66 368.25,325.51 364.86,323.99 361.55,326.21" fill="#93f446" stroke="#222" stroke-width="0.4" stroke-opacity="0.7"/>
<polygon points="371.65,327.04 374.95,325.07 371.55,323.48 368.25,325.51" fill="#96f43e" stroke="#222" stroke-width="0.4" stroke-opacity="0.7"/>
<polygon points="378.35,326.66 381.63,324.8 378.23,323.17 374.95,325.07" fill="#98f339" stroke="#222" stroke-width="0.4" stroke-opacity="0.7"/>
<polygon points="385.04,326.43 388.3,324.61 384.89,322.97 381.63,324.8" fill="#9af336" stroke="#222" stroke-width="0.4" stroke-opacity="0.7"/>
<polygon points="391.72,326.25 394.96,324.41 391.55,322.79 388.3,324.61" fill="#9cf336" stroke="#222" stroke-width="0.4" stroke-opacity="0.7"/>
<polygon points="398.39,326.03 401.62,324.1 398.2,322.54 394.96,324.41" fill="#a1f439" stroke="#222" stroke-width="0.4" stroke-opacity="0.7"/>
<polygon points="405.05,325.67 408.27,323.6 404.84,322.12 401.62,324.1" fill="#a9f43e" stroke="#222" stroke-width="0.4" stroke-opacity="0.7"/>
<polygon points="301.66,360.08 305,353.92 301.88,353.59 298.58,360.04" fill="#82adff" stroke="#222" stroke-width="0.4" stroke-opacity="0.7"/>
<polygon points="308.14,354.12 311.5,348.58 308.32,348.12 305,353.92" fill="#80d4fd" stroke="#222" stroke-width="0.4" stroke-opacity="0.7"/>
<polygon points="314.7,348.93 318.07,343.96 314.84,343.37 311.5,348.58" fill="#7ef3f5" stroke="#222" stroke-width="0.4" stroke-opacity="0.7"/>
<polygon points="321.32,344.45 324.69,339.99 321.43,339.28 318.07,343.96" fill="#7af7dc" stroke="#222" stroke-width="0.4" stroke-opacity="0.7"/>
<polygon points="327.98,340.63 331.36,336.64 328.06,335.8 324.69,339.99" fill="#78f7b9" stroke="#222" stroke-width="0.4" stroke-opacity="0.7"/>
<polygon points="334.68,337.43 338.05,333.87 334.72,332.9 331.36,336.64" fill="#75f695" stroke="#222" stroke-width="0.4" stroke-opacity="0.7"/>
<polygon points="341.4,334.8 344.77,331.63 341.42,330.54 338.05,333.87" fill="#70f673" stroke="#222" stroke-width="0.4" stroke-opacity="0.7"/>
<polygon points="348.13,332.7 351.49,329.89 348.12,328.67 344.77,331.63" fill="#79f564" stroke="#222" stroke-width="0.4" stroke-opacity="0.7"/>
<polygon points="354.87,331.1 358.22,328.58 354.84,327.24 351.49,329.89" fill="#82f558" stroke="#222" stroke-width="0.4" stroke-opacity="0.7"/>
<polygon points="361.61,329.92 364.94,327.66 361.55,326.21 358.22,328.58" fill="#88f44c" stroke="#222" stroke-width="0.4" stroke-opacity="0.7"/>
<polygon points="368.34,329.1 371.65,327.04 368.25,325.51 364.94,327.66" fill="#8cf443" stroke="#222" stroke-width="0.4" stroke-opacity="0.7"/>
<polygon points="375.06,328.58 378.35,326.66 374.95,325.07 371.65,327.04" fill="#8ef33c" stroke="#222" stroke-width="0.4" stroke-opacity="0.7"/>
<polygon points="381.77,328.27 385.04,326.43 381.63,324.8 378.35,326.66" fill="#90f338" stroke="#222" stroke-width="0.4" stroke-opacity="0.7"/>
<polygon points="388.47,328.07 391.72,326.25 388.3,324.61 385.04,326.43" fill="#92f337" stroke="#222" stroke-width="0.4" stroke-opacity="0.7"/>
<polygon points="395.15,327.89 398.39,326.03 394.96,324.41 391.72,326.25" fill="#95f337" stroke="#222" stroke-width="0.4" stroke-opacity="0.7"/>
<polygon points="401.83,327.64 405.05,325.67 401.62,324.1 398.39,326.03" fill="#9bf33a" stroke="#222" stroke-width="0.4" stroke-opacity="0.7"/>
<polygon points="408.5,327.22 411.72,325.08 408.27,323.6 405.05,325.67" fill="#a4f440" stroke="#222" stroke-width="0.4" stroke-opacity="0.7"/>
<polygon points="298.29,366.6 301.66,360.08 298.58,360.04 295.26,366.88" fill="#838cff" stroke="#222" stroke-width="0.4" stroke-opacity="0.7"/>
<polygon points="304.76,359.99 308.14,354.12 305,353.92 301.66,360.08" fill="#7eb2ff" stroke="#222" stroke-width="0.4" stroke-opacity="0.7"/>
<polygon points="311.31,354.21 314.7,348.93 311.5,348.58 308.14,354.12" fill="#7cdafc" stroke="#222" stroke-width="0.4" stroke-opacity="0.7"/>
<polygon points="317.93,349.19 321.32,344.45 318.07,343.96 314.7,348.93" fill="#7af3f1" stroke="#222" stroke-width="0.4" stroke-opacity="0.7"/>
<polygon points="324.59,344.87 327.98,340.63 324.69,339.99 321.32,344.45" fill="#76f7d7" stroke="#222" stroke-width="0.4" stroke-opacity="0.7"/>
<polygon points="331.29,341.21 334.68,337.43 331.36,336.64 327.98,340.63" fill="#74f7b2" stroke="#222" stroke-width="0.4" stroke-opacity="0.7"/>
<polygon points="338.02,338.16 341.4,334.8 338.05,333.87 334.68,337.43" fill="#70f68e" stroke="#222" stroke-width="0.4" stroke-opacity="0.7"/>
<polygon points="344.76,335.7 348.13,332.7 344.77,331.63 341.4,334.8" fill="#6bf66c" stroke="#222" stroke-width="0.4" stroke-opacity="0.7"/>
<polygon points="351.52,333.76 354.87,331.1 351.49,329.89 348.13,332.7" fill="#74f55f" stroke="#222" stroke-width="0.4" stroke-opacity="0.7"/>
<polygon points="358.27,332.3 361.61,329.92 358.22,328.58 354.87,331.1" fill="#7cf453" stroke="#222" stroke-width="0.4" stroke-opacity="0.7"/>
<polygon points="365.02,331.25 368.34,329.1 364.94,327.66 361.61,329.92" fill="#81f448" stroke="#222" stroke-width="0.4" stroke-opacity="0.7"/>
<polygon points="371.76,330.55 375.06,328.58 371.65,327.04 368.34,329.1" fill="#85f340" stroke="#222" stroke-width="0.4" stroke-opacity="0.7"/>
<polygon points="378.49,330.12 381.77,328.27 378.35,326.66 375.06,328.58" fill="#87f33b" stroke="#222" stroke-width="0.4" stroke-opacity="0.7"/>
<polygon points="385.2,329.87 388.47,328.07 385.04,326.43 381.77,328.27" fill="#88f338" stroke="#222" stroke-width="0.4" stroke-opacity="0.7"/>
<polygon points="391.9,329.71 395.15,327.89 391.72,326.25 388.47,328.07" fill="#8bf337" stroke="#222" stroke-width="0.4" stroke-opacity="0.7"/>
<polygon points="398.59,329.53 401.83,327.64 398.39,326.03 395.15,327.89" fill="#8ff339" stroke="#222" stroke-width="0.4" stroke-opacity="0.7"/>
<polygon points="405.28,329.25 408.5,327.22 405.05,325.67 401.83,327.64" fill="#95f33d" stroke="#222" stroke-width="0.4" stroke-opacity="0.7"/>
<polygon points="411.96,328.76 415.18,326.55 411.72,325.08 408.5,327.22" fill="#a0f443" stroke="#222" stroke-width="0.4" stroke-opacity="0.7"/>
<polygon points="294.9,373.49 298.29,366.6 295.26,366.88 291.92,374.13" fill="#8a87ff" stroke="#222" stroke-width="0.4" stroke-opacity="0.7"/>
<polygon points="301.36,366.19 304.76,359.99 301.66,360.08 298.29,366.6" fill="#7d8fff" stroke="#222" stroke-width="0.4" stroke-opacity="0.7"/>
<polygon points="307.91,359.79 311.31,354.21 308.14,354.12 304.76,359.99" fill="#79b9ff" stroke="#222" stroke-width="0.4" stroke-opacity="0.7"/>
<polygon points="314.52,354.2 317.93,349.19 314.7,348.93 311.31,354.21" fill="#78e1fb" stroke="#222" stroke-width="0.4" stroke-opacity="0.7"/>
<polygon points="321.18,349.36 324.59,344.87 321.32,344.45 317.93,349.19" fill="#75f4eb" stroke="#222" stroke-width="0.4" stroke-opacity="0.7"/>
<polygon points="327.89,345.22 331.29,341.21 327.98,340.63 324.59,344.87" fill="#71f7cf" stroke="#222" stroke-width="0.4" stroke-opacity="0.7"/>
<polygon points="334.62,341.73 338.02,338.16 334.68,337.43 331.29,341.21" fill="#6ff6a9" stroke="#222" stroke-width="0.4" stroke-opacity="0.7"/>
<polygon points="341.38,338.86 344.76,335.7 341.4,334.8 338.02,338.16" fill="#6bf686" stroke="#222" stroke-width="0.4" stroke-opacity="0.7"/>
<polygon points="348.14,336.57 351.52,333.76 348.13,332.7 344.76,335.7" fill="#66f565" stroke="#222" stroke-width="0.4" stroke-opacity="0.7"/>
<polygon points="354.91,334.8 358.27,332.3 354.87,331.1 351.52,333.76" fill="#6ff559" stroke="#222" stroke-width="0.4" stroke-opacity="0.7"/>
<polygon points="361.68,333.49 365.02,331.25 361.61,329.92 358.27,332.3" fill="#76f44e" stroke="#222" stroke-width="0.4" stroke-opacity="0.7"/>
<polygon points="368.44,332.59 371.76,330.55 368.34,329.1 365.02,331.25" fill="#7af444" stroke="#222" stroke-width="0.4" stroke-opacity="0.7"/>
<polygon points="375.19,332.01 378.49,330.12 375.06,328.58 371.76,330.55" fill="#7df33d" stroke="#222" stroke-width="0.4" stroke-opacity="0.7"/>
<polygon points="381.92,331.67 385.2,329.87 381.77,328.27 378.49,330.12" fill="#7ff339" stroke="#222" stroke-width="0.4" stroke-opacity="0.7"/>
<polygon points="388.64,331.48 391.9,329.71 388.47,328.07 385.2,329.87" fill="#81f337" stroke="#222" stroke-width="0.4" stroke-opacity="0.7"/>
<polygon points="395.35,331.35 398.59,329.53 395.15,327.89 391.9,329.71" fill="#83f338" stroke="#222" stroke-width="0.4" stroke-opacity="0.7"/>
<polygon points="402.05,331.16 405.28,329.25 401.83,327.64 398.59,329.53" fill="#88f33b" stroke="#222" stroke-width="0.4" stroke-opacity="0.7"/>
<polygon points="408.75,330.84 411.96,328.76 408.5,327.22 405.28,329.25" fill="#90f43f" stroke="#222" stroke-width="0.4" stroke-opacity="0.7"/>
<polygon points="415.44,330.29 418.65,328 415.18,326.55 411.96,328.76" fill="#9cf446" stroke="#222" stroke-width="0.4" stroke-opacity="0.7"/>
<polygon points="291.48,380.75 294.9,373.49 291.92,374.13 288.54,381.79" fill="#9382ff" stroke="#222" stroke-width="0.4" stroke-opacity="0.7"/>
<polygon points="297.93,372.73 301.36,366.19 298.29,366.6 294.9,373.49" fill="#8384ff" stroke="#222" stroke-width="0.4" stroke-opacity="0.7"/>
<polygon points="304.47,365.67 307.91,359.79 304.76,359.99 301.36,366.19" fill="#7897ff" stroke="#222" stroke-width="0.4" stroke-opacity="0.7"/>
<polygon points="311.08,359.49 314.52,354.2 311.31,354.21 307.91,359.79" fill="#75c1fe" stroke="#222" stroke-width="0.4" stroke-opacity="0.7"/>
<polygon points="317.75,354.1 321.18,349.36 317.93,349.19 314.52,354.2" fill="#73e9fa" stroke="#222" stroke-width="0.4" stroke-opacity="0.7"/>
<polygon points="324.46,349.45 327.89,345.22 324.59,344.87 321.18,349.36" fill="#6ff4e4" stroke="#222" stroke-width="0.4" stroke-opacity="0.7"/>
<polygon points="331.21,345.5 334.62,341.73 331.29,341.21 327.89,345.22" fill="#6cf6c5" stroke="#222" stroke-width="0.4" stroke-opacity="0.7"/>
<polygon points="337.97,342.21 341.38,338.86 338.02,338.16 334.62,341.73" fill="#69f6a0" stroke="#222" stroke-width="0.4" stroke-opacity="0.7"/>
<polygon points="344.75,339.53 348.14,336.57 344.76,335.7 341.38,338.86" fill="#65f57c" stroke="#222" stroke-width="0.4" stroke-opacity="0.7"/>
<polygon points="351.54,337.43 354.91,334.8 351.52,333.76 348.14,336.57" fill="#61f55e" stroke="#222" stroke-width="0.4" stroke-opacity="0.7"/>
<polygon points="358.32,335.83 361.68,333.49 358.27,332.3 354.91,334.8" fill="#6af453" stroke="#222" stroke-width="0.4" stroke-opacity="0.7"/>
<polygon points="365.1,334.69 368.44,332.59 365.02,331.25 361.68,333.49" fill="#70f448" stroke="#222" stroke-width="0.4" stroke-opacity="0.7"/>
<polygon points="371.87,333.93 375.19,332.01 371.76,330.55 368.44,332.59" fill="#74f340" stroke="#222" stroke-width="0.4" stroke-opacity="0.7"/>
<polygon points="378.63,333.47 381.92,331.67 378.49,330.12 375.19,332.01" fill="#76f33b" stroke="#222" stroke-width="0.4" stroke-opacity="0.7"/>
<polygon points="385.37,333.22 388.64,331.48 385.2,329.87 381.92,331.67" fill="#77f338" stroke="#222" stroke-width="0.4" stroke-opacity="0.7"/>
<polygon points="392.1,333.09 395.35,331.35 391.9,329.71 388.64,331.48" fill="#79f337" stroke="#222" stroke-width="0.4" stroke-opacity="0.7"/>
<polygon points="398.82,332.98 402.05,331.16 398.59,329.53 395.35,331.35" fill="#7cf339" stroke="#222" stroke-width="0.4" stroke-opacity="0.7"/>
<polygon points="405.53,332.78 408.75,330.84 405.28,329.25 402.05,331.16" fill="#82f33c" stroke="#222" stroke-width="0.4" stroke-opacity="0.7"/>
<polygon points="412.23,332.41 415.44,330.29 411.96,328.76 408.75,330.84" fill="#8bf442" stroke="#222" stroke-width="0.4" stroke-opacity="0.7"/>
<polygon points="418.94,331.79 422.14,329.43 418.65,328 415.44,330.29" fill="#98f449" stroke="#222" stroke-width="0.4" stroke-opacity="0.7"/>
<polygon points="294.46,379.6 297.93,372.73 294.9,373.49 291.48,380.75" fill="#8b7fff" stroke="#222" stroke-width="0.4" stroke-opacity="0.7"/>
<polygon points="301.01,371.86 304.47,365.67 301.36,366.19 297.93,372.73" fill="#7b81ff" stroke="#222" stroke-width="0.4" stroke-opacity="0.7"/>
<polygon points="307.62,365.05 311.08,359.49 307.91,359.79 304.47,365.67" fill="#739fff" stroke="#222" stroke-width="0.4" stroke-opacity="0.7"/>
<polygon points="314.3,359.09 317.75,354.1 314.52,354.2 311.08,359.49" fill="#70cafd" stroke="#222" stroke-width="0.4" stroke-opacity="0.7"/>
<polygon points="321.02,353.92 324.46,349.45 321.18,349.36 317.75,354.1" fill="#6df1f8" stroke="#222" stroke-width="0.4" stroke-opacity="0.7"/>
<polygon points="327.77,349.48 331.21,345.5 327.89,345.22 324.46,349.45" fill="#69f5dc" stroke="#222" stroke-width="0.4" stroke-opacity="0.7"/>
<polygon points="334.55,345.74 337.97,342.21 334.62,341.73 331.21,345.5" fill="#66f6ba" stroke="#222" stroke-width="0.4" stroke-opacity="0.7"/>
<polygon points="341.34,342.66 344.75,339.53 341.38,338.86 337.97,342.21" fill="#63f594" stroke="#222" stroke-width="0.4" stroke-opacity="0.7"/>
<polygon points="348.15,340.18 351.54,337.43 348.14,336.57 344.75,339.53" fill="#5ef572" stroke="#222" stroke-width="0.4" stroke-opacity="0.7"/>
<polygon points="354.95,338.27 358.32,335.83 354.91,334.8 351.54,337.43" fill="#5df457" stroke="#222" stroke-width="0.4" stroke-opacity="0.7"/>
<polygon points="361.75,336.86 365.1,334.69 361.68,333.49 358.32,335.83" fill="#64f44c" stroke="#222" stroke-width="0.4" stroke-opacity="0.7"/>
<polygon points="368.54,335.89 371.87,333.93 368.44,332.59 365.1,334.69" fill="#6af343" stroke="#222" stroke-width="0.4" stroke-opacity="0.7"/>
<polygon points="375.32,335.28 378.63,333.47 375.19,332.01 371.87,333.93" fill="#6df33c" stroke="#222" stroke-width="0.4" stroke-opacity="0.7"/>
<polygon points="382.09,334.94 385.37,333.22 381.92,331.67 378.63,333.47" fill="#6ef338" stroke="#222" stroke-width="0.4" stroke-opacity="0.7"/>
<polygon points="388.84,334.78 392.1,333.09 388.64,331.48 385.37,333.22" fill="#70f336" stroke="#222" stroke-width="0.4" stroke-opacity="0.7"/>
<polygon points="395.57,334.7 398.82,332.98 395.35,331.35 392.1,333.09" fill="#72f337" stroke="#222" stroke-width="0.4" stroke-opacity="0.7"/>
<polygon points="402.3,334.6 405.53,332.78 402.05,331.16 398.82,332.98" fill="#76f339" stroke="#222" stroke-width="0.4" stroke-opacity="0.7"/>
<polygon points="409.02,334.39 412.23,332.41 408.75,330.84 405.53,332.78" fill="#7df33e" stroke="#222" stroke-width="0.4" stroke-opacity="0.7"/>
<polygon points="415.73,333.97 418.94,331.79 415.44,330.29 412.23,332.41" fill="#87f444" stroke="#222" stroke-width="0.4" stroke-opacity="0.7"/>
<polygon points="297.5,378.35 301.01,371.86 297.93,372.73 294.46,379.6" fill="#827bff" stroke="#222" stroke-width="0.4" stroke-opacity="0.7"/>
<polygon points="304.13,370.89 307.62,365.05 304.47,365.67 301.01,371.86" fill="#717cff" stroke="#222" stroke-width="0.4" stroke-opacity="0.7"/>
<polygon points="310.81,364.34 314.3,359.09 311.08,359.49 307.62,365.05" fill="#6ca9ff" stroke="#222" stroke-width="0.4" stroke-opacity="0.7"/>
<polygon points="317.54,358.61 321.02,353.92 317.75,354.1 314.3,359.09" fill="#6ad5fc" stroke="#222" stroke-width="0.4" stroke-opacity="0.7"/>
<polygon points="324.31,353.67 327.77,349.48 324.46,349.45 321.02,353.92" fill="#67f2ef" stroke="#222" stroke-width="0.4" stroke-opacity="0.7"/>
<polygon points="331.1,349.46 334.55,345.74 331.21,345.5 327.77,349.48" fill="#62f5d4" stroke="#222" stroke-width="0.4" stroke-opacity="0.7"/>
<polygon points="337.92,345.94 341.34,342.66 337.97,342.21 334.55,345.74" fill="#60f5ad" stroke="#222" stroke-width="0.4" stroke-opacity="0.7"/>
<polygon points="344.74,343.08 348.15,340.18 344.75,339.53 341.34,342.66" fill="#5df588" stroke="#222" stroke-width="0.4" stroke-opacity="0.7"/>
<polygon points="351.56,340.82 354.95,338.27 351.54,337.43 348.15,340.18" fill="#58f466" stroke="#222" stroke-width="0.4" stroke-opacity="0.7"/>
<polygon points="358.38,339.12 361.75,336.86 358.32,335.83 354.95,338.27" fill="#58f450" stroke="#222" stroke-width="0.4" stroke-opacity="0.7"/>
<polygon points="365.19,337.9 368.54,335.89 365.1,334.69 361.75,336.86" fill="#5ff346" stroke="#222" stroke-width="0.4" stroke-opacity="0.7"/>
<polygon points="372,337.1 375.32,335.28 371.87,333.93 368.54,335.89" fill="#64f33e" stroke="#222" stroke-width="0.4" stroke-opacity="0.7"/>
<polygon points="378.78,336.64 382.09,334.94 378.63,333.47 375.32,335.28" fill="#66f339" stroke="#222" stroke-width="0.4" stroke-opacity="0.7"/>
<polygon points="385.56,336.42 388.84,334.78 385.37,333.22 382.09,334.94" fill="#67f336" stroke="#222" stroke-width="0.4" stroke-opacity="0.7"/>
<polygon points="392.32,336.34 395.57,334.7 392.1,333.09 388.84,334.78" fill="#68f335" stroke="#222" stroke-width="0.4" stroke-opacity="0.7"/>
<polygon points="399.06,336.31 402.3,334.6 398.82,332.98 395.57,334.7" fill="#6af337" stroke="#222" stroke-width="0.4" stroke-opacity="0.7"/>
<polygon points="405.8,336.22 409.02,334.39 405.53,332.78 402.3,334.6" fill="#6ff33a" stroke="#222" stroke-width="0.4" stroke-opacity="0.7"/>
<polygon points="412.53,335.97 415.73,333.97 412.23,332.41 409.02,334.39" fill="#77f340" stroke="#222" stroke-width="0.4" stroke-opacity="0.7"/>
<polygon points="300.59,377.01 304.13,370.89 301.01,371.86 297.5,378.35" fill="#7877ff" stroke="#222" stroke-width="0.4" stroke-opacity="0.7"/>
<polygon points="307.29,369.83 310.81,364.34 307.62,365.05 304.13,370.89" fill="#6a87ff" stroke="#222" stroke-width="0.4" stroke-opacity="0.7"/>
<polygon points="314.04,363.54 317.54,358.61 314.3,359.09 310.81,364.34" fill="#65b5fe" stroke="#222" stroke-width="0.4" stroke-opacity="0.7"/>
<polygon points="320.83,358.06 324.31,353.67 321.02,353.92 317.54,358.61" fill="#63e1fa" stroke="#222" stroke-width="0.4" stroke-opacity="0.7"/>
<polygon points="327.64,353.36 331.1,349.46 327.77,349.48 324.31,353.67" fill="#60f2e5" stroke="#222" stroke-width="0.4" stroke-opacity="0.7"/>
<polygon points="334.47,349.39 337.92,345.94 334.55,345.74 331.1,349.46" fill="#5cf5c7" stroke="#222" stroke-width="0.4" stroke-opacity="0.7"/>
<polygon points="341.31,346.11 344.74,343.08 341.34,342.66 337.92,345.94" fill="#5af59f" stroke="#222" stroke-width="0.4" stroke-opacity="0.7"/>
<polygon points="348.15,343.48 351.56,340.82 348.15,340.18 344.74,343.08" fill="#56f47a" stroke="#222" stroke-width="0.4" stroke-opacity="0.7"/>
<polygon points="354.99,341.45 358.38,339.12 354.95,338.27 351.56,340.82" fill="#51f45a" stroke="#222" stroke-width="0.4" stroke-opacity="0.7"/>
<polygon points="361.83,339.97 365.19,337.9 361.75,336.86 358.38,339.12" fill="#54f349" stroke="#222" stroke-width="0.4" stroke-opacity="0.7"/>
<polygon points="368.65,338.95 372,337.1 368.54,335.89 365.19,337.9" fill="#5af340" stroke="#222" stroke-width="0.4" stroke-opacity="0.7"/>
<polygon points="375.47,338.33 378.78,336.64 375.32,335.28 372,337.1" fill="#5ef33a" stroke="#222" stroke-width="0.4" stroke-opacity="0.7"/>
<polygon points="382.26,338.01 385.56,336.42 382.09,334.94 378.78,336.64" fill="#5ff336" stroke="#222" stroke-width="0.4" stroke-opacity="0.7"/>
<polygon points="389.04,337.9 392.32,336.34 388.84,334.78 385.56,336.42" fill="#60f234" stroke="#222" stroke-width="0.4" stroke-opacity="0.7"/>
<polygon points="395.81,337.9 399.06,336.31 395.57,334.7 392.32,336.34" fill="#61f234" stroke="#222" stroke-width="0.4" stroke-opacity="0.7"/>
<polygon points="402.57,337.91 405.8,336.22 402.3,334.6 399.06,336.31" fill="#64f337" stroke="#222" stroke-width="0.4" stroke-opacity="0.7"/>
<polygon points="409.31,337.82 412.53,335.97 409.02,334.39 405.8,336.22" fill="#69f33b" stroke="#222" stroke-width="0.4" stroke-opacity="0.7"/>
<polygon points="303.74,375.59 307.29,369.83 304.13,370.89 300.59,377.01" fill="#6d73ff" stroke="#222" stroke-width="0.4" stroke-opacity="0.7"/>
<polygon points="310.5,368.7 314.04,363.54 310.81,364.34 307.29,369.83" fill="#6394ff" stroke="#222" stroke-width="0.4" stroke-opacity="0.7"/>
<polygon points="317.31,362.67 320.83,358.06 317.54,358.61 314.04,363.54" fill="#5fc3fd" stroke="#222" stroke-width="0.4" stroke-opacity="0.7"/>
<polygon points="324.14,357.45 327.64,353.36 324.31,353.67 320.83,358.06" fill="#5deff9" stroke="#222" stroke-width="0.4" stroke-opacity="0.7"/>
<polygon points="330.99,353.01 334.47,349.39 331.1,349.46 327.64,353.36" fill="#58f3da" stroke="#222" stroke-width="0.4" stroke-opacity="0.7"/>
<polygon points="337.85,349.29 341.31,346.11 337.92,345.94 334.47,349.39" fill="#56f5b6" stroke="#222" stroke-width="0.4" stroke-opacity="0.7"/>
<polygon points="344.72,346.27 348.15,343.48 344.74,343.08 341.31,346.11" fill="#53f48f" stroke="#222" stroke-width="0.4" stroke-opacity="0.7"/>
<polygon points="351.58,343.89 354.99,341.45 351.56,340.82 348.15,343.48" fill="#4ff46c" stroke="#222" stroke-width="0.4" stroke-opacity="0.7"/>
<polygon points="358.44,342.09 361.83,339.97 358.38,339.12 354.99,341.45" fill="#4bf44e" stroke="#222" stroke-width="0.4" stroke-opacity="0.7"/>
<polygon points="365.29,340.83 368.65,338.95 365.19,337.9 361.83,339.97" fill="#50f342" stroke="#222" stroke-width="0.4" stroke-opacity="0.7"/>
<polygon points="372.13,340.01 375.47,338.33 372,337.1 368.65,338.95" fill="#55f33a" stroke="#222" stroke-width="0.4" stroke-opacity="0.7"/>
<polygon points="378.95,339.57 382.26,338.01 378.78,336.64 375.47,338.33" fill="#58f235" stroke="#222" stroke-width="0.4" stroke-opacity="0.7"/>
<polygon points="385.76,339.4 389.04,337.9 385.56,336.42 382.26,338.01" fill="#58f233" stroke="#222" stroke-width="0.4" stroke-opacity="0.7"/>
<polygon points="392.55,339.4 395.81,337.9 392.32,336.34 389.04,337.9" fill="#59f232" stroke="#222" stroke-width="0.4" stroke-opacity="0.7"/>
<polygon points="399.32,339.47 402.57,337.91 399.06,336.31 395.81,337.9" fill="#5af234" stroke="#222" stroke-width="0.4" stroke-opacity="0.7"/>
<polygon points="406.09,339.5 409.31,337.82 405.8,336.22 402.57,337.91" fill="#5df337" stroke="#222" stroke-width="0.4" stroke-opacity="0.7"/>
<polygon points="306.93,374.09 310.5,368.7 307.29,369.83 303.74,375.59" fill="#616fff" stroke="#222" stroke-width="0.4" stroke-opacity="0.7"/>
<polygon points="313.76,367.49 317.31,362.67 314.04,363.54 310.5,368.7" fill="#5ba2ff" stroke="#222" stroke-width="0.4" stroke-opacity="0.7"/>
<polygon points="320.62,361.74 324.14,357.45 320.83,358.06 317.31,362.67" fill="#58d3fb" stroke="#222" stroke-width="0.4" stroke-opacity="0.7"/>
<polygon points="327.49,356.8 330.99,353.01 327.64,353.36 324.14,357.45" fill="#55f0ec" stroke="#222" stroke-width="0.4" stroke-opacity="0.7"/>
<polygon points="334.38,352.62 337.85,349.29 334.47,349.39 330.99,353.01" fill="#51f4ce" stroke="#222" stroke-width="0.4" stroke-opacity="0.7"/>
<polygon points="341.27,349.18 344.72,346.27 341.31,346.11 337.85,349.29" fill="#4ff4a4" stroke="#222" stroke-width="0.4" stroke-opacity="0.7"/>
<polygon points="348.15,346.42 351.58,343.89 348.15,343.48 344.72,346.27" fill="#4cf47e" stroke="#222" stroke-width="0.4" stroke-opacity="0.7"/>
<polygon points="355.04,344.29 358.44,342.09 354.99,341.45 351.58,343.89" fill="#49f35c" stroke="#222" stroke-width="0.4" stroke-opacity="0.7"/>
<polygon points="361.91,342.75 365.29,340.83 361.83,339.97 358.44,342.09" fill="#46f343" stroke="#222" stroke-width="0.4" stroke-opacity="0.7"/>
<polygon points="368.77,341.71 372.13,340.01 368.65,338.95 365.29,340.83" fill="#4df33b" stroke="#222" stroke-width="0.4" stroke-opacity="0.7"/>
<polygon points="375.62,341.11 378.95,339.57 375.47,338.33 372.13,340.01" fill="#51f235" stroke="#222" stroke-width="0.4" stroke-opacity="0.7"/>
<polygon points="382.45,340.84 385.76,339.4 382.26,338.01 378.95,339.57" fill="#52f231" stroke="#222" stroke-width="0.4" stroke-opacity="0.7"/>
<polygon points="389.26,340.81 392.55,339.4 389.04,337.9 385.76,339.4" fill="#52f230" stroke="#222" stroke-width="0.4" stroke-opacity="0.7"/>
<polygon points="396.06,340.91 399.32,339.47 395.81,337.9 392.55,339.4" fill="#52f231" stroke="#222" stroke-width="0.4" stroke-opacity="0.7"/>
<polygon points="402.85,341.04 406.09,339.5 402.57,337.91 399.32,339.47" fill="#53f233" stroke="#222" stroke-width="0.4" stroke-opacity="0.7"/>
<polygon points="310.17,372.53 313.76,367.49 310.5,368.7 306.93,374.09" fill="#5980ff" stroke="#222" stroke-width="0.4" stroke-opacity="0.7"/>
<polygon points="317.06,366.23 320.62,361.74 317.31,362.67 313.76,367.49" fill="#53b4fe" stroke="#222" stroke-width="0.4" stroke-opacity="0.7"/>
<polygon points="323.96,360.77 327.49,356.8 324.14,357.45 320.62,361.74" fill="#51e5f9" stroke="#222" stroke-width="0.4" stroke-opacity="0.7"/>
<polygon points="330.87,356.11 334.38,352.62 330.99,353.01 327.49,356.8" fill="#4df2de" stroke="#222" stroke-width="0.4" stroke-opacity="0.7"/>
<polygon points="337.79,352.22 341.27,349.18 337.85,349.29 334.38,352.62" fill="#4af4ba" stroke="#222" stroke-width="0.4" stroke-opacity="0.7"/>
<polygon points="344.7,349.05 348.15,346.42 344.72,346.27 341.27,349.18" fill="#49f490" stroke="#222" stroke-width="0.4" stroke-opacity="0.7"/>
<polygon points="351.61,346.57 355.04,344.29 351.58,343.89 348.15,346.42" fill="#46f36c" stroke="#222" stroke-width="0.4" stroke-opacity="0.7"/>
<polygon points="358.51,344.72 361.91,342.75 358.44,342.09 355.04,344.29" fill="#42f34d" stroke="#222" stroke-width="0.4" stroke-opacity="0.7"/>
<polygon points="365.4,343.43 368.77,341.71 365.29,340.83 361.91,342.75" fill="#45f33c" stroke="#222" stroke-width="0.4" stroke-opacity="0.7"/>
<polygon points="372.27,342.63 375.62,341.11 372.13,340.01 368.77,341.71" fill="#4af235" stroke="#222" stroke-width="0.4" stroke-opacity="0.7"/>
<polygon points="379.12,342.23 382.45,340.84 378.95,339.57 375.62,341.11" fill="#4cf230" stroke="#222" stroke-width="0.4" stroke-opacity="0.7"/>
<polygon points="385.96,342.13 389.26,340.81 385.76,339.4 382.45,340.84" fill="#4cf22e" stroke="#222" stroke-width="0.4" stroke-opacity="0.7"/>
<polygon points="392.79,342.24 396.06,340.91 392.55,339.4 389.26,340.81" fill="#4bf22e" stroke="#222" stroke-width="0.4" stroke-opacity="0.7"/>
<polygon points="399.6,342.44 402.85,341.04 399.32,339.47 396.06,340.91" fill="#4bf230" stroke="#222" stroke-width="0.4" stroke-opacity="0.7"/>
<polygon points="313.46,370.91 317.06,366.23 313.76,367.49 310.17,372.53" fill="#5093ff" stroke="#222" stroke-width="0.4" stroke-opacity="0.7"/>
<polygon points="320.39,364.92 323.96,360.77 320.62,361.74 317.06,366.23" fill="#4dc8fb" stroke="#222" stroke-width="0.4" stroke-opacity="0.7"/>
<polygon points="327.34,359.76 330.87,356.11 327.49,356.8 323.96,360.77" fill="#4aefef" stroke="#222" stroke-width="0.4" stroke-opacity="0.7"/>
<polygon points="334.28,355.4 337.79,352.22 334.38,352.62 330.87,356.11" fill="#45f3cf" stroke="#222" stroke-width="0.4" stroke-opacity="0.7"/>
<polygon points="341.22,351.81 344.7,349.05 341.27,349.18 337.79,352.22" fill="#44f4a4" stroke="#222" stroke-width="0.4" stroke-opacity="0.7"/>
<polygon points="348.16,348.94 351.61,346.57 348.15,346.42 344.7,349.05" fill="#43f37b" stroke="#222" stroke-width="0.4" stroke-opacity="0.7"/>
<polygon points="355.08,346.74 358.51,344.72 355.04,344.29 351.61,346.57" fill="#40f359" stroke="#222" stroke-width="0.4" stroke-opacity="0.7"/>
<polygon points="362,345.17 365.4,343.43 361.91,342.75 358.51,344.72" fill="#3cf33d" stroke="#222" stroke-width="0.4" stroke-opacity="0.7"/>
<polygon points="368.9,344.14 372.27,342.63 368.77,341.71 365.4,343.43" fill="#43f235" stroke="#222" stroke-width="0.4" stroke-opacity="0.7"/>
<polygon points="375.78,343.58 379.12,342.23 375.62,341.11 372.27,342.63" fill="#47f22f" stroke="#222" stroke-width="0.4" stroke-opacity="0.7"/>
<polygon points="382.65,343.39 385.96,342.13 382.45,340.84 379.12,342.23" fill="#48f22c" stroke="#222" stroke-width="0.4" stroke-opacity="0.7"/>
<polygon points="389.5,343.46 392.79,342.24 389.26,340.81 385.96,342.13" fill="#47f12b" stroke="#222" stroke-width="0.4" stroke-opacity="0.7"/>
<polygon points="396.33,343.7 399.6,342.44 396.06,340.91 392.79,342.24" fill="#45f22c" stroke="#222" stroke-width="0.4" stroke-opacity="0.7"/>
<polygon points="316.79,369.25 320.39,364.92 317.06,366.23 313.46,370.91" fill="#48a9fe" stroke="#222" stroke-width="0.4" stroke-opacity="0.7"/>
<polygon points="323.77,363.57 327.34,359.76 323.96,360.77 320.39,364.92" fill="#45dff9" stroke="#222" stroke-width="0.4" stroke-opacity="0.7"/>
<polygon points="330.75,358.72 334.28,355.4 330.87,356.11 327.34,359.76" fill="#42f0de" stroke="#222" stroke-width="0.4" stroke-opacity="0.7"/>
<polygon points="337.72,354.68 341.22,351.81 337.79,352.22 334.28,355.4" fill="#3ff4b9" stroke="#222" stroke-width="0.4" stroke-opacity="0.7"/>
<polygon points="344.68,351.4 348.16,348.94 344.7,349.05 341.22,351.81" fill="#3ff38c" stroke="#222" stroke-width="0.4" stroke-opacity="0.7"/>
<polygon points="351.64,348.84 355.08,346.74 351.61,346.57 348.16,348.94" fill="#3df365" stroke="#222" stroke-width="0.4" stroke-opacity="0.7"/>
<polygon points="358.58,346.95 362,345.17 358.51,344.72 355.08,346.74" fill="#3af346" stroke="#222" stroke-width="0.4" stroke-opacity="0.7"/>
<polygon points="365.5,345.66 368.9,344.14 365.4,343.43 362,345.17" fill="#3df235" stroke="#222" stroke-width="0.4" stroke-opacity="0.7"/>
<polygon points="372.41,344.9 375.78,343.58 372.27,342.63 368.9,344.14" fill="#43f22e" stroke="#222" stroke-width="0.4" stroke-opacity="0.7"/>
<polygon points="379.31,344.58 382.65,343.39 379.12,342.23 375.78,343.58" fill="#44f12a" stroke="#222" stroke-width="0.4" stroke-opacity="0.7"/>
<polygon points="386.18,344.59 389.5,343.46 385.96,342.13 382.65,343.39" fill="#43ef29" stroke="#222" stroke-width="0.4" stroke-opacity="0.7"/>
<polygon points="393.05,344.84 396.33,343.7 392.79,342.24 389.5,343.46" fill="#41ef29" stroke="#222" stroke-width="0.4" stroke-opacity="0.7"/>
<polygon points="320.16,367.56 323.77,363.57 320.39,364.92 316.79,369.25" fill="#41c2fb" stroke="#222" stroke-width="0.4" stroke-opacity="0.7"/>
<polygon points="327.18,362.2 330.75,358.72 327.34,359.76 323.77,363.57" fill="#3eedef" stroke="#222" stroke-width="0.4" stroke-opacity="0.7"/>
<polygon points="334.19,357.68 337.72,354.68 334.28,355.4 330.75,358.72" fill="#3af2cb" stroke="#222" stroke-width="0.4" stroke-opacity="0.7"/>
<polygon points="341.18,353.96 344.68,351.4 341.22,351.81 337.72,354.68" fill="#3af39d" stroke="#222" stroke-width="0.4" stroke-opacity="0.7"/>
<polygon points="348.17,351.01 351.64,348.84 348.16,348.94 344.68,351.4" fill="#39f372" stroke="#222" stroke-width="0.4" stroke-opacity="0.7"/>
<polygon points="355.14,348.77 358.58,346.95 355.08,346.74 351.64,348.84" fill="#37f24f" stroke="#222" stroke-width="0.4" stroke-opacity="0.7"/>
<polygon points="362.09,347.19 365.5,345.66 362,345.17 358.58,346.95" fill="#36f234" stroke="#222" stroke-width="0.4" stroke-opacity="0.7"/>
<polygon points="369.03,346.2 372.41,344.9 368.9,344.14 365.5,345.66" fill="#3ef22d" stroke="#222" stroke-width="0.4" stroke-opacity="0.7"/>
<polygon points="375.95,345.71 379.31,344.58 375.78,343.58 372.41,344.9" fill="#41ef29" stroke="#222" stroke-width="0.4" stroke-opacity="0.7"/>
<polygon points="382.85,345.63 386.18,344.59 382.65,343.39 379.31,344.58" fill="#41ed26" stroke="#222" stroke-width="0.4" stroke-opacity="0.7"/>
<polygon points="389.74,345.85 393.05,344.84 389.5,343.46 386.18,344.59" fill="#3fec26" stroke="#222" stroke-width="0.4" stroke-opacity="0.7"/>
<polygon points="323.57,365.84 327.18,362.2 323.77,363.57 320.16,367.56" fill="#3adef9" stroke="#222" stroke-width="0.4" stroke-opacity="0.7"/>
<polygon points="330.62,360.82 334.19,357.68 330.75,358.72 327.18,362.2" fill="#37f0da" stroke="#222" stroke-width="0.4" stroke-opacity="0.7"/>
<polygon points="337.65,356.64 341.18,353.96 337.72,354.68 334.19,357.68" fill="#34f3b0" stroke="#222" stroke-width="0.4" stroke-opacity="0.7"/>
<polygon points="344.67,353.27 348.17,351.01 344.68,351.4 341.18,353.96" fill="#35f380" stroke="#222" stroke-width="0.4" stroke-opacity="0.7"/>
<polygon points="351.67,350.65 355.14,348.77 351.64,348.84 348.17,351.01" fill="#34f258" stroke="#222" stroke-width="0.4" stroke-opacity="0.7"/>
<polygon points="358.65,348.75 362.09,347.19 358.58,346.95 355.14,348.77" fill="#32f238" stroke="#222" stroke-width="0.4" stroke-opacity="0.7"/>
<polygon points="365.62,347.5 369.03,346.2 365.5,345.66 362.09,347.19" fill="#3af12c" stroke="#222" stroke-width="0.4" stroke-opacity="0.7"/>
<polygon points="372.57,346.81 375.95,345.71 372.41,344.9 369.03,346.2" fill="#3fed27" stroke="#222" stroke-width="0.4" stroke-opacity="0.7"/>
<polygon points="379.5,346.6 382.85,345.63 379.31,344.58 375.95,345.71" fill="#40eb23" stroke="#222" stroke-width="0.4" stroke-opacity="0.7"/>
<polygon points="386.41,346.76 389.74,345.85 386.18,344.59 382.85,345.63" fill="#3ee922" stroke="#222" stroke-width="0.4" stroke-opacity="0.7"/>
<polygon points="327.02,364.11 330.62,360.82 327.18,362.2 323.57,365.84" fill="#33edea" stroke="#222" stroke-width="0.4" stroke-opacity="0.7"/>
<polygon points="334.09,359.45 337.65,356.64 334.19,357.68 330.62,360.82" fill="#2ff2c4" stroke="#222" stroke-width="0.4" stroke-opacity="0.7"/>
<polygon points="341.15,355.62 344.67,353.27 341.18,353.96 337.65,356.64" fill="#31f390" stroke="#222" stroke-width="0.4" stroke-opacity="0.7"/>
<polygon points="348.18,352.6 351.67,350.65 348.17,351.01 344.67,353.27" fill="#31f263" stroke="#222" stroke-width="0.4" stroke-opacity="0.7"/>
<polygon points="355.19,350.35 358.65,348.75 355.14,348.77 351.67,350.65" fill="#30f23e" stroke="#222" stroke-width="0.4" stroke-opacity="0.7"/>
<polygon points="362.19,348.79 365.62,347.5 362.09,347.19 358.65,348.75" fill="#36ef2b" stroke="#222" stroke-width="0.4" stroke-opacity="0.7"/>
<polygon points="369.16,347.87 372.57,346.81 369.03,346.2 365.62,347.5" fill="#3eec25" stroke="#222" stroke-width="0.4" stroke-opacity="0.7"/>
<polygon points="376.12,347.49 379.5,346.6 375.95,345.71 372.57,346.81" fill="#40e921" stroke="#222" stroke-width="0.4" stroke-opacity="0.7"/>
<polygon points="383.06,347.56 386.41,346.76 382.85,345.63 379.5,346.6" fill="#3fe71f" stroke="#222" stroke-width="0.4" stroke-opacity="0.7"/>
<polygon points="330.5,362.38 334.09,359.45 330.62,360.82 327.02,364.11" fill="#2cf0d2" stroke="#222" stroke-width="0.4" stroke-opacity="0.7"/>
<polygon points="337.59,358.08 341.15,355.62 337.65,356.64 334.09,359.45" fill="#2cf2a0" stroke="#222" stroke-width="0.4" stroke-opacity="0.7"/>
<polygon points="344.66,354.63 348.18,352.6 344.67,353.27 341.15,355.62" fill="#2df26e" stroke="#222" stroke-width="0.4" stroke-opacity="0.7"/>
<polygon points="351.71,351.99 355.19,350.35 351.67,350.65 348.18,352.6" fill="#2df244" stroke="#222" stroke-width="0.4" stroke-opacity="0.7"/>
<polygon points="358.74,350.1 362.19,348.79 358.65,348.75 355.19,350.35" fill="#31ee2a" stroke="#222" stroke-width="0.4" stroke-opacity="0.7"/>
<polygon points="365.74,348.91 369.16,347.87 365.62,347.5 362.19,348.79" fill="#3dea23" stroke="#222" stroke-width="0.4" stroke-opacity="0.7"/>
<polygon points="372.72,348.33 376.12,347.49 372.57,346.81 369.16,347.87" fill="#42e71f" stroke="#222" stroke-width="0.4" stroke-opacity="0.7"/>
<polygon points="379.69,348.26 383.06,347.56 379.5,346.6 376.12,347.49" fill="#41e41c" stroke="#222" stroke-width="0.4" stroke-opacity="0.7"/>
<polygon points="334.01,360.67 337.59,358.08 334.09,359.45 330.5,362.38" fill="#27f2b3" stroke="#222" stroke-width="0.4" stroke-opacity="0.7"/>
<polygon points="341.12,356.75 344.66,354.63 341.15,355.62 337.59,358.08" fill="#29f27a" stroke="#222" stroke-width="0.4" stroke-opacity="0.7"/>
<polygon points="348.2,353.69 351.71,351.99 348.18,352.6 344.66,354.63" fill="#2af04b" stroke="#222" stroke-width="0.4" stroke-opacity="0.7"/>
<polygon points="355.26,351.44 358.74,350.1 355.19,350.35 351.71,351.99" fill="#2dec29" stroke="#222" stroke-width="0.4" stroke-opacity="0.7"/>
<polygon points="362.29,349.94 365.74,348.91 362.19,348.79 358.74,350.1" fill="#3ce821" stroke="#222" stroke-width="0.4" stroke-opacity="0.7"/>
<polygon points="369.31,349.11 372.72,348.33 369.16,347.87 365.74,348.91" fill="#43e51c" stroke="#222" stroke-width="0.4" stroke-opacity="0.7"/>
<polygon points="376.3,348.88 379.69,348.26 376.12,347.49 372.72,348.33" fill="#45e219" stroke="#222" stroke-width="0.4" stroke-opacity="0.7"/>
<polygon points="337.55,358.97 341.12,356.75 337.59,358.08 334.01,360.67" fill="#25f288" stroke="#222" stroke-width="0.4" stroke-opacity="0.7"/>
<polygon points="344.67,355.46 348.2,353.69 344.66,354.63 341.12,356.75" fill="#27ef52" stroke="#222" stroke-width="0.4" stroke-opacity="0.7"/>
<polygon points="351.76,352.81 355.26,351.44 351.71,351.99 348.2,353.69" fill="#28eb28" stroke="#222" stroke-width="0.4" stroke-opacity="0.7"/>
<polygon points="358.82,350.96 362.29,349.94 358.74,350.1 355.26,351.44" fill="#3be720" stroke="#222" stroke-width="0.4" stroke-opacity="0.7"/>
<polygon points="365.86,349.86 369.31,349.11 365.74,348.91 362.29,349.94" fill="#46e31a" stroke="#222" stroke-width="0.4" stroke-opacity="0.7"/>
<polygon points="372.88,349.43 376.3,348.88 372.72,348.33 369.31,349.11" fill="#49df16" stroke="#222" stroke-width="0.4" stroke-opacity="0.7"/>
<polygon points="341.1,357.31 344.67,355.46 341.12,356.75 337.55,358.97" fill="#24ed5a" stroke="#222" stroke-width="0.4" stroke-opacity="0.7"/>
<polygon points="348.23,354.22 351.76,352.81 348.2,353.69 344.67,355.46" fill="#26e92b" stroke="#222" stroke-width="0.4" stroke-opacity="0.7"/>
<polygon points="355.33,352 358.82,350.96 355.26,351.44 351.76,352.81" fill="#3ae51e" stroke="#222" stroke-width="0.4" stroke-opacity="0.7"/>
<polygon points="362.4,350.58 365.86,349.86 362.29,349.94 358.82,350.96" fill="#48e118" stroke="#222" stroke-width="0.4" stroke-opacity="0.7"/>
<polygon points="369.45,349.9 372.88,349.43 369.31,349.11 365.86,349.86" fill="#4fdd13" stroke="#222" stroke-width="0.4" stroke-opacity="0.7"/>
<polygon points="344.68,355.7 348.23,354.22 344.67,355.46 341.1,357.31" fill="#23e72e" stroke="#222" stroke-width="0.4" stroke-opacity="0.7"/>
<polygon points="351.81,353.06 355.33,352 351.76,352.81 348.23,354.22" fill="#39e31d" stroke="#222" stroke-width="0.4" stroke-opacity="0.7"/>
<polygon points="358.92,351.29 362.4,350.58 358.82,350.96 355.33,352" fill="#4bdf15" stroke="#222" stroke-width="0.4" stroke-opacity="0.7"/>
<polygon points="365.99,350.32 369.45,349.9 365.86,349.86 362.4,350.58" fill="#55da10" stroke="#222" stroke-width="0.4" stroke-opacity="0.7"/>
<polygon points="348.27,354.15 351.81,353.06 348.23,354.22 344.68,355.7" fill="#187808" stroke="#222" stroke-width="0.4" stroke-opacity="0.7"/>
<polygon points="355.41,351.98 358.92,351.29 355.33,352 351.81,353.06" fill="#4edd13" stroke="#222" stroke-width="0.4" stroke-opacity="0.7"/>
<polygon points="362.51,350.68 365.99,350.32 362.4,350.58 358.92,351.29" fill="#5bd80e" stroke="#222" stroke-width="0.4" stroke-opacity="0.7"/>
<polygon points="351.88,352.69 355.41,351.98 351.81,353.06 348.27,354.15" fill="#297804" stroke="#222" stroke-width="0.4" stroke-opacity="0.7"/>
<polygon points="359.02,351.01 362.51,350.68 358.92,351.29 355.41,351.98" fill="#357802" stroke="#222" stroke-width="0.4" stroke-opacity="0.7"/>
<polygon points="355.5,351.31 359.02,351.01 355.41,351.98 351.88,352.69" fill="#3a7801" stroke="#222" stroke-width="0.4" stroke-opacity="0.7"/>
<path d="M332.8,310.7V360" stroke="#333" stroke-width="0.45"/>
<rect x="323.3" y="306.4" width="9.5" height="4.3" fill="#fff" stroke="#999" stroke-width="0.4"/>
<text x="328.05" y="309.6" font-size="3.0" text-anchor="middle" fill="#666" textLength="7.5" lengthAdjust="spacingAndGlyphs">65.467</text>
<text x="440.2" y="254.8" font-size="6.4" fill="#0c0c0c" stroke="#0c0c0c" stroke-width="0.12" textLength="53.4" lengthAdjust="spacingAndGlyphs">Factor Coding: Actual</text>
<text x="440.2" y="276" font-size="6.4" font-weight="bold" textLength="31.6" lengthAdjust="spacingAndGlyphs">Overlay Plot</text>
<text x="452" y="286.2" font-size="6.4" fill="#0c0c0c" stroke="#0c0c0c" stroke-width="0.12" textLength="29.2" lengthAdjust="spacingAndGlyphs">Particle Size</text>
<text x="452" y="296.6" font-size="6.4" fill="#0c0c0c" stroke="#0c0c0c" stroke-width="0.12" textLength="8" lengthAdjust="spacingAndGlyphs">PDI</text>
<text x="452" y="307.1" font-size="6.4" fill="#0c0c0c" stroke="#0c0c0c" stroke-width="0.12" textLength="34.2" lengthAdjust="spacingAndGlyphs">Zeta Potential</text>
<text x="452" y="317.8" font-size="6.4" fill="#0c0c0c" stroke="#0c0c0c" stroke-width="0.12" textLength="60.3" lengthAdjust="spacingAndGlyphs">% Entrapment Efficiency</text>
<text x="452" y="328.2" font-size="6.4" fill="#0c0c0c" stroke="#0c0c0c" stroke-width="0.12" textLength="68" lengthAdjust="spacingAndGlyphs">% Cumulative Drug Release</text>
<text x="440.2" y="338.6" font-size="6.4" fill="#0c0c0c" stroke="#0c0c0c" stroke-width="0.12" textLength="16.6" lengthAdjust="spacingAndGlyphs">X1 = A</text>
<text x="440.2" y="349.4" font-size="6.4" fill="#0c0c0c" stroke="#0c0c0c" stroke-width="0.12" textLength="16.3" lengthAdjust="spacingAndGlyphs">X2 = B</text>
<text x="440.2" y="371.2" font-size="6.4" font-weight="bold" textLength="34.8" lengthAdjust="spacingAndGlyphs">Actual Factor</text>
<text x="440.2" y="381.4" font-size="6.4" fill="#0c0c0c" stroke="#0c0c0c" stroke-width="0.12" textLength="29.3" lengthAdjust="spacingAndGlyphs">C = 29.8468</text>
<rect x="524.3" y="259.6" width="150.9" height="176" fill="#ffff00"/>
<path d="M524.3,259.6L542.8,259.6C539.5,268 534,286 530.5,293.5C528.5,298 526.5,302.5 524.3,307.6Z" fill="#dcdcdc" stroke="none"/>
<path d="M542.8,259.6C539.5,268 534,286 530.5,293.5C528.5,298 526.5,302.5 524.3,307.6" fill="none" stroke="#555" stroke-width="0.6"/>
<rect x="524.3" y="259.6" width="150.9" height="176" fill="none" stroke="#8a8a50" stroke-width="0.6"/>
<path d="M520.3,435.6H524.3" stroke="#666" stroke-width="0.5"/>
<text x="518.6" y="436.7" font-size="3.1" text-anchor="end" fill="#333" textLength="3.8" lengthAdjust="spacingAndGlyphs">160</text>
<path d="M520.3,406.27H524.3" stroke="#666" stroke-width="0.5"/>
<text x="518.6" y="407.37" font-size="3.1" text-anchor="end" fill="#333" textLength="3.8" lengthAdjust="spacingAndGlyphs">240</text>
<path d="M520.3,376.93H524.3" stroke="#666" stroke-width="0.5"/>
<text x="518.6" y="378.03" font-size="3.1" text-anchor="end" fill="#333" textLength="3.8" lengthAdjust="spacingAndGlyphs">320</text>
<path d="M520.3,347.6H524.3" stroke="#666" stroke-width="0.5"/>
<text x="518.6" y="348.7" font-size="3.1" text-anchor="end" fill="#333" textLength="3.8" lengthAdjust="spacingAndGlyphs">400</text>
<path d="M520.3,318.27H524.3" stroke="#666" stroke-width="0.5"/>
<text x="518.6" y="319.37" font-size="3.1" text-anchor="end" fill="#333" textLength="3.8" lengthAdjust="spacingAndGlyphs">480</text>
<path d="M520.3,288.93H524.3" stroke="#666" stroke-width="0.5"/>
<text x="518.6" y="290.03" font-size="3.1" text-anchor="end" fill="#333" textLength="3.8" lengthAdjust="spacingAndGlyphs">560</text>
<path d="M520.3,259.6H524.3" stroke="#666" stroke-width="0.5"/>
<text x="518.6" y="260.7" font-size="3.1" text-anchor="end" fill="#333" textLength="3.8" lengthAdjust="spacingAndGlyphs">640</text>
<path d="M524.3,435.6V438.2" stroke="#666" stroke-width="0.5"/>
<text x="524.3" y="444.6" font-size="3.1" text-anchor="middle" fill="#333" textLength="4.2" lengthAdjust="spacingAndGlyphs">200</text>
<path d="M549.45,435.6V438.2" stroke="#666" stroke-width="0.5"/>
<text x="549.45" y="444.6" font-size="3.1" text-anchor="middle" fill="#333" textLength="4.2" lengthAdjust="spacingAndGlyphs">300</text>
<path d="M574.6,435.6V438.2" stroke="#666" stroke-width="0.5"/>
<text x="574.6" y="444.6" font-size="3.1" text-anchor="middle" fill="#333" textLength="4.2" lengthAdjust="spacingAndGlyphs">400</text>
<path d="M599.75,435.6V438.2" stroke="#666" stroke-width="0.5"/>
<text x="599.75" y="444.6" font-size="3.1" text-anchor="middle" fill="#333" textLength="4.2" lengthAdjust="spacingAndGlyphs">500</text>
<path d="M624.9,435.6V438.2" stroke="#666" stroke-width="0.5"/>
<text x="624.9" y="444.6" font-size="3.1" text-anchor="middle" fill="#333" textLength="4.2" lengthAdjust="spacingAndGlyphs">600</text>
<path d="M650.05,435.6V438.2" stroke="#666" stroke-width="0.5"/>
<text x="650.05" y="444.6" font-size="3.1" text-anchor="middle" fill="#333" textLength="4.2" lengthAdjust="spacingAndGlyphs">700</text>
<path d="M675.2,435.6V438.2" stroke="#666" stroke-width="0.5"/>
<text x="675.2" y="444.6" font-size="3.1" text-anchor="middle" fill="#333" textLength="4.2" lengthAdjust="spacingAndGlyphs">800</text>
<text x="599.4" y="457.6" font-size="3.6" text-anchor="middle" fill="#333" textLength="32.3" lengthAdjust="spacingAndGlyphs">A: Soy Lecithin (mg)</text>
<text x="499.7" y="347" font-size="3.6" text-anchor="middle" fill="#333" textLength="36" lengthAdjust="spacingAndGlyphs" transform="rotate(-90 499.7 347)">B: Cholesterol (mg)</text>
<text x="599.2" y="257.3" font-size="3.6" text-anchor="middle" fill="#333" textLength="17.5" lengthAdjust="spacingAndGlyphs">Overlay Plot</text>
<rect x="524.1" y="347.5" width="39.1" height="30.9" fill="#fff" stroke="#888" stroke-width="0.5"/>
<text x="525.3" y="351.6" font-size="3.0" fill="#0c0c0c" textLength="27.5" lengthAdjust="spacingAndGlyphs">Particle Size:  152.352</text>
<text x="525.3" y="355.85" font-size="3.0" fill="#0c0c0c" textLength="16" lengthAdjust="spacingAndGlyphs">PDI:  0.216356</text>
<text x="525.3" y="360.1" font-size="3.0" fill="#0c0c0c" textLength="26" lengthAdjust="spacingAndGlyphs">Zeta Potential:  -25.1906</text>
<text x="525.3" y="364.35" font-size="3.0" fill="#0c0c0c" textLength="36.5" lengthAdjust="spacingAndGlyphs">% Entrapment Effici: 93.2408</text>
<text x="525.3" y="368.6" font-size="3.0" fill="#0c0c0c" textLength="36.5" lengthAdjust="spacingAndGlyphs">% Cumulative Drug R: 65.468</text>
<text x="525.3" y="372.85" font-size="3.0" fill="#0c0c0c" textLength="8" lengthAdjust="spacingAndGlyphs">X1  200</text>
<text x="525.3" y="377.1" font-size="3.0" fill="#0c0c0c" textLength="13" lengthAdjust="spacingAndGlyphs">X2  337.398</text>
<text x="202" y="13.1" font-size="15.4" font-weight="bold" textLength="10" lengthAdjust="spacingAndGlyphs">A</text>
<text x="428" y="13.1" font-size="15.4" font-weight="bold" textLength="8.3" lengthAdjust="spacingAndGlyphs">B</text>
<text x="673.9" y="11.5" font-size="15.4" font-weight="bold" textLength="8.2" lengthAdjust="spacingAndGlyphs">C</text>
<text x="202.6" y="271.2" font-size="15.4" font-weight="bold" textLength="9.7" lengthAdjust="spacingAndGlyphs">D</text>
<text x="423.9" y="263.9" font-size="15.4" font-weight="bold" textLength="6.7" lengthAdjust="spacingAndGlyphs">E</text>
<text x="678.4" y="263.7" font-size="15.4" font-weight="bold" textLength="7" lengthAdjust="spacingAndGlyphs">F</text>
</svg>
</body></html>
